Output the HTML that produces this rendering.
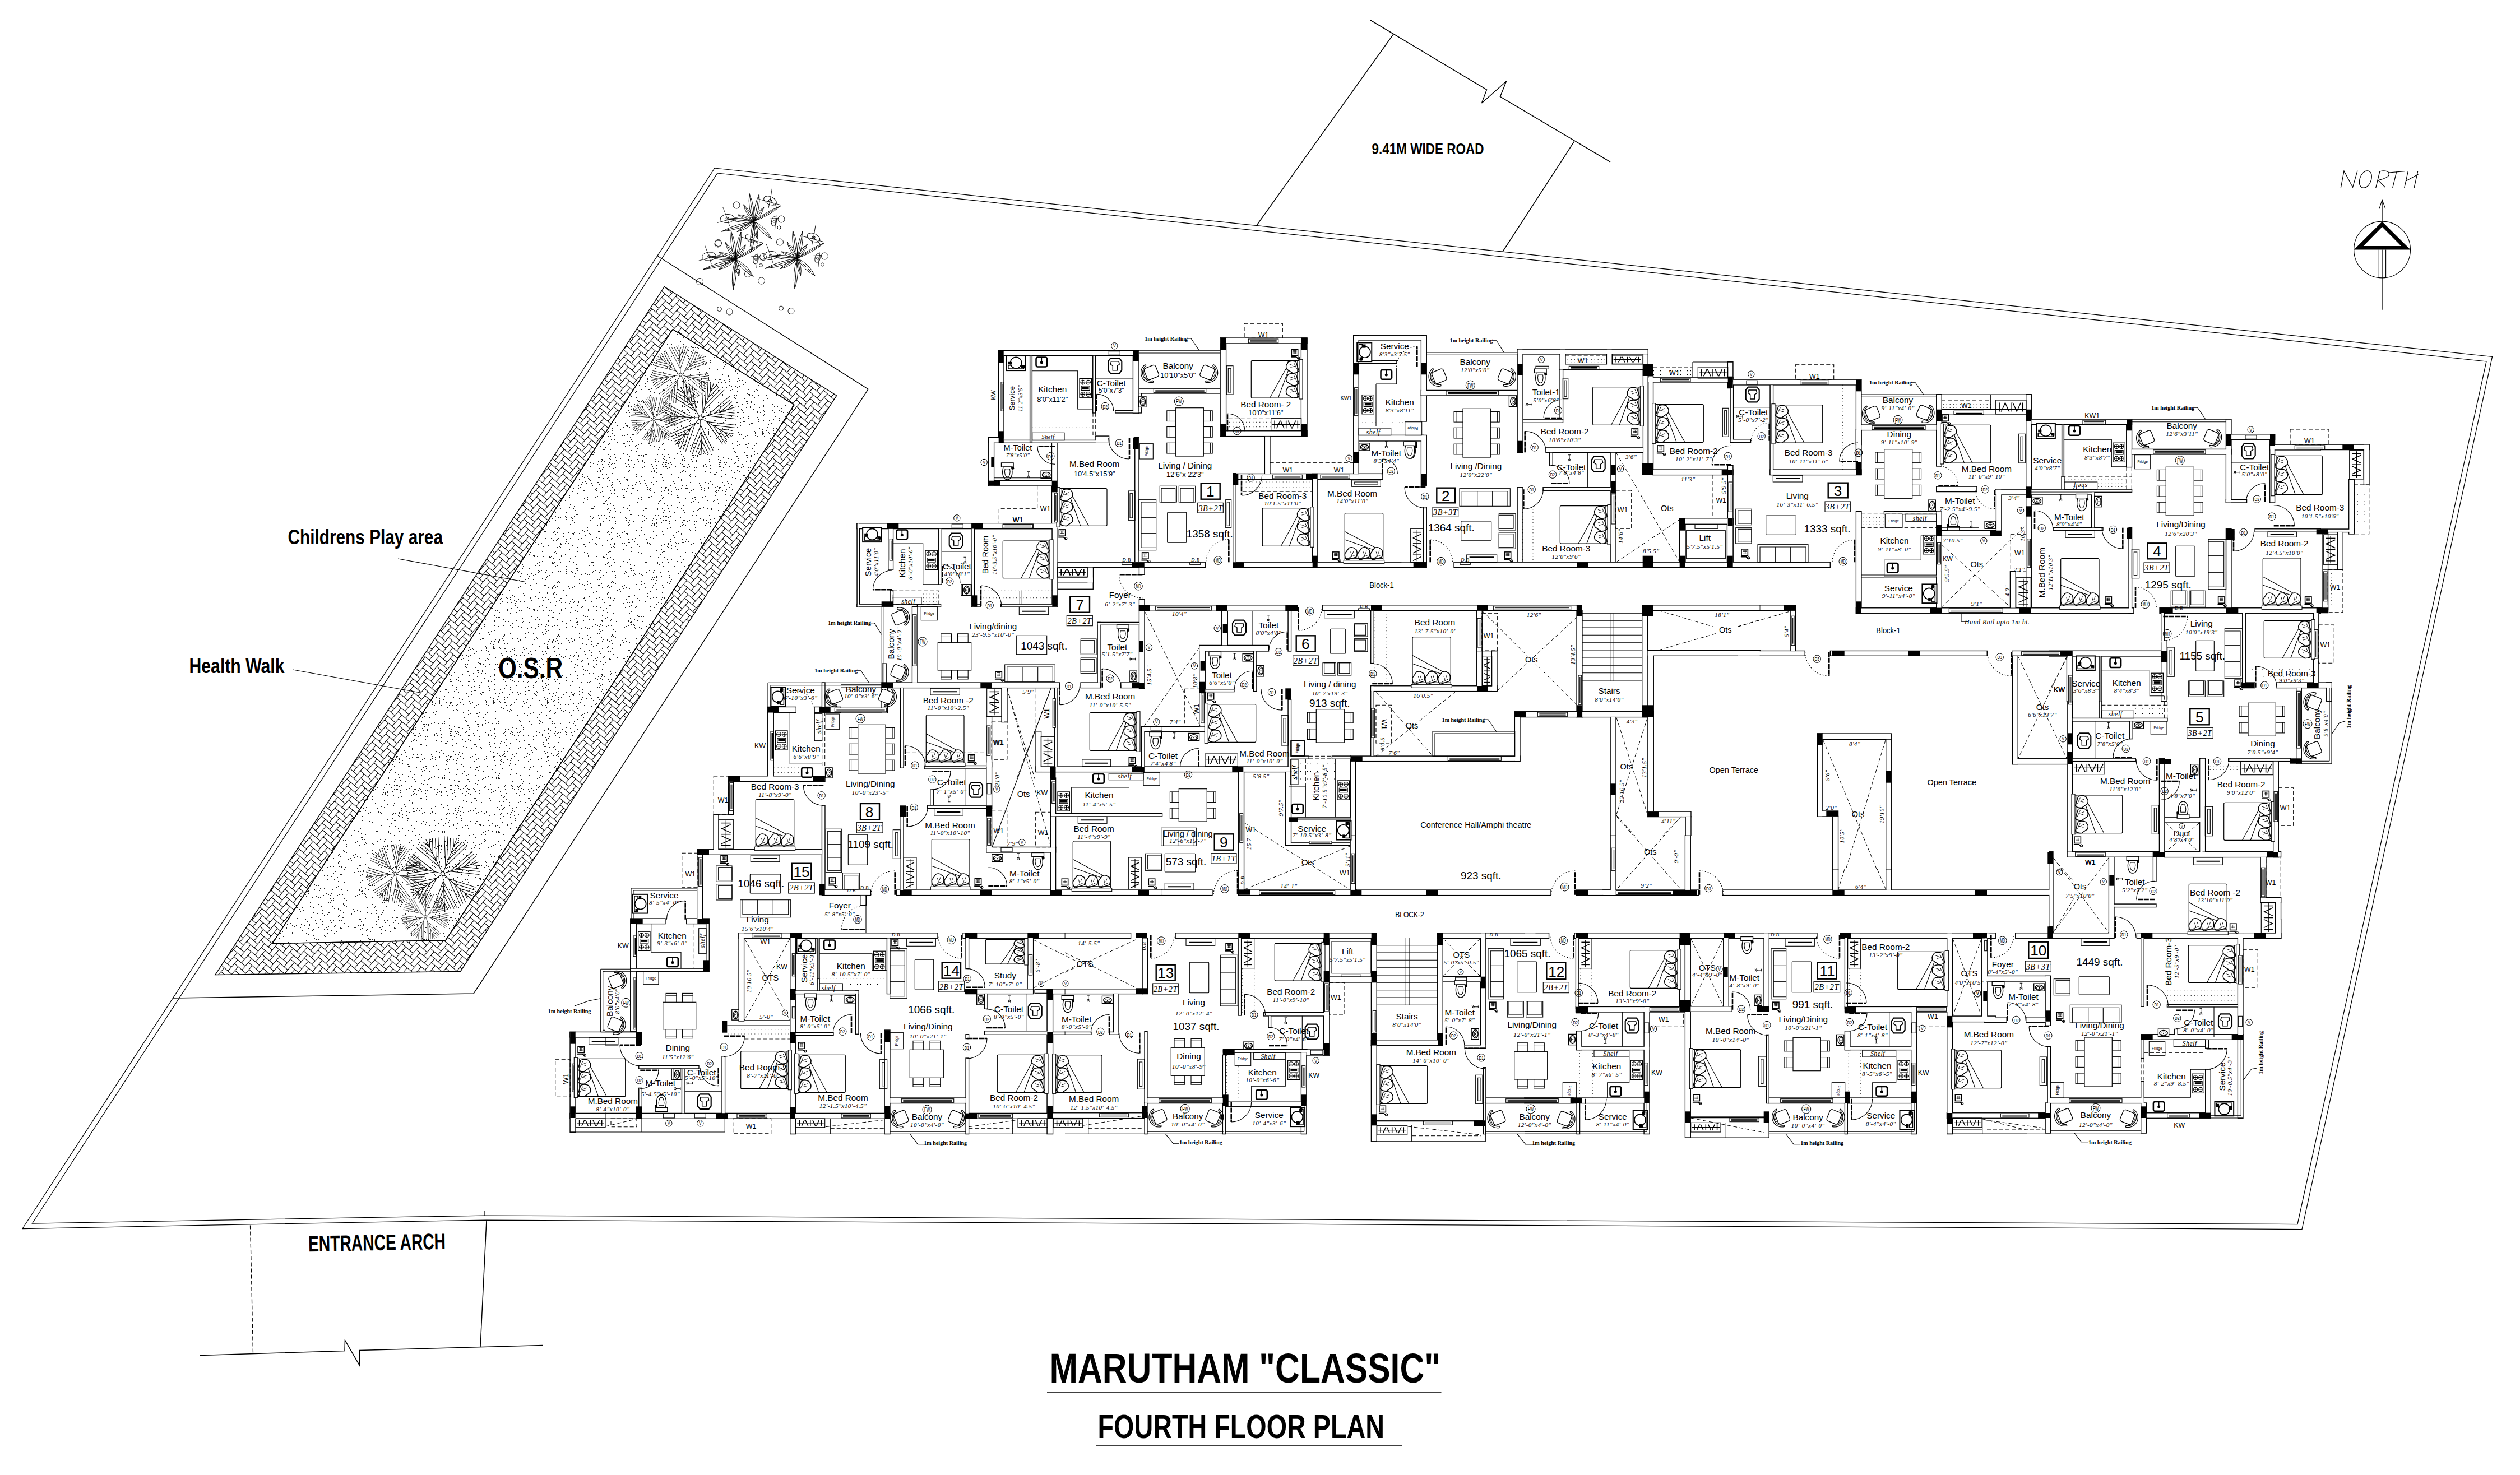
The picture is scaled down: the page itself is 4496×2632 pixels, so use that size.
<!DOCTYPE html><html><head><meta charset="utf-8"><title>Marutham Classic - Fourth Floor Plan</title><style>html,body{margin:0;padding:0;background:#fff}svg{display:block}text{font-family:"Liberation Sans",sans-serif;fill:#000}.i{font-family:"Liberation Serif",serif;font-style:italic}.b{font-weight:bold}.bi{font-family:"Liberation Serif",serif;font-weight:bold}</style></head><body>
<svg xmlns="http://www.w3.org/2000/svg" width="4496" height="2632" viewBox="0 0 4496 2632">
<defs>
<symbol id="bch" overflow="visible"><g transform="rotate(-22)"><rect x="-9" y="-10" width="20" height="20" rx="3.5" fill="#fff" stroke="#000" stroke-width="1.2"/></g><path d="M3.5,13.0 A13.5,13.5 0 0 1 -7.7,-11.1 M4.1,15.5 A16.0,16.0 0 0 1 -9.2,-13.1 M3.5,13.0L4.1,15.5 M-7.7,-11.1L-9.2,-13.1" fill="none" stroke="#000" stroke-width="1.1"/><path d="M0.0,11.5 A11.5,11.5 0 0 1 -8.8,-7.4" fill="none" stroke="#000" stroke-width="0.8"/></symbol>
<symbol id="wc" overflow="visible"><rect x="-9" y="-14" width="18" height="6" fill="#fff" stroke="#000" stroke-width="1.1"/><path d="M-6,-8 C-9,2 -6,11 0,11 C6,11 9,2 6,-8 Z" fill="#fff" stroke="#000" stroke-width="1.1"/><path d="M-3.5,-5 C-5,1 -3,7 0,7 C3,7 5,1 3.5,-5 Z" fill="none" stroke="#000" stroke-width="0.9"/><circle cx="8" cy="-6" r="2" fill="#000"/></symbol>
<symbol id="iwc" overflow="visible"><path d="M-6,-10 H6 L9,-6 V6 L6,10 H-6 L-9,6 V-6 Z" fill="#fff" stroke="#000" stroke-width="1.6"/><path d="M-5,-6 H5 L6,-2 L3,0 V6 H-3 V0 L-6,-2 Z" fill="none" stroke="#000" stroke-width="1.1"/></symbol>
<symbol id="sink" overflow="visible"><rect x="-7" y="-6" width="14" height="12" rx="2" fill="#fff" stroke="#000" stroke-width="1.8"/><circle cx="0" cy="0.5" r="1.8" fill="#000"/><path d="M0,-6 V0" stroke="#000" stroke-width="1.2"/></symbol>
<symbol id="basin" overflow="visible"><rect x="-5.5" y="-8" width="11" height="16" fill="#fff" stroke="#000" stroke-width="1.1"/><ellipse cx="0.5" cy="0" rx="4" ry="6" fill="#fff" stroke="#000" stroke-width="1.3"/><ellipse cx="1" cy="0" rx="2.2" ry="4" fill="none" stroke="#000" stroke-width="0.8"/><circle cx="1" cy="0" r="0.9" fill="#000"/></symbol>
<symbol id="stove" overflow="visible"><rect x="-10" y="-16" width="20" height="32" fill="#fff" stroke="#000" stroke-width="1.2"/><rect x="-7" y="-3.5" width="14" height="7" fill="#fff" stroke="#000" stroke-width="1"/><rect x="-5.5" y="-2" width="11" height="3.5" fill="#000"/><g fill="none" stroke="#000" stroke-width="1"><circle cx="-4.5" cy="-10" r="3.6"/><circle cx="4.5" cy="-10" r="3.6"/><circle cx="-4.5" cy="10" r="3.6"/><circle cx="4.5" cy="10" r="3.6"/><path d="M-8.5,-10 h8 M0.5,-10 h8 M-4.5,-14 v8 M4.5,-14 v8 M-8.5,10 h8 M0.5,10 h8 M-4.5,6 v8 M4.5,6 v8"/></g></symbol>
<symbol id="wm" overflow="visible"><rect x="-11" y="-8" width="22" height="17" fill="#fff" stroke="#000" stroke-width="1.3"/><rect x="-9" y="3" width="18" height="4" fill="#fff" stroke="#000" stroke-width="1"/><circle cx="0" cy="0" r="6.5" fill="#fff" stroke="#000" stroke-width="1.1"/><rect x="-9" y="-1" width="4" height="3" fill="#000"/><rect x="6" y="3" width="4" height="3" fill="#000"/></symbol>
<symbol id="tel" overflow="visible"><rect x="-5" y="-6" width="10" height="10" fill="#fff" stroke="#000" stroke-width="1.4"/><path d="M-3,-4 h6 M-3,-2 h6 M-3,0 h6 M-1,-4 v5 M1,-4 v5" stroke="#000" stroke-width="0.7"/><path d="M-6,6 h8 l4,3" fill="none" stroke="#000" stroke-width="1.6"/><circle cx="6" cy="8" r="1.8" fill="none" stroke="#000" stroke-width="1"/></symbol>
<symbol id="tap" overflow="visible"><path d="M0,-5 v7 M-2,-5 h4 M-2,3 l2,-2 l2,2 M-2,5 l2,-2 l2,2" fill="none" stroke="#000" stroke-width="0.9"/></symbol>
<symbol id="tv" overflow="visible"><rect x="-17" y="-3.5" width="34" height="7" fill="#fff" stroke="#000" stroke-width="1.1"/><path d="M-13,0 h26" stroke="#000" stroke-width="2"/></symbol>
<pattern id="hb" width="4" height="4" patternUnits="userSpaceOnUse" patternTransform="translate(1185 512) rotate(40) scale(7.4)"><g fill="#fff" stroke="#000" stroke-width="0.13"><rect x="-14" y="2" width="2" height="1"/><rect x="-14" y="3" width="1" height="2"/><rect x="-12" y="0" width="2" height="1"/><rect x="-12" y="1" width="1" height="2"/><rect x="-10" y="-2" width="2" height="1"/><rect x="-10" y="-1" width="1" height="2"/><rect x="-8" y="-4" width="2" height="1"/><rect x="-8" y="-3" width="1" height="2"/><rect x="-6" y="-6" width="2" height="1"/><rect x="-6" y="-5" width="1" height="2"/><rect x="-4" y="-8" width="2" height="1"/><rect x="-4" y="-7" width="1" height="2"/><rect x="-2" y="-10" width="2" height="1"/><rect x="-2" y="-9" width="1" height="2"/><rect x="0" y="-12" width="2" height="1"/><rect x="0" y="-11" width="1" height="2"/><rect x="2" y="-14" width="2" height="1"/><rect x="2" y="-13" width="1" height="2"/><rect x="-13" y="3" width="2" height="1"/><rect x="-13" y="4" width="1" height="2"/><rect x="-11" y="1" width="2" height="1"/><rect x="-11" y="2" width="1" height="2"/><rect x="-9" y="-1" width="2" height="1"/><rect x="-9" y="0" width="1" height="2"/><rect x="-7" y="-3" width="2" height="1"/><rect x="-7" y="-2" width="1" height="2"/><rect x="-5" y="-5" width="2" height="1"/><rect x="-5" y="-4" width="1" height="2"/><rect x="-3" y="-7" width="2" height="1"/><rect x="-3" y="-6" width="1" height="2"/><rect x="-1" y="-9" width="2" height="1"/><rect x="-1" y="-8" width="1" height="2"/><rect x="1" y="-11" width="2" height="1"/><rect x="1" y="-10" width="1" height="2"/><rect x="3" y="-13" width="2" height="1"/><rect x="3" y="-12" width="1" height="2"/><rect x="-12" y="4" width="2" height="1"/><rect x="-12" y="5" width="1" height="2"/><rect x="-10" y="2" width="2" height="1"/><rect x="-10" y="3" width="1" height="2"/><rect x="-8" y="0" width="2" height="1"/><rect x="-8" y="1" width="1" height="2"/><rect x="-6" y="-2" width="2" height="1"/><rect x="-6" y="-1" width="1" height="2"/><rect x="-4" y="-4" width="2" height="1"/><rect x="-4" y="-3" width="1" height="2"/><rect x="-2" y="-6" width="2" height="1"/><rect x="-2" y="-5" width="1" height="2"/><rect x="0" y="-8" width="2" height="1"/><rect x="0" y="-7" width="1" height="2"/><rect x="2" y="-10" width="2" height="1"/><rect x="2" y="-9" width="1" height="2"/><rect x="4" y="-12" width="2" height="1"/><rect x="4" y="-11" width="1" height="2"/><rect x="-11" y="5" width="2" height="1"/><rect x="-11" y="6" width="1" height="2"/><rect x="-9" y="3" width="2" height="1"/><rect x="-9" y="4" width="1" height="2"/><rect x="-7" y="1" width="2" height="1"/><rect x="-7" y="2" width="1" height="2"/><rect x="-5" y="-1" width="2" height="1"/><rect x="-5" y="0" width="1" height="2"/><rect x="-3" y="-3" width="2" height="1"/><rect x="-3" y="-2" width="1" height="2"/><rect x="-1" y="-5" width="2" height="1"/><rect x="-1" y="-4" width="1" height="2"/><rect x="1" y="-7" width="2" height="1"/><rect x="1" y="-6" width="1" height="2"/><rect x="3" y="-9" width="2" height="1"/><rect x="3" y="-8" width="1" height="2"/><rect x="5" y="-11" width="2" height="1"/><rect x="5" y="-10" width="1" height="2"/><rect x="-10" y="6" width="2" height="1"/><rect x="-10" y="7" width="1" height="2"/><rect x="-8" y="4" width="2" height="1"/><rect x="-8" y="5" width="1" height="2"/><rect x="-6" y="2" width="2" height="1"/><rect x="-6" y="3" width="1" height="2"/><rect x="-4" y="0" width="2" height="1"/><rect x="-4" y="1" width="1" height="2"/><rect x="-2" y="-2" width="2" height="1"/><rect x="-2" y="-1" width="1" height="2"/><rect x="0" y="-4" width="2" height="1"/><rect x="0" y="-3" width="1" height="2"/><rect x="2" y="-6" width="2" height="1"/><rect x="2" y="-5" width="1" height="2"/><rect x="4" y="-8" width="2" height="1"/><rect x="4" y="-7" width="1" height="2"/><rect x="6" y="-10" width="2" height="1"/><rect x="6" y="-9" width="1" height="2"/><rect x="-9" y="7" width="2" height="1"/><rect x="-9" y="8" width="1" height="2"/><rect x="-7" y="5" width="2" height="1"/><rect x="-7" y="6" width="1" height="2"/><rect x="-5" y="3" width="2" height="1"/><rect x="-5" y="4" width="1" height="2"/><rect x="-3" y="1" width="2" height="1"/><rect x="-3" y="2" width="1" height="2"/><rect x="-1" y="-1" width="2" height="1"/><rect x="-1" y="0" width="1" height="2"/><rect x="1" y="-3" width="2" height="1"/><rect x="1" y="-2" width="1" height="2"/><rect x="3" y="-5" width="2" height="1"/><rect x="3" y="-4" width="1" height="2"/><rect x="5" y="-7" width="2" height="1"/><rect x="5" y="-6" width="1" height="2"/><rect x="7" y="-9" width="2" height="1"/><rect x="7" y="-8" width="1" height="2"/><rect x="-8" y="8" width="2" height="1"/><rect x="-8" y="9" width="1" height="2"/><rect x="-6" y="6" width="2" height="1"/><rect x="-6" y="7" width="1" height="2"/><rect x="-4" y="4" width="2" height="1"/><rect x="-4" y="5" width="1" height="2"/><rect x="-2" y="2" width="2" height="1"/><rect x="-2" y="3" width="1" height="2"/><rect x="0" y="0" width="2" height="1"/><rect x="0" y="1" width="1" height="2"/><rect x="2" y="-2" width="2" height="1"/><rect x="2" y="-1" width="1" height="2"/><rect x="4" y="-4" width="2" height="1"/><rect x="4" y="-3" width="1" height="2"/><rect x="6" y="-6" width="2" height="1"/><rect x="6" y="-5" width="1" height="2"/><rect x="8" y="-8" width="2" height="1"/><rect x="8" y="-7" width="1" height="2"/><rect x="-7" y="9" width="2" height="1"/><rect x="-7" y="10" width="1" height="2"/><rect x="-5" y="7" width="2" height="1"/><rect x="-5" y="8" width="1" height="2"/><rect x="-3" y="5" width="2" height="1"/><rect x="-3" y="6" width="1" height="2"/><rect x="-1" y="3" width="2" height="1"/><rect x="-1" y="4" width="1" height="2"/><rect x="1" y="1" width="2" height="1"/><rect x="1" y="2" width="1" height="2"/><rect x="3" y="-1" width="2" height="1"/><rect x="3" y="0" width="1" height="2"/><rect x="5" y="-3" width="2" height="1"/><rect x="5" y="-2" width="1" height="2"/><rect x="7" y="-5" width="2" height="1"/><rect x="7" y="-4" width="1" height="2"/><rect x="9" y="-7" width="2" height="1"/><rect x="9" y="-6" width="1" height="2"/><rect x="-6" y="10" width="2" height="1"/><rect x="-6" y="11" width="1" height="2"/><rect x="-4" y="8" width="2" height="1"/><rect x="-4" y="9" width="1" height="2"/><rect x="-2" y="6" width="2" height="1"/><rect x="-2" y="7" width="1" height="2"/><rect x="0" y="4" width="2" height="1"/><rect x="0" y="5" width="1" height="2"/><rect x="2" y="2" width="2" height="1"/><rect x="2" y="3" width="1" height="2"/><rect x="4" y="0" width="2" height="1"/><rect x="4" y="1" width="1" height="2"/><rect x="6" y="-2" width="2" height="1"/><rect x="6" y="-1" width="1" height="2"/><rect x="8" y="-4" width="2" height="1"/><rect x="8" y="-3" width="1" height="2"/><rect x="10" y="-6" width="2" height="1"/><rect x="10" y="-5" width="1" height="2"/><rect x="-5" y="11" width="2" height="1"/><rect x="-5" y="12" width="1" height="2"/><rect x="-3" y="9" width="2" height="1"/><rect x="-3" y="10" width="1" height="2"/><rect x="-1" y="7" width="2" height="1"/><rect x="-1" y="8" width="1" height="2"/><rect x="1" y="5" width="2" height="1"/><rect x="1" y="6" width="1" height="2"/><rect x="3" y="3" width="2" height="1"/><rect x="3" y="4" width="1" height="2"/><rect x="5" y="1" width="2" height="1"/><rect x="5" y="2" width="1" height="2"/><rect x="7" y="-1" width="2" height="1"/><rect x="7" y="0" width="1" height="2"/><rect x="9" y="-3" width="2" height="1"/><rect x="9" y="-2" width="1" height="2"/><rect x="11" y="-5" width="2" height="1"/><rect x="11" y="-4" width="1" height="2"/><rect x="-4" y="12" width="2" height="1"/><rect x="-4" y="13" width="1" height="2"/><rect x="-2" y="10" width="2" height="1"/><rect x="-2" y="11" width="1" height="2"/><rect x="0" y="8" width="2" height="1"/><rect x="0" y="9" width="1" height="2"/><rect x="2" y="6" width="2" height="1"/><rect x="2" y="7" width="1" height="2"/><rect x="4" y="4" width="2" height="1"/><rect x="4" y="5" width="1" height="2"/><rect x="6" y="2" width="2" height="1"/><rect x="6" y="3" width="1" height="2"/><rect x="8" y="0" width="2" height="1"/><rect x="8" y="1" width="1" height="2"/><rect x="10" y="-2" width="2" height="1"/><rect x="10" y="-1" width="1" height="2"/><rect x="12" y="-4" width="2" height="1"/><rect x="12" y="-3" width="1" height="2"/><rect x="-3" y="13" width="2" height="1"/><rect x="-3" y="14" width="1" height="2"/><rect x="-1" y="11" width="2" height="1"/><rect x="-1" y="12" width="1" height="2"/><rect x="1" y="9" width="2" height="1"/><rect x="1" y="10" width="1" height="2"/><rect x="3" y="7" width="2" height="1"/><rect x="3" y="8" width="1" height="2"/><rect x="5" y="5" width="2" height="1"/><rect x="5" y="6" width="1" height="2"/><rect x="7" y="3" width="2" height="1"/><rect x="7" y="4" width="1" height="2"/><rect x="9" y="1" width="2" height="1"/><rect x="9" y="2" width="1" height="2"/><rect x="11" y="-1" width="2" height="1"/><rect x="11" y="0" width="1" height="2"/><rect x="13" y="-3" width="2" height="1"/><rect x="13" y="-2" width="1" height="2"/><rect x="-2" y="14" width="2" height="1"/><rect x="-2" y="15" width="1" height="2"/><rect x="0" y="12" width="2" height="1"/><rect x="0" y="13" width="1" height="2"/><rect x="2" y="10" width="2" height="1"/><rect x="2" y="11" width="1" height="2"/><rect x="4" y="8" width="2" height="1"/><rect x="4" y="9" width="1" height="2"/><rect x="6" y="6" width="2" height="1"/><rect x="6" y="7" width="1" height="2"/><rect x="8" y="4" width="2" height="1"/><rect x="8" y="5" width="1" height="2"/><rect x="10" y="2" width="2" height="1"/><rect x="10" y="3" width="1" height="2"/><rect x="12" y="0" width="2" height="1"/><rect x="12" y="1" width="1" height="2"/><rect x="14" y="-2" width="2" height="1"/><rect x="14" y="-1" width="1" height="2"/></g></pattern><pattern id="dots" width="96" height="96" patternUnits="userSpaceOnUse"><path d="M41,19.5h1M50,83.5h1M6,9.5h1M68,12.5h1M46,74.5h1M7,64.5h1M27,4.5h1M11,55.5h1M53,8.5h1M30,11.5h1M70,54.5h1M7,72.5h1M15,28.5h1M80,80.5h1M74,7.5h1M73,74.5h1M50,6.5h1M28,5.5h1M71,17.5h1M37,53.5h1M18,69.5h1M15,73.5h1M39,71.5h1M87,23.5h1M13,74.5h1M73,81.5h1M24,47.5h1M12,70.5h1M91,8.5h1M72,7.5h1M79,26.5h1M63,87.5h1M68,54.5h1M40,59.5h1M74,58.5h1M46,38.5h1M31,23.5h1M89,31.5h1M10,73.5h1M38,67.5h1M63,43.5h1M93,57.5h1M36,77.5h1M9,15.5h1M65,53.5h1M21,43.5h1M19,62.5h1M53,5.5h1M85,9.5h1M71,73.5h1M40,43.5h1M88,44.5h1M76,63.5h1M74,58.5h1M8,11.5h1M34,60.5h1M89,85.5h1M8,7.5h1M93,89.5h1M39,82.5h1M73,87.5h1M57,36.5h1M91,49.5h1M85,44.5h1M2,59.5h1M45,21.5h1M78,14.5h1M63,7.5h1M27,36.5h1M16,94.5h1M31,50.5h1M50,63.5h1M10,21.5h1M57,51.5h1M70,35.5h1M17,55.5h1M70,35.5h1M90,53.5h1M45,87.5h1M48,29.5h1M19,10.5h1M22,19.5h1M29,84.5h1M29,1.5h1M62,75.5h1M23,33.5h1M36,0.5h1M18,53.5h1M68,47.5h1M78,72.5h1M40,16.5h1M88,65.5h1M79,83.5h1M86,94.5h1M6,58.5h1M87,71.5h1M50,50.5h1M51,50.5h1M13,61.5h1M81,51.5h1M7,24.5h1M8,26.5h1M56,20.5h1M14,43.5h1M76,6.5h1M13,0.5h1M72,19.5h1M68,12.5h1M46,78.5h1M3,9.5h1M26,78.5h1M48,19.5h1M81,32.5h1M44,77.5h1M46,60.5h1M15,14.5h1M62,59.5h1M61,61.5h1M39,10.5h1M18,13.5h1M95,43.5h1M94,33.5h1M61,88.5h1M20,66.5h1M2,26.5h1M67,46.5h1M18,88.5h1M69,3.5h1M67,38.5h1M82,11.5h1M89,33.5h1M66,46.5h1M21,45.5h1M28,68.5h1M69,64.5h1M42,81.5h1M28,78.5h1M24,30.5h1M51,94.5h1M29,25.5h1M66,63.5h1M45,93.5h1M3,3.5h1M35,60.5h1M33,24.5h1M88,77.5h1M44,57.5h1M92,44.5h1M46,10.5h1M28,13.5h1M29,60.5h1M25,43.5h1M26,61.5h1M79,78.5h1M0,61.5h1M83,44.5h1M82,10.5h1M84,15.5h1M49,91.5h1M25,61.5h1M22,55.5h1M81,42.5h1M11,92.5h1M50,59.5h1M51,95.5h1M10,92.5h1M20,21.5h1M16,3.5h1M19,75.5h1M59,83.5h1M18,78.5h1M76,60.5h1M84,44.5h1M19,70.5h1M70,16.5h1M2,1.5h1M92,83.5h1M13,67.5h1M95,17.5h1M55,24.5h1M27,3.5h1M32,27.5h1M37,64.5h1M30,75.5h1M41,33.5h1M69,53.5h1M16,7.5h1M94,45.5h1M58,84.5h1M74,66.5h1M53,64.5h1M16,68.5h1M19,67.5h1M65,2.5h1M56,23.5h1M77,0.5h1M19,22.5h1M18,60.5h1M79,92.5h1M15,71.5h1M7,41.5h1M87,66.5h1M67,71.5h1M61,13.5h1M71,7.5h1M31,24.5h1M35,5.5h1M12,64.5h1M57,71.5h1M3,8.5h1M56,41.5h1M78,64.5h1M77,65.5h1M25,88.5h1M35,57.5h1M65,68.5h1M61,64.5h1M31,89.5h1M66,33.5h1M71,25.5h1M57,17.5h1M53,15.5h1M50,56.5h1M40,9.5h1M85,30.5h1M54,9.5h1M27,85.5h1M38,15.5h1M19,91.5h1M82,84.5h1M46,18.5h1M32,17.5h1M59,28.5h1M95,12.5h1M50,62.5h1M20,85.5h1M28,20.5h1M90,55.5h1M65,51.5h1M43,53.5h1M25,45.5h1M40,11.5h1M92,46.5h1M2,43.5h1M70,58.5h1M56,90.5h1M2,49.5h1M42,66.5h1M79,37.5h1M65,8.5h1M14,29.5h1M13,10.5h1M33,34.5h1M5,23.5h1M34,16.5h1M54,86.5h1M33,51.5h1M19,68.5h1M65,73.5h1M63,89.5h1M41,11.5h1M35,7.5h1M88,23.5h1M54,9.5h1M34,2.5h1M81,11.5h1M33,10.5h1M77,28.5h1M8,33.5h1M15,58.5h1M1,43.5h1M70,53.5h1M34,79.5h1M16,5.5h1M67,90.5h1M30,14.5h1M20,33.5h1M6,23.5h1M25,39.5h1M80,39.5h1M67,26.5h1M37,57.5h1M64,86.5h1M22,34.5h1M44,2.5h1M32,4.5h1M1,2.5h1M93,64.5h1M70,24.5h1M65,60.5h1M31,57.5h1M13,84.5h1M83,55.5h1M84,63.5h1M69,50.5h1M64,39.5h1M88,27.5h1M29,43.5h1M25,90.5h1M93,81.5h1M17,51.5h1M44,6.5h1M16,1.5h1M9,80.5h1M94,32.5h1M55,20.5h1M7,10.5h1M85,48.5h1M64,85.5h1M36,76.5h1M31,88.5h1M37,5.5h1M58,23.5h1M20,34.5h1M57,0.5h1M33,46.5h1M42,70.5h1M41,31.5h1M4,39.5h1M27,45.5h1M23,0.5h1M42,48.5h1M10,60.5h1M35,64.5h1M83,25.5h1M31,64.5h1M0,11.5h1M33,11.5h1M18,51.5h1M75,5.5h1M50,2.5h1M38,38.5h1M80,29.5h1M10,74.5h1M67,19.5h1M84,91.5h1M76,49.5h1M41,92.5h1M63,19.5h1M36,92.5h1M79,82.5h1M18,5.5h1M91,65.5h1M80,54.5h1M93,89.5h1M64,17.5h1M67,64.5h1M72,2.5h1M87,74.5h1M91,87.5h1M88,82.5h1M29,10.5h1M3,5.5h1M17,81.5h1M46,13.5h1M48,57.5h1M71,6.5h1M80,2.5h1M80,68.5h1M87,31.5h1M62,33.5h1M0,58.5h1M8,95.5h1M64,68.5h1M11,84.5h1M67,8.5h1M95,94.5h1M60,32.5h1M9,33.5h1M30,93.5h1M26,29.5h1M94,83.5h1M58,63.5h1M48,9.5h1M61,87.5h1M36,5.5h1M78,80.5h1M82,25.5h1M9,76.5h1M18,42.5h1M32,83.5h1M95,88.5h1M38,79.5h1M72,17.5h1M1,61.5h1M7,62.5h1M34,86.5h1M12,88.5h1M27,86.5h1M62,37.5h1M90,66.5h1M36,59.5h1M59,59.5h1M15,70.5h1M25,39.5h1M10,60.5h1M2,37.5h1M58,9.5h1M64,57.5h1M34,49.5h1" stroke="#222" stroke-width="1" fill="none" shape-rendering="crispEdges"/></pattern><symbol id="pine1" overflow="visible"><path d="M0,0L-5.8,-99.8M-1.2,-20.0L-38.1,-91.3M-2.3,-38.9L-30.5,-93.5M-3.4,-57.9L-21.2,-92.4M-4.5,-76.9L-14.1,-95.4M-1.2,-20.0L26.2,-92.5M-2.3,-38.9L19.1,-95.7M-3.4,-57.9L11.7,-97.8M-4.5,-76.9L1.8,-93.6M0,0L73.3,-68.1M14.7,-13.6L46.1,-87.4M28.6,-26.5L51.8,-80.9M42.5,-39.5L59.2,-78.5M56.4,-52.4L63.2,-68.3M14.7,-13.6L88.0,-38.7M28.6,-26.5L86.4,-46.3M42.5,-39.5L79.0,-52.0M56.4,-52.4L79.3,-60.3M0,0L95.9,28.5M19.2,5.7L93.1,-4.0M37.4,11.1L93.1,3.8M55.6,16.5L96.1,11.2M73.8,21.9L97.8,18.8M19.2,5.7L77.7,55.8M37.4,11.1L81.1,48.5M55.6,16.5L86.0,42.5M73.8,21.9L87.1,33.3M0,0L47.4,88.1M9.5,17.6L70.7,65.0M18.5,34.3L65.5,70.8M27.5,51.1L58.0,74.7M36.5,67.8L51.4,79.4M9.5,17.6L15.1,93.3M18.5,34.3L22.9,93.5M27.5,51.1L30.4,90.0M36.5,67.8L37.8,85.2M0,0L-48.2,87.6M-9.6,17.5L-16.2,95.5M-18.8,34.2L-23.9,94.5M-27.9,50.8L-31.2,89.0M-37.1,67.5L-39.2,92.0M-9.6,17.5L-73.7,66.1M-18.8,34.2L-64.1,68.5M-27.9,50.8L-59.3,74.6M-37.1,67.5L-55.1,81.1M0,0L-98.2,18.9M-19.6,3.8L-86.0,50.1M-38.3,7.4L-86.7,41.2M-56.9,11.0L-92.2,35.6M-75.6,14.6L-93.8,27.3M-19.6,3.8L-94.2,-13.5M-38.3,7.4L-96.9,-6.2M-56.9,11.0L-99.2,1.2M-75.6,14.6L-98.5,9.3M0,0L-78.1,-62.4M-15.6,-12.5L-91.6,-32.3M-30.5,-24.3L-84.9,-38.5M-45.3,-36.2L-82.8,-46.0M-60.2,-48.1L-82.5,-53.9M-15.6,-12.5L-51.2,-81.1M-30.5,-24.3L-56.8,-75.2M-45.3,-36.2L-64.1,-72.6M-60.2,-48.1L-70.5,-68.0" fill="none" stroke="#000" stroke-width="1.55"/><circle r="5" fill="#fff" stroke="#000" stroke-width="1.5"/></symbol><symbol id="pine2" overflow="visible"><path d="M0,0L2.0,-100.0M0.4,-20.0L-30.5,-93.3M0.8,-39.0L-23.2,-95.8M1.1,-58.0L-15.9,-98.3M1.5,-77.0L-7.3,-97.9M0.4,-20.0L34.7,-93.2M0.8,-39.0L24.6,-89.9M1.1,-58.0L18.3,-94.5M1.5,-77.0L11.8,-98.9M0,0L79.6,-60.5M15.9,-12.1L54.8,-82.8M31.1,-23.6L58.4,-73.4M46.2,-35.1L65.6,-70.4M61.3,-46.6L70.5,-63.3M15.9,-12.1L92.1,-30.0M31.1,-23.6L89.6,-37.3M46.2,-35.1L82.3,-43.5M61.3,-46.6L79.7,-50.9M0,0L98.2,18.8M19.6,3.8L98.3,-14.6M38.3,7.3L98.1,-6.7M57.0,10.9L94.1,2.2M75.6,14.5L98.1,9.2M19.6,3.8L81.5,46.8M38.3,7.3L87.9,41.8M57.0,10.9L88.1,32.5M75.6,14.5L89.8,24.3M0,0L38.0,92.5M7.6,18.5L62.4,70.9M14.8,36.1L56.4,75.8M22.0,53.7L53.9,84.1M29.2,71.2L46.4,87.6M7.6,18.5L5.3,94.9M14.8,36.1L13.0,98.9M22.0,53.7L20.8,94.5M29.2,71.2L28.6,93.5M0,0L-39.1,92.0M-7.8,18.4L-6.4,99.4M-15.2,35.9L-14.2,96.8M-22.7,53.4L-21.9,97.3M-30.1,70.9L-29.7,94.7M-7.8,18.4L-63.8,70.6M-15.2,35.9L-58.1,75.8M-22.7,53.4L-50.6,79.4M-30.1,70.9L-43.5,83.4M0,0L-95.7,29.0M-19.1,5.8L-77.0,55.8M-37.3,11.3L-82.9,50.7M-55.5,16.8L-83.5,41.0M-73.7,22.3L-90.5,36.9M-19.1,5.8L-95.3,-3.8M-37.3,11.3L-95.1,4.0M-55.5,16.8L-98.1,11.5M-73.7,22.3L-94.3,19.7M0,0L-80.0,-60.0M-16.0,-12.0L-91.8,-29.3M-31.2,-23.4L-90.7,-37.0M-46.4,-34.8L-82.8,-43.1M-61.6,-46.2L-85.4,-51.7M-16.0,-12.0L-52.3,-77.1M-31.2,-23.4L-61.0,-77.0M-46.4,-34.8L-67.4,-72.4M-61.6,-46.2L-70.0,-61.4" fill="none" stroke="#000" stroke-width="1.55"/><circle r="5" fill="#fff" stroke="#000" stroke-width="1.5"/></symbol><symbol id="palm" overflow="visible"><path d="M0,0Q4,-53 -16,-99Q-23,-46 0,0M0,0Q-9,-49 -16,-99M0,0Q24,-44 19,-97Q-3,-52 0,0M0,0Q11,-48 19,-97M0,0Q27,-17 36,-51Q9,-33 0,0M0,0Q18,-25 36,-51M0,0Q53,-19 97,-56Q45,-35 0,0M0,0Q49,-27 97,-56M0,0Q23,42 63,62Q41,18 0,0M0,0Q32,30 63,62M0,0Q-5,34 12,61Q18,27 0,0M0,0Q7,30 12,61M0,0Q-19,51 -9,109Q8,57 0,0M0,0Q-6,54 -9,109M0,0Q-37,10 -60,37Q-22,29 0,0M0,0Q-29,19 -60,37M0,0Q-62,8 -115,36Q-50,31 0,0M0,0Q-56,20 -115,36M0,0Q-47,-16 -92,-9Q-46,10 0,0M0,0Q-46,-3 -92,-9M0,0Q-22,-23 -58,-24Q-34,-2 0,0M0,0Q-28,-13 -58,-24M0,0Q-10,-37 -37,-60Q-28,-22 0,0M0,0Q-19,-30 -37,-60" fill="none" stroke="#000" stroke-width="1.9"/><circle cx="-62" cy="-58" r="12" fill="none" stroke="#000" stroke-width="1.8"/><circle cx="-128" cy="80" r="12" fill="none" stroke="#000" stroke-width="1.8"/><circle cx="-58" cy="178" r="8" fill="none" stroke="#000" stroke-width="1.8"/><circle cx="-22" cy="188" r="11" fill="none" stroke="#000" stroke-width="1.8"/><circle cx="98" cy="-8" r="12" fill="none" stroke="#000" stroke-width="1.8"/><circle cx="90" cy="22" r="6" fill="none" stroke="#000" stroke-width="1.8"/><g transform="translate(58 -74) rotate(25)"><ellipse rx="24" ry="14" fill="none" stroke="#000" stroke-width="1.8"/><circle r="5" fill="#fff" stroke="#000" stroke-width="1.8"/><path d="M-38,12L42,-2M-12,-42L0,0M0,0L6,28M0,0L30,10" stroke="#000" stroke-width="1.6" fill="none"/></g><g transform="translate(-95 -10) rotate(-5)"><ellipse rx="25" ry="15" fill="none" stroke="#000" stroke-width="1.8"/><circle r="5" fill="#fff" stroke="#000" stroke-width="1.8"/><path d="M-38,12L42,-2M-12,-42L0,0M0,0L6,28M0,0L30,10" stroke="#000" stroke-width="1.6" fill="none"/></g><g transform="translate(72 0) rotate(10)"><ellipse rx="9" ry="17" fill="none" stroke="#000" stroke-width="1.8"/><circle r="4" fill="none" stroke="#000" stroke-width="1.6"/><path d="M-18,-6L14,-14M4,-22L8,30" stroke="#000" stroke-width="1.5"/></g></symbol></defs>
<rect width="4496" height="2632" fill="#fff"/>
<g id="site"><polygon points="1275,300 4446.5,636.5 4107,2193.5 867.5,2177 40,2192.5" fill="none" stroke="#000" stroke-width="1.25"/><polygon points="1280,309 4436,645 4099,2184.5 864,2169 57.5,2183" fill="none" stroke="#000" stroke-width="1.25"/><polyline points="864,2161 864,2169" fill="none" stroke="#000" stroke-width="1.3"/><polyline points="1173.5,457 1549,694.5 845,1773 308.5,1781" fill="none" stroke="#000" stroke-width="1.4"/><clipPath id="hbc"><path clip-rule="evenodd" d="M1185.3,511.7L1492.6,706L821.5,1733.5L384,1739.5ZM1200.3,587.6L1417,722.4L795,1678L486,1683.5Z"/></clipPath><path clip-path="url(#hbc)" d="M1442.6,673.9l47.0,40.3M1389.8,640.3l94.1,80.6M1337.0,606.7l144.5,123.8M1284.2,573.1l191.5,164.1M1231.4,539.5l238.5,204.5M1178.6,505.9l285.6,244.8M1179.5,518.4l282.2,241.9M1153.6,507.9l218.4,187.2M1395.5,715.2l60.5,51.8M1154.6,520.3l168.0,144.0M1396.5,727.7l53.8,46.1M1155.5,532.8l117.6,100.8M1397.4,740.2l47.0,40.3M1156.5,545.3l67.2,57.6M1371.5,729.6l70.6,60.5M1130.6,534.7l67.2,57.6M1372.5,742.1l63.8,54.7M1131.5,547.2l63.8,54.7M1373.4,754.6l57.1,49.0M1132.5,559.7l57.1,49.0M1374.4,767.0l50.4,43.2M1133.5,572.2l50.4,43.2M1375.4,779.5l47.0,40.3M1134.4,584.7l43.7,37.4M1349.5,769.0l67.2,57.6M1108.5,574.1l67.2,57.6M1350.4,781.4l60.5,51.8M1109.5,586.6l60.5,51.8M1351.4,793.9l53.8,46.1M1110.4,599.1l53.8,46.1M1352.3,806.4l50.4,43.2M1111.4,611.5l47.0,40.3M1353.3,818.9l43.7,37.4M1085.5,601.0l70.6,60.5M1327.4,808.3l63.8,54.7M1086.4,613.5l63.8,54.7M1328.3,820.8l60.5,51.8M1087.4,625.9l57.1,49.0M1329.3,833.3l53.8,46.1M1088.4,638.4l53.8,46.1M1330.3,845.7l47.0,40.3M1089.3,650.9l47.0,40.3M1304.3,835.2l67.2,57.6M1063.4,640.3l67.2,57.6M1305.3,847.7l63.8,54.7M1064.4,652.8l60.5,51.8M1306.3,860.1l57.1,49.0M1065.3,665.3l57.1,49.0M1307.2,872.6l50.4,43.2M1066.3,677.8l50.4,43.2M1308.2,885.1l43.7,37.4M1067.2,690.2l43.7,37.4M1282.3,874.5l67.2,57.6M1041.3,679.7l63.8,54.7M1283.2,887.0l60.5,51.8M1042.3,692.2l60.5,51.8M1284.2,899.5l53.8,46.1M1043.2,704.6l53.8,46.1M1285.1,912.0l47.0,40.3M1044.2,717.1l47.0,40.3M1259.2,901.4l70.6,60.5M1018.3,706.6l67.2,57.6M1260.2,913.9l63.8,54.7M1019.2,719.0l63.8,54.7M1261.1,926.4l57.1,49.0M1020.2,731.5l57.1,49.0M1262.1,938.9l50.4,43.2M1021.2,744.0l50.4,43.2M1263.1,951.3l47.0,40.3M1022.1,756.5l47.0,40.3M1237.1,940.8l67.2,57.6M996.2,745.9l67.2,57.6M1238.1,953.3l60.5,51.8M997.2,758.4l60.5,51.8M1239.1,965.7l57.1,49.0M998.1,770.9l53.8,46.1M1240.0,978.2l50.4,43.2M999.1,783.4l50.4,43.2M1241.0,990.7l43.7,37.4M973.2,772.8l70.6,60.5M1215.1,980.1l63.8,54.7M974.1,785.3l63.8,54.7M1216.0,992.6l60.5,51.8M975.1,797.8l57.1,49.0M1217.0,1005.1l53.8,46.1M976.0,810.2l53.8,46.1M1217.9,1017.6l47.0,40.3M977.0,822.7l47.0,40.3M1192.0,1007.0l67.2,57.6M951.1,812.2l67.2,57.6M1193.0,1019.5l63.8,54.7M952.0,824.6l60.5,51.8M1194.0,1032.0l57.1,49.0M953.0,837.1l57.1,49.0M1194.9,1044.5l50.4,43.2M954.0,849.6l50.4,43.2M1195.9,1056.9l43.7,37.4M954.9,862.1l43.7,37.4M1170.0,1046.4l67.2,57.6M929.0,851.5l63.8,54.7M1170.9,1058.9l60.5,51.8M930.0,864.0l60.5,51.8M1171.9,1071.3l53.8,46.1M930.9,876.5l53.8,46.1M1172.8,1083.8l47.0,40.3M931.9,889.0l47.0,40.3M1146.9,1073.3l70.6,60.5M906.0,878.4l70.6,60.5M1147.9,1085.7l63.8,54.7M906.9,890.9l63.8,54.7M1148.8,1098.2l57.1,49.0M907.9,903.4l57.1,49.0M1149.8,1110.7l50.4,43.2M908.9,915.8l50.4,43.2M1150.8,1123.2l47.0,40.3M909.8,928.3l47.0,40.3M1124.8,1112.6l67.2,57.6M883.9,917.8l67.2,57.6M1125.8,1125.1l60.5,51.8M884.9,930.2l60.5,51.8M1126.8,1137.6l57.1,49.0M885.8,942.7l53.8,46.1M1127.7,1150.0l50.4,43.2M886.8,955.2l50.4,43.2M1128.7,1162.5l43.7,37.4M860.9,944.6l70.6,60.5M1102.8,1152.0l63.8,54.7M861.8,957.1l63.8,54.7M1103.7,1164.4l60.5,51.8M862.8,969.6l57.1,49.0M1104.7,1176.9l53.8,46.1M863.7,982.1l53.8,46.1M1105.6,1189.4l47.0,40.3M864.7,994.5l47.0,40.3M1079.7,1178.8l67.2,57.6M838.8,984.0l67.2,57.6M1080.7,1191.3l63.8,54.7M839.7,996.5l60.5,51.8M1081.6,1203.8l57.1,49.0M840.7,1008.9l57.1,49.0M1082.6,1216.3l50.4,43.2M841.7,1021.4l50.4,43.2M1083.6,1228.8l43.7,37.4M842.6,1033.9l43.7,37.4M1057.6,1218.2l67.2,57.6M816.7,1023.3l67.2,57.6M1058.6,1230.7l60.5,51.8M817.7,1035.8l60.5,51.8M1059.6,1243.2l53.8,46.1M818.6,1048.3l53.8,46.1M1060.5,1255.6l47.0,40.3M819.6,1060.8l47.0,40.3M1061.5,1268.1l43.7,37.4M793.7,1050.2l70.6,60.5M1035.6,1257.6l63.8,54.7M794.6,1062.7l63.8,54.7M1036.5,1270.0l57.1,49.0M795.6,1075.2l57.1,49.0M1037.5,1282.5l50.4,43.2M796.5,1087.7l50.4,43.2M1038.5,1295.0l47.0,40.3M797.5,1100.1l47.0,40.3M1012.5,1284.4l67.2,57.6M771.6,1089.6l67.2,57.6M1013.5,1296.9l60.5,51.8M772.5,1102.1l60.5,51.8M1014.5,1309.4l57.1,49.0M773.5,1114.5l53.8,46.1M1015.4,1321.9l50.4,43.2M774.5,1127.0l50.4,43.2M1016.4,1334.4l43.7,37.4M775.4,1139.5l43.7,37.4M990.5,1323.8l63.8,54.7M749.5,1128.9l63.8,54.7M991.4,1336.3l60.5,51.8M750.5,1141.4l57.1,49.0M992.4,1348.8l53.8,46.1M751.4,1153.9l53.8,46.1M993.3,1361.2l47.0,40.3M752.4,1166.4l47.0,40.3M967.4,1350.7l67.2,57.6M726.5,1155.8l67.2,57.6M968.4,1363.2l63.8,54.7M727.4,1168.3l63.8,54.7M969.3,1375.6l57.1,49.0M728.4,1180.8l57.1,49.0M970.3,1388.1l50.4,43.2M729.4,1193.3l50.4,43.2M971.3,1400.6l43.7,37.4M730.3,1205.7l43.7,37.4M945.3,1390.0l67.2,57.6M704.4,1195.2l67.2,57.6M946.3,1402.5l60.5,51.8M705.4,1207.7l60.5,51.8M947.3,1415.0l53.8,46.1M706.3,1220.1l53.8,46.1M948.2,1427.5l47.0,40.3M707.3,1232.6l47.0,40.3M949.2,1439.9l43.7,37.4M681.4,1222.1l70.6,60.5M923.3,1429.4l63.8,54.7M682.3,1234.5l63.8,54.7M924.2,1441.9l57.1,49.0M683.3,1247.0l57.1,49.0M925.2,1454.3l53.8,46.1M684.2,1259.5l50.4,43.2M926.1,1466.8l47.0,40.3M685.2,1272.0l47.0,40.3M900.2,1456.3l67.2,57.6M659.3,1261.4l67.2,57.6M901.2,1468.7l60.5,51.8M660.2,1273.9l60.5,51.8M902.1,1481.2l57.1,49.0M661.2,1286.4l53.8,46.1M903.1,1493.7l50.4,43.2M662.2,1298.8l50.4,43.2M904.1,1506.2l43.7,37.4M663.1,1311.3l43.7,37.4M878.1,1495.6l63.8,54.7M637.2,1300.8l63.8,54.7M879.1,1508.1l60.5,51.8M638.2,1313.2l60.5,51.8M880.1,1520.6l53.8,46.1M639.1,1325.7l53.8,46.1M881.0,1533.1l47.0,40.3M640.1,1338.2l47.0,40.3M855.1,1522.5l67.2,57.6M614.2,1327.6l67.2,57.6M856.1,1535.0l63.8,54.7M615.1,1340.1l63.8,54.7M857.0,1547.5l57.1,49.0M616.1,1352.6l57.1,49.0M858.0,1559.9l50.4,43.2M617.0,1365.1l50.4,43.2M859.0,1572.4l43.7,37.4M618.0,1377.6l43.7,37.4M833.0,1561.9l67.2,57.6M592.1,1367.0l67.2,57.6M834.0,1574.3l60.5,51.8M593.1,1379.5l60.5,51.8M835.0,1586.8l53.8,46.1M594.0,1392.0l53.8,46.1M835.9,1599.3l47.0,40.3M595.0,1404.4l47.0,40.3M836.9,1611.8l43.7,37.4M569.1,1393.9l70.6,60.5M811.0,1601.2l63.8,54.7M570.0,1406.4l63.8,54.7M811.9,1613.7l57.1,49.0M571.0,1418.8l57.1,49.0M812.9,1626.2l53.8,46.1M571.9,1431.3l50.4,43.2M813.8,1638.7l47.0,40.3M572.9,1443.8l47.0,40.3M787.9,1628.1l67.2,57.6M547.0,1433.2l67.2,57.6M788.9,1640.6l60.5,51.8M547.9,1445.7l60.5,51.8M789.8,1653.1l57.1,49.0M548.9,1458.2l57.1,49.0M790.8,1665.5l50.4,43.2M549.9,1470.7l50.4,43.2M791.8,1678.0l43.7,37.4M550.8,1483.2l43.7,37.4M765.8,1667.4l63.8,54.7M524.9,1472.6l63.8,54.7M739.9,1656.9l87.4,74.9M525.9,1485.1l60.5,51.8M740.9,1669.4l77.3,66.2M526.8,1497.5l53.8,46.1M715.0,1658.8l90.7,77.8M527.8,1510.0l47.0,40.3M715.9,1671.3l73.9,63.4M501.9,1499.5l67.2,57.6M690.0,1660.7l87.4,74.9M502.8,1511.9l63.8,54.7M691.0,1673.2l73.9,63.4M503.8,1524.4l57.1,49.0M665.1,1662.7l84.0,72.0M504.7,1536.9l50.4,43.2M666.0,1675.1l70.6,60.5M505.7,1549.4l43.7,37.4M640.1,1664.6l84.0,72.0M479.8,1538.8l67.2,57.6M641.1,1677.1l70.6,60.5M480.7,1551.3l60.5,51.8M615.1,1666.5l80.6,69.1M481.7,1563.8l53.8,46.1M616.1,1679.0l67.2,57.6M482.7,1576.3l47.0,40.3M590.2,1668.4l80.6,69.1M456.7,1565.7l70.6,60.5M591.1,1680.9l67.2,57.6M457.7,1578.2l63.8,54.7M565.2,1670.3l77.3,66.2M458.7,1590.7l57.1,49.0M539.3,1659.8l90.7,77.8M459.6,1603.1l53.8,46.1M540.3,1672.3l77.3,66.2M460.6,1615.6l47.0,40.3M514.3,1661.7l87.4,74.9M434.7,1605.1l67.2,57.6M515.3,1674.2l73.9,63.4M435.6,1617.5l60.5,51.8M489.4,1663.6l87.4,74.9M436.6,1630.0l57.1,49.0M490.3,1676.1l73.9,63.4M437.5,1642.5l110.9,95.0M438.5,1655.0l97.4,83.5M412.6,1644.4l110.9,95.0M413.6,1656.9l97.4,83.5M414.5,1669.4l80.6,69.1M415.5,1681.9l67.2,57.6M389.6,1671.3l80.6,69.1M390.5,1683.8l67.2,57.6M391.5,1696.3l50.4,43.2M392.4,1708.7l37.0,31.7M393.4,1721.2l23.5,20.2M367.5,1710.7l33.6,28.8M1209.3,497.3l-63.4,73.9M1210.3,509.8l-100.8,117.6M1211.2,522.3l-138.2,161.3M1235.2,507.9l-201.6,235.2M1236.2,520.3l-239.0,278.9M1237.1,532.8l-276.4,322.5M1261.1,518.4l-60.5,70.6M1215.1,572.2l-290.8,339.3M1262.1,530.9l-54.7,63.8M1169.9,638.4l-285.1,332.6M1263.1,543.4l-49.0,57.1M1124.8,704.6l-276.4,322.5M1264.0,555.9l-40.3,47.0M1102.8,744.0l-290.8,339.3M1288.0,541.5l-57.6,67.2M1057.6,810.2l-282.2,329.3M1289.0,553.9l-51.8,60.5M1012.5,876.5l-276.4,322.5M1289.9,566.4l-43.2,50.4M990.4,915.8l-290.8,339.3M1313.9,552.0l-60.5,70.6M945.3,982.1l-282.2,329.3M1314.9,564.5l-54.7,63.8M900.2,1048.3l-273.6,319.2M1315.9,577.0l-49.0,57.1M878.1,1087.7l-290.8,339.3M1316.8,589.5l-40.3,47.0M833.0,1153.9l-282.2,329.3M1340.8,575.1l-57.6,67.2M810.9,1193.2l-296.6,346.1M1341.8,587.5l-51.8,60.5M765.8,1259.5l-288.0,336.0M1342.7,600.0l-43.2,50.4M720.7,1325.7l-282.2,329.3M1366.7,585.6l-60.5,70.6M698.6,1365.1l-296.6,346.1M1367.7,598.1l-54.7,63.8M653.5,1431.3l-264.9,309.1M1368.6,610.6l-46.1,53.8M608.4,1497.5l-207.3,241.9M1369.6,623.0l-40.3,47.0M586.3,1536.9l-175.7,204.9M1393.6,608.6l-57.6,67.2M541.2,1603.1l-118.1,137.8M1394.6,621.1l-49.0,57.1M496.1,1669.4l-60.5,70.6M1395.5,633.6l-43.2,50.4M497.1,1681.9l-49.0,57.1M1419.5,619.2l-60.5,70.6M521.1,1667.5l-63.4,73.9M1420.5,631.7l-54.7,63.8M522.0,1679.9l-51.8,60.5M1421.4,644.2l-46.1,53.8M546.0,1665.5l-63.4,73.9M1422.4,656.6l-40.3,47.0M547.0,1678.0l-51.8,60.5M1446.4,642.2l-57.6,67.2M571.0,1663.6l-66.2,77.3M1447.4,654.7l-49.0,57.1M571.9,1676.1l-54.7,63.8M1448.3,667.2l-43.2,50.4M595.9,1661.7l-66.2,77.3M1472.3,652.8l-60.5,70.6M596.9,1674.2l-54.7,63.8M1473.3,665.3l-80.6,94.1M620.9,1659.8l-69.1,80.6M1474.2,677.8l-118.1,137.8M621.9,1672.3l-57.6,67.2M1475.2,690.2l-155.5,181.4M645.9,1657.9l-69.1,80.6M1499.2,675.8l-216.0,252.0M646.8,1670.3l-57.6,67.2M1500.2,688.3l-256.3,299.0M670.8,1655.9l-69.1,80.6M1501.1,700.8l-293.7,342.7M671.8,1668.4l-60.5,70.6M1456.0,767.0l-285.1,332.6M695.8,1654.0l-72.0,84.0M1410.9,833.3l-276.4,322.5M696.7,1666.5l-60.5,70.6M1388.8,872.6l-290.8,339.3M697.7,1679.0l-49.0,57.1M1343.7,938.9l-282.2,329.3M721.7,1664.6l-63.4,73.9M1298.6,1005.1l-273.6,319.2M722.6,1677.1l-51.8,60.5M1276.5,1044.5l-288.0,336.0M746.6,1662.7l-63.4,73.9M1231.4,1110.7l-279.3,325.9M747.6,1675.1l-51.8,60.5M1186.3,1176.9l-273.6,319.2M771.6,1660.7l-66.2,77.3M1164.2,1216.3l-288.0,336.0M772.6,1673.2l-54.7,63.8M1119.1,1282.5l-279.3,325.9M796.6,1658.8l-66.2,77.3M1074.0,1348.8l-270.7,315.8M797.5,1671.3l-54.7,63.8M1051.9,1388.1l-299.5,349.4M1006.8,1454.3l-241.9,282.2M961.7,1520.6l-184.3,215.0M939.6,1559.9l-149.7,174.7M894.5,1626.2l-95.0,110.9M849.4,1692.4l-37.4,43.7" fill="none" stroke="#000" stroke-width="1.05" stroke-dasharray="26.55 8.85"/><polygon points="1185.3,511.7 1492.6,706 821.5,1733.5 384,1739.5" fill="none" stroke="#000" stroke-width="1.4"/><polygon points="1200.3,587.6 1417,722.4 795,1678 486,1683.5" fill="#fff" stroke="#000" stroke-width="1.4"/><polygon points="1200.3,587.6 1417,722.4 795,1678 486,1683.5" fill="url(#dots)" stroke="#000" stroke-width="1.4"/><use href="#pine1" transform="translate(1214.3 668.6) rotate(0) scale(0.530)"/><use href="#pine2" transform="translate(1249.5 745.6) rotate(20) scale(0.660)"/><use href="#pine1" transform="translate(1166.7 748.8) rotate(40) scale(0.420)"/><use href="#pine2" transform="translate(705.5 1559) rotate(10) scale(0.530)"/><use href="#pine1" transform="translate(790 1559) rotate(25) scale(0.680)"/><use href="#pine2" transform="translate(759 1635.5) rotate(0) scale(0.430)"/><use href="#palm" transform="translate(1345 395) scale(0.5)"/><use href="#palm" transform="translate(1312.5 462.5) scale(0.5)"/><use href="#palm" transform="translate(1422.5 461) scale(0.5)"/><polyline points="2445,36 2652.5,160 2643.5,184 2687.5,145 2676.5,172.5 2873,289" fill="none" stroke="#000" stroke-width="1.5"/><polyline points="2486,61 2242.5,401.5" fill="none" stroke="#000" stroke-width="1.5"/><polyline points="2808.5,252.5 2681,449" fill="none" stroke="#000" stroke-width="1.5"/><polyline points="446.5,2186.5 448,2250 451.5,2415" fill="none" stroke="#000" stroke-width="1.3" stroke-dasharray="7 4"/><polyline points="868,2177.5 857,2403.5" fill="none" stroke="#000" stroke-width="1.5"/><polyline points="357,2418.5 615,2410.5 615.5,2391.5 641.5,2436.5 641.5,2409.5 969,2400.5" fill="none" stroke="#000" stroke-width="1.5"/><circle cx="4250.1" cy="445.5" r="50.4" fill="none" stroke="#000" stroke-width="1.1"/><path d="M4250.1,395.6 L4199.8,445.5 L4300.6,445.5 Z M4250.1,405 L4284,439 L4216.7,439 Z" fill="#000" fill-rule="evenodd" stroke="none"/><path d="M4250.1,356.5 V396 M4250.1,445.5 V552.8 M4244.9,372.4 L4250.1,356.5 L4255.8,372.4 M4244.3,445.5 V494.3 M4256.6,445.5 V494.3" fill="none" stroke="#000" stroke-width="1.1"/><path d="M4176.4,334.8 L4182,305.1 L4197.6,334.2 L4205.9,305.1 M4224,304.8 C4211,304 4203,333 4216,335 C4230,337 4238,306 4224,304.8 Z M4238.8,334.8 L4245.8,306 C4254,304 4262,305 4262,309.5 C4264.5,316 4252,319 4243.2,321.8 L4255.1,333.8 M4262,308 L4289.8,305.6 M4275.7,306.6 L4268.8,334.8 M4296.3,305.6 L4289.8,334.8 M4313.7,305.6 L4307.2,334.8 M4293.5,322.5 L4314.3,311" fill="none" stroke="#000" stroke-width="1.25" stroke-linecap="round"/><polyline points="710,997 937.5,1038.5" fill="none" stroke="#000" stroke-width="1.2"/><polyline points="522.5,1195 750,1236" fill="none" stroke="#000" stroke-width="1.2"/><text x="513.5" y="970.5" font-size="37.5" class="b" textLength="276.5" lengthAdjust="spacingAndGlyphs">Childrens Play area</text><text x="337.5" y="1201" font-size="36.5" class="b" textLength="170" lengthAdjust="spacingAndGlyphs">Health Walk</text><text x="889" y="1209.5" font-size="51" class="b" textLength="115" lengthAdjust="spacingAndGlyphs">O.S.R</text><text x="2447.5" y="275" font-size="28" class="b" textLength="200" lengthAdjust="spacingAndGlyphs">9.41M WIDE ROAD</text><text x="550" y="2231" font-size="40" class="b" textLength="245" lengthAdjust="spacingAndGlyphs" transform="rotate(-1 672 2216)">ENTRANCE ARCH</text><text x="1872.5" y="2466.5" font-size="74" class="b" textLength="697.5" lengthAdjust="spacingAndGlyphs">MARUTHAM  &quot;CLASSIC&quot;</text><text x="1958.5" y="2566" font-size="59" class="b" textLength="511.5" lengthAdjust="spacingAndGlyphs">FOURTH FLOOR PLAN</text><polyline points="1868,2485 2571.5,2485" fill="none" stroke="#000" stroke-width="1.6"/><polyline points="1956,2580 2501.5,2580" fill="none" stroke="#000" stroke-width="1.6"/></g>
<g id="w1" fill="none" stroke="#000" stroke-width="1.9">
<rect x="1781.7" y="625.7" width="250.0" height="8.6"/>
<rect x="1781.7" y="625.7" width="9.0" height="164.3"/>
<rect x="1950.0" y="634.3" width="4.3" height="102.4"/>
<rect x="1790.7" y="785.7" width="187.6" height="4.3"/>
<rect x="1954.3" y="778.3" width="24.0" height="11.7"/>
<rect x="2021.7" y="625.7" width="10.0" height="111.0"/>
<rect x="1990.0" y="732.7" width="41.7" height="4.0"/>
<rect x="2031.7" y="693.3" width="145.6" height="8.4"/>
<rect x="2031.7" y="701.7" width="4.3" height="35.0"/>
<rect x="2025.0" y="780.7" width="6.7" height="222.6"/>
<rect x="2020.0" y="1003.3" width="130.0" height="9.0"/>
<rect x="1876.7" y="790.0" width="10.0" height="144.0"/>
<rect x="1881.7" y="934.0" width="5.0" height="69.3"/>
<rect x="1886.7" y="1003.3" width="155.0" height="9.0"/>
<rect x="1940.0" y="1012.3" width="10.0" height="27.7"/>
<rect x="1886.7" y="1040.0" width="63.3" height="11.0"/>
<rect x="1764.0" y="780.7" width="9.3" height="86.0"/>
<rect x="1764.0" y="857.7" width="122.7" height="9.0"/>
<rect x="1764.0" y="780.7" width="26.7" height="9.3"/>
<rect x="2177.3" y="603.3" width="154.4" height="9.4"/>
<rect x="2177.3" y="603.3" width="10.0" height="175.0"/>
<rect x="2321.7" y="603.3" width="10.0" height="175.0"/>
<rect x="2177.3" y="769.0" width="154.4" height="9.3"/>
<rect x="2256.7" y="778.3" width="9.0" height="67.4"/>
<rect x="2200.0" y="845.7" width="266.7" height="9.3"/>
<rect x="2200.0" y="845.0" width="5.0" height="167.3"/>
<rect x="2341.7" y="845.7" width="9.0" height="166.6"/>
<rect x="2200.0" y="1003.3" width="340.0" height="9.0"/>
<rect x="2415.0" y="599.0" width="9.0" height="246.7"/>
<rect x="2415.0" y="599.0" width="125.0" height="7.7"/>
<rect x="2424.0" y="644.0" width="67.7" height="4.3"/>
<rect x="2424.0" y="776.7" width="116.0" height="10.0"/>
<rect x="2424.0" y="845.7" width="41.0" height="9.3"/>
<rect x="1733.3" y="934.0" width="153.4" height="9.3"/>
<rect x="1733.3" y="934.0" width="5.0" height="117.0"/>
<rect x="2535.7" y="599.0" width="9.3" height="106.7"/>
<rect x="2535.7" y="696.7" width="171.6" height="9.0"/>
<rect x="2707.3" y="623.3" width="9.4" height="184.0"/>
<rect x="2707.3" y="623.3" width="232.7" height="8.4"/>
<rect x="2783.3" y="623.3" width="9.4" height="35.7"/>
<rect x="2788.3" y="650.0" width="143.4" height="9.0"/>
<rect x="2866.7" y="623.3" width="9.3" height="35.7"/>
<rect x="2716.7" y="748.3" width="71.6" height="5.7"/>
<rect x="2783.3" y="659.0" width="5.0" height="89.3"/>
<rect x="2931.7" y="631.7" width="8.3" height="215.0"/>
<rect x="2941.0" y="671.0" width="8.3" height="175.7"/>
<rect x="2758.3" y="798.3" width="173.4" height="9.0"/>
<rect x="2765.0" y="807.3" width="5.0" height="23.4"/>
<rect x="2873.3" y="807.3" width="9.4" height="196.0"/>
<rect x="2753.3" y="870.0" width="121.7" height="5.0"/>
<rect x="2707.3" y="870.0" width="9.4" height="133.3"/>
<rect x="2594.3" y="1003.3" width="670.7" height="9.0"/>
<rect x="2500.0" y="1003.3" width="45.0" height="9.0"/>
<rect x="2540.0" y="905.0" width="5.0" height="98.3"/>
<rect x="2535.7" y="776.7" width="9.3" height="89.3"/>
<rect x="2535.7" y="705.7" width="9.3" height="46.0"/>
<rect x="2940.0" y="673.3" width="151.7" height="8.4"/>
<rect x="3082.7" y="646.0" width="9.0" height="46.3"/>
<rect x="3087.3" y="681.7" width="5.0" height="107.3"/>
<rect x="2949.3" y="838.3" width="142.4" height="9.0"/>
<rect x="3082.7" y="830.7" width="9.0" height="181.6"/>
<rect x="2996.7" y="925.0" width="95.0" height="10.0"/>
<rect x="2996.7" y="925.0" width="10.0" height="87.3"/>
<rect x="3081.7" y="925.0" width="10.0" height="87.3"/>
<rect x="3091.7" y="677.3" width="228.3" height="9.4"/>
<rect x="3158.3" y="686.7" width="5.0" height="160.0"/>
<rect x="3087.3" y="784.0" width="36.0" height="5.0"/>
<rect x="3311.7" y="677.3" width="9.0" height="116.0"/>
<rect x="3158.3" y="838.3" width="162.4" height="9.0"/>
<rect x="3311.7" y="766.7" width="9.0" height="80.0"/>
<rect x="3320.7" y="758.3" width="134.3" height="9.0"/>
<rect x="3455.0" y="704.0" width="9.0" height="127.7"/>
<rect x="3464.0" y="730.7" width="151.0" height="9.3"/>
<rect x="3615.0" y="704.0" width="9.0" height="381.0"/>
<rect x="3455.0" y="868.3" width="71.7" height="9.0"/>
<rect x="3560.0" y="873.3" width="55.0" height="9.4"/>
<rect x="3455.0" y="913.3" width="9.0" height="171.7"/>
<rect x="3464.0" y="946.7" width="106.7" height="9.3"/>
<rect x="3561.7" y="873.3" width="9.0" height="82.7"/>
<rect x="3586.7" y="1020.0" width="9.3" height="65.0"/>
<rect x="3311.7" y="1085.0" width="495.0" height="9.0"/>
<rect x="3311.7" y="912.7" width="9.0" height="181.3"/>
<rect x="3361.7" y="912.7" width="93.3" height="4.6"/>
<rect x="3624.0" y="748.3" width="179.3" height="9.0"/>
<rect x="3794.0" y="748.3" width="9.3" height="85.0"/>
<rect x="3678.3" y="850.0" width="4.4" height="23.3"/>
<rect x="3624.0" y="873.3" width="179.3" height="4.7"/>
<rect x="3803.3" y="801.7" width="177.4" height="9.0"/>
<rect x="3971.7" y="748.3" width="9.0" height="148.4"/>
<rect x="3798.3" y="941.7" width="5.0" height="152.3"/>
<rect x="3624.0" y="878.0" width="112.7" height="4.7"/>
<rect x="3731.7" y="878.0" width="5.0" height="63.7"/>
<rect x="3663.3" y="941.7" width="88.4" height="4.3"/>
<rect x="3980.7" y="775.0" width="77.6" height="9.0"/>
<rect x="3971.7" y="891.7" width="36.6" height="5.0"/>
<rect x="4050.0" y="775.0" width="8.3" height="121.7"/>
<rect x="4050.0" y="793.3" width="90.0" height="9.4"/>
<rect x="3971.7" y="944.0" width="9.0" height="141.0"/>
<rect x="4023.3" y="944.0" width="116.7" height="5.0"/>
<rect x="3853.3" y="1085.0" width="286.7" height="9.0"/>
<rect x="4140.0" y="793.3" width="86.7" height="9.0"/>
<rect x="4217.7" y="793.3" width="9.0" height="71.7"/>
<rect x="4191.0" y="855.7" width="9.0" height="97.0"/>
<rect x="4140.0" y="944.3" width="60.0" height="5.0"/>
<rect x="4144.3" y="949.3" width="9.0" height="139.0"/>
<rect x="4171.0" y="949.3" width="9.0" height="67.4"/>
<rect x="4140.0" y="1084.3" width="13.3" height="9.0"/>
<rect x="3856.0" y="1093.3" width="5.0" height="53.4"/>
<rect x="3856.0" y="1143.3" width="10.0" height="107.7"/>
<rect x="4001.0" y="1093.3" width="5.0" height="125.0"/>
<rect x="4127.7" y="1093.3" width="9.0" height="133.4"/>
<rect x="4061.0" y="1218.3" width="99.0" height="9.0"/>
<rect x="3999.3" y="1218.3" width="23.4" height="9.0"/>
<rect x="4151.0" y="1218.3" width="9.0" height="32.7"/>
<rect x="3656.0" y="1161.7" width="210.0" height="9.0"/>
<rect x="3687.7" y="1170.7" width="10.0" height="80.3"/>
<rect x="1529.3" y="934.0" width="357.4" height="9.3"/>
<rect x="1529.3" y="934.0" width="4.0" height="148.7"/>
<rect x="1529.3" y="1078.3" width="64.0" height="4.4"/>
<rect x="1585.0" y="943.3" width="8.3" height="73.4"/>
<rect x="1588.3" y="1053.3" width="5.0" height="25.0"/>
<rect x="1675.0" y="943.3" width="5.0" height="99.4"/>
<rect x="1733.3" y="943.3" width="5.0" height="139.4"/>
<rect x="1877.3" y="934.0" width="9.4" height="148.7"/>
<rect x="1786.0" y="1078.3" width="100.7" height="4.4"/>
<rect x="1733.3" y="1078.3" width="16.7" height="4.4"/>
<rect x="1940.0" y="1012.3" width="10.0" height="27.7"/>
<rect x="1886.7" y="1030.0" width="63.3" height="10.0"/>
<rect x="2032.7" y="1012.3" width="9.0" height="12.7"/>
<rect x="2032.7" y="1070.0" width="9.0" height="158.3"/>
<rect x="1627.7" y="1082.7" width="9.0" height="135.6"/>
<rect x="1573.3" y="1218.3" width="316.7" height="9.0"/>
<rect x="1636.7" y="1078.3" width="41.6" height="4.4"/>
<rect x="1958.3" y="1110.7" width="74.4" height="4.3"/>
<rect x="1958.3" y="1110.7" width="4.4" height="107.6"/>
<rect x="1928.3" y="1218.3" width="35.0" height="9.0"/>
<rect x="2000.0" y="1218.3" width="41.7" height="9.0"/>
<rect x="1881.7" y="1227.3" width="5.0" height="141.0"/>
<rect x="1848.3" y="1305.0" width="9.0" height="71.7"/>
<rect x="1848.3" y="1368.3" width="193.4" height="9.0"/>
<rect x="1606.7" y="1227.3" width="5.0" height="142.7"/>
<rect x="1787.3" y="1227.3" width="9.4" height="61.0"/>
<rect x="1760.0" y="1278.3" width="9.3" height="90.0"/>
<rect x="1649.3" y="1366.7" width="110.7" height="5.0"/>
<rect x="1500.0" y="1264.0" width="83.3" height="7.7"/>
<rect x="1573.3" y="1227.3" width="10.0" height="44.4"/>
<rect x="2032.7" y="1080.0" width="270.6" height="10.0"/>
<rect x="2180.0" y="1090.0" width="10.0" height="61.7"/>
<rect x="2140.0" y="1151.7" width="123.3" height="10.0"/>
<rect x="2298.3" y="1090.0" width="5.0" height="71.7"/>
<rect x="2140.0" y="1153.3" width="10.0" height="143.4"/>
<rect x="2236.7" y="1161.7" width="5.0" height="71.6"/>
<rect x="2150.0" y="1230.0" width="51.7" height="4.3"/>
<rect x="2298.3" y="1248.3" width="5.0" height="120.0"/>
<rect x="2041.7" y="1368.3" width="261.6" height="9.0"/>
<rect x="2036.7" y="1296.7" width="113.3" height="8.3"/>
<rect x="2036.7" y="1296.7" width="5.0" height="80.6"/>
<rect x="2360.0" y="1080.0" width="453.3" height="9.3"/>
<rect x="2300.0" y="1080.0" width="15.0" height="9.3"/>
<rect x="2446.0" y="1089.3" width="5.0" height="94.0"/>
<rect x="2446.0" y="1224.0" width="5.0" height="125.3"/>
<rect x="2635.0" y="1089.3" width="9.0" height="144.0"/>
<rect x="2661.7" y="1161.7" width="9.0" height="71.6"/>
<rect x="2446.0" y="1224.0" width="224.7" height="9.3"/>
<rect x="2813.3" y="1089.3" width="9.4" height="190.0"/>
<rect x="2702.7" y="1270.0" width="120.0" height="9.3"/>
<rect x="2702.7" y="1279.3" width="9.0" height="79.0"/>
<rect x="2410.0" y="1349.3" width="301.7" height="9.0"/>
<rect x="2930.0" y="1080.0" width="9.3" height="199.3"/>
<rect x="2939.3" y="1080.0" width="200.7" height="9.3"/>
<rect x="2939.3" y="1160.7" width="200.7" height="9.3"/>
<rect x="2939.3" y="1160.7" width="10.7" height="287.6"/>
<rect x="2873.3" y="1279.3" width="9.4" height="211.7"/>
<rect x="2939.3" y="1448.3" width="77.4" height="9.0"/>
<rect x="3007.3" y="1457.3" width="9.4" height="33.7"/>
<rect x="2822.7" y="1270.0" width="127.3" height="9.3"/>
<rect x="2410.0" y="1358.3" width="8.3" height="132.7"/>
<rect x="2300.0" y="1349.3" width="35.0" height="4.7"/>
<rect x="2376.7" y="1349.3" width="33.3" height="4.7"/>
<rect x="3140.0" y="1080.0" width="63.3" height="9.3"/>
<rect x="3194.3" y="1089.3" width="9.0" height="72.4"/>
<rect x="3100.0" y="1161.7" width="120.0" height="8.3"/>
<rect x="3265.7" y="1161.7" width="279.3" height="8.3"/>
<rect x="3590.0" y="1161.7" width="266.7" height="8.3"/>
<rect x="3242.7" y="1309.3" width="131.3" height="10.0"/>
<rect x="3242.7" y="1309.3" width="9.0" height="147.4"/>
<rect x="3365.0" y="1319.3" width="9.0" height="231.7"/>
<rect x="3242.7" y="1447.3" width="36.6" height="9.4"/>
<rect x="3270.0" y="1456.7" width="9.3" height="94.3"/>
<rect x="3590.7" y="1170.0" width="9.3" height="193.3"/>
<rect x="3590.7" y="1354.0" width="106.6" height="9.3"/>
<rect x="3688.3" y="1170.0" width="9.0" height="350.0"/>
<rect x="3697.3" y="1281.7" width="169.4" height="5.0"/>
<rect x="3800.0" y="1286.7" width="5.0" height="31.6"/>
<rect x="3697.3" y="1353.3" width="112.7" height="5.0"/>
<rect x="3852.7" y="1354.0" width="9.0" height="172.7"/>
<rect x="3688.3" y="1520.0" width="173.4" height="9.0"/>
<rect x="3925.0" y="1354.0" width="5.0" height="172.7"/>
<rect x="3861.7" y="1458.3" width="68.3" height="8.4"/>
<rect x="4097.0" y="1227.3" width="9.0" height="135.4"/>
<rect x="3976.0" y="1353.3" width="110.0" height="5.0"/>
<rect x="3925.3" y="1353.3" width="9.0" height="166.7"/>
<rect x="4056.0" y="1358.3" width="9.0" height="171.0"/>
<rect x="3861.7" y="1520.0" width="207.6" height="9.3"/>
<rect x="3656.0" y="1520.0" width="6.7" height="153.3"/>
<rect x="3762.7" y="1529.3" width="9.0" height="144.0"/>
<rect x="3656.0" y="1665.0" width="115.7" height="9.0"/>
<rect x="3841.7" y="1529.3" width="5.0" height="43.4"/>
<rect x="3771.7" y="1613.3" width="75.0" height="5.0"/>
<rect x="4033.3" y="1529.3" width="9.4" height="72.4"/>
<rect x="4060.0" y="1601.7" width="9.3" height="72.3"/>
<rect x="4033.3" y="1601.7" width="36.0" height="8.3"/>
<rect x="3812.7" y="1665.0" width="256.6" height="9.0"/>
<rect x="3596.0" y="1665.0" width="60.0" height="9.0"/>
<rect x="3520.0" y="1665.0" width="30.0" height="9.0"/>
<rect x="3540.7" y="1674.0" width="5.0" height="69.3"/>
<rect x="3540.7" y="1741.7" width="117.6" height="10.0"/>
<rect x="3649.3" y="1741.7" width="9.0" height="88.3"/>
<rect x="3540.7" y="1815.0" width="39.3" height="9.0"/>
<rect x="3615.0" y="1815.0" width="43.3" height="9.0"/>
<rect x="3535.7" y="1751.7" width="10.0" height="63.3"/>
<rect x="3653.3" y="1867.7" width="5.0" height="92.3"/>
<rect x="3653.3" y="1959.3" width="171.7" height="9.0"/>
<rect x="3649.3" y="1968.3" width="9.0" height="53.4"/>
<rect x="3820.0" y="1968.3" width="9.3" height="53.4"/>
<rect x="3636.7" y="1986.0" width="21.6" height="9.0"/>
<rect x="3820.0" y="1665.0" width="5.0" height="131.0"/>
<rect x="3992.7" y="1665.0" width="9.0" height="330.0"/>
<rect x="4060.0" y="1640.0" width="9.3" height="34.0"/>
<rect x="4001.7" y="1665.0" width="67.6" height="9.0"/>
<rect x="3866.7" y="1792.7" width="126.0" height="4.0"/>
<rect x="3880.0" y="1836.7" width="5.0" height="13.3"/>
<rect x="3820.0" y="1846.0" width="181.7" height="9.0"/>
<rect x="3820.0" y="1855.0" width="5.0" height="33.3"/>
<rect x="3820.0" y="1930.0" width="5.0" height="38.3"/>
<rect x="3935.0" y="1855.0" width="5.0" height="15.0"/>
<rect x="3935.0" y="1908.3" width="9.0" height="77.7"/>
<rect x="3829.3" y="1986.0" width="114.7" height="9.0"/>
<rect x="3473.7" y="1986.0" width="163.0" height="9.0"/>
<rect x="2720.0" y="1665.0" width="43.3" height="9.0"/>
<rect x="2811.7" y="1665.0" width="5.0" height="135.0"/>
<rect x="2809.3" y="1665.0" width="197.4" height="9.0"/>
<rect x="2996.7" y="1665.0" width="9.3" height="140.0"/>
<rect x="2811.7" y="1796.7" width="194.3" height="9.0"/>
<rect x="2812.7" y="1840.0" width="9.0" height="33.3"/>
<rect x="2812.7" y="1867.3" width="130.0" height="6.0"/>
<rect x="2933.3" y="1796.7" width="9.4" height="226.6"/>
<rect x="2720.0" y="1959.3" width="222.7" height="9.0"/>
<rect x="2813.3" y="1968.3" width="5.0" height="55.0"/>
<rect x="3006.7" y="1665.0" width="9.3" height="365.0"/>
<rect x="3006.7" y="1665.0" width="149.3" height="9.0"/>
<rect x="3075.0" y="1665.0" width="9.0" height="131.7"/>
<rect x="3147.3" y="1665.0" width="8.7" height="140.0"/>
<rect x="3016.0" y="1796.0" width="74.0" height="9.0"/>
<rect x="3151.7" y="1846.7" width="4.3" height="121.6"/>
<rect x="3016.0" y="1993.3" width="140.0" height="1.0"/>
<rect x="3156.0" y="1665.0" width="85.7" height="9.0"/>
<rect x="3156.0" y="1959.3" width="144.0" height="9.0"/>
<rect x="3291.7" y="1665.0" width="4.3" height="135.0"/>
<rect x="3284.0" y="1665.0" width="276.0" height="9.0"/>
<rect x="3474.0" y="1665.0" width="9.3" height="148.3"/>
<rect x="3291.7" y="1796.7" width="191.6" height="9.0"/>
<rect x="3291.7" y="1840.0" width="9.0" height="33.3"/>
<rect x="3291.7" y="1867.3" width="126.6" height="6.0"/>
<rect x="3410.0" y="1796.7" width="9.0" height="226.6"/>
<rect x="3291.7" y="1959.3" width="127.3" height="9.0"/>
<rect x="3291.7" y="1968.3" width="4.3" height="55.0"/>
<rect x="3536.0" y="1674.0" width="9.0" height="139.3"/>
<rect x="3474.0" y="1813.3" width="86.0" height="10.0"/>
<rect x="3474.0" y="1823.3" width="9.3" height="200.0"/>
<rect x="1900.0" y="1665.0" width="117.3" height="9.0"/>
<rect x="2038.3" y="1674.0" width="9.0" height="99.3"/>
<rect x="1900.0" y="1765.0" width="138.3" height="8.3"/>
<rect x="2097.3" y="1665.0" width="358.7" height="9.0"/>
<rect x="1986.7" y="1773.3" width="9.0" height="71.7"/>
<rect x="1900.0" y="1841.7" width="46.7" height="4.3"/>
<rect x="1980.0" y="1841.7" width="15.7" height="4.3"/>
<rect x="2042.3" y="1840.7" width="4.4" height="127.6"/>
<rect x="2042.3" y="1968.3" width="4.4" height="55.0"/>
<rect x="2046.7" y="1959.3" width="139.3" height="9.0"/>
<rect x="2209.3" y="1665.0" width="5.0" height="146.7"/>
<rect x="2361.7" y="1665.0" width="10.0" height="217.7"/>
<rect x="2255.0" y="1806.7" width="116.7" height="6.0"/>
<rect x="2263.3" y="1812.7" width="4.0" height="20.6"/>
<rect x="2182.7" y="1872.7" width="149.0" height="5.0"/>
<rect x="2330.0" y="1873.3" width="41.7" height="9.4"/>
<rect x="2321.7" y="1877.7" width="9.0" height="145.6"/>
<rect x="2181.7" y="1882.7" width="4.3" height="140.6"/>
<rect x="2186.0" y="1965.0" width="144.7" height="9.0"/>
<rect x="2371.7" y="1743.3" width="84.3" height="9.4"/>
<rect x="2446.7" y="1665.0" width="9.3" height="200.0"/>
<rect x="2565.0" y="1665.0" width="9.0" height="200.0"/>
<rect x="2446.7" y="1856.0" width="127.3" height="9.0"/>
<rect x="2565.0" y="1665.0" width="85.7" height="9.0"/>
<rect x="2641.7" y="1665.0" width="9.0" height="201.7"/>
<rect x="2574.0" y="1742.7" width="76.7" height="9.0"/>
<rect x="2613.3" y="1865.0" width="37.4" height="5.0"/>
<rect x="2446.7" y="1865.0" width="9.3" height="171.7"/>
<rect x="2646.7" y="1905.0" width="4.0" height="63.3"/>
<rect x="2456.0" y="1999.3" width="194.7" height="1.0"/>
<rect x="2650.7" y="1665.0" width="89.3" height="9.0"/>
<rect x="2650.7" y="1959.3" width="156.0" height="9.0"/>
<rect x="2646.7" y="1968.3" width="4.0" height="55.0"/>
<rect x="1878.3" y="1765.0" width="21.7" height="8.3"/>
<rect x="1878.3" y="1841.7" width="21.7" height="4.3"/>
<rect x="1878.3" y="1986.0" width="168.4" height="9.3"/>
<rect x="1125.0" y="1639.3" width="61.7" height="9.0"/>
<rect x="1225.0" y="1639.3" width="40.0" height="9.0"/>
<rect x="1125.0" y="1648.3" width="10.0" height="80.0"/>
<rect x="1260.0" y="1648.3" width="5.0" height="85.0"/>
<rect x="1125.0" y="1728.3" width="135.0" height="5.0"/>
<rect x="1125.0" y="1733.3" width="10.0" height="106.7"/>
<rect x="1140.0" y="1901.7" width="106.7" height="5.0"/>
<rect x="1140.0" y="1941.7" width="5.0" height="45.0"/>
<rect x="1216.7" y="1906.7" width="5.0" height="80.0"/>
<rect x="1288.3" y="1885.0" width="5.0" height="101.7"/>
<rect x="1080.0" y="1986.7" width="336.7" height="9.3"/>
<rect x="1536.7" y="1600.0" width="8.3" height="13.3"/>
<rect x="1318.3" y="1665.0" width="9.0" height="156.7"/>
<rect x="1318.3" y="1665.0" width="354.4" height="9.0"/>
<rect x="1718.3" y="1665.0" width="181.7" height="9.0"/>
<rect x="1410.0" y="1665.0" width="9.0" height="358.3"/>
<rect x="1582.7" y="1674.0" width="5.0" height="99.3"/>
<rect x="1419.0" y="1768.3" width="112.7" height="5.0"/>
<rect x="1526.7" y="1768.3" width="5.0" height="76.7"/>
<rect x="1419.0" y="1842.7" width="67.7" height="4.6"/>
<rect x="1578.3" y="1838.3" width="9.4" height="185.0"/>
<rect x="1410.0" y="1986.7" width="177.7" height="9.3"/>
<rect x="1587.7" y="1959.3" width="135.6" height="9.0"/>
<rect x="1723.3" y="1665.0" width="5.0" height="63.3"/>
<rect x="1833.3" y="1665.0" width="10.0" height="100.0"/>
<rect x="1723.3" y="1765.0" width="120.0" height="8.3"/>
<rect x="1756.7" y="1773.3" width="5.0" height="26.7"/>
<rect x="1756.7" y="1840.0" width="116.6" height="6.0"/>
<rect x="1723.3" y="1846.0" width="5.0" height="7.3"/>
<rect x="1723.3" y="1888.3" width="5.0" height="135.0"/>
<rect x="1868.3" y="1765.0" width="10.0" height="258.3"/>
<rect x="1723.3" y="1986.7" width="155.0" height="9.3"/>
<rect x="1370.0" y="1261.7" width="50.0" height="9.3"/>
<rect x="1453.3" y="1261.7" width="46.7" height="9.3"/>
<rect x="1466.7" y="1218.3" width="5.0" height="43.4"/>
<rect x="1370.0" y="1271.0" width="10.0" height="119.0"/>
<rect x="1300.0" y="1385.0" width="171.7" height="9.3"/>
<rect x="1466.7" y="1588.3" width="86.6" height="9.0"/>
<rect x="1660.0" y="1409.3" width="5.0" height="28.0"/>
<rect x="1655.0" y="1437.3" width="114.3" height="5.0"/>
<rect x="1760.0" y="1360.0" width="9.3" height="153.3"/>
<rect x="1606.0" y="1457.3" width="5.7" height="140.0"/>
<rect x="1600.0" y="1588.3" width="473.3" height="9.0"/>
<rect x="1760.0" y="1511.7" width="123.3" height="9.0"/>
<rect x="1875.0" y="1511.7" width="8.3" height="85.6"/>
<rect x="1875.0" y="1388.3" width="8.3" height="68.4"/>
<rect x="1875.0" y="1451.7" width="198.3" height="5.0"/>
<rect x="1875.0" y="1456.7" width="8.3" height="55.0"/>
<rect x="1300.0" y="1394.3" width="8.3" height="59.0"/>
<rect x="1273.3" y="1453.3" width="8.4" height="63.4"/>
<rect x="1466.7" y="1437.3" width="5.0" height="151.0"/>
<rect x="1244.0" y="1516.0" width="222.7" height="9.0"/>
<rect x="1244.0" y="1525.0" width="9.3" height="121.7"/>
<rect x="1535.0" y="1597.3" width="10.0" height="17.7"/>
<rect x="1244.0" y="1570.0" width="9.3" height="70.0"/>
<rect x="1017.3" y="1841.7" width="117.7" height="9.0"/>
<rect x="1017.3" y="1841.7" width="9.4" height="178.3"/>
<rect x="1017.3" y="1986.7" width="62.7" height="9.3"/>
<rect x="2210.0" y="1373.3" width="9.3" height="223.4"/>
<rect x="2073.3" y="1588.3" width="89.4" height="9.0"/>
<rect x="2294.0" y="1377.3" width="9.3" height="131.0"/>
<rect x="2210.0" y="1588.3" width="210.0" height="9.0"/>
<rect x="2409.3" y="1491.0" width="9.0" height="97.3"/>
<rect x="2294.0" y="1503.3" width="115.3" height="5.0"/>
<rect x="2418.3" y="1588.3" width="348.4" height="9.0"/>
<rect x="2812.7" y="1588.3" width="67.3" height="9.0"/>
<rect x="2873.3" y="1491.0" width="9.4" height="106.3"/>
<rect x="3006.7" y="1491.0" width="9.3" height="97.3"/>
<rect x="2860.0" y="1588.3" width="170.0" height="9.0"/>
<rect x="3073.3" y="1588.3" width="588.4" height="9.0"/>
<rect x="3365.0" y="1551.0" width="9.0" height="37.3"/>
<rect x="3270.0" y="1551.0" width="9.3" height="37.3"/>
</g><g id="w2" fill="#fff">
<rect x="1782.2" y="626.2" width="249.1" height="7.7"/>
<rect x="1782.2" y="626.2" width="8.1" height="163.4"/>
<rect x="1950.5" y="634.8" width="3.4" height="101.5"/>
<rect x="1791.2" y="786.2" width="186.7" height="3.4"/>
<rect x="1954.8" y="778.8" width="23.1" height="10.8"/>
<rect x="2022.2" y="626.2" width="9.1" height="110.1"/>
<rect x="1990.5" y="733.2" width="40.8" height="3.1"/>
<rect x="2032.2" y="693.8" width="144.7" height="7.5"/>
<rect x="2032.2" y="702.2" width="3.4" height="34.1"/>
<rect x="2025.5" y="781.2" width="5.8" height="221.7"/>
<rect x="2020.5" y="1003.8" width="129.1" height="8.1"/>
<rect x="1877.2" y="790.5" width="9.1" height="143.1"/>
<rect x="1882.2" y="934.5" width="4.1" height="68.4"/>
<rect x="1887.2" y="1003.8" width="154.1" height="8.1"/>
<rect x="1940.5" y="1012.8" width="9.1" height="26.8"/>
<rect x="1887.2" y="1040.5" width="62.4" height="10.1"/>
<rect x="1764.5" y="781.2" width="8.4" height="85.1"/>
<rect x="1764.5" y="858.2" width="121.8" height="8.1"/>
<rect x="1764.5" y="781.2" width="25.8" height="8.4"/>
<rect x="2177.8" y="603.8" width="153.5" height="8.5"/>
<rect x="2177.8" y="603.8" width="9.1" height="174.1"/>
<rect x="2322.1" y="603.8" width="9.1" height="174.1"/>
<rect x="2177.8" y="769.5" width="153.5" height="8.4"/>
<rect x="2257.1" y="778.8" width="8.1" height="66.5"/>
<rect x="2200.4" y="846.2" width="265.8" height="8.4"/>
<rect x="2200.4" y="845.5" width="4.1" height="166.4"/>
<rect x="2342.1" y="846.2" width="8.1" height="165.7"/>
<rect x="2200.4" y="1003.8" width="339.1" height="8.1"/>
<rect x="2415.4" y="599.5" width="8.1" height="245.8"/>
<rect x="2415.4" y="599.5" width="124.1" height="6.8"/>
<rect x="2424.4" y="644.5" width="66.8" height="3.4"/>
<rect x="2424.4" y="777.2" width="115.1" height="9.1"/>
<rect x="2424.4" y="846.2" width="40.1" height="8.4"/>
<rect x="1733.8" y="934.5" width="152.5" height="8.4"/>
<rect x="1733.8" y="934.5" width="4.1" height="116.1"/>
<rect x="2536.1" y="599.5" width="8.4" height="105.8"/>
<rect x="2536.1" y="697.2" width="170.7" height="8.1"/>
<rect x="2707.8" y="623.8" width="8.5" height="183.1"/>
<rect x="2707.8" y="623.8" width="231.8" height="7.5"/>
<rect x="2783.8" y="623.8" width="8.5" height="34.8"/>
<rect x="2788.8" y="650.5" width="142.5" height="8.1"/>
<rect x="2867.1" y="623.8" width="8.4" height="34.8"/>
<rect x="2717.1" y="748.8" width="70.7" height="4.8"/>
<rect x="2783.8" y="659.5" width="4.1" height="88.4"/>
<rect x="2932.1" y="632.2" width="7.4" height="214.1"/>
<rect x="2941.4" y="671.5" width="7.4" height="174.8"/>
<rect x="2758.8" y="798.8" width="172.5" height="8.1"/>
<rect x="2765.4" y="807.8" width="4.1" height="22.5"/>
<rect x="2873.8" y="807.8" width="8.5" height="195.1"/>
<rect x="2753.8" y="870.5" width="120.8" height="4.1"/>
<rect x="2707.8" y="870.5" width="8.5" height="132.4"/>
<rect x="2594.8" y="1003.8" width="669.8" height="8.1"/>
<rect x="2500.4" y="1003.8" width="44.1" height="8.1"/>
<rect x="2540.4" y="905.5" width="4.1" height="97.4"/>
<rect x="2536.1" y="777.2" width="8.4" height="88.4"/>
<rect x="2536.1" y="706.2" width="8.4" height="45.1"/>
<rect x="2940.4" y="673.8" width="150.8" height="7.5"/>
<rect x="3083.1" y="646.5" width="8.1" height="45.4"/>
<rect x="3087.8" y="682.2" width="4.1" height="106.4"/>
<rect x="2949.8" y="838.8" width="141.5" height="8.1"/>
<rect x="3083.1" y="831.2" width="8.1" height="180.7"/>
<rect x="2997.1" y="925.5" width="94.1" height="9.1"/>
<rect x="2997.1" y="925.5" width="9.1" height="86.4"/>
<rect x="3082.1" y="925.5" width="9.1" height="86.4"/>
<rect x="3092.1" y="677.8" width="227.4" height="8.5"/>
<rect x="3158.8" y="687.2" width="4.1" height="159.1"/>
<rect x="3087.8" y="784.5" width="35.1" height="4.1"/>
<rect x="3312.1" y="677.8" width="8.1" height="115.1"/>
<rect x="3158.8" y="838.8" width="161.5" height="8.1"/>
<rect x="3312.1" y="767.2" width="8.1" height="79.1"/>
<rect x="3321.1" y="758.8" width="133.4" height="8.1"/>
<rect x="3455.4" y="704.5" width="8.1" height="126.8"/>
<rect x="3464.4" y="731.2" width="150.1" height="8.4"/>
<rect x="3615.4" y="704.5" width="8.1" height="380.1"/>
<rect x="3455.4" y="868.8" width="70.8" height="8.1"/>
<rect x="3560.4" y="873.8" width="54.1" height="8.5"/>
<rect x="3455.4" y="913.8" width="8.1" height="170.8"/>
<rect x="3464.4" y="947.2" width="105.8" height="8.4"/>
<rect x="3562.1" y="873.8" width="8.1" height="81.8"/>
<rect x="3587.1" y="1020.5" width="8.4" height="64.1"/>
<rect x="3312.1" y="1085.5" width="494.1" height="8.1"/>
<rect x="3312.1" y="913.2" width="8.1" height="180.4"/>
<rect x="3362.1" y="913.2" width="92.4" height="3.7"/>
<rect x="3624.4" y="748.8" width="178.4" height="8.1"/>
<rect x="3794.4" y="748.8" width="8.4" height="84.1"/>
<rect x="3678.8" y="850.5" width="3.5" height="22.4"/>
<rect x="3624.4" y="873.8" width="178.4" height="3.8"/>
<rect x="3803.8" y="802.2" width="176.5" height="8.1"/>
<rect x="3972.1" y="748.8" width="8.1" height="147.5"/>
<rect x="3798.8" y="942.2" width="4.1" height="151.4"/>
<rect x="3624.4" y="878.5" width="111.8" height="3.8"/>
<rect x="3732.1" y="878.5" width="4.1" height="62.8"/>
<rect x="3663.8" y="942.2" width="87.5" height="3.4"/>
<rect x="3981.1" y="775.5" width="76.7" height="8.1"/>
<rect x="3972.1" y="892.2" width="35.7" height="4.1"/>
<rect x="4050.4" y="775.5" width="7.4" height="120.8"/>
<rect x="4050.4" y="793.8" width="89.1" height="8.5"/>
<rect x="3972.1" y="944.5" width="8.1" height="140.1"/>
<rect x="4023.8" y="944.5" width="115.8" height="4.1"/>
<rect x="3853.8" y="1085.5" width="285.8" height="8.1"/>
<rect x="4140.4" y="793.8" width="85.8" height="8.1"/>
<rect x="4218.1" y="793.8" width="8.1" height="70.8"/>
<rect x="4191.4" y="856.2" width="8.1" height="96.1"/>
<rect x="4140.4" y="944.8" width="59.1" height="4.1"/>
<rect x="4144.8" y="949.8" width="8.1" height="138.1"/>
<rect x="4171.4" y="949.8" width="8.1" height="66.5"/>
<rect x="4140.4" y="1084.8" width="12.4" height="8.1"/>
<rect x="3856.4" y="1093.8" width="4.1" height="52.5"/>
<rect x="3856.4" y="1143.8" width="9.1" height="106.8"/>
<rect x="4001.4" y="1093.8" width="4.1" height="124.1"/>
<rect x="4128.1" y="1093.8" width="8.1" height="132.5"/>
<rect x="4061.4" y="1218.8" width="98.1" height="8.1"/>
<rect x="3999.8" y="1218.8" width="22.5" height="8.1"/>
<rect x="4151.4" y="1218.8" width="8.1" height="31.8"/>
<rect x="3656.4" y="1162.2" width="209.1" height="8.1"/>
<rect x="3688.1" y="1171.2" width="9.1" height="79.4"/>
<rect x="1529.8" y="934.5" width="356.5" height="8.4"/>
<rect x="1529.8" y="934.5" width="3.1" height="147.8"/>
<rect x="1529.8" y="1078.8" width="63.1" height="3.5"/>
<rect x="1585.5" y="943.8" width="7.4" height="72.5"/>
<rect x="1588.8" y="1053.8" width="4.1" height="24.1"/>
<rect x="1675.5" y="943.8" width="4.1" height="98.5"/>
<rect x="1733.8" y="943.8" width="4.1" height="138.5"/>
<rect x="1877.8" y="934.5" width="8.5" height="147.8"/>
<rect x="1786.5" y="1078.8" width="99.8" height="3.5"/>
<rect x="1733.8" y="1078.8" width="15.8" height="3.5"/>
<rect x="1940.5" y="1012.8" width="9.1" height="26.8"/>
<rect x="1887.2" y="1030.5" width="62.4" height="9.1"/>
<rect x="2033.2" y="1012.8" width="8.1" height="11.8"/>
<rect x="2033.2" y="1070.5" width="8.1" height="157.4"/>
<rect x="1628.2" y="1083.2" width="8.1" height="134.7"/>
<rect x="1573.8" y="1218.8" width="315.8" height="8.1"/>
<rect x="1637.2" y="1078.8" width="40.7" height="3.5"/>
<rect x="1958.8" y="1111.2" width="73.5" height="3.4"/>
<rect x="1958.8" y="1111.2" width="3.5" height="106.7"/>
<rect x="1928.8" y="1218.8" width="34.1" height="8.1"/>
<rect x="2000.5" y="1218.8" width="40.8" height="8.1"/>
<rect x="1882.2" y="1227.8" width="4.1" height="140.1"/>
<rect x="1848.8" y="1305.5" width="8.1" height="70.8"/>
<rect x="1848.8" y="1368.8" width="192.5" height="8.1"/>
<rect x="1607.2" y="1227.8" width="4.1" height="141.8"/>
<rect x="1787.8" y="1227.8" width="8.5" height="60.1"/>
<rect x="1760.5" y="1278.8" width="8.4" height="89.1"/>
<rect x="1649.8" y="1367.2" width="109.8" height="4.1"/>
<rect x="1500.5" y="1264.5" width="82.4" height="6.8"/>
<rect x="1573.8" y="1227.8" width="9.1" height="43.5"/>
<rect x="2033.2" y="1080.5" width="269.7" height="9.1"/>
<rect x="2180.4" y="1090.5" width="9.1" height="60.8"/>
<rect x="2140.4" y="1152.2" width="122.4" height="9.1"/>
<rect x="2298.8" y="1090.5" width="4.1" height="70.8"/>
<rect x="2140.4" y="1153.8" width="9.1" height="142.5"/>
<rect x="2237.1" y="1162.2" width="4.1" height="70.7"/>
<rect x="2150.4" y="1230.5" width="50.8" height="3.4"/>
<rect x="2298.8" y="1248.8" width="4.1" height="119.1"/>
<rect x="2042.2" y="1368.8" width="260.7" height="8.1"/>
<rect x="2037.2" y="1297.2" width="112.4" height="7.4"/>
<rect x="2037.2" y="1297.2" width="4.1" height="79.7"/>
<rect x="2360.4" y="1080.5" width="452.4" height="8.4"/>
<rect x="2300.4" y="1080.5" width="14.1" height="8.4"/>
<rect x="2446.4" y="1089.8" width="4.1" height="93.1"/>
<rect x="2446.4" y="1224.5" width="4.1" height="124.4"/>
<rect x="2635.4" y="1089.8" width="8.1" height="143.1"/>
<rect x="2662.1" y="1162.2" width="8.1" height="70.7"/>
<rect x="2446.4" y="1224.5" width="223.8" height="8.4"/>
<rect x="2813.8" y="1089.8" width="8.5" height="189.1"/>
<rect x="2703.1" y="1270.5" width="119.1" height="8.4"/>
<rect x="2703.1" y="1279.8" width="8.1" height="78.1"/>
<rect x="2410.4" y="1349.8" width="300.8" height="8.1"/>
<rect x="2930.4" y="1080.5" width="8.4" height="198.4"/>
<rect x="2939.8" y="1080.5" width="199.8" height="8.4"/>
<rect x="2939.8" y="1161.2" width="199.8" height="8.4"/>
<rect x="2939.8" y="1161.2" width="9.8" height="286.7"/>
<rect x="2873.8" y="1279.8" width="8.5" height="210.8"/>
<rect x="2939.8" y="1448.8" width="76.5" height="8.1"/>
<rect x="3007.8" y="1457.8" width="8.5" height="32.8"/>
<rect x="2823.1" y="1270.5" width="126.4" height="8.4"/>
<rect x="2410.4" y="1358.8" width="7.4" height="131.8"/>
<rect x="2300.4" y="1349.8" width="34.1" height="3.8"/>
<rect x="2377.1" y="1349.8" width="32.4" height="3.8"/>
<rect x="3140.4" y="1080.5" width="62.4" height="8.4"/>
<rect x="3194.8" y="1089.8" width="8.1" height="71.5"/>
<rect x="3100.4" y="1162.2" width="119.1" height="7.4"/>
<rect x="3266.1" y="1162.2" width="278.4" height="7.4"/>
<rect x="3590.4" y="1162.2" width="265.8" height="7.4"/>
<rect x="3243.1" y="1309.8" width="130.4" height="9.1"/>
<rect x="3243.1" y="1309.8" width="8.1" height="146.5"/>
<rect x="3365.4" y="1319.8" width="8.1" height="230.8"/>
<rect x="3243.1" y="1447.8" width="35.7" height="8.5"/>
<rect x="3270.4" y="1457.2" width="8.4" height="93.4"/>
<rect x="3591.1" y="1170.5" width="8.4" height="192.4"/>
<rect x="3591.1" y="1354.5" width="105.7" height="8.4"/>
<rect x="3688.8" y="1170.5" width="8.1" height="349.1"/>
<rect x="3697.8" y="1282.2" width="168.5" height="4.1"/>
<rect x="3800.4" y="1287.2" width="4.1" height="30.7"/>
<rect x="3697.8" y="1353.8" width="111.8" height="4.1"/>
<rect x="3853.1" y="1354.5" width="8.1" height="171.8"/>
<rect x="3688.8" y="1520.5" width="172.5" height="8.1"/>
<rect x="3925.4" y="1354.5" width="4.1" height="171.8"/>
<rect x="3862.1" y="1458.8" width="67.4" height="7.5"/>
<rect x="4097.4" y="1227.8" width="8.1" height="134.5"/>
<rect x="3976.4" y="1353.8" width="109.1" height="4.1"/>
<rect x="3925.8" y="1353.8" width="8.1" height="165.8"/>
<rect x="4056.4" y="1358.8" width="8.1" height="170.1"/>
<rect x="3862.1" y="1520.5" width="206.7" height="8.4"/>
<rect x="3656.4" y="1520.5" width="5.8" height="152.4"/>
<rect x="3763.1" y="1529.8" width="8.1" height="143.1"/>
<rect x="3656.4" y="1665.5" width="114.8" height="8.1"/>
<rect x="3842.1" y="1529.8" width="4.1" height="42.5"/>
<rect x="3772.1" y="1613.8" width="74.1" height="4.1"/>
<rect x="4033.8" y="1529.8" width="8.5" height="71.5"/>
<rect x="4060.4" y="1602.2" width="8.4" height="71.4"/>
<rect x="4033.8" y="1602.2" width="35.1" height="7.4"/>
<rect x="3813.1" y="1665.5" width="255.7" height="8.1"/>
<rect x="3596.4" y="1665.5" width="59.1" height="8.1"/>
<rect x="3520.4" y="1665.5" width="29.1" height="8.1"/>
<rect x="3541.1" y="1674.5" width="4.1" height="68.4"/>
<rect x="3541.1" y="1742.2" width="116.7" height="9.1"/>
<rect x="3649.8" y="1742.2" width="8.1" height="87.4"/>
<rect x="3541.1" y="1815.5" width="38.4" height="8.1"/>
<rect x="3615.4" y="1815.5" width="42.4" height="8.1"/>
<rect x="3536.1" y="1752.2" width="9.1" height="62.4"/>
<rect x="3653.8" y="1868.2" width="4.1" height="91.4"/>
<rect x="3653.8" y="1959.8" width="170.8" height="8.1"/>
<rect x="3649.8" y="1968.8" width="8.1" height="52.5"/>
<rect x="3820.4" y="1968.8" width="8.4" height="52.5"/>
<rect x="3637.1" y="1986.5" width="20.7" height="8.1"/>
<rect x="3820.4" y="1665.5" width="4.1" height="130.1"/>
<rect x="3993.1" y="1665.5" width="8.1" height="329.1"/>
<rect x="4060.4" y="1640.5" width="8.4" height="33.1"/>
<rect x="4002.1" y="1665.5" width="66.7" height="8.1"/>
<rect x="3867.1" y="1793.2" width="125.1" height="3.1"/>
<rect x="3880.4" y="1837.2" width="4.1" height="12.4"/>
<rect x="3820.4" y="1846.5" width="180.8" height="8.1"/>
<rect x="3820.4" y="1855.5" width="4.1" height="32.4"/>
<rect x="3820.4" y="1930.5" width="4.1" height="37.4"/>
<rect x="3935.4" y="1855.5" width="4.1" height="14.1"/>
<rect x="3935.4" y="1908.8" width="8.1" height="76.8"/>
<rect x="3829.8" y="1986.5" width="113.8" height="8.1"/>
<rect x="3474.1" y="1986.5" width="162.1" height="8.1"/>
<rect x="2720.4" y="1665.5" width="42.4" height="8.1"/>
<rect x="2812.1" y="1665.5" width="4.1" height="134.1"/>
<rect x="2809.8" y="1665.5" width="196.5" height="8.1"/>
<rect x="2997.1" y="1665.5" width="8.4" height="139.1"/>
<rect x="2812.1" y="1797.2" width="193.4" height="8.1"/>
<rect x="2813.1" y="1840.5" width="8.1" height="32.4"/>
<rect x="2813.1" y="1867.8" width="129.1" height="5.1"/>
<rect x="2933.8" y="1797.2" width="8.5" height="225.7"/>
<rect x="2720.4" y="1959.8" width="221.8" height="8.1"/>
<rect x="2813.8" y="1968.8" width="4.1" height="54.1"/>
<rect x="3007.1" y="1665.5" width="8.4" height="364.1"/>
<rect x="3007.1" y="1665.5" width="148.4" height="8.1"/>
<rect x="3075.4" y="1665.5" width="8.1" height="130.8"/>
<rect x="3147.8" y="1665.5" width="7.8" height="139.1"/>
<rect x="3016.4" y="1796.5" width="73.1" height="8.1"/>
<rect x="3152.1" y="1847.2" width="3.4" height="120.7"/>
<rect x="3016.4" y="1993.8" width="139.1" height="0.1"/>
<rect x="3156.4" y="1665.5" width="84.8" height="8.1"/>
<rect x="3156.4" y="1959.8" width="143.1" height="8.1"/>
<rect x="3292.1" y="1665.5" width="3.4" height="134.1"/>
<rect x="3284.4" y="1665.5" width="275.1" height="8.1"/>
<rect x="3474.4" y="1665.5" width="8.4" height="147.4"/>
<rect x="3292.1" y="1797.2" width="190.7" height="8.1"/>
<rect x="3292.1" y="1840.5" width="8.1" height="32.4"/>
<rect x="3292.1" y="1867.8" width="125.7" height="5.1"/>
<rect x="3410.4" y="1797.2" width="8.1" height="225.7"/>
<rect x="3292.1" y="1959.8" width="126.4" height="8.1"/>
<rect x="3292.1" y="1968.8" width="3.4" height="54.1"/>
<rect x="3536.4" y="1674.5" width="8.1" height="138.4"/>
<rect x="3474.4" y="1813.8" width="85.1" height="9.1"/>
<rect x="3474.4" y="1823.8" width="8.4" height="199.1"/>
<rect x="1900.5" y="1665.5" width="116.4" height="8.1"/>
<rect x="2038.8" y="1674.5" width="8.1" height="98.4"/>
<rect x="1900.5" y="1765.5" width="137.4" height="7.4"/>
<rect x="2097.8" y="1665.5" width="357.8" height="8.1"/>
<rect x="1987.2" y="1773.8" width="8.1" height="70.8"/>
<rect x="1900.5" y="1842.2" width="45.8" height="3.4"/>
<rect x="1980.5" y="1842.2" width="14.8" height="3.4"/>
<rect x="2042.8" y="1841.2" width="3.5" height="126.7"/>
<rect x="2042.8" y="1968.8" width="3.5" height="54.1"/>
<rect x="2047.2" y="1959.8" width="138.4" height="8.1"/>
<rect x="2209.8" y="1665.5" width="4.1" height="145.8"/>
<rect x="2362.1" y="1665.5" width="9.1" height="216.8"/>
<rect x="2255.4" y="1807.2" width="115.8" height="5.1"/>
<rect x="2263.8" y="1813.2" width="3.1" height="19.7"/>
<rect x="2183.1" y="1873.2" width="148.1" height="4.1"/>
<rect x="2330.4" y="1873.8" width="40.8" height="8.5"/>
<rect x="2322.1" y="1878.2" width="8.1" height="144.7"/>
<rect x="2182.1" y="1883.2" width="3.4" height="139.7"/>
<rect x="2186.4" y="1965.5" width="143.8" height="8.1"/>
<rect x="2372.1" y="1743.8" width="83.4" height="8.5"/>
<rect x="2447.1" y="1665.5" width="8.4" height="199.1"/>
<rect x="2565.4" y="1665.5" width="8.1" height="199.1"/>
<rect x="2447.1" y="1856.5" width="126.4" height="8.1"/>
<rect x="2565.4" y="1665.5" width="84.8" height="8.1"/>
<rect x="2642.1" y="1665.5" width="8.1" height="200.8"/>
<rect x="2574.4" y="1743.2" width="75.8" height="8.1"/>
<rect x="2613.8" y="1865.5" width="36.5" height="4.1"/>
<rect x="2447.1" y="1865.5" width="8.4" height="170.8"/>
<rect x="2647.1" y="1905.5" width="3.1" height="62.4"/>
<rect x="2456.4" y="1999.8" width="193.8" height="0.1"/>
<rect x="2651.1" y="1665.5" width="88.4" height="8.1"/>
<rect x="2651.1" y="1959.8" width="155.1" height="8.1"/>
<rect x="2647.1" y="1968.8" width="3.1" height="54.1"/>
<rect x="1878.8" y="1765.5" width="20.8" height="7.4"/>
<rect x="1878.8" y="1842.2" width="20.8" height="3.4"/>
<rect x="1878.8" y="1986.5" width="167.5" height="8.4"/>
<rect x="1125.5" y="1639.8" width="60.8" height="8.1"/>
<rect x="1225.5" y="1639.8" width="39.1" height="8.1"/>
<rect x="1125.5" y="1648.8" width="9.1" height="79.1"/>
<rect x="1260.5" y="1648.8" width="4.1" height="84.1"/>
<rect x="1125.5" y="1728.8" width="134.1" height="4.1"/>
<rect x="1125.5" y="1733.8" width="9.1" height="105.8"/>
<rect x="1140.5" y="1902.2" width="105.8" height="4.1"/>
<rect x="1140.5" y="1942.2" width="4.1" height="44.1"/>
<rect x="1217.2" y="1907.2" width="4.1" height="79.1"/>
<rect x="1288.8" y="1885.5" width="4.1" height="100.8"/>
<rect x="1080.5" y="1987.2" width="335.8" height="8.4"/>
<rect x="1537.2" y="1600.5" width="7.4" height="12.4"/>
<rect x="1318.8" y="1665.5" width="8.1" height="155.8"/>
<rect x="1318.8" y="1665.5" width="353.5" height="8.1"/>
<rect x="1718.8" y="1665.5" width="180.8" height="8.1"/>
<rect x="1410.5" y="1665.5" width="8.1" height="357.4"/>
<rect x="1583.2" y="1674.5" width="4.1" height="98.4"/>
<rect x="1419.5" y="1768.8" width="111.8" height="4.1"/>
<rect x="1527.2" y="1768.8" width="4.1" height="75.8"/>
<rect x="1419.5" y="1843.2" width="66.8" height="3.7"/>
<rect x="1578.8" y="1838.8" width="8.5" height="184.1"/>
<rect x="1410.5" y="1987.2" width="176.8" height="8.4"/>
<rect x="1588.2" y="1959.8" width="134.7" height="8.1"/>
<rect x="1723.8" y="1665.5" width="4.1" height="62.4"/>
<rect x="1833.8" y="1665.5" width="9.1" height="99.1"/>
<rect x="1723.8" y="1765.5" width="119.1" height="7.4"/>
<rect x="1757.2" y="1773.8" width="4.1" height="25.8"/>
<rect x="1757.2" y="1840.5" width="115.7" height="5.1"/>
<rect x="1723.8" y="1846.5" width="4.1" height="6.4"/>
<rect x="1723.8" y="1888.8" width="4.1" height="134.1"/>
<rect x="1868.8" y="1765.5" width="9.1" height="257.4"/>
<rect x="1723.8" y="1987.2" width="154.1" height="8.4"/>
<rect x="1370.5" y="1262.2" width="49.1" height="8.4"/>
<rect x="1453.8" y="1262.2" width="45.8" height="8.4"/>
<rect x="1467.2" y="1218.8" width="4.1" height="42.5"/>
<rect x="1370.5" y="1271.5" width="9.1" height="118.1"/>
<rect x="1300.5" y="1385.5" width="170.8" height="8.4"/>
<rect x="1467.2" y="1588.8" width="85.7" height="8.1"/>
<rect x="1660.5" y="1409.8" width="4.1" height="27.1"/>
<rect x="1655.5" y="1437.8" width="113.4" height="4.1"/>
<rect x="1760.5" y="1360.5" width="8.4" height="152.4"/>
<rect x="1606.5" y="1457.8" width="4.8" height="139.1"/>
<rect x="1600.5" y="1588.8" width="472.4" height="8.1"/>
<rect x="1760.5" y="1512.2" width="122.4" height="8.1"/>
<rect x="1875.5" y="1512.2" width="7.4" height="84.7"/>
<rect x="1875.5" y="1388.8" width="7.4" height="67.5"/>
<rect x="1875.5" y="1452.2" width="197.4" height="4.1"/>
<rect x="1875.5" y="1457.2" width="7.4" height="54.1"/>
<rect x="1300.5" y="1394.8" width="7.4" height="58.1"/>
<rect x="1273.8" y="1453.8" width="7.5" height="62.5"/>
<rect x="1467.2" y="1437.8" width="4.1" height="150.1"/>
<rect x="1244.5" y="1516.5" width="221.8" height="8.1"/>
<rect x="1244.5" y="1525.5" width="8.4" height="120.8"/>
<rect x="1535.5" y="1597.8" width="9.1" height="16.8"/>
<rect x="1244.5" y="1570.5" width="8.4" height="69.1"/>
<rect x="1017.8" y="1842.2" width="116.8" height="8.1"/>
<rect x="1017.8" y="1842.2" width="8.5" height="177.4"/>
<rect x="1017.8" y="1987.2" width="61.8" height="8.4"/>
<rect x="2210.4" y="1373.8" width="8.4" height="222.5"/>
<rect x="2073.8" y="1588.8" width="88.5" height="8.1"/>
<rect x="2294.4" y="1377.8" width="8.4" height="130.1"/>
<rect x="2210.4" y="1588.8" width="209.1" height="8.1"/>
<rect x="2409.8" y="1491.5" width="8.1" height="96.4"/>
<rect x="2294.4" y="1503.8" width="114.4" height="4.1"/>
<rect x="2418.8" y="1588.8" width="347.5" height="8.1"/>
<rect x="2813.1" y="1588.8" width="66.4" height="8.1"/>
<rect x="2873.8" y="1491.5" width="8.5" height="105.4"/>
<rect x="3007.1" y="1491.5" width="8.4" height="96.4"/>
<rect x="2860.4" y="1588.8" width="169.1" height="8.1"/>
<rect x="3073.8" y="1588.8" width="587.5" height="8.1"/>
<rect x="3365.4" y="1551.5" width="8.1" height="36.4"/>
<rect x="3270.4" y="1551.5" width="8.4" height="36.4"/>
</g>
<g id="thin"><rect x="1837.3" y="634.3" width="4.4" height="155.7" rx="0" fill="#999" stroke="#000" stroke-width="0.8"/>
<polyline points="1950.0,736.7 1950.0,778.3" fill="none" stroke="#000" stroke-width="1.0" stroke-dasharray="7 4"/>
<polyline points="1954.3,736.7 1954.3,778.3" fill="none" stroke="#000" stroke-width="1.0" stroke-dasharray="7 4"/>
<rect x="1841.7" y="772.3" width="57.3" height="13.4" rx="0" fill="none" stroke="#000" stroke-width="1.1"/>
<polyline points="1841.7,763.3 1950.0,763.3" fill="none" stroke="#000" stroke-width="1.2" stroke-dasharray="1 5"/>
<polyline points="1954.3,676.0 2021.7,676.0" fill="none" stroke="#000" stroke-width="1.1"/>
<polyline points="1841.7,661.7 1922.7,661.7 1922.7,730.0 1950.0,730.0" fill="none" stroke="#000" stroke-width="1.1"/>
<use href="#stove" transform="translate(1936.7 692.7) rotate(0) scale(1.067 1.067)"/>
<use href="#sink" transform="translate(1858.3 646.0) rotate(0) scale(1.4 1.4)"/>
<use href="#wm" transform="translate(1812.7 647.3) rotate(0) scale(1.533 1.533)"/>
<use href="#iwc" transform="translate(1989.3 652.7) rotate(0) scale(1.333 1.333)"/>
<rect x="1786.0" y="681.7" width="4.7" height="51.6" fill="#fff" stroke="#000" stroke-width="1.1"/><path d="M1787.9,684.7 v45.6 M1789.3,684.7 v45.6" stroke="#000" stroke-width="1.0"/>
<circle cx="1988.3" cy="617.3" r="5.7" fill="none" stroke="#000" stroke-width="1.0"/>
<rect x="1978.3" y="626.7" width="20.0" height="6.6" rx="0" fill="none" stroke="#000" stroke-width="1.1"/>
<polyline points="2118.3,604.0 2125.0,604.0 2139.3,625.0" fill="none" stroke="#000" stroke-width="1.1"/>
<path d="M1956.7,703.3 A30.0,30.0 0 0 1 1986.7,733.3" fill="none" stroke="#000" stroke-width="1.1"/>
<path d="M1956.7,733.3 L1956.7,703.3" fill="none" stroke="#000" stroke-width="2.6" stroke-dasharray="9 1.5"/>
<circle cx="1971.7" cy="725.0" r="6.7" fill="none" stroke="#000" stroke-width="1.0"/>
<polyline points="2031.7,630.0 2177.3,630.0" fill="none" stroke="#000" stroke-width="1.1"/>
<rect x="2058.3" y="694.3" width="93.4" height="6.4" fill="#fff" stroke="#000" stroke-width="1.1"/><path d="M2061.3,696.9 h87.4 M2061.3,698.8 h87.4" stroke="#000" stroke-width="1.0"/>
<polyline points="2031.7,625.7 2177.3,625.7" fill="none" stroke="#000" stroke-width="1.1"/>
<use href="#bch" transform="translate(2053.3 665.0) rotate(0) scale(1.1 1.1)"/>
<use href="#bch" transform="translate(2155.0 665.0) rotate(0) scale(-1.1 1.1)"/>
<use href="#basin" transform="translate(2038.3 716.7) rotate(0) scale(1.2 1.2)"/>
<circle cx="2103.3" cy="716.0" r="8.0" fill="none" stroke="#000" stroke-width="1.0"/>
<rect x="2081.8" y="732.8" width="18.7" height="18.7" fill="#fff" stroke="#000" stroke-width="1.1"/><rect x="2144.5" y="732.8" width="18.7" height="18.7" fill="#fff" stroke="#000" stroke-width="1.1"/><path d="M2085.6,732.8 v18.7 M2159.4,732.8 v18.7" stroke="#000" stroke-width="1"/><rect x="2081.8" y="761.5" width="18.7" height="18.7" fill="#fff" stroke="#000" stroke-width="1.1"/><rect x="2144.5" y="761.5" width="18.7" height="18.7" fill="#fff" stroke="#000" stroke-width="1.1"/><path d="M2085.6,761.5 v18.7 M2159.4,761.5 v18.7" stroke="#000" stroke-width="1"/><rect x="2081.8" y="790.3" width="18.7" height="18.7" fill="#fff" stroke="#000" stroke-width="1.1"/><rect x="2144.5" y="790.3" width="18.7" height="18.7" fill="#fff" stroke="#000" stroke-width="1.1"/><path d="M2085.6,790.3 v18.7 M2159.4,790.3 v18.7" stroke="#000" stroke-width="1"/><rect x="2097.7" y="727.7" width="49.6" height="86.3" fill="#fff" stroke="#000" stroke-width="1.2"/>
<rect x="2033.3" y="791.7" width="24.0" height="27.3" rx="0" fill="none" stroke="#000" stroke-width="1.1"/>
<path d="M2015.0,819.0 A37.3,37.3 0 0 1 1977.7,781.7" fill="none" stroke="#000" stroke-width="1.1"/>
<path d="M2015.0,781.7 L2015.0,819.0" fill="none" stroke="#000" stroke-width="2.6" stroke-dasharray="9 1.5"/>
<circle cx="1996.7" cy="790.7" r="6.7" fill="none" stroke="#000" stroke-width="1.0"/>
<rect x="2069.3" y="867.3" width="30.0" height="28.7" rx="0" fill="none" stroke="#000" stroke-width="1.1"/>
<rect x="2072.0" y="871.3" width="24.7" height="24.7" rx="0" fill="none" stroke="#000" stroke-width="1.1"/>
<rect x="2103.3" y="867.3" width="29.4" height="28.7" rx="0" fill="none" stroke="#000" stroke-width="1.1"/>
<rect x="2106.0" y="871.3" width="24.0" height="24.7" rx="0" fill="none" stroke="#000" stroke-width="1.1"/>
<rect x="2031.7" y="891.7" width="31.0" height="90.0" rx="0" fill="none" stroke="#000" stroke-width="1.1"/>
<polyline points="2036.0,896.0 2062.7,896.0" fill="none" stroke="#000" stroke-width="1.1"/>
<polyline points="2036.0,923.3 2062.7,923.3" fill="none" stroke="#000" stroke-width="1.1"/>
<polyline points="2036.0,951.7 2062.7,951.7" fill="none" stroke="#000" stroke-width="1.1"/>
<polyline points="2036.0,977.3 2062.7,977.3" fill="none" stroke="#000" stroke-width="1.1"/>
<polyline points="2036.0,896.0 2036.0,977.3" fill="none" stroke="#000" stroke-width="1.1"/>
<rect x="2082.7" y="914.3" width="34.0" height="54.0" rx="1" fill="none" stroke="#000" stroke-width="1.1"/>
<rect x="2142.7" y="862.7" width="34.0" height="28.0" rx="0" fill="none" stroke="#000" stroke-width="2.4"/>
<rect x="2136.7" y="897.3" width="45.6" height="17.7" rx="0" fill="none" stroke="#000" stroke-width="1.1"/>
<rect x="2186.7" y="891.7" width="10.0" height="50.0" rx="0" fill="none" stroke="#000" stroke-width="1.1"/>
<rect x="2189.3" y="896.0" width="4.0" height="42.3" rx="0" fill="none" stroke="#000" stroke-width="1.1"/>
<use href="#tel" transform="translate(2043.3 992.7) rotate(0) scale(1.133 1.133)"/>
<use href="#tel" transform="translate(1895.0 951.7) rotate(0) scale(1.133 1.133)"/>
<rect x="2001.7" y="1004.0" width="18.3" height="3.3" rx="0" fill="none" stroke="#000" stroke-width="1.1"/>
<rect x="2122.7" y="1004.0" width="19.0" height="3.3" rx="0" fill="none" stroke="#000" stroke-width="1.1"/>
<circle cx="2173.3" cy="1000.0" r="7.3" fill="none" stroke="#000" stroke-width="1.0"/>
<path d="M2192.3,962.6 A40.7,40.7 0 0 0 2151.6,1003.3" fill="none" stroke="#000" stroke-width="1.1" stroke-dasharray="2 3"/>
<path d="M2192.3,1003.3 L2192.3,962.6" fill="none" stroke="#000" stroke-width="2.6" stroke-dasharray="9 1.5"/>
<rect x="1889.0" y="871.7" width="86.0" height="66.6" rx="2" fill="#fff" stroke="#000" stroke-width="1.2"/><g transform="translate(1975.0 871.7) scale(-1 1)"><rect x="84.0" y="-2.0" width="6.0" height="70.6" fill="#fff" stroke="#000" stroke-width="1.1"/><path d="M32.7,66.6 L68.8,0 M47.3,66.6 L71.4,0" fill="none" stroke="#000" stroke-width="1.1"/><path d="M64.5,2.7 q6.0,-3.3 13.8,-0.4 l5.2,16.0 q-2.6,4.4 -11.2,4.0 l-10.3,-7.1 q-2.6,-6.7 1.7,-10.2 Z" fill="#fff" stroke="#000" stroke-width="1.5"/><path d="M67.1,6.7 l6.0,2.2 M68.8,12.2 l7.7,-2.2 M74.8,4.4 l5.2,11.1" fill="none" stroke="#000" stroke-width="0.9"/><path d="M64.5,24.9 q6.0,-3.3 13.8,-0.4 l5.2,16.0 q-2.6,4.4 -11.2,4.0 l-10.3,-7.1 q-2.6,-6.7 1.7,-10.2 Z" fill="#fff" stroke="#000" stroke-width="1.5"/><path d="M67.1,28.9 l6.0,2.2 M68.8,34.4 l7.7,-2.2 M74.8,26.6 l5.2,11.1" fill="none" stroke="#000" stroke-width="0.9"/><path d="M64.5,47.1 q6.0,-3.3 13.8,-0.4 l5.2,16.0 q-2.6,4.4 -11.2,4.0 l-10.3,-7.1 q-2.6,-6.7 1.7,-10.2 Z" fill="#fff" stroke="#000" stroke-width="1.5"/><path d="M67.1,51.1 l6.0,2.2 M68.8,56.6 l7.7,-2.2 M74.8,48.8 l5.2,11.1" fill="none" stroke="#000" stroke-width="0.9"/><path d="M80.8,0 V66.6" stroke="#000" stroke-width="0.9"/></g>
<rect x="2013.3" y="876.0" width="11.7" height="52.3" rx="0" fill="none" stroke="#000" stroke-width="1.1"/>
<rect x="2016.0" y="880.7" width="4.7" height="43.3" rx="0" fill="none" stroke="#000" stroke-width="1.1"/>
<rect x="1886.7" y="1012.3" width="53.3" height="17.7" fill="none" stroke="#000" stroke-width="1.1"/><path d="M1888.7,1021.1 H1938.0" stroke="#000" stroke-width="1.2"/><path d="M1893.1,1015.5 L1893.1,1026.8" stroke="#000" stroke-width="1.5"/><path d="M1902.5,1015.5 L1897.2,1026.8" stroke="#000" stroke-width="1.5"/><path d="M1903.9,1015.5 L1909.2,1026.8" stroke="#000" stroke-width="1.5"/><path d="M1913.3,1015.5 L1913.3,1026.8" stroke="#000" stroke-width="1.5"/><path d="M1917.5,1015.5 L1922.8,1026.8" stroke="#000" stroke-width="1.5"/><path d="M1929.5,1015.5 L1924.2,1026.8" stroke="#000" stroke-width="1.5"/><path d="M1933.6,1015.5 L1933.6,1026.8" stroke="#000" stroke-width="1.5"/>
<use href="#wc" transform="translate(1797.3 842.7) rotate(0) scale(1.2 1.2)"/>
<use href="#tap" transform="translate(1835.0 847.3) rotate(0) scale(1.133 1.133)"/>
<use href="#basin" transform="translate(1866.7 846.7) rotate(90) scale(1.2 1.2)"/>
<polyline points="1773.3,852.7 1876.7,852.7" fill="none" stroke="#000" stroke-width="1.1"/>
<path d="M1851.0,796.7 A31.7,31.7 0 0 0 1882.7,828.4" fill="none" stroke="#000" stroke-width="1.1"/>
<path d="M1882.7,796.7 L1851.0,796.7" fill="none" stroke="#000" stroke-width="2.6" stroke-dasharray="9 1.5"/>
<circle cx="1874.3" cy="814.0" r="6.7" fill="none" stroke="#000" stroke-width="1.0"/>
<circle cx="1755.7" cy="825.0" r="5.7" fill="none" stroke="#000" stroke-width="1.0"/>
<polyline points="1850.7,866.7 1850.7,907.7 1782.3,907.7 1782.3,934.0" fill="none" stroke="#000" stroke-width="1.0" stroke-dasharray="7 4"/>
<rect x="1881.7" y="880.0" width="5.0" height="51.7" fill="#fff" stroke="#000" stroke-width="1.1"/><path d="M1883.7,883.0 v45.7 M1885.2,883.0 v45.7" stroke="#000" stroke-width="1.0"/>
<rect x="1789.3" y="935.0" width="54.0" height="7.3" fill="#fff" stroke="#000" stroke-width="1.1"/><path d="M1792.3,937.9 h48.0 M1792.3,940.1 h48.0" stroke="#000" stroke-width="1.0"/>
<rect x="2220.0" y="577.3" width="68.3" height="26.0" rx="0" fill="none" stroke="#000" stroke-width="1.1" stroke-dasharray="7 4"/>
<rect x="2227.3" y="605.0" width="53.4" height="7.0" fill="#fff" stroke="#000" stroke-width="1.1"/><path d="M2230.3,607.8 h47.4 M2230.3,609.9 h47.4" stroke="#000" stroke-width="1.0"/>
<rect x="2232.3" y="643.3" width="87.7" height="66.7" rx="2" fill="#fff" stroke="#000" stroke-width="1.2"/><g transform="translate(2232.3 643.3)"><rect x="85.7" y="-2.0" width="6.0" height="70.7" fill="#fff" stroke="#000" stroke-width="1.1"/><path d="M33.3,66.7 L70.2,0 M48.2,66.7 L72.8,0" fill="none" stroke="#000" stroke-width="1.1"/><path d="M65.8,2.7 q6.1,-3.3 14.0,-0.4 l5.3,16.0 q-2.6,4.4 -11.4,4.0 l-10.5,-7.1 q-2.6,-6.7 1.8,-10.2 Z" fill="#fff" stroke="#000" stroke-width="1.5"/><path d="M68.4,6.7 l6.1,2.2 M70.2,12.2 l7.9,-2.2 M76.3,4.4 l5.3,11.1" fill="none" stroke="#000" stroke-width="0.9"/><path d="M65.8,24.9 q6.1,-3.3 14.0,-0.4 l5.3,16.0 q-2.6,4.4 -11.4,4.0 l-10.5,-7.1 q-2.6,-6.7 1.8,-10.2 Z" fill="#fff" stroke="#000" stroke-width="1.5"/><path d="M68.4,28.9 l6.1,2.2 M70.2,34.5 l7.9,-2.2 M76.3,26.7 l5.3,11.1" fill="none" stroke="#000" stroke-width="0.9"/><path d="M65.8,47.1 q6.1,-3.3 14.0,-0.4 l5.3,16.0 q-2.6,4.4 -11.4,4.0 l-10.5,-7.1 q-2.6,-6.7 1.8,-10.2 Z" fill="#fff" stroke="#000" stroke-width="1.5"/><path d="M68.4,51.1 l6.1,2.2 M70.2,56.7 l7.9,-2.2 M76.3,48.9 l5.3,11.1" fill="none" stroke="#000" stroke-width="0.9"/><path d="M82.4,0 V66.7" stroke="#000" stroke-width="0.9"/></g>
<use href="#tel" transform="translate(2310.0 630.0) rotate(0) scale(1.133 1.133)"/>
<rect x="2188.3" y="652.7" width="11.7" height="51.3" rx="0" fill="none" stroke="#000" stroke-width="1.1"/>
<rect x="2191.3" y="657.3" width="4.7" height="42.7" rx="0" fill="none" stroke="#000" stroke-width="1.1"/>
<polyline points="2191.7,745.7 2321.7,745.7" fill="none" stroke="#000" stroke-width="1.0" stroke-dasharray="7 4"/>
<polyline points="2193.3,753.3 2266.7,753.3" fill="none" stroke="#000" stroke-width="1.2" stroke-dasharray="1 5"/>
<polyline points="2193.3,761.7 2266.7,761.7" fill="none" stroke="#000" stroke-width="1.2" stroke-dasharray="1 5"/>
<rect x="2267.7" y="746.7" width="54.0" height="21.6" fill="none" stroke="#000" stroke-width="1.1"/><path d="M2269.7,757.5 H2319.7" stroke="#000" stroke-width="1.2"/><path d="M2274.1,750.6 L2274.1,764.4" stroke="#000" stroke-width="1.5"/><path d="M2284.2,750.6 L2277.7,764.4" stroke="#000" stroke-width="1.5"/><path d="M2284.6,750.6 L2291.1,764.4" stroke="#000" stroke-width="1.5"/><path d="M2294.7,750.6 L2294.7,764.4" stroke="#000" stroke-width="1.5"/><path d="M2298.3,750.6 L2304.8,764.4" stroke="#000" stroke-width="1.5"/><path d="M2311.7,750.6 L2305.2,764.4" stroke="#000" stroke-width="1.5"/><path d="M2315.3,750.6 L2315.3,764.4" stroke="#000" stroke-width="1.5"/>
<path d="M2190.0,738.3 A31.0,31.0 0 0 1 2221.0,769.3" fill="none" stroke="#000" stroke-width="1.1"/>
<path d="M2190.0,769.3 L2190.0,738.3" fill="none" stroke="#000" stroke-width="2.6" stroke-dasharray="9 1.5"/>
<circle cx="2207.3" cy="769.0" r="6.7" fill="none" stroke="#000" stroke-width="1.0"/>
<polyline points="2265.7,825.7 2415.0,825.7" fill="none" stroke="#000" stroke-width="1.0" stroke-dasharray="7 4"/>
<rect x="2270.7" y="847.3" width="52.6" height="6.7" fill="#fff" stroke="#000" stroke-width="1.1"/><path d="M2273.7,850.0 h46.6 M2273.7,852.0 h46.6" stroke="#000" stroke-width="1.0"/>
<rect x="2356.0" y="847.3" width="52.3" height="6.7" fill="#fff" stroke="#000" stroke-width="1.1"/><path d="M2359.0,850.0 h46.3 M2359.0,852.0 h46.3" stroke="#000" stroke-width="1.0"/>
<path d="M2215.0,884.0 A36.7,36.7 0 0 0 2251.7,847.3" fill="none" stroke="#000" stroke-width="1.1"/>
<path d="M2215.0,847.3 L2215.0,884.0" fill="none" stroke="#000" stroke-width="2.6" stroke-dasharray="9 1.5"/>
<circle cx="2231.7" cy="852.3" r="6.7" fill="none" stroke="#000" stroke-width="1.0"/>
<polyline points="2216.7,860.0 2341.7,860.0" fill="none" stroke="#000" stroke-width="1.2" stroke-dasharray="1 5"/>
<polyline points="2216.7,870.0 2341.7,870.0" fill="none" stroke="#000" stroke-width="1.2" stroke-dasharray="1 5"/>
<polyline points="2216.7,877.3 2341.7,877.3" fill="none" stroke="#000" stroke-width="0.8" stroke-dasharray="7 4"/>
<rect x="2252.3" y="906.7" width="87.7" height="67.6" rx="2" fill="#fff" stroke="#000" stroke-width="1.2"/><g transform="translate(2252.3 906.7)"><rect x="85.7" y="-2.0" width="6.0" height="71.6" fill="#fff" stroke="#000" stroke-width="1.1"/><path d="M33.3,67.6 L70.2,0 M48.2,67.6 L72.8,0" fill="none" stroke="#000" stroke-width="1.1"/><path d="M65.8,2.7 q6.1,-3.4 14.0,-0.5 l5.3,16.2 q-2.6,4.5 -11.4,4.1 l-10.5,-7.2 q-2.6,-6.8 1.8,-10.4 Z" fill="#fff" stroke="#000" stroke-width="1.5"/><path d="M68.4,6.8 l6.1,2.3 M70.2,12.4 l7.9,-2.3 M76.3,4.5 l5.3,11.3" fill="none" stroke="#000" stroke-width="0.9"/><path d="M65.8,25.2 q6.1,-3.4 14.0,-0.5 l5.3,16.2 q-2.6,4.5 -11.4,4.1 l-10.5,-7.2 q-2.6,-6.8 1.8,-10.4 Z" fill="#fff" stroke="#000" stroke-width="1.5"/><path d="M68.4,29.3 l6.1,2.3 M70.2,34.9 l7.9,-2.3 M76.3,27.0 l5.3,11.3" fill="none" stroke="#000" stroke-width="0.9"/><path d="M65.8,47.8 q6.1,-3.4 14.0,-0.5 l5.3,16.2 q-2.6,4.5 -11.4,4.1 l-10.5,-7.2 q-2.6,-6.8 1.8,-10.4 Z" fill="#fff" stroke="#000" stroke-width="1.5"/><path d="M68.4,51.8 l6.1,2.3 M70.2,57.5 l7.9,-2.3 M76.3,49.6 l5.3,11.3" fill="none" stroke="#000" stroke-width="0.9"/><path d="M82.4,0 V67.6" stroke="#000" stroke-width="0.9"/></g>
<use href="#wm" transform="translate(2435.0 628.3) rotate(90) scale(1.533 1.533)"/>
<use href="#sink" transform="translate(2473.3 668.3) rotate(0) scale(1.4 1.4)"/>
<polyline points="2455.0,685.0 2491.7,685.0 2491.7,656.7" fill="none" stroke="#000" stroke-width="1.1"/>
<polyline points="2455.0,685.0 2455.0,760.0" fill="none" stroke="#000" stroke-width="1.1"/>
<use href="#stove" transform="translate(2440.7 721.7) rotate(0) scale(1.067 1.067)"/>
<rect x="2416.7" y="691.7" width="6.0" height="50.0" fill="#fff" stroke="#000" stroke-width="1.1"/><path d="M2419.1,694.7 v44.0 M2420.9,694.7 v44.0" stroke="#000" stroke-width="1.0"/>
<rect x="2424.0" y="764.0" width="57.7" height="12.7" rx="0" fill="none" stroke="#000" stroke-width="1.1"/>
<polyline points="2424.0,754.3 2506.7,754.3" fill="none" stroke="#000" stroke-width="1.2" stroke-dasharray="1 5"/>
<rect x="2506.7" y="752.7" width="30.0" height="24.0" rx="0" fill="none" stroke="#000" stroke-width="1.1"/>
<use href="#basin" transform="translate(2434.3 797.3) rotate(90) scale(1.2 1.2)"/>
<use href="#tap" transform="translate(2473.3 793.3) rotate(0) scale(1.133 1.133)"/>
<use href="#wc" transform="translate(2516.7 805.0) rotate(0) scale(1.2 1.2)"/>
<circle cx="2406.7" cy="817.7" r="5.7" fill="none" stroke="#000" stroke-width="1.0"/>
<path d="M2466.7,819.0 A26.7,26.7 0 0 1 2493.4,845.7" fill="none" stroke="#000" stroke-width="1.1"/>
<path d="M2466.7,845.7 L2466.7,819.0" fill="none" stroke="#000" stroke-width="2.6" stroke-dasharray="9 1.5"/>
<circle cx="2481.7" cy="840.7" r="6.7" fill="none" stroke="#000" stroke-width="1.0"/>
<rect x="2399.3" y="915.7" width="68.4" height="86.0" rx="2" fill="#fff" stroke="#000" stroke-width="1.2"/><g transform="translate(2467.7 915.7) rotate(90)"><rect x="84.0" y="-2.0" width="6.0" height="72.4" fill="#fff" stroke="#000" stroke-width="1.1"/><path d="M32.7,68.4 L68.8,0 M47.3,68.4 L71.4,0" fill="none" stroke="#000" stroke-width="1.1"/><path d="M64.5,2.7 q6.0,-3.4 13.8,-0.5 l5.2,16.4 q-2.6,4.6 -11.2,4.1 l-10.3,-7.3 q-2.6,-6.8 1.7,-10.5 Z" fill="#fff" stroke="#000" stroke-width="1.5"/><path d="M67.1,6.8 l6.0,2.3 M68.8,12.5 l7.7,-2.3 M74.8,4.6 l5.2,11.4" fill="none" stroke="#000" stroke-width="0.9"/><path d="M64.5,25.5 q6.0,-3.4 13.8,-0.5 l5.2,16.4 q-2.6,4.6 -11.2,4.1 l-10.3,-7.3 q-2.6,-6.8 1.7,-10.5 Z" fill="#fff" stroke="#000" stroke-width="1.5"/><path d="M67.1,29.6 l6.0,2.3 M68.8,35.3 l7.7,-2.3 M74.8,27.4 l5.2,11.4" fill="none" stroke="#000" stroke-width="0.9"/><path d="M64.5,48.3 q6.0,-3.4 13.8,-0.5 l5.2,16.4 q-2.6,4.6 -11.2,4.1 l-10.3,-7.3 q-2.6,-6.8 1.7,-10.5 Z" fill="#fff" stroke="#000" stroke-width="1.5"/><path d="M67.1,52.4 l6.0,2.3 M68.8,58.1 l7.7,-2.3 M74.8,50.2 l5.2,11.4" fill="none" stroke="#000" stroke-width="0.9"/><path d="M80.8,0 V68.4" stroke="#000" stroke-width="0.9"/></g>
<rect x="2411.7" y="856.7" width="51.6" height="11.6" rx="0" fill="none" stroke="#000" stroke-width="1.1"/>
<rect x="2416.7" y="860.0" width="41.6" height="4.0" rx="0" fill="none" stroke="#000" stroke-width="1.1"/>
<use href="#tel" transform="translate(2383.3 991.7) rotate(0) scale(1.133 1.133)"/>
<rect x="2516.7" y="943.3" width="23.3" height="60.0" fill="none" stroke="#000" stroke-width="1.1"/><path d="M2528.3,945.3 V1001.3" stroke="#000" stroke-width="1.2"/><path d="M2520.9,949.7 L2535.8,949.7" stroke="#000" stroke-width="1.5"/><path d="M2520.9,959.9 L2535.8,952.9" stroke="#000" stroke-width="1.5"/><path d="M2520.9,959.7 L2535.8,966.7" stroke="#000" stroke-width="1.5"/><path d="M2520.9,969.9 L2535.8,969.9" stroke="#000" stroke-width="1.5"/><path d="M2520.9,973.2 L2535.8,980.2" stroke="#000" stroke-width="1.5"/><path d="M2520.9,986.9 L2535.8,979.9" stroke="#000" stroke-width="1.5"/><path d="M2520.9,990.2 L2535.8,990.2" stroke="#000" stroke-width="1.5"/><path d="M2520.9,1000.4 L2535.8,993.4" stroke="#000" stroke-width="1.5"/>
<rect x="1789.3" y="965.0" width="85.7" height="66.7" rx="2" fill="#fff" stroke="#000" stroke-width="1.2"/><g transform="translate(1789.3 965.0)"><rect x="83.7" y="-2.0" width="6.0" height="70.7" fill="#fff" stroke="#000" stroke-width="1.1"/><path d="M32.6,66.7 L68.6,0 M47.1,66.7 L71.1,0" fill="none" stroke="#000" stroke-width="1.1"/><path d="M64.3,2.7 q6.0,-3.3 13.7,-0.4 l5.1,16.0 q-2.6,4.4 -11.1,4.0 l-10.3,-7.1 q-2.6,-6.7 1.7,-10.2 Z" fill="#fff" stroke="#000" stroke-width="1.5"/><path d="M66.8,6.7 l6.0,2.2 M68.6,12.2 l7.7,-2.2 M74.6,4.4 l5.1,11.1" fill="none" stroke="#000" stroke-width="0.9"/><path d="M64.3,24.9 q6.0,-3.3 13.7,-0.4 l5.1,16.0 q-2.6,4.4 -11.1,4.0 l-10.3,-7.1 q-2.6,-6.7 1.7,-10.2 Z" fill="#fff" stroke="#000" stroke-width="1.5"/><path d="M66.8,28.9 l6.0,2.2 M68.6,34.5 l7.7,-2.2 M74.6,26.7 l5.1,11.1" fill="none" stroke="#000" stroke-width="0.9"/><path d="M64.3,47.1 q6.0,-3.3 13.7,-0.4 l5.1,16.0 q-2.6,4.4 -11.1,4.0 l-10.3,-7.1 q-2.6,-6.7 1.7,-10.2 Z" fill="#fff" stroke="#000" stroke-width="1.5"/><path d="M66.8,51.1 l6.0,2.2 M68.6,56.7 l7.7,-2.2 M74.6,48.9 l5.1,11.1" fill="none" stroke="#000" stroke-width="0.9"/><path d="M80.6,0 V66.7" stroke="#000" stroke-width="0.9"/></g>
<path d="M2528.3,618.3 A36.7,36.7 0 0 0 2491.6,655.0" fill="none" stroke="#000" stroke-width="1.1" stroke-dasharray="2 3"/>
<path d="M2528.3,655.0 L2528.3,618.3" fill="none" stroke="#000" stroke-width="2.6" stroke-dasharray="9 1.5"/>
<polyline points="2545.0,629.0 2707.3,629.0" fill="none" stroke="#000" stroke-width="1.1"/>
<polyline points="2545.0,633.3 2707.3,633.3" fill="none" stroke="#000" stroke-width="1.1"/>
<rect x="2580.0" y="697.7" width="93.3" height="7.0" fill="#fff" stroke="#000" stroke-width="1.1"/><path d="M2583.0,700.5 h87.3 M2583.0,702.6 h87.3" stroke="#000" stroke-width="1.0"/>
<polyline points="2662.7,607.7 2670.0,607.7 2683.3,629.0" fill="none" stroke="#000" stroke-width="1.1"/>
<circle cx="2623.3" cy="687.3" r="8.0" fill="none" stroke="#000" stroke-width="1.0"/>
<use href="#bch" transform="translate(2566.7 671.7) rotate(0) scale(1.1 1.1)"/>
<use href="#bch" transform="translate(2686.7 671.7) rotate(0) scale(-1.1 1.1)"/>
<rect x="2799.3" y="653.3" width="53.4" height="5.4" fill="#fff" stroke="#000" stroke-width="1.1"/><path d="M2802.3,655.5 h47.4 M2802.3,657.1 h47.4" stroke="#000" stroke-width="1.0"/>
<polyline points="2792.7,635.0 2866.7,635.0" fill="none" stroke="#000" stroke-width="1.0" stroke-dasharray="7 4"/>
<polyline points="2796.7,641.7 2866.7,641.7" fill="none" stroke="#000" stroke-width="1.2" stroke-dasharray="1 5"/>
<polyline points="2796.7,647.3 2866.7,647.3" fill="none" stroke="#000" stroke-width="1.2" stroke-dasharray="1 5"/>
<rect x="2876.7" y="634.0" width="53.3" height="15.3" fill="none" stroke="#000" stroke-width="1.1"/><path d="M2878.7,641.6 H2928.0" stroke="#000" stroke-width="1.2"/><path d="M2883.1,636.8 L2883.1,646.5" stroke="#000" stroke-width="1.5"/><path d="M2892.1,636.8 L2887.5,646.5" stroke="#000" stroke-width="1.5"/><path d="M2894.3,636.8 L2898.9,646.5" stroke="#000" stroke-width="1.5"/><path d="M2903.3,636.8 L2903.3,646.5" stroke="#000" stroke-width="1.5"/><path d="M2907.8,636.8 L2912.4,646.5" stroke="#000" stroke-width="1.5"/><path d="M2919.2,636.8 L2914.6,646.5" stroke="#000" stroke-width="1.5"/><path d="M2923.6,636.8 L2923.6,646.5" stroke="#000" stroke-width="1.5"/>
<rect x="2740.0" y="653.3" width="23.3" height="5.0" rx="0" fill="none" stroke="#000" stroke-width="1.1"/>
<use href="#wc" transform="translate(2748.3 675.0) rotate(0) scale(1.2 1.2)"/>
<circle cx="2750.0" cy="641.7" r="5.7" fill="none" stroke="#000" stroke-width="1.0"/>
<use href="#tap" transform="translate(2727.7 721.7) rotate(90) scale(1.133 1.133)"/>
<use href="#basin" transform="translate(2699.0 716.0) rotate(0) scale(1.2 1.2)"/>
<path d="M2754.0,746.0 A32.7,32.7 0 0 1 2786.7,713.3" fill="none" stroke="#000" stroke-width="1.1"/>
<path d="M2786.7,746.0 L2754.0,746.0" fill="none" stroke="#000" stroke-width="2.6" stroke-dasharray="9 1.5"/>
<circle cx="2780.0" cy="732.3" r="6.7" fill="none" stroke="#000" stroke-width="1.0"/>
<rect x="2841.7" y="690.7" width="86.6" height="67.6" rx="2" fill="#fff" stroke="#000" stroke-width="1.2"/><g transform="translate(2841.7 690.7)"><rect x="84.6" y="-2.0" width="6.0" height="71.6" fill="#fff" stroke="#000" stroke-width="1.1"/><path d="M32.9,67.6 L69.3,0 M47.6,67.6 L71.9,0" fill="none" stroke="#000" stroke-width="1.1"/><path d="M65.0,2.7 q6.1,-3.4 13.9,-0.5 l5.2,16.2 q-2.6,4.5 -11.3,4.1 l-10.4,-7.2 q-2.6,-6.8 1.7,-10.4 Z" fill="#fff" stroke="#000" stroke-width="1.5"/><path d="M67.5,6.8 l6.1,2.3 M69.3,12.4 l7.8,-2.3 M75.3,4.5 l5.2,11.3" fill="none" stroke="#000" stroke-width="0.9"/><path d="M65.0,25.2 q6.1,-3.4 13.9,-0.5 l5.2,16.2 q-2.6,4.5 -11.3,4.1 l-10.4,-7.2 q-2.6,-6.8 1.7,-10.4 Z" fill="#fff" stroke="#000" stroke-width="1.5"/><path d="M67.5,29.3 l6.1,2.3 M69.3,34.9 l7.8,-2.3 M75.3,27.0 l5.2,11.3" fill="none" stroke="#000" stroke-width="0.9"/><path d="M65.0,47.8 q6.1,-3.4 13.9,-0.5 l5.2,16.2 q-2.6,4.5 -11.3,4.1 l-10.4,-7.2 q-2.6,-6.8 1.7,-10.4 Z" fill="#fff" stroke="#000" stroke-width="1.5"/><path d="M67.5,51.8 l6.1,2.3 M69.3,57.5 l7.8,-2.3 M75.3,49.6 l5.2,11.3" fill="none" stroke="#000" stroke-width="0.9"/><path d="M81.4,0 V67.6" stroke="#000" stroke-width="0.9"/></g>
<rect x="2788.3" y="675.0" width="9.4" height="36.7" rx="0" fill="none" stroke="#000" stroke-width="1.1"/>
<rect x="2791.0" y="679.3" width="4.0" height="28.0" rx="0" fill="none" stroke="#000" stroke-width="1.1"/>
<use href="#tel" transform="translate(2916.7 771.7) rotate(0) scale(1.133 1.133)"/>
<path d="M2720.7,769.6 A37.7,37.7 0 0 1 2758.4,807.3" fill="none" stroke="#000" stroke-width="1.1"/>
<path d="M2720.7,807.3 L2720.7,769.6" fill="none" stroke="#000" stroke-width="2.6" stroke-dasharray="9 1.5"/>
<circle cx="2737.7" cy="798.3" r="6.7" fill="none" stroke="#000" stroke-width="1.0"/>
<use href="#tap" transform="translate(2800.0 817.3) rotate(0) scale(1.133 1.133)"/>
<use href="#iwc" transform="translate(2851.7 828.3) rotate(0) scale(1.333 1.333)"/>
<polyline points="2832.7,807.3 2832.7,870.0" fill="none" stroke="#000" stroke-width="1.1"/>
<path d="M2800.0,862.7 A32.3,32.3 0 0 0 2767.7,830.4" fill="none" stroke="#000" stroke-width="1.1"/>
<path d="M2767.7,862.7 L2800.0,862.7" fill="none" stroke="#000" stroke-width="2.6" stroke-dasharray="9 1.5"/>
<circle cx="2770.0" cy="846.7" r="6.7" fill="none" stroke="#000" stroke-width="1.0"/>
<circle cx="2891.0" cy="836.7" r="5.7" fill="none" stroke="#000" stroke-width="1.0"/>
<path d="M2718.3,908.3 A35.0,35.0 0 0 0 2753.3,873.3" fill="none" stroke="#000" stroke-width="1.1"/>
<path d="M2718.3,873.3 L2718.3,908.3" fill="none" stroke="#000" stroke-width="2.6" stroke-dasharray="9 1.5"/>
<circle cx="2732.7" cy="873.3" r="6.7" fill="none" stroke="#000" stroke-width="1.0"/>
<polyline points="2716.7,908.3 2716.7,1003.3" fill="none" stroke="#000" stroke-width="1.2" stroke-dasharray="1 5"/>
<polyline points="2735.0,908.3 2735.0,1003.3" fill="none" stroke="#000" stroke-width="1.2" stroke-dasharray="1 5"/>
<rect x="2783.3" y="902.7" width="86.7" height="67.3" rx="2" fill="#fff" stroke="#000" stroke-width="1.2"/><g transform="translate(2783.3 902.7)"><rect x="84.7" y="-2.0" width="6.0" height="71.3" fill="#fff" stroke="#000" stroke-width="1.1"/><path d="M32.9,67.3 L69.4,0 M47.7,67.3 L72.0,0" fill="none" stroke="#000" stroke-width="1.1"/><path d="M65.0,2.7 q6.1,-3.4 13.9,-0.4 l5.2,16.2 q-2.6,4.5 -11.3,4.0 l-10.4,-7.2 q-2.6,-6.7 1.7,-10.3 Z" fill="#fff" stroke="#000" stroke-width="1.5"/><path d="M67.6,6.7 l6.1,2.2 M69.4,12.3 l7.8,-2.2 M75.4,4.5 l5.2,11.2" fill="none" stroke="#000" stroke-width="0.9"/><path d="M65.0,25.1 q6.1,-3.4 13.9,-0.4 l5.2,16.2 q-2.6,4.5 -11.3,4.0 l-10.4,-7.2 q-2.6,-6.7 1.7,-10.3 Z" fill="#fff" stroke="#000" stroke-width="1.5"/><path d="M67.6,29.2 l6.1,2.2 M69.4,34.8 l7.8,-2.2 M75.4,26.9 l5.2,11.2" fill="none" stroke="#000" stroke-width="0.9"/><path d="M65.0,47.6 q6.1,-3.4 13.9,-0.4 l5.2,16.2 q-2.6,4.5 -11.3,4.0 l-10.4,-7.2 q-2.6,-6.7 1.7,-10.3 Z" fill="#fff" stroke="#000" stroke-width="1.5"/><path d="M67.6,51.6 l6.1,2.2 M69.4,57.2 l7.8,-2.2 M75.4,49.4 l5.2,11.2" fill="none" stroke="#000" stroke-width="0.9"/><path d="M81.5,0 V67.3" stroke="#000" stroke-width="0.9"/></g>
<rect x="2875.0" y="881.7" width="6.7" height="53.3" fill="#fff" stroke="#000" stroke-width="1.1"/><path d="M2877.7,884.7 v47.3 M2879.7,884.7 v47.3" stroke="#000" stroke-width="1.0"/>
<rect x="2882.7" y="875.0" width="28.0" height="68.3" rx="0" fill="none" stroke="#000" stroke-width="1.1" stroke-dasharray="7 4"/>
<rect x="2594.1" y="734.4" width="18.7" height="18.7" fill="#fff" stroke="#000" stroke-width="1.1"/><rect x="2656.5" y="734.4" width="18.7" height="18.7" fill="#fff" stroke="#000" stroke-width="1.1"/><path d="M2597.9,734.4 v18.7 M2671.4,734.4 v18.7" stroke="#000" stroke-width="1"/><rect x="2594.1" y="763.3" width="18.7" height="18.7" fill="#fff" stroke="#000" stroke-width="1.1"/><rect x="2656.5" y="763.3" width="18.7" height="18.7" fill="#fff" stroke="#000" stroke-width="1.1"/><path d="M2597.9,763.3 v18.7 M2671.4,763.3 v18.7" stroke="#000" stroke-width="1"/><rect x="2594.1" y="792.2" width="18.7" height="18.7" fill="#fff" stroke="#000" stroke-width="1.1"/><rect x="2656.5" y="792.2" width="18.7" height="18.7" fill="#fff" stroke="#000" stroke-width="1.1"/><path d="M2597.9,792.2 v18.7 M2671.4,792.2 v18.7" stroke="#000" stroke-width="1"/><rect x="2610.0" y="729.3" width="49.3" height="86.7" fill="#fff" stroke="#000" stroke-width="1.2"/>
<rect x="2563.3" y="870.7" width="32.7" height="26.6" rx="0" fill="none" stroke="#000" stroke-width="2.4"/>
<rect x="2556.0" y="905.0" width="45.7" height="17.3" rx="0" fill="none" stroke="#000" stroke-width="1.1"/>
<rect x="2604.0" y="871.7" width="90.3" height="31.6" rx="0" fill="none" stroke="#000" stroke-width="1.1"/>
<polyline points="2608.3,903.3 2608.3,876.7 2690.0,876.7 2690.0,903.3" fill="none" stroke="#000" stroke-width="1.1"/>
<polyline points="2635.7,876.7 2635.7,903.3" fill="none" stroke="#000" stroke-width="1.1"/>
<polyline points="2662.7,876.7 2662.7,903.3" fill="none" stroke="#000" stroke-width="1.1"/>
<rect x="2674.3" y="916.7" width="29.7" height="29.3" rx="0" fill="none" stroke="#000" stroke-width="1.1"/>
<rect x="2674.3" y="919.3" width="25.7" height="24.0" rx="0" fill="none" stroke="#000" stroke-width="1.1"/>
<rect x="2674.3" y="950.0" width="29.7" height="29.3" rx="0" fill="none" stroke="#000" stroke-width="1.1"/>
<rect x="2674.3" y="952.7" width="25.7" height="24.0" rx="0" fill="none" stroke="#000" stroke-width="1.1"/>
<rect x="2606.7" y="930.0" width="54.0" height="34.3" rx="1" fill="none" stroke="#000" stroke-width="1.1"/>
<rect x="2616.7" y="990.0" width="54.0" height="13.3" rx="0" fill="none" stroke="#000" stroke-width="1.1"/>
<polyline points="2621.7,994.3 2665.7,994.3" fill="none" stroke="#000" stroke-width="2"/>
<use href="#tel" transform="translate(2690.0 991.7) rotate(0) scale(1.133 1.133)"/>
<rect x="2605.0" y="1004.0" width="18.3" height="3.3" rx="0" fill="none" stroke="#000" stroke-width="1.1"/>
<circle cx="2571.0" cy="1001.7" r="7.3" fill="none" stroke="#000" stroke-width="1.0"/>
<path d="M2551.7,963.3 A40.0,40.0 0 0 1 2591.7,1003.3" fill="none" stroke="#000" stroke-width="1.1" stroke-dasharray="2 3"/>
<path d="M2551.7,1003.3 L2551.7,963.3" fill="none" stroke="#000" stroke-width="2.6" stroke-dasharray="9 1.5"/>
<path d="M2506.0,869.3 A37.3,37.3 0 0 0 2543.3,906.6" fill="none" stroke="#000" stroke-width="1.1"/>
<path d="M2543.3,869.3 L2506.0,869.3" fill="none" stroke="#000" stroke-width="2.6" stroke-dasharray="9 1.5"/>
<circle cx="2542.3" cy="886.0" r="6.7" fill="none" stroke="#000" stroke-width="1.0"/>
<use href="#wc" transform="translate(2515.0 805.0) rotate(0) scale(1.2 1.2)"/>
<polyline points="3020.0,646.0 3091.7,646.0" fill="none" stroke="#000" stroke-width="1.1"/>
<polyline points="3020.0,646.0 3020.0,673.3" fill="none" stroke="#000" stroke-width="1.1"/>
<polyline points="2950.0,655.0 3019.3,655.0" fill="none" stroke="#000" stroke-width="1.0" stroke-dasharray="7 4"/>
<polyline points="2950.0,661.7 3019.3,661.7" fill="none" stroke="#000" stroke-width="1.2" stroke-dasharray="1 5"/>
<polyline points="2950.0,668.3 3019.3,668.3" fill="none" stroke="#000" stroke-width="1.2" stroke-dasharray="1 5"/>
<rect x="3029.3" y="655.0" width="53.4" height="20.0" fill="none" stroke="#000" stroke-width="1.1"/><path d="M3031.3,665.0 H3080.7" stroke="#000" stroke-width="1.2"/><path d="M3035.7,658.6 L3035.7,671.4" stroke="#000" stroke-width="1.5"/><path d="M3045.5,658.6 L3039.5,671.4" stroke="#000" stroke-width="1.5"/><path d="M3046.2,658.6 L3052.2,671.4" stroke="#000" stroke-width="1.5"/><path d="M3056.0,658.6 L3056.0,671.4" stroke="#000" stroke-width="1.5"/><path d="M3059.8,658.6 L3065.8,671.4" stroke="#000" stroke-width="1.5"/><path d="M3072.5,658.6 L3066.5,671.4" stroke="#000" stroke-width="1.5"/><path d="M3076.3,658.6 L3076.3,671.4" stroke="#000" stroke-width="1.5"/>
<rect x="2962.7" y="675.0" width="53.3" height="6.0" fill="#fff" stroke="#000" stroke-width="1.1"/><path d="M2965.7,677.4 h47.3 M2965.7,679.2 h47.3" stroke="#000" stroke-width="1.0"/>
<rect x="2951.7" y="721.7" width="87.6" height="67.6" rx="2" fill="#fff" stroke="#000" stroke-width="1.2"/><g transform="translate(3039.3 721.7) scale(-1 1)"><rect x="85.6" y="-2.0" width="6.0" height="71.6" fill="#fff" stroke="#000" stroke-width="1.1"/><path d="M33.3,67.6 L70.1,0 M48.2,67.6 L72.7,0" fill="none" stroke="#000" stroke-width="1.1"/><path d="M65.7,2.7 q6.1,-3.4 14.0,-0.5 l5.3,16.2 q-2.6,4.5 -11.4,4.1 l-10.5,-7.2 q-2.6,-6.8 1.8,-10.4 Z" fill="#fff" stroke="#000" stroke-width="1.5"/><path d="M68.3,6.8 l6.1,2.3 M70.1,12.4 l7.9,-2.3 M76.2,4.5 l5.3,11.3" fill="none" stroke="#000" stroke-width="0.9"/><path d="M65.7,25.2 q6.1,-3.4 14.0,-0.5 l5.3,16.2 q-2.6,4.5 -11.4,4.1 l-10.5,-7.2 q-2.6,-6.8 1.8,-10.4 Z" fill="#fff" stroke="#000" stroke-width="1.5"/><path d="M68.3,29.3 l6.1,2.3 M70.1,34.9 l7.9,-2.3 M76.2,27.0 l5.3,11.3" fill="none" stroke="#000" stroke-width="0.9"/><path d="M65.7,47.8 q6.1,-3.4 14.0,-0.5 l5.3,16.2 q-2.6,4.5 -11.4,4.1 l-10.5,-7.2 q-2.6,-6.8 1.8,-10.4 Z" fill="#fff" stroke="#000" stroke-width="1.5"/><path d="M68.3,51.8 l6.1,2.3 M70.1,57.5 l7.9,-2.3 M76.2,49.6 l5.3,11.3" fill="none" stroke="#000" stroke-width="0.9"/><path d="M82.3,0 V67.6" stroke="#000" stroke-width="0.9"/></g>
<rect x="3073.3" y="728.3" width="10.7" height="51.0" rx="0" fill="none" stroke="#000" stroke-width="1.1"/>
<rect x="3076.7" y="732.7" width="4.0" height="42.3" rx="0" fill="none" stroke="#000" stroke-width="1.1"/>
<use href="#tel" transform="translate(2962.7 801.7) rotate(0) scale(1.133 1.133)"/>
<path d="M3054.3,829.3 A34.0,34.0 0 0 1 3088.3,795.3" fill="none" stroke="#000" stroke-width="1.1"/>
<path d="M3088.3,829.3 L3054.3,829.3" fill="none" stroke="#000" stroke-width="2.6" stroke-dasharray="9 1.5"/>
<circle cx="3082.7" cy="814.0" r="6.7" fill="none" stroke="#000" stroke-width="1.0"/>
<rect x="3084.0" y="860.0" width="6.7" height="53.3" fill="#fff" stroke="#000" stroke-width="1.1"/><path d="M3086.7,863.0 v47.3 M3088.7,863.0 v47.3" stroke="#000" stroke-width="1.0"/>
<polyline points="2883.3,807.3 2996.7,1003.3" fill="none" stroke="#000" stroke-width="1.0" stroke-dasharray="7 4"/>
<polyline points="2883.3,1003.3 2998.3,926.0" fill="none" stroke="#000" stroke-width="1.0" stroke-dasharray="7 4"/>
<polyline points="3055.0,847.3 3055.0,925.0" fill="none" stroke="#000" stroke-width="1.0" stroke-dasharray="7 4"/>
<rect x="3008.3" y="946.7" width="70.0" height="50.0" rx="0" fill="none" stroke="#000" stroke-width="1.1"/>
<rect x="3024.0" y="936.0" width="41.0" height="7.3" rx="0" fill="none" stroke="#000" stroke-width="1.1"/>
<rect x="3116.0" y="679.3" width="20.0" height="6.7" rx="0" fill="none" stroke="#000" stroke-width="1.1"/>
<circle cx="3124.3" cy="667.7" r="5.7" fill="none" stroke="#000" stroke-width="1.0"/>
<rect x="3211.7" y="679.3" width="51.6" height="6.7" fill="#fff" stroke="#000" stroke-width="1.1"/><path d="M3214.7,682.0 h45.6 M3214.7,684.0 h45.6" stroke="#000" stroke-width="1.0"/>
<rect x="3203.3" y="650.7" width="68.4" height="26.6" rx="0" fill="none" stroke="#000" stroke-width="1.1" stroke-dasharray="7 4"/>
<use href="#iwc" transform="translate(3126.7 704.0) rotate(0) scale(1.333 1.333)"/>
<polyline points="3092.3,726.7 3158.3,726.7" fill="none" stroke="#000" stroke-width="1.1"/>
<use href="#tap" transform="translate(3103.3 742.7) rotate(90) scale(1.133 1.133)"/>
<path d="M3156.7,754.4 A32.3,32.3 0 0 0 3124.4,786.7" fill="none" stroke="#000" stroke-width="1.1" stroke-dasharray="2 3"/>
<path d="M3156.7,786.7 L3156.7,754.4" fill="none" stroke="#000" stroke-width="2.6" stroke-dasharray="9 1.5"/>
<circle cx="3142.7" cy="778.3" r="6.7" fill="none" stroke="#000" stroke-width="1.0"/>
<rect x="3165.0" y="722.7" width="86.7" height="67.3" rx="2" fill="#fff" stroke="#000" stroke-width="1.2"/><g transform="translate(3251.7 722.7) scale(-1 1)"><rect x="84.7" y="-2.0" width="6.0" height="71.3" fill="#fff" stroke="#000" stroke-width="1.1"/><path d="M32.9,67.3 L69.4,0 M47.7,67.3 L72.0,0" fill="none" stroke="#000" stroke-width="1.1"/><path d="M65.0,2.7 q6.1,-3.4 13.9,-0.4 l5.2,16.2 q-2.6,4.5 -11.3,4.0 l-10.4,-7.2 q-2.6,-6.7 1.7,-10.3 Z" fill="#fff" stroke="#000" stroke-width="1.5"/><path d="M67.6,6.7 l6.1,2.2 M69.4,12.3 l7.8,-2.2 M75.4,4.5 l5.2,11.2" fill="none" stroke="#000" stroke-width="0.9"/><path d="M65.0,25.1 q6.1,-3.4 13.9,-0.4 l5.2,16.2 q-2.6,4.5 -11.3,4.0 l-10.4,-7.2 q-2.6,-6.7 1.7,-10.3 Z" fill="#fff" stroke="#000" stroke-width="1.5"/><path d="M67.6,29.2 l6.1,2.2 M69.4,34.8 l7.8,-2.2 M75.4,26.9 l5.2,11.2" fill="none" stroke="#000" stroke-width="0.9"/><path d="M65.0,47.6 q6.1,-3.4 13.9,-0.4 l5.2,16.2 q-2.6,4.5 -11.3,4.0 l-10.4,-7.2 q-2.6,-6.7 1.7,-10.3 Z" fill="#fff" stroke="#000" stroke-width="1.5"/><path d="M67.6,51.6 l6.1,2.2 M69.4,57.2 l7.8,-2.2 M75.4,49.4 l5.2,11.2" fill="none" stroke="#000" stroke-width="0.9"/><path d="M81.5,0 V67.3" stroke="#000" stroke-width="0.9"/></g>
<polyline points="3287.3,686.7 3287.3,838.3" fill="none" stroke="#000" stroke-width="1.2" stroke-dasharray="1 5"/>
<path d="M3281.7,823.3 A33.3,33.3 0 0 1 3315.0,790.0" fill="none" stroke="#000" stroke-width="1.1"/>
<path d="M3315.0,823.3 L3281.7,823.3" fill="none" stroke="#000" stroke-width="2.6" stroke-dasharray="9 1.5"/>
<circle cx="3315.7" cy="808.3" r="6.7" fill="none" stroke="#000" stroke-width="1.0"/>
<rect x="3163.3" y="848.3" width="52.7" height="11.7" rx="0" fill="none" stroke="#000" stroke-width="1.1"/>
<polyline points="3168.3,854.0 3211.0,854.0" fill="none" stroke="#000" stroke-width="2"/>
<rect x="3261.7" y="861.7" width="35.0" height="26.6" rx="0" fill="none" stroke="#000" stroke-width="2.4"/>
<rect x="3256.0" y="895.0" width="45.7" height="18.3" rx="0" fill="none" stroke="#000" stroke-width="1.1"/>
<rect x="3096.7" y="908.3" width="28.3" height="28.4" rx="0" fill="none" stroke="#000" stroke-width="1.1"/>
<rect x="3100.7" y="911.0" width="24.3" height="23.0" rx="0" fill="none" stroke="#000" stroke-width="1.1"/>
<rect x="3096.7" y="941.7" width="28.3" height="28.3" rx="0" fill="none" stroke="#000" stroke-width="1.1"/>
<rect x="3100.7" y="944.3" width="24.3" height="23.0" rx="0" fill="none" stroke="#000" stroke-width="1.1"/>
<rect x="3150.7" y="920.0" width="53.6" height="34.3" rx="1" fill="none" stroke="#000" stroke-width="1.1"/>
<rect x="3136.0" y="971.7" width="90.0" height="31.6" rx="0" fill="none" stroke="#000" stroke-width="1.1"/>
<polyline points="3140.0,1003.3 3140.0,976.0 3222.0,976.0 3222.0,1003.3" fill="none" stroke="#000" stroke-width="1.1"/>
<polyline points="3167.7,976.0 3167.7,1003.3" fill="none" stroke="#000" stroke-width="1.1"/>
<polyline points="3194.3,976.0 3194.3,1003.3" fill="none" stroke="#000" stroke-width="1.1"/>
<use href="#tel" transform="translate(3112.7 986.7) rotate(0) scale(1.133 1.133)"/>
<circle cx="3288.3" cy="1001.7" r="7.3" fill="none" stroke="#000" stroke-width="1.0"/>
<path d="M3309.0,963.3 A40.0,40.0 0 0 0 3269.0,1003.3" fill="none" stroke="#000" stroke-width="1.1" stroke-dasharray="2 3"/>
<path d="M3309.0,1003.3 L3309.0,963.3" fill="none" stroke="#000" stroke-width="2.6" stroke-dasharray="9 1.5"/>
<polyline points="3411.0,682.7 3417.3,682.7 3431.7,704.0" fill="none" stroke="#000" stroke-width="1.1"/>
<polyline points="3320.7,704.0 3455.0,704.0" fill="none" stroke="#000" stroke-width="1.1"/>
<polyline points="3320.7,708.3 3455.0,708.3" fill="none" stroke="#000" stroke-width="1.1"/>
<use href="#bch" transform="translate(3340.0 738.3) rotate(0) scale(1.1 1.1)"/>
<use href="#bch" transform="translate(3433.3 736.7) rotate(0) scale(-1.1 1.1)"/>
<circle cx="3386.0" cy="749.3" r="8.0" fill="none" stroke="#000" stroke-width="1.0"/>
<rect x="3340.0" y="759.3" width="95.0" height="7.4" fill="#fff" stroke="#000" stroke-width="1.1"/><path d="M3343.0,762.3 h89.0 M3343.0,764.5 h89.0" stroke="#000" stroke-width="1.0"/>
<rect x="3345.8" y="807.0" width="18.7" height="18.7" fill="#fff" stroke="#000" stroke-width="1.1"/><rect x="3408.9" y="807.0" width="18.7" height="18.7" fill="#fff" stroke="#000" stroke-width="1.1"/><path d="M3349.6,807.0 v18.7 M3423.8,807.0 v18.7" stroke="#000" stroke-width="1"/><rect x="3345.8" y="836.2" width="18.7" height="18.7" fill="#fff" stroke="#000" stroke-width="1.1"/><rect x="3408.9" y="836.2" width="18.7" height="18.7" fill="#fff" stroke="#000" stroke-width="1.1"/><path d="M3349.6,836.2 v18.7 M3423.8,836.2 v18.7" stroke="#000" stroke-width="1"/><rect x="3345.8" y="865.4" width="18.7" height="18.7" fill="#fff" stroke="#000" stroke-width="1.1"/><rect x="3408.9" y="865.4" width="18.7" height="18.7" fill="#fff" stroke="#000" stroke-width="1.1"/><path d="M3349.6,865.4 v18.7 M3423.8,865.4 v18.7" stroke="#000" stroke-width="1"/><rect x="3361.7" y="801.7" width="50.0" height="87.6" fill="#fff" stroke="#000" stroke-width="1.2"/>
<circle cx="3316.0" cy="807.7" r="6.7" fill="none" stroke="#000" stroke-width="1.0"/>
<use href="#basin" transform="translate(3446.7 901.7) rotate(0) scale(1.2 1.2)"/>
<polyline points="3455.0,704.0 3624.0,704.0" fill="none" stroke="#000" stroke-width="1.1"/>
<polyline points="3464.0,714.0 3551.7,714.0" fill="none" stroke="#000" stroke-width="1.0" stroke-dasharray="7 4"/>
<polyline points="3466.7,721.7 3551.7,721.7" fill="none" stroke="#000" stroke-width="1.2" stroke-dasharray="1 5"/>
<polyline points="3466.7,727.3 3551.7,727.3" fill="none" stroke="#000" stroke-width="1.2" stroke-dasharray="1 5"/>
<polyline points="3551.7,704.0 3551.7,730.7" fill="none" stroke="#000" stroke-width="1.1"/>
<rect x="3560.7" y="714.0" width="54.3" height="25.0" fill="none" stroke="#000" stroke-width="1.1"/><path d="M3562.7,726.5 H3613.0" stroke="#000" stroke-width="1.2"/><path d="M3567.1,718.5 L3567.1,734.5" stroke="#000" stroke-width="1.5"/><path d="M3577.8,718.5 L3570.3,734.5" stroke="#000" stroke-width="1.5"/><path d="M3577.2,718.5 L3584.7,734.5" stroke="#000" stroke-width="1.5"/><path d="M3587.8,718.5 L3587.8,734.5" stroke="#000" stroke-width="1.5"/><path d="M3591.0,718.5 L3598.5,734.5" stroke="#000" stroke-width="1.5"/><path d="M3605.4,718.5 L3597.9,734.5" stroke="#000" stroke-width="1.5"/><path d="M3608.6,718.5 L3608.6,734.5" stroke="#000" stroke-width="1.5"/>
<rect x="3486.0" y="733.3" width="53.3" height="6.0" fill="#fff" stroke="#000" stroke-width="1.1"/><path d="M3489.0,735.7 h47.3 M3489.0,737.5 h47.3" stroke="#000" stroke-width="1.0"/>
<rect x="3465.7" y="758.3" width="86.0" height="67.7" rx="2" fill="#fff" stroke="#000" stroke-width="1.2"/><g transform="translate(3551.7 758.3) scale(-1 1)"><rect x="84.0" y="-2.0" width="6.0" height="71.7" fill="#fff" stroke="#000" stroke-width="1.1"/><path d="M32.7,67.7 L68.8,0 M47.3,67.7 L71.4,0" fill="none" stroke="#000" stroke-width="1.1"/><path d="M64.5,2.7 q6.0,-3.4 13.8,-0.5 l5.2,16.2 q-2.6,4.5 -11.2,4.1 l-10.3,-7.2 q-2.6,-6.8 1.7,-10.4 Z" fill="#fff" stroke="#000" stroke-width="1.5"/><path d="M67.1,6.8 l6.0,2.3 M68.8,12.4 l7.7,-2.3 M74.8,4.5 l5.2,11.3" fill="none" stroke="#000" stroke-width="0.9"/><path d="M64.5,25.3 q6.0,-3.4 13.8,-0.5 l5.2,16.2 q-2.6,4.5 -11.2,4.1 l-10.3,-7.2 q-2.6,-6.8 1.7,-10.4 Z" fill="#fff" stroke="#000" stroke-width="1.5"/><path d="M67.1,29.3 l6.0,2.3 M68.8,35.0 l7.7,-2.3 M74.8,27.1 l5.2,11.3" fill="none" stroke="#000" stroke-width="0.9"/><path d="M64.5,47.8 q6.0,-3.4 13.8,-0.5 l5.2,16.2 q-2.6,4.5 -11.2,4.1 l-10.3,-7.2 q-2.6,-6.8 1.7,-10.4 Z" fill="#fff" stroke="#000" stroke-width="1.5"/><path d="M67.1,51.9 l6.0,2.3 M68.8,57.5 l7.7,-2.3 M74.8,49.6 l5.2,11.3" fill="none" stroke="#000" stroke-width="0.9"/><path d="M80.8,0 V67.7" stroke="#000" stroke-width="0.9"/></g>
<use href="#tel" transform="translate(3470.7 746.7) rotate(0) scale(1.133 1.133)"/>
<rect x="3601.7" y="774.3" width="11.6" height="51.7" rx="0" fill="none" stroke="#000" stroke-width="1.1"/>
<rect x="3605.0" y="779.3" width="4.3" height="42.4" rx="0" fill="none" stroke="#000" stroke-width="1.1"/>
<circle cx="3457.3" cy="848.3" r="6.7" fill="none" stroke="#000" stroke-width="1.0"/>
<path d="M3493.3,866.7 A35.0,35.0 0 0 0 3458.3,831.7" fill="none" stroke="#000" stroke-width="1.1" stroke-dasharray="2 3"/>
<path d="M3458.3,866.7 L3493.3,866.7" fill="none" stroke="#000" stroke-width="2.6" stroke-dasharray="9 1.5"/>
<use href="#wc" transform="translate(3485.0 930.0) rotate(180) scale(1.2 1.2)"/>
<use href="#tap" transform="translate(3516.7 936.7) rotate(0) scale(1.133 1.133)"/>
<use href="#basin" transform="translate(3550.7 936.7) rotate(90) scale(1.2 1.2)"/>
<circle cx="3541.7" cy="873.3" r="6.7" fill="none" stroke="#000" stroke-width="1.0"/>
<path d="M3558.3,908.3 A33.3,33.3 0 0 1 3525.0,875.0" fill="none" stroke="#000" stroke-width="1.1" stroke-dasharray="2 3"/>
<path d="M3558.3,875.0 L3558.3,908.3" fill="none" stroke="#000" stroke-width="2.6" stroke-dasharray="9 1.5"/>
<polyline points="3464.0,941.7 3530.0,941.7" fill="none" stroke="#000" stroke-width="1.1"/>
<polyline points="3464.0,971.7 3586.7,1083.3" fill="none" stroke="#000" stroke-width="1.0" stroke-dasharray="7 4"/>
<polyline points="3464.0,1083.3 3615.0,936.7" fill="none" stroke="#000" stroke-width="1.0" stroke-dasharray="7 4"/>
<polyline points="3587.3,953.3 3615.0,953.3" fill="none" stroke="#000" stroke-width="1.0" stroke-dasharray="7 4"/>
<polyline points="3587.3,953.3 3587.3,1020.0" fill="none" stroke="#000" stroke-width="1.0" stroke-dasharray="7 4"/>
<polyline points="3587.3,1020.0 3615.0,1020.0" fill="none" stroke="#000" stroke-width="1.0" stroke-dasharray="7 4"/>
<circle cx="3605.0" cy="910.7" r="5.7" fill="none" stroke="#000" stroke-width="1.0"/>
<circle cx="3539.3" cy="965.0" r="5.7" fill="none" stroke="#000" stroke-width="1.0"/>
<rect x="3596.7" y="1030.7" width="26.6" height="53.6" fill="none" stroke="#000" stroke-width="1.1"/><path d="M3610.0,1032.7 V1082.3" stroke="#000" stroke-width="1.2"/><path d="M3601.5,1037.1 L3618.5,1037.1" stroke="#000" stroke-width="1.5"/><path d="M3601.5,1047.9 L3618.5,1039.9" stroke="#000" stroke-width="1.5"/><path d="M3601.5,1046.7 L3618.5,1054.7" stroke="#000" stroke-width="1.5"/><path d="M3601.5,1057.5 L3618.5,1057.5" stroke="#000" stroke-width="1.5"/><path d="M3601.5,1060.3 L3618.5,1068.3" stroke="#000" stroke-width="1.5"/><path d="M3601.5,1075.1 L3618.5,1067.1" stroke="#000" stroke-width="1.5"/><path d="M3601.5,1077.9 L3618.5,1077.9" stroke="#000" stroke-width="1.5"/>
<rect x="3616.7" y="961.7" width="6.0" height="51.0" fill="#fff" stroke="#000" stroke-width="1.1"/><path d="M3619.1,964.7 v45.0 M3620.9,964.7 v45.0" stroke="#000" stroke-width="1.0"/>
<rect x="3477.3" y="1086.0" width="96.0" height="6.7" fill="#fff" stroke="#000" stroke-width="1.1"/><path d="M3480.3,1088.7 h90.0 M3480.3,1090.7 h90.0" stroke="#000" stroke-width="1.0"/>
<polyline points="3499.0,1094.0 3499.0,1109.3 3511.7,1109.3" fill="none" stroke="#000" stroke-width="1.1"/>
<polyline points="3320.7,917.3 3455.0,917.3" fill="none" stroke="#000" stroke-width="1.0" stroke-dasharray="7 4"/>
<polyline points="3320.7,941.7 3455.0,941.7" fill="none" stroke="#000" stroke-width="1.0" stroke-dasharray="7 4"/>
<polyline points="3323.3,923.3 3361.7,923.3" fill="none" stroke="#000" stroke-width="1.2" stroke-dasharray="1 5"/>
<polyline points="3323.3,930.0 3361.7,930.0" fill="none" stroke="#000" stroke-width="1.2" stroke-dasharray="1 5"/>
<polyline points="3323.3,936.0 3361.7,936.0" fill="none" stroke="#000" stroke-width="1.2" stroke-dasharray="1 5"/>
<rect x="3363.3" y="917.3" width="30.7" height="24.4" rx="0" fill="#fff" stroke="#000" stroke-width="1.1"/>
<rect x="3400.0" y="917.3" width="55.0" height="13.4" rx="0" fill="none" stroke="#000" stroke-width="1.1"/>
<use href="#stove" transform="translate(3441.7 971.7) rotate(0) scale(1.067 1.067)"/>
<polyline points="3361.7,999.3 3427.3,999.3 3427.3,956.0 3455.0,956.0" fill="none" stroke="#000" stroke-width="1.1"/>
<polyline points="3361.7,999.3 3361.7,1026.0" fill="none" stroke="#000" stroke-width="1.1"/>
<use href="#sink" transform="translate(3376.7 1013.3) rotate(0) scale(1.4 1.4)"/>
<rect x="3361.7" y="1026.0" width="93.3" height="4.0" rx="0" fill="#999" stroke="#000" stroke-width="0.8"/>
<polyline points="3320.7,1026.0 3361.7,1026.0" fill="none" stroke="#000" stroke-width="1.1"/>
<polyline points="3320.7,1030.0 3361.7,1030.0" fill="none" stroke="#000" stroke-width="1.1"/>
<rect x="3456.7" y="968.3" width="6.0" height="38.4" fill="#fff" stroke="#000" stroke-width="1.1"/><path d="M3459.1,971.3 v32.4 M3460.9,971.3 v32.4" stroke="#000" stroke-width="1.0"/>
<use href="#wm" transform="translate(3441.7 1059.3) rotate(-90) scale(1.533 1.533)"/>
<rect x="3716.0" y="750.0" width="40.7" height="6.7" fill="#fff" stroke="#000" stroke-width="1.1"/><path d="M3719.0,752.7 h34.7 M3719.0,754.7 h34.7" stroke="#000" stroke-width="1.0"/>
<use href="#wm" transform="translate(3650.0 768.3) rotate(0) scale(1.533 1.533)"/>
<rect x="3678.3" y="757.3" width="4.4" height="92.7" rx="0" fill="#999" stroke="#000" stroke-width="0.8"/>
<use href="#sink" transform="translate(3701.0 768.3) rotate(0) scale(1.4 1.4)"/>
<polyline points="3682.7,784.3 3767.3,784.3 3767.3,832.7 3794.0,832.7" fill="none" stroke="#000" stroke-width="1.1"/>
<use href="#stove" transform="translate(3780.7 807.3) rotate(0) scale(1.067 1.067)"/>
<polyline points="3678.3,850.0 3803.3,850.0" fill="none" stroke="#000" stroke-width="1.0" stroke-dasharray="7 4"/>
<polyline points="3794.0,833.3 3794.0,873.3" fill="none" stroke="#000" stroke-width="1.0" stroke-dasharray="7 4"/>
<polyline points="3803.3,833.3 3803.3,873.3" fill="none" stroke="#000" stroke-width="1.0" stroke-dasharray="7 4"/>
<polyline points="3683.3,855.0 3793.3,855.0" fill="none" stroke="#000" stroke-width="1.2" stroke-dasharray="1 5"/>
<polyline points="3743.3,861.7 3793.3,861.7" fill="none" stroke="#000" stroke-width="1.2" stroke-dasharray="1 5"/>
<polyline points="3743.3,868.3 3793.3,868.3" fill="none" stroke="#000" stroke-width="1.2" stroke-dasharray="1 5"/>
<rect x="3682.7" y="860.0" width="59.0" height="13.3" rx="0" fill="none" stroke="#000" stroke-width="1.1"/>
<polyline points="3803.3,748.3 3971.7,748.3" fill="none" stroke="#000" stroke-width="1.1"/>
<polyline points="3803.3,752.7 3971.7,752.7" fill="none" stroke="#000" stroke-width="1.1"/>
<polyline points="3914.3,727.3 3920.7,727.3 3935.0,748.3" fill="none" stroke="#000" stroke-width="1.1"/>
<use href="#bch" transform="translate(3829.3 781.7) rotate(0) scale(1.1 1.1)"/>
<use href="#bch" transform="translate(3946.0 780.0) rotate(0) scale(-1.1 1.1)"/>
<rect x="3841.7" y="802.7" width="93.3" height="7.3" fill="#fff" stroke="#000" stroke-width="1.1"/><path d="M3844.7,805.6 h87.3 M3844.7,807.8 h87.3" stroke="#000" stroke-width="1.0"/>
<rect x="3808.3" y="811.7" width="28.4" height="25.0" rx="0" fill="none" stroke="#000" stroke-width="1.1"/>
<circle cx="3889.3" cy="821.7" r="8.0" fill="none" stroke="#000" stroke-width="1.0"/>
<rect x="3848.4" y="838.4" width="18.7" height="18.7" fill="#fff" stroke="#000" stroke-width="1.1"/><rect x="3911.5" y="838.4" width="18.7" height="18.7" fill="#fff" stroke="#000" stroke-width="1.1"/><path d="M3852.2,838.4 v18.7 M3926.4,838.4 v18.7" stroke="#000" stroke-width="1"/><rect x="3848.4" y="867.3" width="18.7" height="18.7" fill="#fff" stroke="#000" stroke-width="1.1"/><rect x="3911.5" y="867.3" width="18.7" height="18.7" fill="#fff" stroke="#000" stroke-width="1.1"/><path d="M3852.2,867.3 v18.7 M3926.4,867.3 v18.7" stroke="#000" stroke-width="1"/><rect x="3848.4" y="896.2" width="18.7" height="18.7" fill="#fff" stroke="#000" stroke-width="1.1"/><rect x="3911.5" y="896.2" width="18.7" height="18.7" fill="#fff" stroke="#000" stroke-width="1.1"/><path d="M3852.2,896.2 v18.7 M3926.4,896.2 v18.7" stroke="#000" stroke-width="1"/><rect x="3864.3" y="833.3" width="50.0" height="86.7" fill="#fff" stroke="#000" stroke-width="1.2"/>
<rect x="3831.7" y="969.3" width="34.0" height="28.0" rx="0" fill="none" stroke="#000" stroke-width="2.4"/>
<rect x="3825.0" y="1004.0" width="46.0" height="17.7" rx="0" fill="none" stroke="#000" stroke-width="1.1"/>
<rect x="3881.7" y="974.3" width="34.3" height="54.0" rx="1" fill="none" stroke="#000" stroke-width="1.1"/>
<rect x="3940.0" y="962.3" width="31.7" height="89.4" rx="0" fill="none" stroke="#000" stroke-width="1.1"/>
<polyline points="3940.0,966.7 3967.7,966.7 3967.7,1047.3 3940.0,1047.3" fill="none" stroke="#000" stroke-width="1.1"/>
<polyline points="3940.0,991.7 3967.7,991.7" fill="none" stroke="#000" stroke-width="1.1"/>
<polyline points="3940.0,1021.7 3967.7,1021.7" fill="none" stroke="#000" stroke-width="1.1"/>
<rect x="3873.3" y="1054.3" width="28.4" height="29.0" rx="0" fill="none" stroke="#000" stroke-width="1.1"/>
<rect x="3876.0" y="1054.3" width="23.0" height="25.0" rx="0" fill="none" stroke="#000" stroke-width="1.1"/>
<rect x="3906.0" y="1054.3" width="29.0" height="29.0" rx="0" fill="none" stroke="#000" stroke-width="1.1"/>
<rect x="3908.7" y="1054.3" width="23.6" height="25.0" rx="0" fill="none" stroke="#000" stroke-width="1.1"/>
<use href="#tel" transform="translate(3963.3 1071.7) rotate(0) scale(1.133 1.133)"/>
<rect x="3803.3" y="980.0" width="13.4" height="51.7" rx="0" fill="none" stroke="#000" stroke-width="1.1"/>
<rect x="3807.3" y="985.0" width="5.4" height="41.7" rx="0" fill="none" stroke="#000" stroke-width="1.1"/>
<circle cx="3827.3" cy="1078.3" r="7.3" fill="none" stroke="#000" stroke-width="1.0"/>
<path d="M3810.0,1047.7 A37.3,37.3 0 0 1 3847.3,1085.0" fill="none" stroke="#000" stroke-width="1.1" stroke-dasharray="2 3"/>
<path d="M3810.0,1085.0 L3810.0,1047.7" fill="none" stroke="#000" stroke-width="2.6" stroke-dasharray="9 1.5"/>
<use href="#basin" transform="translate(3634.3 893.3) rotate(90) scale(1.2 1.2)"/>
<use href="#tap" transform="translate(3676.7 888.3) rotate(0) scale(1.133 1.133)"/>
<use href="#wc" transform="translate(3714.3 898.3) rotate(0) scale(1.2 1.2)"/>
<circle cx="3642.7" cy="942.3" r="6.7" fill="none" stroke="#000" stroke-width="1.0"/>
<path d="M3630.0,911.3 A32.7,32.7 0 0 1 3662.7,944.0" fill="none" stroke="#000" stroke-width="1.1"/>
<path d="M3630.0,944.0 L3630.0,911.3" fill="none" stroke="#000" stroke-width="2.6" stroke-dasharray="9 1.5"/>
<use href="#basin" transform="translate(3743.3 895.0) rotate(0) scale(1.2 1.2)"/>
<rect x="3676.7" y="996.7" width="68.3" height="86.6" rx="2" fill="#fff" stroke="#000" stroke-width="1.2"/><g transform="translate(3745.0 996.7) rotate(90)"><rect x="84.6" y="-2.0" width="6.0" height="72.3" fill="#fff" stroke="#000" stroke-width="1.1"/><path d="M32.9,68.3 L69.3,0 M47.6,68.3 L71.9,0" fill="none" stroke="#000" stroke-width="1.1"/><path d="M64.9,2.7 q6.1,-3.4 13.9,-0.5 l5.2,16.4 q-2.6,4.6 -11.3,4.1 l-10.4,-7.3 q-2.6,-6.8 1.7,-10.5 Z" fill="#fff" stroke="#000" stroke-width="1.5"/><path d="M67.5,6.8 l6.1,2.3 M69.3,12.5 l7.8,-2.3 M75.3,4.6 l5.2,11.4" fill="none" stroke="#000" stroke-width="0.9"/><path d="M64.9,25.5 q6.1,-3.4 13.9,-0.5 l5.2,16.4 q-2.6,4.6 -11.3,4.1 l-10.4,-7.3 q-2.6,-6.8 1.7,-10.5 Z" fill="#fff" stroke="#000" stroke-width="1.5"/><path d="M67.5,29.6 l6.1,2.3 M69.3,35.3 l7.8,-2.3 M75.3,27.3 l5.2,11.4" fill="none" stroke="#000" stroke-width="0.9"/><path d="M64.9,48.3 q6.1,-3.4 13.9,-0.5 l5.2,16.4 q-2.6,4.6 -11.3,4.1 l-10.4,-7.3 q-2.6,-6.8 1.7,-10.5 Z" fill="#fff" stroke="#000" stroke-width="1.5"/><path d="M67.5,52.4 l6.1,2.3 M69.3,58.1 l7.8,-2.3 M75.3,50.1 l5.2,11.4" fill="none" stroke="#000" stroke-width="0.9"/><path d="M81.4,0 V68.3" stroke="#000" stroke-width="0.9"/></g>
<rect x="3685.0" y="946.7" width="52.3" height="12.6" rx="0" fill="none" stroke="#000" stroke-width="1.1"/>
<polyline points="3690.0,953.3 3732.3,953.3" fill="none" stroke="#000" stroke-width="2"/>
<use href="#tel" transform="translate(3761.7 1071.7) rotate(0) scale(1.133 1.133)"/>
<circle cx="3770.0" cy="945.0" r="6.7" fill="none" stroke="#000" stroke-width="1.0"/>
<path d="M3787.3,979.0 A37.3,37.3 0 0 1 3750.0,941.7" fill="none" stroke="#000" stroke-width="1.1"/>
<path d="M3787.3,941.7 L3787.3,979.0" fill="none" stroke="#000" stroke-width="2.6" stroke-dasharray="9 1.5"/>
<circle cx="4015.7" cy="766.7" r="5.7" fill="none" stroke="#000" stroke-width="1.0"/>
<rect x="4006.0" y="776.7" width="20.0" height="6.6" rx="0" fill="none" stroke="#000" stroke-width="1.1"/>
<use href="#iwc" transform="translate(4011.7 805.0) rotate(0) scale(1.333 1.333)"/>
<polyline points="3980.7,825.0 4050.0,825.0" fill="none" stroke="#000" stroke-width="1.1"/>
<use href="#tap" transform="translate(3990.7 842.7) rotate(90) scale(1.133 1.133)"/>
<circle cx="4026.7" cy="890.7" r="6.7" fill="none" stroke="#000" stroke-width="1.0"/>
<path d="M4040.7,862.7 A33.3,33.3 0 0 0 4007.4,896.0" fill="none" stroke="#000" stroke-width="1.1"/>
<path d="M4040.7,896.0 L4040.7,862.7" fill="none" stroke="#000" stroke-width="2.6" stroke-dasharray="9 1.5"/>
<circle cx="4053.3" cy="921.7" r="6.7" fill="none" stroke="#000" stroke-width="1.0"/>
<path d="M4093.4,938.3 A36.7,36.7 0 0 0 4056.7,901.6" fill="none" stroke="#000" stroke-width="1.1"/>
<path d="M4056.7,938.3 L4093.4,938.3" fill="none" stroke="#000" stroke-width="2.6" stroke-dasharray="9 1.5"/>
<rect x="4046.0" y="949.0" width="51.3" height="9.3" rx="0" fill="none" stroke="#000" stroke-width="1.1"/>
<polyline points="4050.7,954.0 4092.7,954.0" fill="none" stroke="#000" stroke-width="2"/>
<circle cx="4002.7" cy="950.0" r="6.7" fill="none" stroke="#000" stroke-width="1.0"/>
<path d="M3985.0,983.4 A36.7,36.7 0 0 0 4021.7,946.7" fill="none" stroke="#000" stroke-width="1.1"/>
<path d="M3985.0,946.7 L3985.0,983.4" fill="none" stroke="#000" stroke-width="2.6" stroke-dasharray="9 1.5"/>
<rect x="4037.3" y="996.0" width="67.7" height="87.3" rx="2" fill="#fff" stroke="#000" stroke-width="1.2"/><g transform="translate(4105.0 996.0) rotate(90)"><rect x="85.3" y="-2.0" width="6.0" height="71.7" fill="#fff" stroke="#000" stroke-width="1.1"/><path d="M33.2,67.7 L69.8,0 M48.0,67.7 L72.5,0" fill="none" stroke="#000" stroke-width="1.1"/><path d="M65.5,2.7 q6.1,-3.4 14.0,-0.5 l5.2,16.2 q-2.6,4.5 -11.3,4.1 l-10.5,-7.2 q-2.6,-6.8 1.7,-10.4 Z" fill="#fff" stroke="#000" stroke-width="1.5"/><path d="M68.1,6.8 l6.1,2.3 M69.8,12.4 l7.9,-2.3 M76.0,4.5 l5.2,11.3" fill="none" stroke="#000" stroke-width="0.9"/><path d="M65.5,25.3 q6.1,-3.4 14.0,-0.5 l5.2,16.2 q-2.6,4.5 -11.3,4.1 l-10.5,-7.2 q-2.6,-6.8 1.7,-10.4 Z" fill="#fff" stroke="#000" stroke-width="1.5"/><path d="M68.1,29.3 l6.1,2.3 M69.8,35.0 l7.9,-2.3 M76.0,27.1 l5.2,11.3" fill="none" stroke="#000" stroke-width="0.9"/><path d="M65.5,47.8 q6.1,-3.4 14.0,-0.5 l5.2,16.2 q-2.6,4.5 -11.3,4.1 l-10.5,-7.2 q-2.6,-6.8 1.7,-10.4 Z" fill="#fff" stroke="#000" stroke-width="1.5"/><path d="M68.1,51.9 l6.1,2.3 M69.8,57.5 l7.9,-2.3 M76.0,49.6 l5.2,11.3" fill="none" stroke="#000" stroke-width="0.9"/><path d="M82.1,0 V67.7" stroke="#000" stroke-width="0.9"/></g>
<use href="#tel" transform="translate(4118.3 1071.7) rotate(0) scale(1.133 1.133)"/>
<rect x="4094.3" y="795.0" width="53.4" height="6.7" fill="#fff" stroke="#000" stroke-width="1.1"/><path d="M4097.3,797.7 h47.4 M4097.3,799.7 h47.4" stroke="#000" stroke-width="1.0"/>
<rect x="4086.0" y="766.0" width="69.0" height="27.3" rx="0" fill="none" stroke="#000" stroke-width="1.1" stroke-dasharray="7 4"/>
<rect x="4056.0" y="813.3" width="87.3" height="69.4" rx="2" fill="#fff" stroke="#000" stroke-width="1.2"/><g transform="translate(4143.3 813.3) scale(-1 1)"><rect x="85.3" y="-2.0" width="6.0" height="73.4" fill="#fff" stroke="#000" stroke-width="1.1"/><path d="M33.2,69.4 L69.8,0 M48.0,69.4 L72.5,0" fill="none" stroke="#000" stroke-width="1.1"/><path d="M65.5,2.8 q6.1,-3.5 14.0,-0.5 l5.2,16.7 q-2.6,4.6 -11.3,4.2 l-10.5,-7.4 q-2.6,-6.9 1.7,-10.6 Z" fill="#fff" stroke="#000" stroke-width="1.5"/><path d="M68.1,6.9 l6.1,2.3 M69.8,12.7 l7.9,-2.3 M76.0,4.6 l5.2,11.6" fill="none" stroke="#000" stroke-width="0.9"/><path d="M65.5,25.9 q6.1,-3.5 14.0,-0.5 l5.2,16.7 q-2.6,4.6 -11.3,4.2 l-10.5,-7.4 q-2.6,-6.9 1.7,-10.6 Z" fill="#fff" stroke="#000" stroke-width="1.5"/><path d="M68.1,30.1 l6.1,2.3 M69.8,35.9 l7.9,-2.3 M76.0,27.8 l5.2,11.6" fill="none" stroke="#000" stroke-width="0.9"/><path d="M65.5,49.0 q6.1,-3.5 14.0,-0.5 l5.2,16.7 q-2.6,4.6 -11.3,4.2 l-10.5,-7.4 q-2.6,-6.9 1.7,-10.6 Z" fill="#fff" stroke="#000" stroke-width="1.5"/><path d="M68.1,53.2 l6.1,2.3 M69.8,59.0 l7.9,-2.3 M76.0,50.9 l5.2,11.6" fill="none" stroke="#000" stroke-width="0.9"/><path d="M82.1,0 V69.4" stroke="#000" stroke-width="0.9"/></g>
<rect x="4191.7" y="803.3" width="25.3" height="51.7" fill="none" stroke="#000" stroke-width="1.1"/><path d="M4204.4,805.3 V853.0" stroke="#000" stroke-width="1.2"/><path d="M4196.3,809.6 L4212.4,809.6" stroke="#000" stroke-width="1.5"/><path d="M4196.3,819.9 L4212.4,812.3" stroke="#000" stroke-width="1.5"/><path d="M4196.3,818.8 L4212.4,826.4" stroke="#000" stroke-width="1.5"/><path d="M4196.3,829.1 L4212.4,829.1" stroke="#000" stroke-width="1.5"/><path d="M4196.3,831.9 L4212.4,839.5" stroke="#000" stroke-width="1.5"/><path d="M4196.3,846.0 L4212.4,838.4" stroke="#000" stroke-width="1.5"/><path d="M4196.3,848.7 L4212.4,848.7" stroke="#000" stroke-width="1.5"/>
<rect x="4200.0" y="865.0" width="26.7" height="87.7" rx="0" fill="none" stroke="#000" stroke-width="1.1" stroke-dasharray="7 4"/>
<polyline points="4206.0,870.0 4206.0,946.7" fill="none" stroke="#000" stroke-width="1.2" stroke-dasharray="1 5"/>
<polyline points="4217.7,870.0 4217.7,946.7" fill="none" stroke="#000" stroke-width="1.2" stroke-dasharray="1 5"/>
<rect x="4145.3" y="954.0" width="25.7" height="53.3" fill="none" stroke="#000" stroke-width="1.1"/><path d="M4158.1,956.0 V1005.3" stroke="#000" stroke-width="1.2"/><path d="M4149.9,960.4 L4166.4,960.4" stroke="#000" stroke-width="1.5"/><path d="M4149.9,971.0 L4166.4,963.3" stroke="#000" stroke-width="1.5"/><path d="M4149.9,970.0 L4166.4,977.7" stroke="#000" stroke-width="1.5"/><path d="M4149.9,980.6 L4166.4,980.6" stroke="#000" stroke-width="1.5"/><path d="M4149.9,983.6 L4166.4,991.3" stroke="#000" stroke-width="1.5"/><path d="M4149.9,998.0 L4166.4,990.3" stroke="#000" stroke-width="1.5"/><path d="M4149.9,1000.9 L4166.4,1000.9" stroke="#000" stroke-width="1.5"/>
<polyline points="4144.3,1016.7 4180.0,1016.7" fill="none" stroke="#000" stroke-width="1.1"/>
<rect x="4145.3" y="1020.0" width="6.7" height="52.7" fill="#fff" stroke="#000" stroke-width="1.1"/><path d="M4148.0,1023.0 v46.7 M4150.0,1023.0 v46.7" stroke="#000" stroke-width="1.0"/>
<rect x="4153.3" y="1016.7" width="26.7" height="76.0" rx="0" fill="none" stroke="#000" stroke-width="1.1" stroke-dasharray="7 4"/>
<polyline points="4159.3,1023.3 4159.3,1080.0" fill="none" stroke="#000" stroke-width="1.2" stroke-dasharray="1 5"/>
<path d="M3902.6,1100.0 A43.3,43.3 0 0 1 3859.3,1143.3" fill="none" stroke="#000" stroke-width="1.1" stroke-dasharray="2 3"/>
<path d="M3859.3,1100.0 L3902.6,1100.0" fill="none" stroke="#000" stroke-width="2.6" stroke-dasharray="9 1.5"/>
<circle cx="3866.7" cy="1130.7" r="7.3" fill="none" stroke="#000" stroke-width="1.0"/>
<rect x="3969.3" y="1121.7" width="31.7" height="89.0" rx="0" fill="none" stroke="#000" stroke-width="1.1"/>
<polyline points="3969.3,1126.0 3997.0,1126.0 3997.0,1206.7 3969.3,1206.7" fill="none" stroke="#000" stroke-width="1.1"/>
<polyline points="3969.3,1151.7 3997.0,1151.7" fill="none" stroke="#000" stroke-width="1.1"/>
<polyline points="3969.3,1180.7 3997.0,1180.7" fill="none" stroke="#000" stroke-width="1.1"/>
<rect x="3917.7" y="1143.3" width="32.6" height="54.0" rx="1" fill="none" stroke="#000" stroke-width="1.1"/>
<rect x="3866.7" y="1155.0" width="12.6" height="52.3" rx="0" fill="none" stroke="#000" stroke-width="1.1"/>
<rect x="3871.0" y="1160.0" width="4.3" height="42.7" rx="0" fill="none" stroke="#000" stroke-width="1.1"/>
<rect x="3904.3" y="1215.0" width="30.0" height="28.3" rx="0" fill="none" stroke="#000" stroke-width="1.1"/>
<rect x="3907.0" y="1215.0" width="24.7" height="24.3" rx="0" fill="none" stroke="#000" stroke-width="1.1"/>
<rect x="3937.7" y="1215.0" width="30.0" height="28.3" rx="0" fill="none" stroke="#000" stroke-width="1.1"/>
<rect x="3940.3" y="1215.0" width="24.7" height="24.3" rx="0" fill="none" stroke="#000" stroke-width="1.1"/>
<use href="#tel" transform="translate(3992.7 1220.0) rotate(0) scale(1.133 1.133)"/>
<rect x="4039.3" y="1107.7" width="86.7" height="66.6" rx="2" fill="#fff" stroke="#000" stroke-width="1.2"/><g transform="translate(4039.3 1107.7)"><rect x="84.7" y="-2.0" width="6.0" height="70.6" fill="#fff" stroke="#000" stroke-width="1.1"/><path d="M32.9,66.6 L69.4,0 M47.7,66.6 L72.0,0" fill="none" stroke="#000" stroke-width="1.1"/><path d="M65.0,2.7 q6.1,-3.3 13.9,-0.4 l5.2,16.0 q-2.6,4.4 -11.3,4.0 l-10.4,-7.1 q-2.6,-6.7 1.7,-10.2 Z" fill="#fff" stroke="#000" stroke-width="1.5"/><path d="M67.6,6.7 l6.1,2.2 M69.4,12.2 l7.8,-2.2 M75.4,4.4 l5.2,11.1" fill="none" stroke="#000" stroke-width="0.9"/><path d="M65.0,24.9 q6.1,-3.3 13.9,-0.4 l5.2,16.0 q-2.6,4.4 -11.3,4.0 l-10.4,-7.1 q-2.6,-6.7 1.7,-10.2 Z" fill="#fff" stroke="#000" stroke-width="1.5"/><path d="M67.6,28.9 l6.1,2.2 M69.4,34.4 l7.8,-2.2 M75.4,26.6 l5.2,11.1" fill="none" stroke="#000" stroke-width="0.9"/><path d="M65.0,47.1 q6.1,-3.3 13.9,-0.4 l5.2,16.0 q-2.6,4.4 -11.3,4.0 l-10.4,-7.1 q-2.6,-6.7 1.7,-10.2 Z" fill="#fff" stroke="#000" stroke-width="1.5"/><path d="M67.6,51.1 l6.1,2.2 M69.4,56.6 l7.8,-2.2 M75.4,48.8 l5.2,11.1" fill="none" stroke="#000" stroke-width="0.9"/><path d="M81.5,0 V66.6" stroke="#000" stroke-width="0.9"/></g>
<rect x="4128.7" y="1123.3" width="6.6" height="51.7" fill="#fff" stroke="#000" stroke-width="1.1"/><path d="M4131.3,1126.3 v45.7 M4133.3,1126.3 v45.7" stroke="#000" stroke-width="1.0"/>
<rect x="4136.7" y="1115.0" width="27.6" height="68.3" rx="0" fill="none" stroke="#000" stroke-width="1.1" stroke-dasharray="7 4"/>
<polyline points="4006.0,1195.0 4127.7,1195.0" fill="none" stroke="#000" stroke-width="1.2" stroke-dasharray="1 5"/>
<polyline points="4026.0,1206.7 4127.7,1206.7" fill="none" stroke="#000" stroke-width="1.2" stroke-dasharray="1 5"/>
<circle cx="4040.3" cy="1222.7" r="6.7" fill="none" stroke="#000" stroke-width="1.0"/>
<path d="M4024.3,1189.0 A37.7,37.7 0 0 1 4062.0,1226.7" fill="none" stroke="#000" stroke-width="1.1"/>
<path d="M4024.3,1226.7 L4024.3,1189.0" fill="none" stroke="#000" stroke-width="2.6" stroke-dasharray="9 1.5"/>
<use href="#wm" transform="translate(3721.0 1182.7) rotate(0) scale(1.533 1.533)"/>
<rect x="3745.3" y="1170.7" width="4.0" height="80.3" rx="0" fill="#999" stroke="#000" stroke-width="0.8"/>
<use href="#sink" transform="translate(3774.3 1182.7) rotate(0) scale(1.4 1.4)"/>
<polyline points="3749.3,1197.3 3835.3,1197.3 3835.3,1241.7 3861.0,1241.7" fill="none" stroke="#000" stroke-width="1.1"/>
<use href="#stove" transform="translate(3848.7 1218.3) rotate(0) scale(1.067 1.067)"/>
<polyline points="3689.3,1170.7 3656.0,1233.3" fill="none" stroke="#000" stroke-width="1.0" stroke-dasharray="7 4"/>
<use href="#wm" transform="translate(1556.0 953.3) rotate(0) scale(1.533 1.533)"/>
<rect x="1587.3" y="961.7" width="5.4" height="38.3" fill="#fff" stroke="#000" stroke-width="1.1"/><path d="M1589.5,964.7 v32.3 M1591.1,964.7 v32.3" stroke="#000" stroke-width="1.0"/>
<path d="M1557.4,1052.3 A34.3,34.3 0 0 1 1591.7,1018.0" fill="none" stroke="#000" stroke-width="1.1"/>
<path d="M1591.7,1052.3 L1557.4,1052.3" fill="none" stroke="#000" stroke-width="2.6" stroke-dasharray="9 1.5"/>
<use href="#sink" transform="translate(1609.3 954.0) rotate(0) scale(1.4 1.4)"/>
<polyline points="1593.3,970.0 1646.7,970.0 1646.7,1042.7 1675.0,1042.7" fill="none" stroke="#000" stroke-width="1.1"/>
<use href="#stove" transform="translate(1661.7 999.3) rotate(0) scale(1.067 1.067)"/>
<rect x="1593.3" y="1054.3" width="81.7" height="24.0" rx="0" fill="none" stroke="#000" stroke-width="1.1" stroke-dasharray="7 4"/>
<rect x="1593.3" y="1065.7" width="50.7" height="12.6" rx="0" fill="none" stroke="#000" stroke-width="1.1"/>
<polyline points="1646.7,1060.0 1673.3,1060.0" fill="none" stroke="#000" stroke-width="1.2" stroke-dasharray="1 5"/>
<polyline points="1646.7,1066.7 1673.3,1066.7" fill="none" stroke="#000" stroke-width="1.2" stroke-dasharray="1 5"/>
<polyline points="1646.7,1073.3 1673.3,1073.3" fill="none" stroke="#000" stroke-width="1.2" stroke-dasharray="1 5"/>
<rect x="1698.3" y="935.0" width="20.0" height="7.3" rx="0" fill="none" stroke="#000" stroke-width="1.1"/>
<circle cx="1707.3" cy="924.3" r="5.7" fill="none" stroke="#000" stroke-width="1.0"/>
<use href="#iwc" transform="translate(1705.7 965.0) rotate(0) scale(1.333 1.333)"/>
<polyline points="1680.0,984.0 1733.3,984.0" fill="none" stroke="#000" stroke-width="1.1"/>
<use href="#tap" transform="translate(1721.7 1000.0) rotate(0) scale(1.133 1.133)"/>
<circle cx="1694.3" cy="1037.7" r="6.7" fill="none" stroke="#000" stroke-width="1.0"/>
<path d="M1681.3,1008.3 A31.7,31.7 0 0 1 1713.0,1040.0" fill="none" stroke="#000" stroke-width="1.1"/>
<path d="M1681.3,1040.0 L1681.3,1008.3" fill="none" stroke="#000" stroke-width="2.6" stroke-dasharray="9 1.5"/>
<rect x="1715.0" y="1042.7" width="18.3" height="20.0" rx="0" fill="none" stroke="#000" stroke-width="1.1"/>
<use href="#basin" transform="translate(1724.0 1052.7) rotate(0) scale(1.2 1.2)"/>
<rect x="1789.3" y="935.7" width="53.4" height="6.6" fill="#fff" stroke="#000" stroke-width="1.1"/><path d="M1792.3,938.3 h47.4 M1792.3,940.3 h47.4" stroke="#000" stroke-width="1.0"/>
<circle cx="1765.7" cy="1080.0" r="6.7" fill="none" stroke="#000" stroke-width="1.0"/>
<path d="M1750.0,1045.0 A36.7,36.7 0 0 1 1786.7,1081.7" fill="none" stroke="#000" stroke-width="1.1"/>
<path d="M1750.0,1081.7 L1750.0,1045.0" fill="none" stroke="#000" stroke-width="2.6" stroke-dasharray="9 1.5"/>
<polyline points="1738.3,1054.3 1877.3,1054.3" fill="none" stroke="#000" stroke-width="1.2" stroke-dasharray="1 5"/>
<polyline points="1753.3,1066.7 1877.3,1066.7" fill="none" stroke="#000" stroke-width="1.2" stroke-dasharray="1 5"/>
<polyline points="1819.3,1054.3 1819.3,1078.3" fill="none" stroke="#000" stroke-width="1.1"/>
<polyline points="1823.3,1054.3 1823.3,1078.3" fill="none" stroke="#000" stroke-width="1.1"/>
<rect x="1818.3" y="1083.3" width="52.4" height="13.4" rx="0" fill="none" stroke="#000" stroke-width="1.1"/>
<polyline points="1823.3,1090.7 1865.7,1090.7" fill="none" stroke="#000" stroke-width="2"/>
<rect x="1887.3" y="1012.3" width="52.7" height="17.0" fill="none" stroke="#000" stroke-width="1.1"/><path d="M1889.3,1020.8 H1938.0" stroke="#000" stroke-width="1.2"/><path d="M1893.6,1015.4 L1893.6,1026.2" stroke="#000" stroke-width="1.5"/><path d="M1902.9,1015.4 L1897.8,1026.2" stroke="#000" stroke-width="1.5"/><path d="M1904.4,1015.4 L1909.5,1026.2" stroke="#000" stroke-width="1.5"/><path d="M1913.7,1015.4 L1913.7,1026.2" stroke="#000" stroke-width="1.5"/><path d="M1917.8,1015.4 L1922.9,1026.2" stroke="#000" stroke-width="1.5"/><path d="M1929.5,1015.4 L1924.4,1026.2" stroke="#000" stroke-width="1.5"/><path d="M1933.7,1015.4 L1933.7,1026.2" stroke="#000" stroke-width="1.5"/>
<circle cx="2031.0" cy="1045.7" r="7.3" fill="none" stroke="#000" stroke-width="1.0"/>
<path d="M1996.6,1025.3 A41.7,41.7 0 0 0 2038.3,1067.0" fill="none" stroke="#000" stroke-width="1.1" stroke-dasharray="2 3"/>
<path d="M2038.3,1025.3 L1996.6,1025.3" fill="none" stroke="#000" stroke-width="2.6" stroke-dasharray="9 1.5"/>
<rect x="1909.3" y="1064.3" width="34.7" height="28.4" rx="0" fill="none" stroke="#000" stroke-width="2.4"/>
<rect x="1903.3" y="1098.3" width="46.0" height="18.4" rx="0" fill="none" stroke="#000" stroke-width="1.1"/>
<rect x="1813.3" y="1134.3" width="54.4" height="33.4" rx="0" fill="none" stroke="#000" stroke-width="1.1"/>
<rect x="1643.3" y="1082.7" width="29.0" height="24.0" rx="0" fill="none" stroke="#000" stroke-width="1.1"/>
<circle cx="1646.0" cy="1145.0" r="8.0" fill="none" stroke="#000" stroke-width="1.0"/>
<rect x="1678.8" y="1130.8" width="18.7" height="18.7" fill="#fff" stroke="#000" stroke-width="1.1"/><rect x="1678.8" y="1193.2" width="18.7" height="18.7" fill="#fff" stroke="#000" stroke-width="1.1"/><path d="M1678.8,1134.6 h18.7 M1678.8,1208.1 h18.7" stroke="#000" stroke-width="1"/><rect x="1708.5" y="1130.8" width="18.7" height="18.7" fill="#fff" stroke="#000" stroke-width="1.1"/><rect x="1708.5" y="1193.2" width="18.7" height="18.7" fill="#fff" stroke="#000" stroke-width="1.1"/><path d="M1708.5,1134.6 h18.7 M1708.5,1208.1 h18.7" stroke="#000" stroke-width="1"/><rect x="1673.3" y="1146.7" width="59.4" height="49.3" fill="#fff" stroke="#000" stroke-width="1.2"/>
<rect x="1792.7" y="1186.0" width="89.6" height="30.7" rx="0" fill="none" stroke="#000" stroke-width="1.1"/>
<polyline points="1796.7,1216.7 1796.7,1190.0 1878.3,1190.0 1878.3,1216.7" fill="none" stroke="#000" stroke-width="1.1"/>
<polyline points="1824.0,1190.0 1824.0,1216.7" fill="none" stroke="#000" stroke-width="1.1"/>
<polyline points="1851.7,1190.0 1851.7,1216.7" fill="none" stroke="#000" stroke-width="1.1"/>
<use href="#tel" transform="translate(1781.7 1205.0) rotate(0) scale(1.133 1.133)"/>
<rect x="1928.3" y="1140.0" width="27.7" height="28.3" rx="0" fill="none" stroke="#000" stroke-width="1.1"/>
<rect x="1928.3" y="1142.7" width="24.4" height="23.0" rx="0" fill="none" stroke="#000" stroke-width="1.1"/>
<rect x="1928.3" y="1174.0" width="27.7" height="27.7" rx="0" fill="none" stroke="#000" stroke-width="1.1"/>
<rect x="1928.3" y="1176.7" width="24.4" height="22.3" rx="0" fill="none" stroke="#000" stroke-width="1.1"/>
<rect x="1628.3" y="1096.7" width="6.7" height="91.6" fill="#fff" stroke="#000" stroke-width="1.1"/><path d="M1631.0,1099.7 v85.6 M1633.0,1099.7 v85.6" stroke="#000" stroke-width="1.0"/>
<polyline points="1573.3,1082.7 1573.3,1218.3" fill="none" stroke="#000" stroke-width="1.1"/>
<polyline points="1577.3,1082.7 1577.3,1218.3" fill="none" stroke="#000" stroke-width="1.1"/>
<use href="#bch" transform="translate(1605.0 1101.7) rotate(180) scale(1.1 1.1)"/>
<use href="#bch" transform="translate(1603.3 1199.3) rotate(0) scale(-1.1 1.1)"/>
<rect x="1574.0" y="1184.0" width="7.7" height="34.3" rx="0" fill="none" stroke="#000" stroke-width="1.1"/>
<polyline points="1553.3,1111.7 1560.0,1111.7 1572.7,1132.3" fill="none" stroke="#000" stroke-width="1.1"/>
<polyline points="1529.3,1196.7 1536.0,1196.7 1550.0,1217.7" fill="none" stroke="#000" stroke-width="1.1"/>
<use href="#wc" transform="translate(2003.3 1131.7) rotate(0) scale(1.2 1.2)"/>
<use href="#tap" transform="translate(2020.0 1176.0) rotate(90) scale(1.133 1.133)"/>
<use href="#basin" transform="translate(2021.7 1206.7) rotate(0) scale(1.2 1.2)"/>
<circle cx="1980.7" cy="1210.7" r="6.7" fill="none" stroke="#000" stroke-width="1.0"/>
<path d="M1966.7,1193.4 A33.3,33.3 0 0 1 2000.0,1226.7" fill="none" stroke="#000" stroke-width="1.1"/>
<path d="M1966.7,1226.7 L1966.7,1193.4" fill="none" stroke="#000" stroke-width="2.6" stroke-dasharray="9 1.5"/>
<circle cx="2050.0" cy="1155.0" r="5.7" fill="none" stroke="#000" stroke-width="1.0"/>
<rect x="1944.3" y="1271.7" width="85.7" height="67.6" rx="2" fill="#fff" stroke="#000" stroke-width="1.2"/><g transform="translate(1944.3 1271.7)"><rect x="83.7" y="-2.0" width="6.0" height="71.6" fill="#fff" stroke="#000" stroke-width="1.1"/><path d="M32.6,67.6 L68.6,0 M47.1,67.6 L71.1,0" fill="none" stroke="#000" stroke-width="1.1"/><path d="M64.3,2.7 q6.0,-3.4 13.7,-0.5 l5.1,16.2 q-2.6,4.5 -11.1,4.1 l-10.3,-7.2 q-2.6,-6.8 1.7,-10.4 Z" fill="#fff" stroke="#000" stroke-width="1.5"/><path d="M66.8,6.8 l6.0,2.3 M68.6,12.4 l7.7,-2.3 M74.6,4.5 l5.1,11.3" fill="none" stroke="#000" stroke-width="0.9"/><path d="M64.3,25.2 q6.0,-3.4 13.7,-0.5 l5.1,16.2 q-2.6,4.5 -11.1,4.1 l-10.3,-7.2 q-2.6,-6.8 1.7,-10.4 Z" fill="#fff" stroke="#000" stroke-width="1.5"/><path d="M66.8,29.3 l6.0,2.3 M68.6,34.9 l7.7,-2.3 M74.6,27.0 l5.1,11.3" fill="none" stroke="#000" stroke-width="0.9"/><path d="M64.3,47.8 q6.0,-3.4 13.7,-0.5 l5.1,16.2 q-2.6,4.5 -11.1,4.1 l-10.3,-7.2 q-2.6,-6.8 1.7,-10.4 Z" fill="#fff" stroke="#000" stroke-width="1.5"/><path d="M66.8,51.8 l6.0,2.3 M68.6,57.5 l7.7,-2.3 M74.6,49.6 l5.1,11.3" fill="none" stroke="#000" stroke-width="0.9"/><path d="M80.6,0 V67.6" stroke="#000" stroke-width="0.9"/></g>
<rect x="1930.7" y="1355.0" width="51.0" height="12.7" rx="0" fill="none" stroke="#000" stroke-width="1.1"/>
<polyline points="1935.7,1361.7 1976.7,1361.7" fill="none" stroke="#000" stroke-width="2"/>
<use href="#tel" transform="translate(2020.0 1358.3) rotate(0) scale(1.133 1.133)"/>
<circle cx="1907.3" cy="1224.0" r="6.7" fill="none" stroke="#000" stroke-width="1.0"/>
<path d="M1890.7,1257.7 A36.0,36.0 0 0 0 1926.7,1221.7" fill="none" stroke="#000" stroke-width="1.1"/>
<path d="M1890.7,1221.7 L1890.7,1257.7" fill="none" stroke="#000" stroke-width="2.6" stroke-dasharray="9 1.5"/>
<rect x="1878.3" y="1246.7" width="5.0" height="51.6" fill="#fff" stroke="#000" stroke-width="1.1"/><path d="M1880.3,1249.7 v45.6 M1881.8,1249.7 v45.6" stroke="#000" stroke-width="1.0"/>
<rect x="1857.3" y="1314.3" width="24.4" height="54.0" fill="none" stroke="#000" stroke-width="1.1"/><path d="M1869.5,1316.3 V1366.3" stroke="#000" stroke-width="1.2"/><path d="M1861.7,1320.7 L1877.3,1320.7" stroke="#000" stroke-width="1.5"/><path d="M1861.7,1331.2 L1877.3,1323.9" stroke="#000" stroke-width="1.5"/><path d="M1861.7,1330.8 L1877.3,1338.1" stroke="#000" stroke-width="1.5"/><path d="M1861.7,1341.3 L1877.3,1341.3" stroke="#000" stroke-width="1.5"/><path d="M1861.7,1344.5 L1877.3,1351.8" stroke="#000" stroke-width="1.5"/><path d="M1861.7,1358.7 L1877.3,1351.4" stroke="#000" stroke-width="1.5"/><path d="M1861.7,1361.9 L1877.3,1361.9" stroke="#000" stroke-width="1.5"/>
<polyline points="1796.7,1228.3 1846.7,1391.0" fill="none" stroke="#000" stroke-width="1.0" stroke-dasharray="7 4"/>
<polyline points="1875.0,1228.3 1813.3,1391.0" fill="none" stroke="#000" stroke-width="1.0" stroke-dasharray="7 4"/>
<polyline points="1846.7,1228.3 1846.7,1305.0" fill="none" stroke="#000" stroke-width="1.0" stroke-dasharray="7 4"/>
<rect x="1660.0" y="1228.3" width="52.3" height="11.7" rx="0" fill="none" stroke="#000" stroke-width="1.1"/>
<polyline points="1665.0,1234.3 1707.3,1234.3" fill="none" stroke="#000" stroke-width="2"/>
<rect x="1652.3" y="1276.0" width="67.7" height="87.3" rx="2" fill="#fff" stroke="#000" stroke-width="1.2"/><g transform="translate(1720.0 1276.0) rotate(90)"><rect x="85.3" y="-2.0" width="6.0" height="71.7" fill="#fff" stroke="#000" stroke-width="1.1"/><path d="M33.2,67.7 L69.8,0 M48.0,67.7 L72.5,0" fill="none" stroke="#000" stroke-width="1.1"/><path d="M65.5,2.7 q6.1,-3.4 14.0,-0.5 l5.2,16.2 q-2.6,4.5 -11.3,4.1 l-10.5,-7.2 q-2.6,-6.8 1.7,-10.4 Z" fill="#fff" stroke="#000" stroke-width="1.5"/><path d="M68.1,6.8 l6.1,2.3 M69.8,12.4 l7.9,-2.3 M76.0,4.5 l5.2,11.3" fill="none" stroke="#000" stroke-width="0.9"/><path d="M65.5,25.3 q6.1,-3.4 14.0,-0.5 l5.2,16.2 q-2.6,4.5 -11.3,4.1 l-10.5,-7.2 q-2.6,-6.8 1.7,-10.4 Z" fill="#fff" stroke="#000" stroke-width="1.5"/><path d="M68.1,29.3 l6.1,2.3 M69.8,35.0 l7.9,-2.3 M76.0,27.1 l5.2,11.3" fill="none" stroke="#000" stroke-width="0.9"/><path d="M65.5,47.8 q6.1,-3.4 14.0,-0.5 l5.2,16.2 q-2.6,4.5 -11.3,4.1 l-10.5,-7.2 q-2.6,-6.8 1.7,-10.4 Z" fill="#fff" stroke="#000" stroke-width="1.5"/><path d="M68.1,51.9 l6.1,2.3 M69.8,57.5 l7.9,-2.3 M76.0,49.6 l5.2,11.3" fill="none" stroke="#000" stroke-width="0.9"/><path d="M82.1,0 V67.7" stroke="#000" stroke-width="0.9"/></g>
<use href="#tel" transform="translate(1733.3 1353.3) rotate(0) scale(1.133 1.133)"/>
<rect x="1760.7" y="1228.3" width="26.6" height="50.0" fill="none" stroke="#000" stroke-width="1.1"/><path d="M1774.0,1230.3 V1276.3" stroke="#000" stroke-width="1.2"/><path d="M1765.5,1234.4 L1782.5,1234.4" stroke="#000" stroke-width="1.5"/><path d="M1765.5,1244.7 L1782.5,1236.7" stroke="#000" stroke-width="1.5"/><path d="M1765.5,1243.0 L1782.5,1251.0" stroke="#000" stroke-width="1.5"/><path d="M1765.5,1253.3 L1782.5,1253.3" stroke="#000" stroke-width="1.5"/><path d="M1765.5,1255.6 L1782.5,1263.6" stroke="#000" stroke-width="1.5"/><path d="M1765.5,1269.9 L1782.5,1261.9" stroke="#000" stroke-width="1.5"/><path d="M1765.5,1272.2 L1782.5,1272.2" stroke="#000" stroke-width="1.5"/>
<rect x="1760.7" y="1295.0" width="6.0" height="53.3" fill="#fff" stroke="#000" stroke-width="1.1"/><path d="M1763.1,1298.0 v47.3 M1764.9,1298.0 v47.3" stroke="#000" stroke-width="1.0"/>
<rect x="1769.3" y="1288.3" width="27.4" height="66.7" rx="0" fill="none" stroke="#000" stroke-width="1.1" stroke-dasharray="7 4"/>
<circle cx="1632.3" cy="1365.7" r="6.7" fill="none" stroke="#000" stroke-width="1.0"/>
<path d="M1615.0,1330.7 A36.0,36.0 0 0 1 1651.0,1366.7" fill="none" stroke="#000" stroke-width="1.1"/>
<path d="M1615.0,1366.7 L1615.0,1330.7" fill="none" stroke="#000" stroke-width="2.6" stroke-dasharray="9 1.5"/>
<polyline points="1616.7,1341.7 1760.0,1341.7" fill="none" stroke="#000" stroke-width="0.8" stroke-dasharray="7 4"/>
<use href="#bch" transform="translate(1581.7 1243.3) rotate(0) scale(-1.1 1.1)"/>
<polyline points="1500.0,1221.7 1573.3,1221.7" fill="none" stroke="#000" stroke-width="1.1"/>
<polyline points="1500.0,1226.0 1573.3,1226.0" fill="none" stroke="#000" stroke-width="1.1"/>
<circle cx="1535.0" cy="1282.3" r="8.0" fill="none" stroke="#000" stroke-width="1.0"/>
<rect x="1514.8" y="1298.4" width="18.7" height="18.7" fill="#fff" stroke="#000" stroke-width="1.1"/><rect x="1577.2" y="1298.4" width="18.7" height="18.7" fill="#fff" stroke="#000" stroke-width="1.1"/><path d="M1518.6,1298.4 v18.7 M1592.1,1298.4 v18.7" stroke="#000" stroke-width="1"/><rect x="1514.8" y="1327.3" width="18.7" height="18.7" fill="#fff" stroke="#000" stroke-width="1.1"/><rect x="1577.2" y="1327.3" width="18.7" height="18.7" fill="#fff" stroke="#000" stroke-width="1.1"/><path d="M1518.6,1327.3 v18.7 M1592.1,1327.3 v18.7" stroke="#000" stroke-width="1"/><rect x="1514.8" y="1356.2" width="18.7" height="18.7" fill="#fff" stroke="#000" stroke-width="1.1"/><rect x="1577.2" y="1356.2" width="18.7" height="18.7" fill="#fff" stroke="#000" stroke-width="1.1"/><path d="M1518.6,1356.2 v18.7 M1592.1,1356.2 v18.7" stroke="#000" stroke-width="1"/><rect x="1530.7" y="1293.3" width="49.3" height="86.7" fill="#fff" stroke="#000" stroke-width="1.2"/>
<rect x="2061.7" y="1081.7" width="100.0" height="7.3" fill="#fff" stroke="#000" stroke-width="1.1"/><path d="M2064.7,1084.6 h94.0 M2064.7,1086.8 h94.0" stroke="#000" stroke-width="1.0"/>
<polyline points="2042.7,1091.7 2141.7,1296.7" fill="none" stroke="#000" stroke-width="1.0" stroke-dasharray="7 4"/>
<polyline points="2040.7,1296.7 2140.0,1155.0" fill="none" stroke="#000" stroke-width="1.0" stroke-dasharray="7 4"/>
<circle cx="2171.7" cy="1121.0" r="5.7" fill="none" stroke="#000" stroke-width="1.0"/>
<circle cx="2131.0" cy="1188.3" r="5.7" fill="none" stroke="#000" stroke-width="1.0"/>
<circle cx="2063.3" cy="1288.3" r="5.7" fill="none" stroke="#000" stroke-width="1.0"/>
<polyline points="2113.3,1229.3 2141.7,1229.3" fill="none" stroke="#000" stroke-width="1.0" stroke-dasharray="7 4"/>
<polyline points="2113.3,1229.3 2113.3,1296.7" fill="none" stroke="#000" stroke-width="1.0" stroke-dasharray="7 4"/>
<use href="#iwc" transform="translate(2211.0 1120.0) rotate(0) scale(1.333 1.333)"/>
<polyline points="2235.0,1090.0 2235.0,1151.7" fill="none" stroke="#000" stroke-width="1.1"/>
<use href="#tap" transform="translate(2262.7 1103.3) rotate(0) scale(1.133 1.133)"/>
<circle cx="2281.0" cy="1163.3" r="6.7" fill="none" stroke="#000" stroke-width="1.0"/>
<path d="M2296.7,1127.3 A32.7,32.7 0 0 0 2264.0,1160.0" fill="none" stroke="#000" stroke-width="1.1"/>
<path d="M2296.7,1160.0 L2296.7,1127.3" fill="none" stroke="#000" stroke-width="2.6" stroke-dasharray="9 1.5"/>
<use href="#wc" transform="translate(2167.7 1180.0) rotate(0) scale(1.2 1.2)"/>
<use href="#tap" transform="translate(2202.7 1171.7) rotate(0) scale(1.133 1.133)"/>
<use href="#basin" transform="translate(2226.7 1173.3) rotate(90) scale(1.2 1.2)"/>
<circle cx="2220.0" cy="1221.7" r="6.7" fill="none" stroke="#000" stroke-width="1.0"/>
<path d="M2235.0,1197.3 A32.7,32.7 0 0 0 2202.3,1230.0" fill="none" stroke="#000" stroke-width="1.1"/>
<path d="M2235.0,1230.0 L2235.0,1197.3" fill="none" stroke="#000" stroke-width="2.6" stroke-dasharray="9 1.5"/>
<use href="#basin" transform="translate(2248.3 1197.3) rotate(0) scale(1.2 1.2)"/>
<use href="#tel" transform="translate(2160.0 1243.3) rotate(0) scale(1.133 1.133)"/>
<rect x="2153.3" y="1256.7" width="87.4" height="67.6" rx="2" fill="#fff" stroke="#000" stroke-width="1.2"/><g transform="translate(2240.7 1256.7) scale(-1 1)"><rect x="85.4" y="-2.0" width="6.0" height="71.6" fill="#fff" stroke="#000" stroke-width="1.1"/><path d="M33.2,67.6 L69.9,0 M48.1,67.6 L72.5,0" fill="none" stroke="#000" stroke-width="1.1"/><path d="M65.5,2.7 q6.1,-3.4 14.0,-0.5 l5.2,16.2 q-2.6,4.5 -11.4,4.1 l-10.5,-7.2 q-2.6,-6.8 1.7,-10.4 Z" fill="#fff" stroke="#000" stroke-width="1.5"/><path d="M68.2,6.8 l6.1,2.3 M69.9,12.4 l7.9,-2.3 M76.0,4.5 l5.2,11.3" fill="none" stroke="#000" stroke-width="0.9"/><path d="M65.5,25.2 q6.1,-3.4 14.0,-0.5 l5.2,16.2 q-2.6,4.5 -11.4,4.1 l-10.5,-7.2 q-2.6,-6.8 1.7,-10.4 Z" fill="#fff" stroke="#000" stroke-width="1.5"/><path d="M68.2,29.3 l6.1,2.3 M69.9,34.9 l7.9,-2.3 M76.0,27.0 l5.2,11.3" fill="none" stroke="#000" stroke-width="0.9"/><path d="M65.5,47.8 q6.1,-3.4 14.0,-0.5 l5.2,16.2 q-2.6,4.5 -11.4,4.1 l-10.5,-7.2 q-2.6,-6.8 1.7,-10.4 Z" fill="#fff" stroke="#000" stroke-width="1.5"/><path d="M68.2,51.8 l6.1,2.3 M69.9,57.5 l7.9,-2.3 M76.0,49.6 l5.2,11.3" fill="none" stroke="#000" stroke-width="0.9"/><path d="M82.2,0 V67.6" stroke="#000" stroke-width="0.9"/></g>
<rect x="2150.0" y="1345.0" width="58.3" height="22.7" fill="none" stroke="#000" stroke-width="1.1"/><path d="M2152.0,1356.3 H2206.3" stroke="#000" stroke-width="1.2"/><path d="M2156.3,1349.1 L2156.3,1363.6" stroke="#000" stroke-width="1.5"/><path d="M2166.2,1349.1 L2159.4,1363.6" stroke="#000" stroke-width="1.5"/><path d="M2165.9,1349.1 L2172.7,1363.6" stroke="#000" stroke-width="1.5"/><path d="M2175.9,1349.1 L2175.9,1363.6" stroke="#000" stroke-width="1.5"/><path d="M2179.0,1349.1 L2185.8,1363.6" stroke="#000" stroke-width="1.5"/><path d="M2192.4,1349.1 L2185.6,1363.6" stroke="#000" stroke-width="1.5"/><path d="M2195.5,1349.1 L2195.5,1363.6" stroke="#000" stroke-width="1.5"/><path d="M2205.4,1349.1 L2198.6,1363.6" stroke="#000" stroke-width="1.5"/>
<rect x="2286.0" y="1276.7" width="12.3" height="53.3" rx="0" fill="none" stroke="#000" stroke-width="1.1"/>
<rect x="2290.0" y="1281.7" width="4.3" height="43.3" rx="0" fill="none" stroke="#000" stroke-width="1.1"/>
<circle cx="2269.0" cy="1235.0" r="6.7" fill="none" stroke="#000" stroke-width="1.0"/>
<path d="M2287.3,1267.3 A37.3,37.3 0 0 1 2250.0,1230.0" fill="none" stroke="#000" stroke-width="1.1"/>
<path d="M2287.3,1230.0 L2287.3,1267.3" fill="none" stroke="#000" stroke-width="2.6" stroke-dasharray="9 1.5"/>
<rect x="2304.0" y="1321.7" width="23.3" height="26.6" rx="0" fill="none" stroke="#000" stroke-width="1.1"/>
<rect x="2142.7" y="1236.7" width="5.6" height="53.3" fill="#fff" stroke="#000" stroke-width="1.1"/><path d="M2144.9,1239.7 v47.3 M2146.6,1239.7 v47.3" stroke="#000" stroke-width="1.0"/>
<use href="#wc" transform="translate(2061.7 1323.3) rotate(0) scale(1.2 1.2)"/>
<use href="#tap" transform="translate(2095.0 1313.3) rotate(0) scale(1.133 1.133)"/>
<use href="#basin" transform="translate(2130.0 1315.0) rotate(90) scale(1.2 1.2)"/>
<circle cx="2120.0" cy="1382.3" r="6.7" fill="none" stroke="#000" stroke-width="1.0"/>
<path d="M2138.3,1335.6 A32.7,32.7 0 0 0 2105.6,1368.3" fill="none" stroke="#000" stroke-width="1.1"/>
<path d="M2138.3,1368.3 L2138.3,1335.6" fill="none" stroke="#000" stroke-width="2.6" stroke-dasharray="9 1.5"/>
<rect x="2053.3" y="1297.3" width="20.0" height="6.7" rx="0" fill="none" stroke="#000" stroke-width="1.1"/>
<circle cx="2336.7" cy="1090.7" r="7.3" fill="none" stroke="#000" stroke-width="1.0"/>
<path d="M2316.7,1125.0 A41.7,41.7 0 0 0 2358.4,1083.3" fill="none" stroke="#000" stroke-width="1.1" stroke-dasharray="2 3"/>
<path d="M2316.7,1083.3 L2316.7,1125.0" fill="none" stroke="#000" stroke-width="2.6" stroke-dasharray="9 1.5"/>
<rect x="2362.7" y="1089.3" width="54.0" height="13.4" rx="0" fill="none" stroke="#000" stroke-width="1.1"/>
<polyline points="2367.7,1096.7 2411.7,1096.7" fill="none" stroke="#000" stroke-width="2"/>
<rect x="2423.3" y="1086.0" width="20.0" height="4.0" rx="0" fill="none" stroke="#000" stroke-width="1.1"/>
<rect x="2373.3" y="1122.3" width="27.4" height="43.7" rx="1" fill="none" stroke="#000" stroke-width="1.1"/>
<rect x="2416.7" y="1112.7" width="23.3" height="23.3" rx="0" fill="none" stroke="#000" stroke-width="1.1"/>
<rect x="2416.7" y="1115.3" width="20.0" height="18.0" rx="0" fill="none" stroke="#000" stroke-width="1.1"/>
<rect x="2416.7" y="1139.3" width="23.3" height="23.4" rx="0" fill="none" stroke="#000" stroke-width="1.1"/>
<rect x="2416.7" y="1142.0" width="20.0" height="18.0" rx="0" fill="none" stroke="#000" stroke-width="1.1"/>
<rect x="2360.0" y="1182.7" width="23.3" height="22.3" rx="0" fill="none" stroke="#000" stroke-width="1.1"/>
<rect x="2362.7" y="1182.7" width="18.0" height="19.0" rx="0" fill="none" stroke="#000" stroke-width="1.1"/>
<rect x="2386.7" y="1182.7" width="24.0" height="22.3" rx="0" fill="none" stroke="#000" stroke-width="1.1"/>
<rect x="2389.3" y="1182.7" width="18.7" height="19.0" rx="0" fill="none" stroke="#000" stroke-width="1.1"/>
<rect x="2312.7" y="1134.3" width="34.0" height="28.4" rx="0" fill="none" stroke="#000" stroke-width="2.4"/>
<rect x="2306.7" y="1170.0" width="45.6" height="17.3" rx="0" fill="none" stroke="#000" stroke-width="1.1"/>
<rect x="2332.4" y="1271.2" width="18.7" height="18.7" fill="#fff" stroke="#000" stroke-width="1.1"/><rect x="2395.5" y="1271.2" width="18.7" height="18.7" fill="#fff" stroke="#000" stroke-width="1.1"/><path d="M2336.2,1271.2 v18.7 M2410.4,1271.2 v18.7" stroke="#000" stroke-width="1"/><rect x="2332.4" y="1300.8" width="18.7" height="18.7" fill="#fff" stroke="#000" stroke-width="1.1"/><rect x="2395.5" y="1300.8" width="18.7" height="18.7" fill="#fff" stroke="#000" stroke-width="1.1"/><path d="M2336.2,1300.8 v18.7 M2410.4,1300.8 v18.7" stroke="#000" stroke-width="1"/><rect x="2348.3" y="1265.7" width="50.0" height="59.3" fill="#fff" stroke="#000" stroke-width="1.2"/>
<rect x="2302.7" y="1321.7" width="24.6" height="27.6" rx="0" fill="none" stroke="#000" stroke-width="1.1"/>
<circle cx="2449.3" cy="1202.3" r="6.7" fill="none" stroke="#000" stroke-width="1.0"/>
<path d="M2484.3,1220.0 A36.0,36.0 0 0 0 2448.3,1184.0" fill="none" stroke="#000" stroke-width="1.1"/>
<path d="M2448.3,1220.0 L2484.3,1220.0" fill="none" stroke="#000" stroke-width="2.6" stroke-dasharray="9 1.5"/>
<polyline points="2451.7,1089.3 2451.7,1218.3" fill="none" stroke="#000" stroke-width="1.2" stroke-dasharray="1 5"/>
<polyline points="2474.0,1089.3 2474.0,1218.3" fill="none" stroke="#000" stroke-width="1.2" stroke-dasharray="1 5"/>
<rect x="2446.7" y="1264.0" width="6.0" height="52.0" fill="#fff" stroke="#000" stroke-width="1.1"/><path d="M2449.1,1267.0 v46.0 M2450.9,1267.0 v46.0" stroke="#000" stroke-width="1.0"/>
<rect x="2520.0" y="1136.7" width="68.3" height="86.6" rx="2" fill="#fff" stroke="#000" stroke-width="1.2"/><g transform="translate(2588.3 1136.7) rotate(90)"><rect x="84.6" y="-2.0" width="6.0" height="72.3" fill="#fff" stroke="#000" stroke-width="1.1"/><path d="M32.9,68.3 L69.3,0 M47.6,68.3 L71.9,0" fill="none" stroke="#000" stroke-width="1.1"/><path d="M64.9,2.7 q6.1,-3.4 13.9,-0.5 l5.2,16.4 q-2.6,4.6 -11.3,4.1 l-10.4,-7.3 q-2.6,-6.8 1.7,-10.5 Z" fill="#fff" stroke="#000" stroke-width="1.5"/><path d="M67.5,6.8 l6.1,2.3 M69.3,12.5 l7.8,-2.3 M75.3,4.6 l5.2,11.4" fill="none" stroke="#000" stroke-width="0.9"/><path d="M64.9,25.5 q6.1,-3.4 13.9,-0.5 l5.2,16.4 q-2.6,4.6 -11.3,4.1 l-10.4,-7.3 q-2.6,-6.8 1.7,-10.5 Z" fill="#fff" stroke="#000" stroke-width="1.5"/><path d="M67.5,29.6 l6.1,2.3 M69.3,35.3 l7.8,-2.3 M75.3,27.3 l5.2,11.4" fill="none" stroke="#000" stroke-width="0.9"/><path d="M64.9,48.3 q6.1,-3.4 13.9,-0.5 l5.2,16.4 q-2.6,4.6 -11.3,4.1 l-10.4,-7.3 q-2.6,-6.8 1.7,-10.5 Z" fill="#fff" stroke="#000" stroke-width="1.5"/><path d="M67.5,52.4 l6.1,2.3 M69.3,58.1 l7.8,-2.3 M75.3,50.1 l5.2,11.4" fill="none" stroke="#000" stroke-width="0.9"/><path d="M81.4,0 V68.3" stroke="#000" stroke-width="0.9"/></g>
<rect x="2636.0" y="1103.3" width="6.7" height="51.7" fill="#fff" stroke="#000" stroke-width="1.1"/><path d="M2638.7,1106.3 v45.7 M2640.7,1106.3 v45.7" stroke="#000" stroke-width="1.0"/>
<rect x="2644.0" y="1094.3" width="27.7" height="66.7" rx="0" fill="none" stroke="#000" stroke-width="1.1" stroke-dasharray="7 4"/>
<rect x="2644.7" y="1170.7" width="17.0" height="53.3" fill="none" stroke="#000" stroke-width="1.1"/><path d="M2653.2,1172.7 V1222.0" stroke="#000" stroke-width="1.2"/><path d="M2647.8,1177.1 L2658.6,1177.1" stroke="#000" stroke-width="1.5"/><path d="M2647.8,1186.4 L2658.6,1181.3" stroke="#000" stroke-width="1.5"/><path d="M2647.8,1188.0 L2658.6,1193.1" stroke="#000" stroke-width="1.5"/><path d="M2647.8,1197.3 L2658.6,1197.3" stroke="#000" stroke-width="1.5"/><path d="M2647.8,1201.6 L2658.6,1206.7" stroke="#000" stroke-width="1.5"/><path d="M2647.8,1213.4 L2658.6,1208.3" stroke="#000" stroke-width="1.5"/><path d="M2647.8,1217.6 L2658.6,1217.6" stroke="#000" stroke-width="1.5"/>
<polyline points="2635.0,1161.7 2670.7,1161.7" fill="none" stroke="#000" stroke-width="1.1"/>
<polyline points="2645.0,1090.7 2812.7,1257.3" fill="none" stroke="#000" stroke-width="1.0" stroke-dasharray="7 4"/>
<polyline points="2812.7,1101.7 2670.7,1233.3" fill="none" stroke="#000" stroke-width="1.0" stroke-dasharray="7 4"/>
<rect x="2816.0" y="1205.0" width="5.7" height="52.3" fill="#fff" stroke="#000" stroke-width="1.1"/><path d="M2818.3,1208.0 v46.3 M2820.0,1208.0 v46.3" stroke="#000" stroke-width="1.0"/>
<rect x="2743.3" y="1271.0" width="53.4" height="7.3" fill="#fff" stroke="#000" stroke-width="1.1"/><path d="M2746.3,1273.9 h47.4 M2746.3,1276.1 h47.4" stroke="#000" stroke-width="1.0"/>
<polyline points="2455.0,1234.3 2556.7,1349.3" fill="none" stroke="#000" stroke-width="1.0" stroke-dasharray="7 4"/>
<polyline points="2455.0,1349.3 2596.7,1234.3" fill="none" stroke="#000" stroke-width="1.0" stroke-dasharray="7 4"/>
<rect x="2455.0" y="1258.3" width="27.7" height="67.7" rx="0" fill="none" stroke="#000" stroke-width="1.1" stroke-dasharray="7 4"/>
<rect x="2556.0" y="1305.0" width="146.7" height="44.3" rx="0" fill="none" stroke="#000" stroke-width="1.1"/>
<polyline points="2702.7,1309.0 2560.0,1309.0 2560.0,1349.3" fill="none" stroke="#000" stroke-width="1.1"/>
<polyline points="2648.3,1284.0 2655.0,1284.0 2670.0,1305.7" fill="none" stroke="#000" stroke-width="1.1"/>
<rect x="2583.3" y="1350.3" width="95.0" height="7.0" fill="#fff" stroke="#000" stroke-width="1.1"/><path d="M2586.3,1353.1 h89.0 M2586.3,1355.2 h89.0" stroke="#000" stroke-width="1.0"/>
<polyline points="2822.7,1094.3 2930.0,1094.3" fill="none" stroke="#000" stroke-width="1.1"/>
<polyline points="2822.7,1107.3 2930.0,1107.3" fill="none" stroke="#000" stroke-width="1.1"/>
<polyline points="2822.7,1120.0 2930.0,1120.0" fill="none" stroke="#000" stroke-width="1.1"/>
<polyline points="2822.7,1133.3 2930.0,1133.3" fill="none" stroke="#000" stroke-width="1.1"/>
<polyline points="2822.7,1146.7 2930.0,1146.7" fill="none" stroke="#000" stroke-width="1.1"/>
<polyline points="2822.7,1160.0 2930.0,1160.0" fill="none" stroke="#000" stroke-width="1.1"/>
<polyline points="2822.7,1174.0 2930.0,1174.0" fill="none" stroke="#000" stroke-width="1.1"/>
<polyline points="2822.7,1187.3 2930.0,1187.3" fill="none" stroke="#000" stroke-width="1.1"/>
<polyline points="2822.7,1200.7 2930.0,1200.7" fill="none" stroke="#000" stroke-width="1.1"/>
<polyline points="2822.7,1215.0 2930.0,1215.0" fill="none" stroke="#000" stroke-width="1.1"/>
<polyline points="2872.7,1094.3 2872.7,1215.0" fill="none" stroke="#000" stroke-width="1.1"/>
<polyline points="2879.3,1094.3 2879.3,1215.0" fill="none" stroke="#000" stroke-width="1.1"/>
<polyline points="2959.3,1089.3 3056.7,1118.3" fill="none" stroke="#000" stroke-width="1.0" stroke-dasharray="7 4"/>
<polyline points="3100.0,1118.3 3140.0,1106.0" fill="none" stroke="#000" stroke-width="1.0" stroke-dasharray="7 4"/>
<polyline points="2959.3,1160.0 3063.3,1130.0" fill="none" stroke="#000" stroke-width="1.0" stroke-dasharray="7 4"/>
<polyline points="2884.0,1280.7 2939.3,1453.3" fill="none" stroke="#000" stroke-width="1.0" stroke-dasharray="7 4"/>
<polyline points="2939.3,1280.7 2884.0,1453.3" fill="none" stroke="#000" stroke-width="1.0" stroke-dasharray="7 4"/>
<polyline points="2884.0,1455.0 2916.7,1491.0" fill="none" stroke="#000" stroke-width="1.0" stroke-dasharray="7 4"/>
<polyline points="2998.3,1459.3 2966.7,1491.0" fill="none" stroke="#000" stroke-width="1.0" stroke-dasharray="7 4"/>
<rect x="2302.7" y="1355.0" width="13.3" height="45.0" rx="0" fill="none" stroke="#000" stroke-width="1.1"/>
<use href="#stove" transform="translate(2396.7 1410.0) rotate(0) scale(1.067 1.067)"/>
<use href="#sink" transform="translate(2315.0 1443.3) rotate(0) scale(1.4 1.4)"/>
<polyline points="2300.0,1404.0 2329.3,1404.0 2329.3,1458.3" fill="none" stroke="#000" stroke-width="1.1"/>
<polyline points="2382.7,1354.0 2382.7,1458.3" fill="none" stroke="#000" stroke-width="1.1"/>
<polyline points="2329.3,1354.0 2329.3,1404.0" fill="none" stroke="#000" stroke-width="1.0" stroke-dasharray="7 4"/>
<polyline points="2335.0,1349.3 2376.7,1349.3" fill="none" stroke="#000" stroke-width="1.0" stroke-dasharray="7 4"/>
<polyline points="2335.0,1354.0 2376.7,1354.0" fill="none" stroke="#000" stroke-width="1.0" stroke-dasharray="7 4"/>
<polyline points="2320.0,1363.3 2381.7,1363.3" fill="none" stroke="#000" stroke-width="1.2" stroke-dasharray="1 5"/>
<polyline points="2320.0,1376.7 2381.7,1376.7" fill="none" stroke="#000" stroke-width="1.2" stroke-dasharray="1 5"/>
<polyline points="2320.0,1390.0 2381.7,1390.0" fill="none" stroke="#000" stroke-width="1.2" stroke-dasharray="1 5"/>
<rect x="2315.0" y="1458.3" width="95.0" height="5.0" rx="0" fill="#999" stroke="#000" stroke-width="0.8"/>
<use href="#wm" transform="translate(2396.7 1481.7) rotate(-90) scale(1.533 1.533)"/>
<rect x="2664.3" y="1081.7" width="138.4" height="6.6" fill="#fff" stroke="#000" stroke-width="1.1"/><path d="M2667.3,1084.3 h132.4 M2667.3,1086.3 h132.4" stroke="#000" stroke-width="1.0"/>
<rect x="3196.0" y="1099.3" width="6.0" height="52.4" fill="#fff" stroke="#000" stroke-width="1.1"/><path d="M3198.4,1102.3 v46.4 M3200.2,1102.3 v46.4" stroke="#000" stroke-width="1.0"/>
<polyline points="3100.0,1118.3 3194.3,1090.7" fill="none" stroke="#000" stroke-width="1.0" stroke-dasharray="7 4"/>
<circle cx="3241.7" cy="1175.7" r="6.7" fill="none" stroke="#000" stroke-width="1.0"/>
<path d="M3263.3,1206.0 A42.7,42.7 0 0 1 3220.6,1163.3" fill="none" stroke="#000" stroke-width="1.1" stroke-dasharray="2 3"/>
<path d="M3263.3,1163.3 L3263.3,1206.0" fill="none" stroke="#000" stroke-width="2.6" stroke-dasharray="9 1.5"/>
<circle cx="3567.7" cy="1172.7" r="6.7" fill="none" stroke="#000" stroke-width="1.0"/>
<path d="M3588.3,1206.0 A42.7,42.7 0 0 1 3545.6,1163.3" fill="none" stroke="#000" stroke-width="1.1" stroke-dasharray="2 3"/>
<path d="M3588.3,1163.3 L3588.3,1206.0" fill="none" stroke="#000" stroke-width="2.6" stroke-dasharray="9 1.5"/>
<rect x="3606.7" y="1162.7" width="70.0" height="6.6" fill="#fff" stroke="#000" stroke-width="1.1"/><path d="M3609.7,1165.3 h64.0 M3609.7,1167.3 h64.0" stroke="#000" stroke-width="1.0"/>
<polyline points="3252.7,1320.7 3348.3,1551.0" fill="none" stroke="#000" stroke-width="1.0" stroke-dasharray="7 4"/>
<polyline points="3364.0,1320.7 3293.3,1551.0" fill="none" stroke="#000" stroke-width="1.0" stroke-dasharray="7 4"/>
<polyline points="3600.7,1171.7 3687.3,1353.3" fill="none" stroke="#000" stroke-width="1.0" stroke-dasharray="7 4"/>
<polyline points="3687.3,1171.7 3600.7,1353.3" fill="none" stroke="#000" stroke-width="1.0" stroke-dasharray="7 4"/>
<circle cx="3680.7" cy="1318.3" r="5.7" fill="none" stroke="#000" stroke-width="1.0"/>
<rect x="3690.7" y="1205.0" width="6.0" height="51.7" fill="#fff" stroke="#000" stroke-width="1.1"/><path d="M3693.1,1208.0 v45.7 M3694.9,1208.0 v45.7" stroke="#000" stroke-width="1.0"/>
<polyline points="3745.3,1251.0 3745.3,1281.7" fill="none" stroke="#000" stroke-width="1.1"/>
<polyline points="3749.3,1251.0 3749.3,1281.7" fill="none" stroke="#000" stroke-width="1.1"/>
<polyline points="3749.3,1258.3 3866.7,1258.3" fill="none" stroke="#000" stroke-width="1.0" stroke-dasharray="7 4"/>
<rect x="3749.3" y="1268.3" width="58.0" height="13.4" rx="0" fill="none" stroke="#000" stroke-width="1.1"/>
<polyline points="3810.0,1265.0 3863.3,1265.0" fill="none" stroke="#000" stroke-width="1.2" stroke-dasharray="1 5"/>
<polyline points="3810.0,1273.3 3863.3,1273.3" fill="none" stroke="#000" stroke-width="1.2" stroke-dasharray="1 5"/>
<polyline points="3861.7,1241.7 3861.7,1281.7" fill="none" stroke="#000" stroke-width="1.0" stroke-dasharray="7 4"/>
<polyline points="3866.7,1241.7 3866.7,1281.7" fill="none" stroke="#000" stroke-width="1.0" stroke-dasharray="7 4"/>
<use href="#iwc" transform="translate(3718.3 1321.7) rotate(0) scale(1.333 1.333)"/>
<polyline points="3739.3,1286.7 3739.3,1353.3" fill="none" stroke="#000" stroke-width="1.1"/>
<use href="#tap" transform="translate(3761.7 1295.0) rotate(0) scale(1.133 1.133)"/>
<circle cx="3792.7" cy="1336.0" r="6.7" fill="none" stroke="#000" stroke-width="1.0"/>
<path d="M3770.0,1351.7 A33.3,33.3 0 0 1 3803.3,1318.4" fill="none" stroke="#000" stroke-width="1.1"/>
<path d="M3803.3,1351.7 L3770.0,1351.7" fill="none" stroke="#000" stroke-width="2.6" stroke-dasharray="9 1.5"/>
<use href="#basin" transform="translate(3815.0 1293.3) rotate(90) scale(1.2 1.2)"/>
<rect x="3837.3" y="1286.7" width="28.7" height="23.3" rx="0" fill="none" stroke="#000" stroke-width="1.1"/>
<rect x="3698.0" y="1359.0" width="57.0" height="22.7" fill="none" stroke="#000" stroke-width="1.1"/><path d="M3700.0,1370.3 H3753.0" stroke="#000" stroke-width="1.2"/><path d="M3704.2,1363.1 L3704.2,1377.6" stroke="#000" stroke-width="1.5"/><path d="M3714.0,1363.1 L3707.2,1377.6" stroke="#000" stroke-width="1.5"/><path d="M3713.5,1363.1 L3720.3,1377.6" stroke="#000" stroke-width="1.5"/><path d="M3723.3,1363.1 L3723.3,1377.6" stroke="#000" stroke-width="1.5"/><path d="M3726.3,1363.1 L3733.1,1377.6" stroke="#000" stroke-width="1.5"/><path d="M3739.5,1363.1 L3732.7,1377.6" stroke="#000" stroke-width="1.5"/><path d="M3742.4,1363.1 L3742.4,1377.6" stroke="#000" stroke-width="1.5"/><path d="M3752.2,1363.1 L3745.4,1377.6" stroke="#000" stroke-width="1.5"/>
<rect x="3700.0" y="1419.0" width="86.7" height="67.7" rx="2" fill="#fff" stroke="#000" stroke-width="1.2"/><g transform="translate(3786.7 1419.0) scale(-1 1)"><rect x="84.7" y="-2.0" width="6.0" height="71.7" fill="#fff" stroke="#000" stroke-width="1.1"/><path d="M32.9,67.7 L69.4,0 M47.7,67.7 L72.0,0" fill="none" stroke="#000" stroke-width="1.1"/><path d="M65.0,2.7 q6.1,-3.4 13.9,-0.5 l5.2,16.2 q-2.6,4.5 -11.3,4.1 l-10.4,-7.2 q-2.6,-6.8 1.7,-10.4 Z" fill="#fff" stroke="#000" stroke-width="1.5"/><path d="M67.6,6.8 l6.1,2.3 M69.4,12.4 l7.8,-2.3 M75.4,4.5 l5.2,11.3" fill="none" stroke="#000" stroke-width="0.9"/><path d="M65.0,25.3 q6.1,-3.4 13.9,-0.5 l5.2,16.2 q-2.6,4.5 -11.3,4.1 l-10.4,-7.2 q-2.6,-6.8 1.7,-10.4 Z" fill="#fff" stroke="#000" stroke-width="1.5"/><path d="M67.6,29.3 l6.1,2.3 M69.4,35.0 l7.8,-2.3 M75.4,27.1 l5.2,11.3" fill="none" stroke="#000" stroke-width="0.9"/><path d="M65.0,47.8 q6.1,-3.4 13.9,-0.5 l5.2,16.2 q-2.6,4.5 -11.3,4.1 l-10.4,-7.2 q-2.6,-6.8 1.7,-10.4 Z" fill="#fff" stroke="#000" stroke-width="1.5"/><path d="M67.6,51.9 l6.1,2.3 M69.4,57.5 l7.8,-2.3 M75.4,49.6 l5.2,11.3" fill="none" stroke="#000" stroke-width="0.9"/><path d="M81.5,0 V67.7" stroke="#000" stroke-width="0.9"/></g>
<use href="#tel" transform="translate(3706.7 1500.0) rotate(0) scale(1.133 1.133)"/>
<rect x="3839.3" y="1436.7" width="12.4" height="51.6" rx="0" fill="none" stroke="#000" stroke-width="1.1"/>
<rect x="3843.3" y="1441.7" width="4.4" height="41.6" rx="0" fill="none" stroke="#000" stroke-width="1.1"/>
<circle cx="3830.0" cy="1358.3" r="6.7" fill="none" stroke="#000" stroke-width="1.0"/>
<path d="M3848.3,1392.3 A37.3,37.3 0 0 1 3811.0,1355.0" fill="none" stroke="#000" stroke-width="1.1"/>
<path d="M3848.3,1355.0 L3848.3,1392.3" fill="none" stroke="#000" stroke-width="2.6" stroke-dasharray="9 1.5"/>
<rect x="3704.0" y="1521.7" width="52.0" height="6.6" fill="#fff" stroke="#000" stroke-width="1.1"/><path d="M3707.0,1524.3 h46.0 M3707.0,1526.3 h46.0" stroke="#000" stroke-width="1.0"/>
<use href="#basin" transform="translate(3915.0 1373.3) rotate(0) scale(1.2 1.2)"/>
<circle cx="3861.7" cy="1411.7" r="6.7" fill="none" stroke="#000" stroke-width="1.0"/>
<path d="M3888.3,1394.0 A33.3,33.3 0 0 1 3855.0,1427.3" fill="none" stroke="#000" stroke-width="1.1"/>
<path d="M3855.0,1394.0 L3888.3,1394.0" fill="none" stroke="#000" stroke-width="2.6" stroke-dasharray="9 1.5"/>
<use href="#wc" transform="translate(3895.0 1443.3) rotate(180) scale(1.2 1.2)"/>
<use href="#tap" transform="translate(3913.3 1410.0) rotate(90) scale(1.133 1.133)"/>
<polyline points="3863.3,1468.3 3924.0,1520.7" fill="none" stroke="#000" stroke-width="1.0" stroke-dasharray="7 4"/>
<polyline points="3924.0,1468.3 3863.3,1520.7" fill="none" stroke="#000" stroke-width="1.0" stroke-dasharray="7 4"/>
<circle cx="3892.7" cy="1474.3" r="5.0" fill="none" stroke="#000" stroke-width="1.0"/>
<rect x="3907.3" y="1265.0" width="34.4" height="28.3" rx="0" fill="none" stroke="#000" stroke-width="2.4"/>
<rect x="3901.7" y="1298.3" width="46.6" height="19.4" rx="0" fill="none" stroke="#000" stroke-width="1.1"/>
<rect x="3995.1" y="1259.7" width="18.7" height="18.7" fill="#fff" stroke="#000" stroke-width="1.1"/><rect x="4057.5" y="1259.7" width="18.7" height="18.7" fill="#fff" stroke="#000" stroke-width="1.1"/><path d="M3998.9,1259.7 v18.7 M4072.4,1259.7 v18.7" stroke="#000" stroke-width="1"/><rect x="3995.1" y="1289.2" width="18.7" height="18.7" fill="#fff" stroke="#000" stroke-width="1.1"/><rect x="4057.5" y="1289.2" width="18.7" height="18.7" fill="#fff" stroke="#000" stroke-width="1.1"/><path d="M3998.9,1289.2 v18.7 M4072.4,1289.2 v18.7" stroke="#000" stroke-width="1"/><rect x="4011.0" y="1254.3" width="49.3" height="59.0" fill="#fff" stroke="#000" stroke-width="1.2"/>
<rect x="4097.7" y="1233.3" width="6.6" height="101.7" fill="#fff" stroke="#000" stroke-width="1.1"/><path d="M4100.3,1236.3 v95.7 M4102.3,1236.3 v95.7" stroke="#000" stroke-width="1.0"/>
<polyline points="4156.0,1227.3 4156.0,1358.3" fill="none" stroke="#000" stroke-width="1.1"/>
<polyline points="4160.0,1227.3 4160.0,1362.7" fill="none" stroke="#000" stroke-width="1.1"/>
<polyline points="4106.0,1358.3 4156.0,1358.3" fill="none" stroke="#000" stroke-width="1.1"/>
<polyline points="4106.0,1362.7 4160.0,1362.7" fill="none" stroke="#000" stroke-width="1.1"/>
<circle cx="4117.0" cy="1291.7" r="8.0" fill="none" stroke="#000" stroke-width="1.0"/>
<use href="#bch" transform="translate(4127.7 1253.3) rotate(0) scale(1.1 -1.1)"/>
<use href="#bch" transform="translate(4127.7 1336.7) rotate(0) scale(1.1 1.1)"/>
<polyline points="4184.3,1286.7 4173.7,1290.0 4160.0,1310.0" fill="none" stroke="#000" stroke-width="1.1"/>
<circle cx="3956.0" cy="1358.3" r="6.7" fill="none" stroke="#000" stroke-width="1.0"/>
<path d="M3940.3,1391.7 A36.7,36.7 0 0 0 3977.0,1355.0" fill="none" stroke="#000" stroke-width="1.1"/>
<path d="M3940.3,1355.0 L3940.3,1391.7" fill="none" stroke="#000" stroke-width="2.6" stroke-dasharray="9 1.5"/>
<rect x="3997.7" y="1359.3" width="57.6" height="23.4" fill="none" stroke="#000" stroke-width="1.1"/><path d="M3999.7,1371.0 H4053.3" stroke="#000" stroke-width="1.2"/><path d="M4003.9,1363.5 L4003.9,1378.5" stroke="#000" stroke-width="1.5"/><path d="M4013.9,1363.5 L4006.9,1378.5" stroke="#000" stroke-width="1.5"/><path d="M4013.3,1363.5 L4020.3,1378.5" stroke="#000" stroke-width="1.5"/><path d="M4023.3,1363.5 L4023.3,1378.5" stroke="#000" stroke-width="1.5"/><path d="M4026.2,1363.5 L4033.2,1378.5" stroke="#000" stroke-width="1.5"/><path d="M4039.7,1363.5 L4032.7,1378.5" stroke="#000" stroke-width="1.5"/><path d="M4042.6,1363.5 L4042.6,1378.5" stroke="#000" stroke-width="1.5"/><path d="M4052.6,1363.5 L4045.6,1378.5" stroke="#000" stroke-width="1.5"/>
<polyline points="3942.7,1366.7 3997.7,1366.7" fill="none" stroke="#000" stroke-width="1.2" stroke-dasharray="1 5"/>
<polyline points="3942.7,1373.3 3997.7,1373.3" fill="none" stroke="#000" stroke-width="1.2" stroke-dasharray="1 5"/>
<use href="#tel" transform="translate(4042.7 1418.3) rotate(0) scale(1.133 1.133)"/>
<rect x="3967.7" y="1432.3" width="86.6" height="67.0" rx="2" fill="#fff" stroke="#000" stroke-width="1.2"/><g transform="translate(3967.7 1432.3)"><rect x="84.6" y="-2.0" width="6.0" height="71.0" fill="#fff" stroke="#000" stroke-width="1.1"/><path d="M32.9,67.0 L69.3,0 M47.6,67.0 L71.9,0" fill="none" stroke="#000" stroke-width="1.1"/><path d="M65.0,2.7 q6.1,-3.3 13.9,-0.4 l5.2,16.1 q-2.6,4.5 -11.3,4.0 l-10.4,-7.1 q-2.6,-6.7 1.7,-10.3 Z" fill="#fff" stroke="#000" stroke-width="1.5"/><path d="M67.5,6.7 l6.1,2.2 M69.3,12.3 l7.8,-2.2 M75.3,4.5 l5.2,11.2" fill="none" stroke="#000" stroke-width="0.9"/><path d="M65.0,25.0 q6.1,-3.3 13.9,-0.4 l5.2,16.1 q-2.6,4.5 -11.3,4.0 l-10.4,-7.1 q-2.6,-6.7 1.7,-10.3 Z" fill="#fff" stroke="#000" stroke-width="1.5"/><path d="M67.5,29.0 l6.1,2.2 M69.3,34.6 l7.8,-2.2 M75.3,26.8 l5.2,11.2" fill="none" stroke="#000" stroke-width="0.9"/><path d="M65.0,47.3 q6.1,-3.3 13.9,-0.4 l5.2,16.1 q-2.6,4.5 -11.3,4.0 l-10.4,-7.1 q-2.6,-6.7 1.7,-10.3 Z" fill="#fff" stroke="#000" stroke-width="1.5"/><path d="M67.5,51.4 l6.1,2.2 M69.3,56.9 l7.8,-2.2 M75.3,49.1 l5.2,11.2" fill="none" stroke="#000" stroke-width="0.9"/><path d="M81.4,0 V67.0" stroke="#000" stroke-width="0.9"/></g>
<rect x="3934.3" y="1439.3" width="13.4" height="52.4" rx="0" fill="none" stroke="#000" stroke-width="1.1"/>
<rect x="3938.7" y="1444.0" width="4.6" height="43.3" rx="0" fill="none" stroke="#000" stroke-width="1.1"/>
<rect x="4057.0" y="1412.7" width="6.7" height="53.3" fill="#fff" stroke="#000" stroke-width="1.1"/><path d="M4059.7,1415.7 v47.3 M4061.7,1415.7 v47.3" stroke="#000" stroke-width="1.0"/>
<rect x="4065.0" y="1405.7" width="26.7" height="67.6" rx="0" fill="none" stroke="#000" stroke-width="1.1" stroke-dasharray="7 4"/>
<polyline points="3663.3,1530.7 3762.0,1664.0" fill="none" stroke="#000" stroke-width="1.0" stroke-dasharray="7 4"/>
<polyline points="3762.0,1530.7 3663.3,1664.0" fill="none" stroke="#000" stroke-width="1.0" stroke-dasharray="7 4"/>
<circle cx="3674.3" cy="1556.0" r="5.7" fill="none" stroke="#000" stroke-width="1.0"/>
<circle cx="3752.7" cy="1573.3" r="5.7" fill="none" stroke="#000" stroke-width="1.0"/>
<rect x="3702.7" y="1521.0" width="53.3" height="7.3" fill="#fff" stroke="#000" stroke-width="1.1"/><path d="M3705.7,1523.9 h47.3 M3705.7,1526.1 h47.3" stroke="#000" stroke-width="1.0"/>
<rect x="3712.7" y="1675.0" width="51.6" height="11.7" rx="0" fill="none" stroke="#000" stroke-width="1.1"/>
<polyline points="3717.7,1680.7 3759.3,1680.7" fill="none" stroke="#000" stroke-width="2"/>
<use href="#wc" transform="translate(3805.0 1545.0) rotate(0) scale(1.2 1.2)"/>
<use href="#tap" transform="translate(3781.0 1568.3) rotate(90) scale(1.133 1.133)"/>
<circle cx="3841.7" cy="1590.0" r="6.7" fill="none" stroke="#000" stroke-width="1.0"/>
<path d="M3811.6,1605.0 A32.7,32.7 0 0 1 3844.3,1572.3" fill="none" stroke="#000" stroke-width="1.1"/>
<path d="M3844.3,1605.0 L3811.6,1605.0" fill="none" stroke="#000" stroke-width="2.6" stroke-dasharray="9 1.5"/>
<rect x="3913.7" y="1530.0" width="51.6" height="13.3" rx="0" fill="none" stroke="#000" stroke-width="1.1"/>
<polyline points="3918.7,1536.7 3960.3,1536.7" fill="none" stroke="#000" stroke-width="2"/>
<rect x="3905.3" y="1577.3" width="68.0" height="86.7" rx="2" fill="#fff" stroke="#000" stroke-width="1.2"/><g transform="translate(3973.3 1577.3) rotate(90)"><rect x="84.7" y="-2.0" width="6.0" height="72.0" fill="#fff" stroke="#000" stroke-width="1.1"/><path d="M32.9,68.0 L69.4,0 M47.7,68.0 L72.0,0" fill="none" stroke="#000" stroke-width="1.1"/><path d="M65.0,2.7 q6.1,-3.4 13.9,-0.5 l5.2,16.3 q-2.6,4.5 -11.3,4.1 l-10.4,-7.3 q-2.6,-6.8 1.7,-10.4 Z" fill="#fff" stroke="#000" stroke-width="1.5"/><path d="M67.6,6.8 l6.1,2.3 M69.4,12.5 l7.8,-2.3 M75.4,4.5 l5.2,11.3" fill="none" stroke="#000" stroke-width="0.9"/><path d="M65.0,25.4 q6.1,-3.4 13.9,-0.5 l5.2,16.3 q-2.6,4.5 -11.3,4.1 l-10.4,-7.3 q-2.6,-6.8 1.7,-10.4 Z" fill="#fff" stroke="#000" stroke-width="1.5"/><path d="M67.6,29.5 l6.1,2.3 M69.4,35.1 l7.8,-2.3 M75.4,27.2 l5.2,11.3" fill="none" stroke="#000" stroke-width="0.9"/><path d="M65.0,48.1 q6.1,-3.4 13.9,-0.5 l5.2,16.3 q-2.6,4.5 -11.3,4.1 l-10.4,-7.3 q-2.6,-6.8 1.7,-10.4 Z" fill="#fff" stroke="#000" stroke-width="1.5"/><path d="M67.6,52.1 l6.1,2.3 M69.4,57.8 l7.8,-2.3 M75.4,49.9 l5.2,11.3" fill="none" stroke="#000" stroke-width="0.9"/><path d="M81.5,0 V68.0" stroke="#000" stroke-width="0.9"/></g>
<use href="#tel" transform="translate(3984.3 1655.0) rotate(0) scale(1.133 1.133)"/>
<circle cx="3789.3" cy="1667.7" r="6.7" fill="none" stroke="#000" stroke-width="1.0"/>
<path d="M3773.7,1636.0 A37.3,37.3 0 0 1 3811.0,1673.3" fill="none" stroke="#000" stroke-width="1.1"/>
<path d="M3773.7,1673.3 L3773.7,1636.0" fill="none" stroke="#000" stroke-width="2.6" stroke-dasharray="9 1.5"/>
<rect x="4034.3" y="1548.3" width="6.7" height="51.7" fill="#fff" stroke="#000" stroke-width="1.1"/><path d="M4037.0,1551.3 v45.7 M4039.0,1551.3 v45.7" stroke="#000" stroke-width="1.0"/>
<rect x="4042.7" y="1529.3" width="26.6" height="72.4" rx="0" fill="none" stroke="#000" stroke-width="1.1" stroke-dasharray="7 4"/>
<rect x="4034.3" y="1610.0" width="25.7" height="55.0" fill="none" stroke="#000" stroke-width="1.1"/><path d="M4047.2,1612.0 V1663.0" stroke="#000" stroke-width="1.2"/><path d="M4038.9,1616.5 L4055.4,1616.5" stroke="#000" stroke-width="1.5"/><path d="M4038.9,1627.4 L4055.4,1619.6" stroke="#000" stroke-width="1.5"/><path d="M4038.9,1626.6 L4055.4,1634.4" stroke="#000" stroke-width="1.5"/><path d="M4038.9,1637.5 L4055.4,1637.5" stroke="#000" stroke-width="1.5"/><path d="M4038.9,1640.6 L4055.4,1648.4" stroke="#000" stroke-width="1.5"/><path d="M4038.9,1655.4 L4055.4,1647.6" stroke="#000" stroke-width="1.5"/><path d="M4038.9,1658.5 L4055.4,1658.5" stroke="#000" stroke-width="1.5"/>
<circle cx="3572.7" cy="1678.3" r="7.3" fill="none" stroke="#000" stroke-width="1.0"/>
<path d="M3552.3,1709.0 A40.7,40.7 0 0 0 3593.0,1668.3" fill="none" stroke="#000" stroke-width="1.1" stroke-dasharray="2 3"/>
<path d="M3552.3,1668.3 L3552.3,1709.0" fill="none" stroke="#000" stroke-width="2.6" stroke-dasharray="9 1.5"/>
<rect x="3540.7" y="1678.3" width="4.3" height="18.4" rx="0" fill="none" stroke="#000" stroke-width="1.1"/>
<rect x="3619.3" y="1680.7" width="34.7" height="29.3" rx="0" fill="none" stroke="#000" stroke-width="2.4"/>
<rect x="3613.3" y="1715.0" width="46.0" height="19.0" rx="0" fill="none" stroke="#000" stroke-width="1.1"/>
<rect x="3712.7" y="1674.0" width="51.6" height="13.3" rx="0" fill="none" stroke="#000" stroke-width="1.1"/>
<polyline points="3717.7,1680.7 3759.3,1680.7" fill="none" stroke="#000" stroke-width="2"/>
<use href="#wc" transform="translate(3565.0 1768.3) rotate(0) scale(1.2 1.2)"/>
<use href="#tap" transform="translate(3606.0 1760.0) rotate(0) scale(1.133 1.133)"/>
<use href="#basin" transform="translate(3638.3 1761.7) rotate(90) scale(1.2 1.2)"/>
<circle cx="3597.3" cy="1820.0" r="6.7" fill="none" stroke="#000" stroke-width="1.0"/>
<path d="M3581.7,1789.0 A32.7,32.7 0 0 1 3614.4,1821.7" fill="none" stroke="#000" stroke-width="1.1"/>
<path d="M3581.7,1821.7 L3581.7,1789.0" fill="none" stroke="#000" stroke-width="2.6" stroke-dasharray="9 1.5"/>
<circle cx="3528.3" cy="1773.3" r="5.7" fill="none" stroke="#000" stroke-width="1.0"/>
<circle cx="3654.3" cy="1847.7" r="6.7" fill="none" stroke="#000" stroke-width="1.0"/>
<path d="M3620.0,1831.7 A36.0,36.0 0 0 0 3656.0,1867.7" fill="none" stroke="#000" stroke-width="1.1"/>
<path d="M3656.0,1831.7 L3620.0,1831.7" fill="none" stroke="#000" stroke-width="2.6" stroke-dasharray="9 1.5"/>
<rect x="3639.3" y="1886.0" width="12.4" height="50.7" rx="0" fill="none" stroke="#000" stroke-width="1.1"/>
<rect x="3643.3" y="1890.7" width="4.4" height="41.3" rx="0" fill="none" stroke="#000" stroke-width="1.1"/>
<rect x="3658.3" y="1931.7" width="24.0" height="27.6" rx="0" fill="none" stroke="#000" stroke-width="1.1"/>
<rect x="3664.3" y="1746.7" width="29.0" height="29.0" rx="0" fill="none" stroke="#000" stroke-width="1.1"/>
<rect x="3668.3" y="1749.3" width="25.0" height="23.7" rx="0" fill="none" stroke="#000" stroke-width="1.1"/>
<rect x="3709.3" y="1742.7" width="54.0" height="32.3" rx="1" fill="none" stroke="#000" stroke-width="1.1"/>
<rect x="3693.3" y="1793.3" width="91.7" height="31.7" rx="0" fill="none" stroke="#000" stroke-width="1.1"/>
<polyline points="3697.7,1825.0 3697.7,1798.3 3780.7,1798.3 3780.7,1825.0" fill="none" stroke="#000" stroke-width="1.1"/>
<polyline points="3725.7,1798.3 3725.7,1825.0" fill="none" stroke="#000" stroke-width="1.1"/>
<polyline points="3752.3,1798.3 3752.3,1825.0" fill="none" stroke="#000" stroke-width="1.1"/>
<use href="#tel" transform="translate(3675.0 1813.3) rotate(0) scale(1.133 1.133)"/>
<rect x="3703.1" y="1856.3" width="18.7" height="18.7" fill="#fff" stroke="#000" stroke-width="1.1"/><rect x="3765.5" y="1856.3" width="18.7" height="18.7" fill="#fff" stroke="#000" stroke-width="1.1"/><path d="M3706.9,1856.3 v18.7 M3780.4,1856.3 v18.7" stroke="#000" stroke-width="1"/><rect x="3703.1" y="1885.7" width="18.7" height="18.7" fill="#fff" stroke="#000" stroke-width="1.1"/><rect x="3765.5" y="1885.7" width="18.7" height="18.7" fill="#fff" stroke="#000" stroke-width="1.1"/><path d="M3706.9,1885.7 v18.7 M3780.4,1885.7 v18.7" stroke="#000" stroke-width="1"/><rect x="3703.1" y="1915.0" width="18.7" height="18.7" fill="#fff" stroke="#000" stroke-width="1.1"/><rect x="3765.5" y="1915.0" width="18.7" height="18.7" fill="#fff" stroke="#000" stroke-width="1.1"/><path d="M3706.9,1915.0 v18.7 M3780.4,1915.0 v18.7" stroke="#000" stroke-width="1"/><rect x="3719.0" y="1851.0" width="49.3" height="88.0" fill="#fff" stroke="#000" stroke-width="1.2"/>
<rect x="3691.7" y="1960.7" width="94.3" height="6.6" fill="#fff" stroke="#000" stroke-width="1.1"/><path d="M3694.7,1963.3 h88.3 M3694.7,1965.3 h88.3" stroke="#000" stroke-width="1.0"/>
<polyline points="3658.3,2017.7 3820.0,2017.7" fill="none" stroke="#000" stroke-width="1.1"/>
<polyline points="3649.3,2021.7 3829.3,2021.7" fill="none" stroke="#000" stroke-width="1.1"/>
<circle cx="3739.0" cy="1977.3" r="8.0" fill="none" stroke="#000" stroke-width="1.0"/>
<use href="#bch" transform="translate(3683.3 1991.7) rotate(0) scale(1.1 1.1)"/>
<use href="#bch" transform="translate(3796.7 1994.0) rotate(0) scale(-1.1 1.1)"/>
<polyline points="3701.0,2021.7 3713.3,2037.7 3725.0,2037.7" fill="none" stroke="#000" stroke-width="1.1"/>
<rect x="3569.3" y="1987.3" width="50.7" height="6.7" fill="#fff" stroke="#000" stroke-width="1.1"/><path d="M3572.3,1990.0 h44.7 M3572.3,1992.0 h44.7" stroke="#000" stroke-width="1.0"/>
<rect x="3904.3" y="1686.7" width="87.4" height="66.6" rx="2" fill="#fff" stroke="#000" stroke-width="1.2"/><g transform="translate(3904.3 1686.7)"><rect x="85.4" y="-2.0" width="6.0" height="70.6" fill="#fff" stroke="#000" stroke-width="1.1"/><path d="M33.2,66.6 L69.9,0 M48.1,66.6 L72.5,0" fill="none" stroke="#000" stroke-width="1.1"/><path d="M65.5,2.7 q6.1,-3.3 14.0,-0.4 l5.2,16.0 q-2.6,4.4 -11.4,4.0 l-10.5,-7.1 q-2.6,-6.7 1.7,-10.2 Z" fill="#fff" stroke="#000" stroke-width="1.5"/><path d="M68.2,6.7 l6.1,2.2 M69.9,12.2 l7.9,-2.2 M76.0,4.4 l5.2,11.1" fill="none" stroke="#000" stroke-width="0.9"/><path d="M65.5,24.9 q6.1,-3.3 14.0,-0.4 l5.2,16.0 q-2.6,4.4 -11.4,4.0 l-10.5,-7.1 q-2.6,-6.7 1.7,-10.2 Z" fill="#fff" stroke="#000" stroke-width="1.5"/><path d="M68.2,28.9 l6.1,2.2 M69.9,34.4 l7.9,-2.2 M76.0,26.6 l5.2,11.1" fill="none" stroke="#000" stroke-width="0.9"/><path d="M65.5,47.1 q6.1,-3.3 14.0,-0.4 l5.2,16.0 q-2.6,4.4 -11.4,4.0 l-10.5,-7.1 q-2.6,-6.7 1.7,-10.2 Z" fill="#fff" stroke="#000" stroke-width="1.5"/><path d="M68.2,51.1 l6.1,2.2 M69.9,56.6 l7.9,-2.2 M76.0,48.8 l5.2,11.1" fill="none" stroke="#000" stroke-width="0.9"/><path d="M82.2,0 V66.6" stroke="#000" stroke-width="0.9"/></g>
<rect x="3993.7" y="1705.0" width="6.6" height="51.0" fill="#fff" stroke="#000" stroke-width="1.1"/><path d="M3996.3,1708.0 v45.0 M3998.3,1708.0 v45.0" stroke="#000" stroke-width="1.0"/>
<rect x="4001.7" y="1694.3" width="26.6" height="68.0" rx="0" fill="none" stroke="#000" stroke-width="1.1" stroke-dasharray="7 4"/>
<polyline points="3866.7,1768.3 3992.7,1768.3" fill="none" stroke="#000" stroke-width="1.2" stroke-dasharray="1 5"/>
<polyline points="3866.7,1776.7 3992.7,1776.7" fill="none" stroke="#000" stroke-width="1.2" stroke-dasharray="1 5"/>
<polyline points="3866.7,1785.0 3992.7,1785.0" fill="none" stroke="#000" stroke-width="1.2" stroke-dasharray="1 5"/>
<circle cx="3847.7" cy="1792.7" r="6.7" fill="none" stroke="#000" stroke-width="1.0"/>
<path d="M3831.0,1757.7 A37.3,37.3 0 0 1 3868.3,1795.0" fill="none" stroke="#000" stroke-width="1.1"/>
<path d="M3831.0,1795.0 L3831.0,1757.7" fill="none" stroke="#000" stroke-width="2.6" stroke-dasharray="9 1.5"/>
<circle cx="3884.3" cy="1816.7" r="6.7" fill="none" stroke="#000" stroke-width="1.0"/>
<path d="M3915.4,1802.7 A32.7,32.7 0 0 1 3882.7,1835.4" fill="none" stroke="#000" stroke-width="1.1"/>
<path d="M3882.7,1802.7 L3915.4,1802.7" fill="none" stroke="#000" stroke-width="2.6" stroke-dasharray="9 1.5"/>
<use href="#tap" transform="translate(3926.7 1805.0) rotate(0) scale(1.133 1.133)"/>
<use href="#iwc" transform="translate(3970.0 1822.7) rotate(0) scale(1.333 1.333)"/>
<polyline points="3950.0,1796.7 3950.0,1850.0" fill="none" stroke="#000" stroke-width="1.1"/>
<rect x="3993.3" y="1813.3" width="7.4" height="18.4" rx="0" fill="none" stroke="#000" stroke-width="1.1"/>
<circle cx="4012.7" cy="1824.3" r="5.7" fill="none" stroke="#000" stroke-width="1.0"/>
<use href="#basin" transform="translate(3860.0 1842.7) rotate(90) scale(1.2 1.2)"/>
<rect x="3834.3" y="1858.3" width="28.4" height="25.0" rx="0" fill="none" stroke="#000" stroke-width="1.1"/>
<rect x="3878.3" y="1855.0" width="56.7" height="12.7" rx="0" fill="none" stroke="#000" stroke-width="1.1"/>
<polyline points="3825.0,1878.3 3935.0,1878.3" fill="none" stroke="#000" stroke-width="1.0" stroke-dasharray="7 4"/>
<use href="#stove" transform="translate(3921.7 1933.3) rotate(0) scale(1.067 1.067)"/>
<polyline points="3825.0,1958.3 3908.3,1958.3 3908.3,1908.3 3935.0,1908.3" fill="none" stroke="#000" stroke-width="1.1"/>
<use href="#sink" transform="translate(3851.7 1974.3) rotate(0) scale(1.4 1.4)"/>
<polyline points="3820.0,1888.3 3820.0,1930.0" fill="none" stroke="#000" stroke-width="1.0" stroke-dasharray="7 4"/>
<polyline points="3825.0,1888.3 3825.0,1930.0" fill="none" stroke="#000" stroke-width="1.0" stroke-dasharray="7 4"/>
<path d="M3973.4,1871.3 A36.7,36.7 0 0 1 3936.7,1908.0" fill="none" stroke="#000" stroke-width="1.1"/>
<path d="M3936.7,1871.3 L3973.4,1871.3" fill="none" stroke="#000" stroke-width="2.6" stroke-dasharray="9 1.5"/>
<rect x="3866.7" y="1987.3" width="40.0" height="6.7" fill="#fff" stroke="#000" stroke-width="1.1"/><path d="M3869.7,1990.0 h34.0 M3869.7,1992.0 h34.0" stroke="#000" stroke-width="1.0"/>
<use href="#wm" transform="translate(3968.3 1979.0) rotate(180) scale(1.533 1.533)"/>
<polyline points="3998.3,1855.0 3998.3,1990.7" fill="none" stroke="#000" stroke-width="1.1"/>
<polyline points="3944.0,1990.7 3998.3,1990.7" fill="none" stroke="#000" stroke-width="1.1"/>
<polyline points="3944.0,1995.0 4001.7,1995.0" fill="none" stroke="#000" stroke-width="1.1"/>
<polyline points="4026.7,1906.0 4016.7,1907.7 4002.3,1927.3" fill="none" stroke="#000" stroke-width="1.1"/>
<polyline points="3473.7,2021.7 3649.3,2021.7" fill="none" stroke="#000" stroke-width="1.1"/>
<polyline points="3545.0,2016.0 3648.3,2016.0" fill="none" stroke="#000" stroke-width="1.0" stroke-dasharray="7 4"/>
<polyline points="3540.0,1998.3 3648.3,2013.3" fill="none" stroke="#000" stroke-width="1.0" stroke-dasharray="7 4"/>
<circle cx="2789.3" cy="1678.3" r="7.3" fill="none" stroke="#000" stroke-width="1.0"/>
<path d="M2807.3,1710.0 A41.7,41.7 0 0 1 2765.6,1668.3" fill="none" stroke="#000" stroke-width="1.1" stroke-dasharray="2 3"/>
<path d="M2807.3,1668.3 L2807.3,1710.0" fill="none" stroke="#000" stroke-width="2.6" stroke-dasharray="9 1.5"/>
<rect x="2759.3" y="1717.7" width="34.0" height="29.6" rx="0" fill="none" stroke="#000" stroke-width="2.4"/>
<rect x="2753.3" y="1752.7" width="46.0" height="19.0" rx="0" fill="none" stroke="#000" stroke-width="1.1"/>
<rect x="2722.7" y="1786.7" width="30.0" height="28.3" rx="0" fill="none" stroke="#000" stroke-width="1.1"/>
<rect x="2725.3" y="1786.7" width="24.7" height="24.3" rx="0" fill="none" stroke="#000" stroke-width="1.1"/>
<rect x="2817.3" y="1675.0" width="22.7" height="52.7" fill="none" stroke="#000" stroke-width="1.1"/><path d="M2828.7,1677.0 V1725.7" stroke="#000" stroke-width="1.2"/><path d="M2821.4,1681.3 L2835.9,1681.3" stroke="#000" stroke-width="1.5"/><path d="M2821.4,1691.4 L2835.9,1684.6" stroke="#000" stroke-width="1.5"/><path d="M2821.4,1691.3 L2835.9,1698.1" stroke="#000" stroke-width="1.5"/><path d="M2821.4,1701.3 L2835.9,1701.3" stroke="#000" stroke-width="1.5"/><path d="M2821.4,1704.6 L2835.9,1711.4" stroke="#000" stroke-width="1.5"/><path d="M2821.4,1718.1 L2835.9,1711.3" stroke="#000" stroke-width="1.5"/><path d="M2821.4,1721.4 L2835.9,1721.4" stroke="#000" stroke-width="1.5"/>
<polyline points="2820.0,1728.3 2820.0,1788.3" fill="none" stroke="#000" stroke-width="1.2" stroke-dasharray="1 5"/>
<polyline points="2840.0,1728.3 2840.0,1788.3" fill="none" stroke="#000" stroke-width="1.2" stroke-dasharray="1 5"/>
<circle cx="2816.7" cy="1771.7" r="6.7" fill="none" stroke="#000" stroke-width="1.0"/>
<path d="M2851.0,1790.0 A36.0,36.0 0 0 0 2815.0,1754.0" fill="none" stroke="#000" stroke-width="1.1"/>
<path d="M2815.0,1790.0 L2851.0,1790.0" fill="none" stroke="#000" stroke-width="2.6" stroke-dasharray="9 1.5"/>
<rect x="2908.3" y="1695.7" width="86.7" height="67.6" rx="2" fill="#fff" stroke="#000" stroke-width="1.2"/><g transform="translate(2908.3 1695.7)"><rect x="84.7" y="-2.0" width="6.0" height="71.6" fill="#fff" stroke="#000" stroke-width="1.1"/><path d="M32.9,67.6 L69.4,0 M47.7,67.6 L72.0,0" fill="none" stroke="#000" stroke-width="1.1"/><path d="M65.0,2.7 q6.1,-3.4 13.9,-0.5 l5.2,16.2 q-2.6,4.5 -11.3,4.1 l-10.4,-7.2 q-2.6,-6.8 1.7,-10.4 Z" fill="#fff" stroke="#000" stroke-width="1.5"/><path d="M67.6,6.8 l6.1,2.3 M69.4,12.4 l7.8,-2.3 M75.4,4.5 l5.2,11.3" fill="none" stroke="#000" stroke-width="0.9"/><path d="M65.0,25.2 q6.1,-3.4 13.9,-0.5 l5.2,16.2 q-2.6,4.5 -11.3,4.1 l-10.4,-7.2 q-2.6,-6.8 1.7,-10.4 Z" fill="#fff" stroke="#000" stroke-width="1.5"/><path d="M67.6,29.3 l6.1,2.3 M69.4,34.9 l7.8,-2.3 M75.4,27.0 l5.2,11.3" fill="none" stroke="#000" stroke-width="0.9"/><path d="M65.0,47.8 q6.1,-3.4 13.9,-0.5 l5.2,16.2 q-2.6,4.5 -11.3,4.1 l-10.4,-7.2 q-2.6,-6.8 1.7,-10.4 Z" fill="#fff" stroke="#000" stroke-width="1.5"/><path d="M67.6,51.8 l6.1,2.3 M69.4,57.5 l7.8,-2.3 M75.4,49.6 l5.2,11.3" fill="none" stroke="#000" stroke-width="0.9"/><path d="M81.5,0 V67.6" stroke="#000" stroke-width="0.9"/></g>
<rect x="2943.3" y="1797.7" width="52.7" height="6.6" fill="#fff" stroke="#000" stroke-width="1.1"/><path d="M2946.3,1800.3 h46.7 M2946.3,1802.3 h46.7" stroke="#000" stroke-width="1.0"/>
<circle cx="2810.7" cy="1824.0" r="6.7" fill="none" stroke="#000" stroke-width="1.0"/>
<path d="M2851.7,1808.0 A31.7,31.7 0 0 1 2820.0,1839.7" fill="none" stroke="#000" stroke-width="1.1"/>
<path d="M2820.0,1808.0 L2851.7,1808.0" fill="none" stroke="#000" stroke-width="2.6" stroke-dasharray="9 1.5"/>
<use href="#iwc" transform="translate(2911.7 1830.0) rotate(0) scale(1.333 1.333)"/>
<polyline points="2894.3,1805.7 2894.3,1867.3" fill="none" stroke="#000" stroke-width="1.1"/>
<use href="#tap" transform="translate(2864.0 1856.7) rotate(180) scale(1.133 1.133)"/>
<use href="#basin" transform="translate(2805.0 1855.0) rotate(0) scale(1.2 1.2)"/>
<rect x="2934.0" y="1825.0" width="8.0" height="18.3" rx="0" fill="none" stroke="#000" stroke-width="1.1"/>
<circle cx="2950.0" cy="1836.0" r="5.7" fill="none" stroke="#000" stroke-width="1.0"/>
<polyline points="2942.7,1832.3 3003.3,1832.3 3003.3,1805.7" fill="none" stroke="#000" stroke-width="1.0" stroke-dasharray="7 4"/>
<rect x="2844.0" y="1874.0" width="62.7" height="12.0" rx="0" fill="none" stroke="#000" stroke-width="1.1"/>
<polyline points="2818.3,1873.3 2818.3,1959.3" fill="none" stroke="#000" stroke-width="1.2" stroke-dasharray="1 5"/>
<polyline points="2841.7,1873.3 2841.7,1959.3" fill="none" stroke="#000" stroke-width="1.2" stroke-dasharray="1 5"/>
<use href="#stove" transform="translate(2920.0 1909.3) rotate(0) scale(1.067 1.067)"/>
<polyline points="2906.7,1886.0 2906.7,1931.7 2867.7,1931.7 2867.7,1959.3" fill="none" stroke="#000" stroke-width="1.1"/>
<use href="#sink" transform="translate(2882.3 1947.3) rotate(0) scale(1.4 1.4)"/>
<rect x="2934.0" y="1896.7" width="6.0" height="40.0" fill="#fff" stroke="#000" stroke-width="1.1"/><path d="M2936.4,1899.7 v34.0 M2938.2,1899.7 v34.0" stroke="#000" stroke-width="1.0"/>
<rect x="2788.3" y="1931.7" width="24.4" height="27.6" rx="0" fill="none" stroke="#000" stroke-width="1.1"/>
<rect x="2720.0" y="1960.7" width="60.0" height="6.6" fill="#fff" stroke="#000" stroke-width="1.1"/><path d="M2723.0,1963.3 h54.0 M2723.0,1965.3 h54.0" stroke="#000" stroke-width="1.0"/>
<path d="M2828.7,1998.0 A37.3,37.3 0 0 0 2866.0,1960.7" fill="none" stroke="#000" stroke-width="1.1"/>
<path d="M2828.7,1960.7 L2828.7,1998.0" fill="none" stroke="#000" stroke-width="2.6" stroke-dasharray="9 1.5"/>
<use href="#wm" transform="translate(2926.0 1998.3) rotate(-90) scale(1.533 1.533)"/>
<polyline points="2938.3,1968.3 2938.3,2019.3" fill="none" stroke="#000" stroke-width="1.1"/>
<polyline points="2720.0,2019.3 2938.3,2019.3" fill="none" stroke="#000" stroke-width="1.1"/>
<polyline points="2720.0,2023.3 2942.7,2023.3" fill="none" stroke="#000" stroke-width="1.1"/>
<circle cx="2731.0" cy="1979.0" r="8.0" fill="none" stroke="#000" stroke-width="1.0"/>
<use href="#bch" transform="translate(2792.3 1996.7) rotate(0) scale(-1.1 1.1)"/>
<polyline points="2720.0,2041.7 2733.3,2041.7" fill="none" stroke="#000" stroke-width="1.1"/>
<polyline points="3016.7,1675.0 3074.3,1795.0" fill="none" stroke="#000" stroke-width="1.0" stroke-dasharray="7 4"/>
<polyline points="3074.3,1675.0 3016.7,1795.0" fill="none" stroke="#000" stroke-width="1.0" stroke-dasharray="7 4"/>
<circle cx="3067.7" cy="1729.3" r="5.7" fill="none" stroke="#000" stroke-width="1.0"/>
<use href="#wc" transform="translate(3116.7 1688.3) rotate(0) scale(1.2 1.2)"/>
<use href="#tap" transform="translate(3136.7 1731.0) rotate(90) scale(1.133 1.133)"/>
<use href="#basin" transform="translate(3136.7 1785.0) rotate(0) scale(1.2 1.2)"/>
<circle cx="3106.7" cy="1800.7" r="6.7" fill="none" stroke="#000" stroke-width="1.0"/>
<path d="M3091.0,1770.0 A31.7,31.7 0 0 1 3122.7,1801.7" fill="none" stroke="#000" stroke-width="1.1"/>
<path d="M3091.0,1801.7 L3091.0,1770.0" fill="none" stroke="#000" stroke-width="2.6" stroke-dasharray="9 1.5"/>
<rect x="3018.3" y="1872.7" width="87.4" height="68.0" rx="2" fill="#fff" stroke="#000" stroke-width="1.2"/><g transform="translate(3105.7 1872.7) scale(-1 1)"><rect x="85.4" y="-2.0" width="6.0" height="72.0" fill="#fff" stroke="#000" stroke-width="1.1"/><path d="M33.2,68.0 L69.9,0 M48.1,68.0 L72.5,0" fill="none" stroke="#000" stroke-width="1.1"/><path d="M65.5,2.7 q6.1,-3.4 14.0,-0.5 l5.2,16.3 q-2.6,4.5 -11.4,4.1 l-10.5,-7.3 q-2.6,-6.8 1.7,-10.4 Z" fill="#fff" stroke="#000" stroke-width="1.5"/><path d="M68.2,6.8 l6.1,2.3 M69.9,12.5 l7.9,-2.3 M76.0,4.5 l5.2,11.3" fill="none" stroke="#000" stroke-width="0.9"/><path d="M65.5,25.4 q6.1,-3.4 14.0,-0.5 l5.2,16.3 q-2.6,4.5 -11.4,4.1 l-10.5,-7.3 q-2.6,-6.8 1.7,-10.4 Z" fill="#fff" stroke="#000" stroke-width="1.5"/><path d="M68.2,29.5 l6.1,2.3 M69.9,35.1 l7.9,-2.3 M76.0,27.2 l5.2,11.3" fill="none" stroke="#000" stroke-width="0.9"/><path d="M65.5,48.1 q6.1,-3.4 14.0,-0.5 l5.2,16.3 q-2.6,4.5 -11.4,4.1 l-10.5,-7.3 q-2.6,-6.8 1.7,-10.4 Z" fill="#fff" stroke="#000" stroke-width="1.5"/><path d="M68.2,52.1 l6.1,2.3 M69.9,57.8 l7.9,-2.3 M76.0,49.9 l5.2,11.3" fill="none" stroke="#000" stroke-width="0.9"/><path d="M82.2,0 V68.0" stroke="#000" stroke-width="0.9"/></g>
<rect x="3137.3" y="1885.0" width="13.4" height="53.3" rx="0" fill="none" stroke="#000" stroke-width="1.1"/>
<rect x="3141.7" y="1890.0" width="4.3" height="43.3" rx="0" fill="none" stroke="#000" stroke-width="1.1"/>
<use href="#tel" transform="translate(3026.7 1960.0) rotate(0) scale(1.133 1.133)"/>
<circle cx="3152.3" cy="1829.0" r="6.7" fill="none" stroke="#000" stroke-width="1.0"/>
<path d="M3117.6,1810.7 A36.7,36.7 0 0 0 3154.3,1847.4" fill="none" stroke="#000" stroke-width="1.1"/>
<path d="M3154.3,1810.7 L3117.6,1810.7" fill="none" stroke="#000" stroke-width="2.6" stroke-dasharray="9 1.5"/>
<rect x="3016.7" y="2003.3" width="53.3" height="16.7" fill="none" stroke="#000" stroke-width="1.1"/><path d="M3018.7,2011.7 H3068.0" stroke="#000" stroke-width="1.2"/><path d="M3023.1,2006.3 L3023.1,2017.0" stroke="#000" stroke-width="1.5"/><path d="M3032.3,2006.3 L3027.3,2017.0" stroke="#000" stroke-width="1.5"/><path d="M3034.1,2006.3 L3039.1,2017.0" stroke="#000" stroke-width="1.5"/><path d="M3043.3,2006.3 L3043.3,2017.0" stroke="#000" stroke-width="1.5"/><path d="M3047.6,2006.3 L3052.6,2017.0" stroke="#000" stroke-width="1.5"/><path d="M3059.4,2006.3 L3054.4,2017.0" stroke="#000" stroke-width="1.5"/><path d="M3063.6,2006.3 L3063.6,2017.0" stroke="#000" stroke-width="1.5"/>
<polyline points="3006.7,2030.0 3156.0,2030.0" fill="none" stroke="#000" stroke-width="1.1"/>
<polyline points="3156.0,1994.3 3156.0,2030.0" fill="none" stroke="#000" stroke-width="1.1"/>
<polyline points="3016.7,1995.0 3146.7,2020.7" fill="none" stroke="#000" stroke-width="1.0" stroke-dasharray="7 4"/>
<rect x="3086.0" y="1995.0" width="52.3" height="6.7" fill="#fff" stroke="#000" stroke-width="1.1"/><path d="M3089.0,1997.7 h46.3 M3089.0,1999.7 h46.3" stroke="#000" stroke-width="1.0"/>
<polyline points="3079.3,2003.3 3079.3,2030.0" fill="none" stroke="#000" stroke-width="1.1"/>
<rect x="3185.0" y="1675.0" width="52.3" height="13.3" rx="0" fill="none" stroke="#000" stroke-width="1.1"/>
<polyline points="3190.0,1681.7 3232.3,1681.7" fill="none" stroke="#000" stroke-width="2"/>
<circle cx="3261.0" cy="1676.0" r="7.3" fill="none" stroke="#000" stroke-width="1.0"/>
<path d="M3282.0,1710.0 A41.7,41.7 0 0 1 3240.3,1668.3" fill="none" stroke="#000" stroke-width="1.1" stroke-dasharray="2 3"/>
<path d="M3282.0,1668.3 L3282.0,1710.0" fill="none" stroke="#000" stroke-width="2.6" stroke-dasharray="9 1.5"/>
<rect x="3160.0" y="1692.7" width="26.7" height="90.0" rx="0" fill="none" stroke="#000" stroke-width="1.1"/>
<polyline points="3186.7,1696.7 3164.3,1696.7 3164.3,1778.7 3186.7,1778.7" fill="none" stroke="#000" stroke-width="1.1"/>
<polyline points="3164.3,1723.3 3186.7,1723.3" fill="none" stroke="#000" stroke-width="1.1"/>
<polyline points="3164.3,1751.7 3186.7,1751.7" fill="none" stroke="#000" stroke-width="1.1"/>
<rect x="3197.3" y="1716.0" width="34.4" height="54.7" rx="1" fill="none" stroke="#000" stroke-width="1.1"/>
<rect x="3242.7" y="1717.7" width="34.0" height="29.0" rx="0" fill="none" stroke="#000" stroke-width="2.4"/>
<rect x="3236.0" y="1751.7" width="46.7" height="19.0" rx="0" fill="none" stroke="#000" stroke-width="1.1"/>
<use href="#tel" transform="translate(3168.3 1795.0) rotate(0) scale(1.133 1.133)"/>
<rect x="3183.1" y="1857.1" width="18.7" height="18.7" fill="#fff" stroke="#000" stroke-width="1.1"/><rect x="3245.5" y="1857.1" width="18.7" height="18.7" fill="#fff" stroke="#000" stroke-width="1.1"/><path d="M3186.9,1857.1 v18.7 M3260.4,1857.1 v18.7" stroke="#000" stroke-width="1"/><rect x="3183.1" y="1886.6" width="18.7" height="18.7" fill="#fff" stroke="#000" stroke-width="1.1"/><rect x="3245.5" y="1886.6" width="18.7" height="18.7" fill="#fff" stroke="#000" stroke-width="1.1"/><path d="M3186.9,1886.6 v18.7 M3260.4,1886.6 v18.7" stroke="#000" stroke-width="1"/><rect x="3199.0" y="1851.7" width="49.3" height="59.0" fill="#fff" stroke="#000" stroke-width="1.2"/>
<rect x="3268.3" y="1931.7" width="23.4" height="27.6" rx="0" fill="none" stroke="#000" stroke-width="1.1"/>
<rect x="3176.7" y="1960.7" width="93.3" height="6.6" fill="#fff" stroke="#000" stroke-width="1.1"/><path d="M3179.7,1963.3 h87.3 M3179.7,1965.3 h87.3" stroke="#000" stroke-width="1.0"/>
<circle cx="3222.7" cy="1979.0" r="8.0" fill="none" stroke="#000" stroke-width="1.0"/>
<use href="#bch" transform="translate(3179.3 1993.3) rotate(0) scale(1.1 1.1)"/>
<use href="#bch" transform="translate(3273.3 1993.3) rotate(0) scale(-1.1 1.1)"/>
<polyline points="3156.0,2019.3 3296.0,2019.3" fill="none" stroke="#000" stroke-width="1.1"/>
<polyline points="3156.0,2023.3 3296.0,2023.3" fill="none" stroke="#000" stroke-width="1.1"/>
<polyline points="3186.0,2023.3 3200.0,2041.7 3211.7,2041.7" fill="none" stroke="#000" stroke-width="1.1"/>
<rect x="3296.7" y="1675.0" width="22.6" height="52.7" fill="none" stroke="#000" stroke-width="1.1"/><path d="M3308.0,1677.0 V1725.7" stroke="#000" stroke-width="1.2"/><path d="M3300.8,1681.3 L3315.2,1681.3" stroke="#000" stroke-width="1.5"/><path d="M3300.8,1691.4 L3315.2,1684.6" stroke="#000" stroke-width="1.5"/><path d="M3300.8,1691.3 L3315.2,1698.1" stroke="#000" stroke-width="1.5"/><path d="M3300.8,1701.3 L3315.2,1701.3" stroke="#000" stroke-width="1.5"/><path d="M3300.8,1704.6 L3315.2,1711.4" stroke="#000" stroke-width="1.5"/><path d="M3300.8,1718.1 L3315.2,1711.3" stroke="#000" stroke-width="1.5"/><path d="M3300.8,1721.4 L3315.2,1721.4" stroke="#000" stroke-width="1.5"/>
<polyline points="3300.0,1728.3 3300.0,1788.3" fill="none" stroke="#000" stroke-width="1.2" stroke-dasharray="1 5"/>
<polyline points="3319.3,1728.3 3319.3,1788.3" fill="none" stroke="#000" stroke-width="1.2" stroke-dasharray="1 5"/>
<rect x="3385.7" y="1698.3" width="86.6" height="67.4" rx="2" fill="#fff" stroke="#000" stroke-width="1.2"/><g transform="translate(3385.7 1698.3)"><rect x="84.6" y="-2.0" width="6.0" height="71.4" fill="#fff" stroke="#000" stroke-width="1.1"/><path d="M32.9,67.4 L69.3,0 M47.6,67.4 L71.9,0" fill="none" stroke="#000" stroke-width="1.1"/><path d="M65.0,2.7 q6.1,-3.4 13.9,-0.4 l5.2,16.2 q-2.6,4.5 -11.3,4.0 l-10.4,-7.2 q-2.6,-6.7 1.7,-10.3 Z" fill="#fff" stroke="#000" stroke-width="1.5"/><path d="M67.5,6.7 l6.1,2.2 M69.3,12.4 l7.8,-2.2 M75.3,4.5 l5.2,11.2" fill="none" stroke="#000" stroke-width="0.9"/><path d="M65.0,25.2 q6.1,-3.4 13.9,-0.4 l5.2,16.2 q-2.6,4.5 -11.3,4.0 l-10.4,-7.2 q-2.6,-6.7 1.7,-10.3 Z" fill="#fff" stroke="#000" stroke-width="1.5"/><path d="M67.5,29.2 l6.1,2.2 M69.3,34.8 l7.8,-2.2 M75.3,27.0 l5.2,11.2" fill="none" stroke="#000" stroke-width="0.9"/><path d="M65.0,47.6 q6.1,-3.4 13.9,-0.4 l5.2,16.2 q-2.6,4.5 -11.3,4.0 l-10.4,-7.2 q-2.6,-6.7 1.7,-10.3 Z" fill="#fff" stroke="#000" stroke-width="1.5"/><path d="M67.5,51.7 l6.1,2.2 M69.3,57.3 l7.8,-2.2 M75.3,49.4 l5.2,11.2" fill="none" stroke="#000" stroke-width="0.9"/><path d="M81.4,0 V67.4" stroke="#000" stroke-width="0.9"/></g>
<circle cx="3297.7" cy="1771.7" r="6.7" fill="none" stroke="#000" stroke-width="1.0"/>
<path d="M3330.0,1790.0 A36.0,36.0 0 0 0 3294.0,1754.0" fill="none" stroke="#000" stroke-width="1.1"/>
<path d="M3294.0,1790.0 L3330.0,1790.0" fill="none" stroke="#000" stroke-width="2.6" stroke-dasharray="9 1.5"/>
<rect x="3419.3" y="1797.7" width="53.4" height="6.6" fill="#fff" stroke="#000" stroke-width="1.1"/><path d="M3422.3,1800.3 h47.4 M3422.3,1802.3 h47.4" stroke="#000" stroke-width="1.0"/>
<circle cx="3300.0" cy="1824.0" r="6.7" fill="none" stroke="#000" stroke-width="1.0"/>
<path d="M3331.0,1808.0 A31.7,31.7 0 0 1 3299.3,1839.7" fill="none" stroke="#000" stroke-width="1.1"/>
<path d="M3299.3,1808.0 L3331.0,1808.0" fill="none" stroke="#000" stroke-width="2.6" stroke-dasharray="9 1.5"/>
<use href="#iwc" transform="translate(3386.7 1830.0) rotate(0) scale(1.333 1.333)"/>
<polyline points="3370.7,1805.7 3370.7,1867.3" fill="none" stroke="#000" stroke-width="1.1"/>
<use href="#tap" transform="translate(3347.3 1856.0) rotate(180) scale(1.133 1.133)"/>
<use href="#basin" transform="translate(3283.3 1856.0) rotate(0) scale(1.2 1.2)"/>
<rect x="3410.7" y="1825.0" width="7.6" height="18.3" rx="0" fill="none" stroke="#000" stroke-width="1.1"/>
<circle cx="3429.3" cy="1835.0" r="5.7" fill="none" stroke="#000" stroke-width="1.0"/>
<polyline points="3419.0,1832.3 3474.0,1832.3" fill="none" stroke="#000" stroke-width="1.0" stroke-dasharray="7 4"/>
<rect x="3322.7" y="1874.0" width="60.0" height="12.0" rx="0" fill="none" stroke="#000" stroke-width="1.1"/>
<polyline points="3298.3,1873.3 3298.3,1959.3" fill="none" stroke="#000" stroke-width="1.2" stroke-dasharray="1 5"/>
<polyline points="3319.3,1873.3 3319.3,1959.3" fill="none" stroke="#000" stroke-width="1.2" stroke-dasharray="1 5"/>
<use href="#stove" transform="translate(3396.7 1909.3) rotate(0) scale(1.067 1.067)"/>
<polyline points="3382.7,1886.0 3382.7,1931.7 3340.7,1931.7 3340.7,1959.3" fill="none" stroke="#000" stroke-width="1.1"/>
<use href="#sink" transform="translate(3357.3 1947.3) rotate(0) scale(1.4 1.4)"/>
<rect x="3410.7" y="1896.7" width="6.0" height="40.0" fill="#fff" stroke="#000" stroke-width="1.1"/><path d="M3413.1,1899.7 v34.0 M3414.9,1899.7 v34.0" stroke="#000" stroke-width="1.0"/>
<path d="M3303.3,1998.0 A37.3,37.3 0 0 0 3340.6,1960.7" fill="none" stroke="#000" stroke-width="1.1"/>
<path d="M3303.3,1960.7 L3303.3,1998.0" fill="none" stroke="#000" stroke-width="2.6" stroke-dasharray="9 1.5"/>
<use href="#wm" transform="translate(3401.7 1998.3) rotate(-90) scale(1.533 1.533)"/>
<polyline points="3415.0,1968.3 3415.0,2019.3" fill="none" stroke="#000" stroke-width="1.1"/>
<polyline points="3296.0,2019.3 3415.0,2019.3" fill="none" stroke="#000" stroke-width="1.1"/>
<polyline points="3296.0,2023.3 3419.0,2023.3" fill="none" stroke="#000" stroke-width="1.1"/>
<polyline points="3484.0,1675.0 3535.3,1812.7" fill="none" stroke="#000" stroke-width="1.0" stroke-dasharray="7 4"/>
<polyline points="3535.3,1675.0 3484.0,1812.7" fill="none" stroke="#000" stroke-width="1.0" stroke-dasharray="7 4"/>
<circle cx="3528.3" cy="1772.3" r="5.7" fill="none" stroke="#000" stroke-width="1.0"/>
<rect x="3485.7" y="1874.0" width="85.0" height="67.7" rx="2" fill="#fff" stroke="#000" stroke-width="1.2"/><g transform="translate(3570.7 1874.0) scale(-1 1)"><rect x="83.0" y="-2.0" width="6.0" height="71.7" fill="#fff" stroke="#000" stroke-width="1.1"/><path d="M32.3,67.7 L68.0,0 M46.8,67.7 L70.5,0" fill="none" stroke="#000" stroke-width="1.1"/><path d="M63.8,2.7 q6.0,-3.4 13.6,-0.5 l5.1,16.2 q-2.5,4.5 -11.1,4.1 l-10.2,-7.2 q-2.5,-6.8 1.7,-10.4 Z" fill="#fff" stroke="#000" stroke-width="1.5"/><path d="M66.3,6.8 l6.0,2.3 M68.0,12.4 l7.6,-2.3 M74.0,4.5 l5.1,11.3" fill="none" stroke="#000" stroke-width="0.9"/><path d="M63.8,25.3 q6.0,-3.4 13.6,-0.5 l5.1,16.2 q-2.5,4.5 -11.1,4.1 l-10.2,-7.2 q-2.5,-6.8 1.7,-10.4 Z" fill="#fff" stroke="#000" stroke-width="1.5"/><path d="M66.3,29.3 l6.0,2.3 M68.0,35.0 l7.6,-2.3 M74.0,27.1 l5.1,11.3" fill="none" stroke="#000" stroke-width="0.9"/><path d="M63.8,47.8 q6.0,-3.4 13.6,-0.5 l5.1,16.2 q-2.5,4.5 -11.1,4.1 l-10.2,-7.2 q-2.5,-6.8 1.7,-10.4 Z" fill="#fff" stroke="#000" stroke-width="1.5"/><path d="M66.3,51.9 l6.0,2.3 M68.0,57.5 l7.6,-2.3 M74.0,49.6 l5.1,11.3" fill="none" stroke="#000" stroke-width="0.9"/><path d="M79.9,0 V67.7" stroke="#000" stroke-width="0.9"/></g>
<use href="#tel" transform="translate(3494.0 1960.0) rotate(0) scale(1.133 1.133)"/>
<rect x="3484.0" y="1995.0" width="52.0" height="16.7" fill="none" stroke="#000" stroke-width="1.1"/><path d="M3486.0,2003.3 H3534.0" stroke="#000" stroke-width="1.2"/><path d="M3490.3,1998.0 L3490.3,2008.7" stroke="#000" stroke-width="1.5"/><path d="M3499.4,1998.0 L3494.4,2008.7" stroke="#000" stroke-width="1.5"/><path d="M3500.9,1998.0 L3505.9,2008.7" stroke="#000" stroke-width="1.5"/><path d="M3510.0,1998.0 L3510.0,2008.7" stroke="#000" stroke-width="1.5"/><path d="M3514.1,1998.0 L3519.1,2008.7" stroke="#000" stroke-width="1.5"/><path d="M3525.6,1998.0 L3520.6,2008.7" stroke="#000" stroke-width="1.5"/><path d="M3529.7,1998.0 L3529.7,2008.7" stroke="#000" stroke-width="1.5"/>
<polyline points="3474.0,2023.3 3616.7,2023.3" fill="none" stroke="#000" stroke-width="1.1"/>
<polyline points="3483.3,2015.0 3536.7,2015.0" fill="none" stroke="#000" stroke-width="1.1"/>
<polyline points="3536.7,1995.0 3536.7,2023.3" fill="none" stroke="#000" stroke-width="1.1"/>
<polyline points="3536.7,1996.7 3616.7,2016.7" fill="none" stroke="#000" stroke-width="1.0" stroke-dasharray="7 4"/>
<polyline points="1900.0,1735.0 2028.3,1676.0" fill="none" stroke="#000" stroke-width="1.0" stroke-dasharray="7 4"/>
<polyline points="1900.0,1700.0 2028.3,1763.3" fill="none" stroke="#000" stroke-width="1.0" stroke-dasharray="7 4"/>
<circle cx="2071.7" cy="1679.0" r="7.3" fill="none" stroke="#000" stroke-width="1.0"/>
<path d="M2053.3,1710.0 A41.7,41.7 0 0 0 2095.0,1668.3" fill="none" stroke="#000" stroke-width="1.1" stroke-dasharray="2 3"/>
<path d="M2053.3,1668.3 L2053.3,1710.0" fill="none" stroke="#000" stroke-width="2.6" stroke-dasharray="9 1.5"/>
<rect x="2116.0" y="1675.0" width="51.7" height="12.3" rx="0" fill="none" stroke="#000" stroke-width="1.1"/>
<polyline points="2121.0,1681.7 2162.7,1681.7" fill="none" stroke="#000" stroke-width="2"/>
<use href="#tel" transform="translate(2192.7 1690.0) rotate(0) scale(1.133 1.133)"/>
<rect x="2062.7" y="1721.7" width="34.0" height="27.6" rx="0" fill="none" stroke="#000" stroke-width="2.4"/>
<rect x="2056.7" y="1755.0" width="45.6" height="19.0" rx="0" fill="none" stroke="#000" stroke-width="1.1"/>
<rect x="2122.3" y="1717.3" width="34.4" height="54.4" rx="1" fill="none" stroke="#000" stroke-width="1.1"/>
<rect x="2177.3" y="1704.3" width="31.0" height="90.7" rx="0" fill="none" stroke="#000" stroke-width="1.1"/>
<polyline points="2177.3,1708.3 2204.3,1708.3 2204.3,1791.0 2177.3,1791.0" fill="none" stroke="#000" stroke-width="1.1"/>
<polyline points="2177.3,1735.0 2204.3,1735.0" fill="none" stroke="#000" stroke-width="1.1"/>
<polyline points="2177.3,1765.0 2204.3,1765.0" fill="none" stroke="#000" stroke-width="1.1"/>
<rect x="2095.0" y="1853.4" width="18.7" height="18.7" fill="#fff" stroke="#000" stroke-width="1.1"/><rect x="2095.0" y="1916.5" width="18.7" height="18.7" fill="#fff" stroke="#000" stroke-width="1.1"/><path d="M2095.0,1857.2 h18.7 M2095.0,1931.4 h18.7" stroke="#000" stroke-width="1"/><rect x="2125.0" y="1853.4" width="18.7" height="18.7" fill="#fff" stroke="#000" stroke-width="1.1"/><rect x="2125.0" y="1916.5" width="18.7" height="18.7" fill="#fff" stroke="#000" stroke-width="1.1"/><path d="M2125.0,1857.2 h18.7 M2125.0,1931.4 h18.7" stroke="#000" stroke-width="1"/><rect x="2089.3" y="1869.3" width="60.0" height="50.0" fill="#fff" stroke="#000" stroke-width="1.2"/>
<use href="#tap" transform="translate(1941.7 1781.7) rotate(0) scale(1.133 1.133)"/>
<use href="#basin" transform="translate(1976.0 1784.0) rotate(90) scale(1.2 1.2)"/>
<circle cx="1963.3" cy="1841.0" r="6.7" fill="none" stroke="#000" stroke-width="1.0"/>
<path d="M1979.0,1810.6 A32.7,32.7 0 0 0 1946.3,1843.3" fill="none" stroke="#000" stroke-width="1.1"/>
<path d="M1979.0,1843.3 L1979.0,1810.6" fill="none" stroke="#000" stroke-width="2.6" stroke-dasharray="9 1.5"/>
<circle cx="2015.0" cy="1846.0" r="6.7" fill="none" stroke="#000" stroke-width="1.0"/>
<path d="M2033.3,1879.4 A36.7,36.7 0 0 1 1996.6,1842.7" fill="none" stroke="#000" stroke-width="1.1"/>
<path d="M2033.3,1842.7 L2033.3,1879.4" fill="none" stroke="#000" stroke-width="2.6" stroke-dasharray="9 1.5"/>
<rect x="2029.3" y="1890.0" width="12.4" height="53.3" rx="0" fill="none" stroke="#000" stroke-width="1.1"/>
<rect x="2033.3" y="1895.0" width="4.4" height="43.3" rx="0" fill="none" stroke="#000" stroke-width="1.1"/>
<rect x="1961.7" y="1986.7" width="51.6" height="6.6" fill="#fff" stroke="#000" stroke-width="1.1"/><path d="M1964.7,1989.3 h45.6 M1964.7,1991.3 h45.6" stroke="#000" stroke-width="1.0"/>
<polyline points="1900.0,2023.3 2046.7,2023.3" fill="none" stroke="#000" stroke-width="1.1"/>
<polyline points="1941.7,1995.0 1941.7,2023.3" fill="none" stroke="#000" stroke-width="1.1"/>
<polyline points="1941.7,2013.3 2038.3,2013.3" fill="none" stroke="#000" stroke-width="1.0" stroke-dasharray="7 4"/>
<polyline points="1931.7,2008.3 2036.7,1991.7" fill="none" stroke="#000" stroke-width="1.0" stroke-dasharray="7 4"/>
<rect x="2067.7" y="1960.7" width="94.0" height="6.6" fill="#fff" stroke="#000" stroke-width="1.1"/><path d="M2070.7,1963.3 h88.0 M2070.7,1965.3 h88.0" stroke="#000" stroke-width="1.0"/>
<circle cx="2114.3" cy="1978.3" r="8.0" fill="none" stroke="#000" stroke-width="1.0"/>
<use href="#bch" transform="translate(2067.7 1993.3) rotate(0) scale(1.1 1.1)"/>
<use href="#bch" transform="translate(2165.0 1993.3) rotate(0) scale(-1.1 1.1)"/>
<polyline points="2046.7,2019.3 2182.7,2019.3" fill="none" stroke="#000" stroke-width="1.1"/>
<polyline points="2046.7,2023.3 2186.0,2023.3" fill="none" stroke="#000" stroke-width="1.1"/>
<polyline points="2079.3,2023.3 2093.3,2040.7 2104.0,2040.7" fill="none" stroke="#000" stroke-width="1.1"/>
<rect x="2215.0" y="1675.0" width="22.7" height="52.7" fill="none" stroke="#000" stroke-width="1.1"/><path d="M2226.3,1677.0 V1725.7" stroke="#000" stroke-width="1.2"/><path d="M2219.1,1681.3 L2233.6,1681.3" stroke="#000" stroke-width="1.5"/><path d="M2219.1,1691.4 L2233.6,1684.6" stroke="#000" stroke-width="1.5"/><path d="M2219.1,1691.3 L2233.6,1698.1" stroke="#000" stroke-width="1.5"/><path d="M2219.1,1701.3 L2233.6,1701.3" stroke="#000" stroke-width="1.5"/><path d="M2219.1,1704.6 L2233.6,1711.4" stroke="#000" stroke-width="1.5"/><path d="M2219.1,1718.1 L2233.6,1711.3" stroke="#000" stroke-width="1.5"/><path d="M2219.1,1721.4 L2233.6,1721.4" stroke="#000" stroke-width="1.5"/>
<polyline points="2216.7,1728.3 2216.7,1806.7" fill="none" stroke="#000" stroke-width="1.2" stroke-dasharray="1 5"/>
<polyline points="2237.7,1728.3 2237.7,1806.7" fill="none" stroke="#000" stroke-width="1.2" stroke-dasharray="1 5"/>
<rect x="2274.3" y="1683.3" width="85.7" height="66.7" rx="2" fill="#fff" stroke="#000" stroke-width="1.2"/><g transform="translate(2274.3 1683.3)"><rect x="83.7" y="-2.0" width="6.0" height="70.7" fill="#fff" stroke="#000" stroke-width="1.1"/><path d="M32.6,66.7 L68.6,0 M47.1,66.7 L71.1,0" fill="none" stroke="#000" stroke-width="1.1"/><path d="M64.3,2.7 q6.0,-3.3 13.7,-0.4 l5.1,16.0 q-2.6,4.4 -11.1,4.0 l-10.3,-7.1 q-2.6,-6.7 1.7,-10.2 Z" fill="#fff" stroke="#000" stroke-width="1.5"/><path d="M66.8,6.7 l6.0,2.2 M68.6,12.2 l7.7,-2.2 M74.6,4.4 l5.1,11.1" fill="none" stroke="#000" stroke-width="0.9"/><path d="M64.3,24.9 q6.0,-3.3 13.7,-0.4 l5.1,16.0 q-2.6,4.4 -11.1,4.0 l-10.3,-7.1 q-2.6,-6.7 1.7,-10.2 Z" fill="#fff" stroke="#000" stroke-width="1.5"/><path d="M66.8,28.9 l6.0,2.2 M68.6,34.5 l7.7,-2.2 M74.6,26.7 l5.1,11.1" fill="none" stroke="#000" stroke-width="0.9"/><path d="M64.3,47.1 q6.0,-3.3 13.7,-0.4 l5.1,16.0 q-2.6,4.4 -11.1,4.0 l-10.3,-7.1 q-2.6,-6.7 1.7,-10.2 Z" fill="#fff" stroke="#000" stroke-width="1.5"/><path d="M66.8,51.1 l6.0,2.2 M68.6,56.7 l7.7,-2.2 M74.6,48.9 l5.1,11.1" fill="none" stroke="#000" stroke-width="0.9"/><path d="M80.6,0 V66.7" stroke="#000" stroke-width="0.9"/></g>
<circle cx="2237.3" cy="1810.7" r="6.7" fill="none" stroke="#000" stroke-width="1.0"/>
<path d="M2220.3,1774.4 A37.3,37.3 0 0 1 2257.6,1811.7" fill="none" stroke="#000" stroke-width="1.1"/>
<path d="M2220.3,1811.7 L2220.3,1774.4" fill="none" stroke="#000" stroke-width="2.6" stroke-dasharray="9 1.5"/>
<rect x="2363.3" y="1755.0" width="6.7" height="50.0" fill="#fff" stroke="#000" stroke-width="1.1"/><path d="M2366.0,1758.0 v44.0 M2368.0,1758.0 v44.0" stroke="#000" stroke-width="1.0"/>
<rect x="2371.7" y="1753.3" width="27.3" height="57.7" rx="0" fill="none" stroke="#000" stroke-width="1.1" stroke-dasharray="7 4"/>
<use href="#tap" transform="translate(2294.0 1821.7) rotate(0) scale(1.133 1.133)"/>
<use href="#iwc" transform="translate(2340.7 1841.0) rotate(0) scale(1.333 1.333)"/>
<polyline points="2323.3,1812.7 2323.3,1873.3" fill="none" stroke="#000" stroke-width="1.1"/>
<circle cx="2267.3" cy="1849.0" r="6.7" fill="none" stroke="#000" stroke-width="1.0"/>
<path d="M2296.7,1866.0 A32.7,32.7 0 0 0 2264.0,1833.3" fill="none" stroke="#000" stroke-width="1.1"/>
<path d="M2264.0,1866.0 L2296.7,1866.0" fill="none" stroke="#000" stroke-width="2.6" stroke-dasharray="9 1.5"/>
<use href="#basin" transform="translate(2227.7 1865.7) rotate(90) scale(1.2 1.2)"/>
<rect x="2338.3" y="1874.0" width="21.7" height="7.7" rx="0" fill="none" stroke="#000" stroke-width="1.1"/>
<circle cx="2347.7" cy="1892.7" r="5.7" fill="none" stroke="#000" stroke-width="1.0"/>
<rect x="2203.3" y="1878.3" width="28.4" height="23.4" rx="0" fill="#fff" stroke="#000" stroke-width="1.1"/>
<rect x="2236.7" y="1878.3" width="56.6" height="12.4" rx="0" fill="none" stroke="#000" stroke-width="1.1"/>
<polyline points="2188.3,1883.3 2188.3,1963.3" fill="none" stroke="#000" stroke-width="1.2" stroke-dasharray="1 5"/>
<polyline points="2210.0,1903.3 2210.0,1963.3" fill="none" stroke="#000" stroke-width="1.2" stroke-dasharray="1 5"/>
<use href="#stove" transform="translate(2308.3 1909.3) rotate(0) scale(1.067 1.067)"/>
<polyline points="2293.3,1890.7 2293.3,1938.3 2232.7,1938.3 2232.7,1965.0" fill="none" stroke="#000" stroke-width="1.1"/>
<use href="#sink" transform="translate(2251.0 1953.3) rotate(0) scale(1.4 1.4)"/>
<rect x="2322.7" y="1901.7" width="6.0" height="38.3" fill="#fff" stroke="#000" stroke-width="1.1"/><path d="M2325.1,1904.7 v32.3 M2326.9,1904.7 v32.3" stroke="#000" stroke-width="1.0"/>
<path d="M2196.7,2002.0 A36.0,36.0 0 0 0 2232.7,1966.0" fill="none" stroke="#000" stroke-width="1.1"/>
<path d="M2196.7,1966.0 L2196.7,2002.0" fill="none" stroke="#000" stroke-width="2.6" stroke-dasharray="9 1.5"/>
<use href="#wm" transform="translate(2314.3 1993.3) rotate(-90) scale(1.533 1.533)"/>
<polyline points="2186.0,2019.3 2326.7,2019.3" fill="none" stroke="#000" stroke-width="1.1"/>
<polyline points="2186.0,2023.3 2330.7,2023.3" fill="none" stroke="#000" stroke-width="1.1"/>
<polyline points="2326.7,1974.0 2326.7,2019.3" fill="none" stroke="#000" stroke-width="1.1"/>
<rect x="2376.0" y="1680.0" width="69.0" height="56.7" rx="0" fill="none" stroke="#000" stroke-width="1.1"/>
<rect x="2392.7" y="1739.3" width="35.6" height="4.0" rx="0" fill="none" stroke="#000" stroke-width="1.1"/>
<polyline points="2456.0,1686.7 2565.0,1686.7" fill="none" stroke="#000" stroke-width="1.1"/>
<polyline points="2456.0,1700.0 2565.0,1700.0" fill="none" stroke="#000" stroke-width="1.1"/>
<polyline points="2456.0,1713.3 2565.0,1713.3" fill="none" stroke="#000" stroke-width="1.1"/>
<polyline points="2456.0,1726.7 2565.0,1726.7" fill="none" stroke="#000" stroke-width="1.1"/>
<polyline points="2456.0,1740.0 2565.0,1740.0" fill="none" stroke="#000" stroke-width="1.1"/>
<polyline points="2456.0,1753.3 2565.0,1753.3" fill="none" stroke="#000" stroke-width="1.1"/>
<polyline points="2456.0,1766.7 2565.0,1766.7" fill="none" stroke="#000" stroke-width="1.1"/>
<polyline points="2456.0,1780.0 2565.0,1780.0" fill="none" stroke="#000" stroke-width="1.1"/>
<polyline points="2456.0,1793.3 2565.0,1793.3" fill="none" stroke="#000" stroke-width="1.1"/>
<polyline points="2508.3,1674.0 2508.3,1793.3" fill="none" stroke="#000" stroke-width="1.1"/>
<polyline points="2515.0,1674.0 2515.0,1793.3" fill="none" stroke="#000" stroke-width="1.1"/>
<rect x="2449.3" y="1803.3" width="5.7" height="38.4" fill="#fff" stroke="#000" stroke-width="1.1"/><path d="M2451.6,1806.3 v32.4 M2453.3,1806.3 v32.4" stroke="#000" stroke-width="1.0"/>
<polyline points="2575.0,1675.0 2640.7,1741.7" fill="none" stroke="#000" stroke-width="1.0" stroke-dasharray="7 4"/>
<polyline points="2640.7,1675.0 2575.0,1741.7" fill="none" stroke="#000" stroke-width="1.0" stroke-dasharray="7 4"/>
<circle cx="2606.0" cy="1734.3" r="5.0" fill="none" stroke="#000" stroke-width="1.0"/>
<rect x="2596.7" y="1744.0" width="20.0" height="6.7" rx="0" fill="none" stroke="#000" stroke-width="1.1"/>
<use href="#wc" transform="translate(2606.0 1766.7) rotate(0) scale(1.2 1.2)"/>
<use href="#tap" transform="translate(2631.7 1796.7) rotate(90) scale(1.133 1.133)"/>
<use href="#basin" transform="translate(2631.7 1845.0) rotate(0) scale(1.2 1.2)"/>
<circle cx="2593.3" cy="1847.7" r="6.7" fill="none" stroke="#000" stroke-width="1.0"/>
<path d="M2580.0,1832.3 A32.7,32.7 0 0 1 2612.7,1865.0" fill="none" stroke="#000" stroke-width="1.1"/>
<path d="M2580.0,1865.0 L2580.0,1832.3" fill="none" stroke="#000" stroke-width="2.6" stroke-dasharray="9 1.5"/>
<rect x="2460.0" y="1901.7" width="86.7" height="67.6" rx="2" fill="#fff" stroke="#000" stroke-width="1.2"/><g transform="translate(2546.7 1901.7) scale(-1 1)"><rect x="84.7" y="-2.0" width="6.0" height="71.6" fill="#fff" stroke="#000" stroke-width="1.1"/><path d="M32.9,67.6 L69.4,0 M47.7,67.6 L72.0,0" fill="none" stroke="#000" stroke-width="1.1"/><path d="M65.0,2.7 q6.1,-3.4 13.9,-0.5 l5.2,16.2 q-2.6,4.5 -11.3,4.1 l-10.4,-7.2 q-2.6,-6.8 1.7,-10.4 Z" fill="#fff" stroke="#000" stroke-width="1.5"/><path d="M67.6,6.8 l6.1,2.3 M69.4,12.4 l7.8,-2.3 M75.4,4.5 l5.2,11.3" fill="none" stroke="#000" stroke-width="0.9"/><path d="M65.0,25.2 q6.1,-3.4 13.9,-0.5 l5.2,16.2 q-2.6,4.5 -11.3,4.1 l-10.4,-7.2 q-2.6,-6.8 1.7,-10.4 Z" fill="#fff" stroke="#000" stroke-width="1.5"/><path d="M67.6,29.3 l6.1,2.3 M69.4,34.9 l7.8,-2.3 M75.4,27.0 l5.2,11.3" fill="none" stroke="#000" stroke-width="0.9"/><path d="M65.0,47.8 q6.1,-3.4 13.9,-0.5 l5.2,16.2 q-2.6,4.5 -11.3,4.1 l-10.4,-7.2 q-2.6,-6.8 1.7,-10.4 Z" fill="#fff" stroke="#000" stroke-width="1.5"/><path d="M67.6,51.8 l6.1,2.3 M69.4,57.5 l7.8,-2.3 M75.4,49.6 l5.2,11.3" fill="none" stroke="#000" stroke-width="0.9"/><path d="M81.5,0 V67.6" stroke="#000" stroke-width="0.9"/></g>
<use href="#tel" transform="translate(2466.7 1980.0) rotate(0) scale(1.133 1.133)"/>
<rect x="2632.3" y="1918.3" width="12.7" height="51.0" rx="0" fill="none" stroke="#000" stroke-width="1.1"/>
<rect x="2636.7" y="1923.3" width="4.3" height="41.0" rx="0" fill="none" stroke="#000" stroke-width="1.1"/>
<circle cx="2642.7" cy="1887.3" r="6.7" fill="none" stroke="#000" stroke-width="1.0"/>
<path d="M2613.3,1870.7 A36.0,36.0 0 0 0 2649.3,1906.7" fill="none" stroke="#000" stroke-width="1.1"/>
<path d="M2649.3,1870.7 L2613.3,1870.7" fill="none" stroke="#000" stroke-width="2.6" stroke-dasharray="9 1.5"/>
<rect x="2539.3" y="2000.7" width="52.4" height="6.6" fill="#fff" stroke="#000" stroke-width="1.1"/><path d="M2542.3,2003.3 h46.4 M2542.3,2005.3 h46.4" stroke="#000" stroke-width="1.0"/>
<rect x="2456.7" y="2008.3" width="54.0" height="16.7" fill="none" stroke="#000" stroke-width="1.1"/><path d="M2458.7,2016.7 H2508.7" stroke="#000" stroke-width="1.2"/><path d="M2463.1,2011.3 L2463.1,2022.0" stroke="#000" stroke-width="1.5"/><path d="M2472.5,2011.3 L2467.5,2022.0" stroke="#000" stroke-width="1.5"/><path d="M2474.3,2011.3 L2479.3,2022.0" stroke="#000" stroke-width="1.5"/><path d="M2483.7,2011.3 L2483.7,2022.0" stroke="#000" stroke-width="1.5"/><path d="M2488.1,2011.3 L2493.1,2022.0" stroke="#000" stroke-width="1.5"/><path d="M2499.9,2011.3 L2494.9,2022.0" stroke="#000" stroke-width="1.5"/><path d="M2504.3,2011.3 L2504.3,2022.0" stroke="#000" stroke-width="1.5"/>
<polyline points="2446.7,2036.7 2650.7,2036.7" fill="none" stroke="#000" stroke-width="1.1"/>
<polyline points="2650.7,2009.3 2650.7,2036.7" fill="none" stroke="#000" stroke-width="1.1"/>
<polyline points="2518.3,2007.3 2518.3,2036.7" fill="none" stroke="#000" stroke-width="1.1"/>
<polyline points="2520.0,2026.7 2641.7,2026.7" fill="none" stroke="#000" stroke-width="1.0" stroke-dasharray="7 4"/>
<polyline points="2511.7,2010.0 2641.7,2025.0" fill="none" stroke="#000" stroke-width="1.0" stroke-dasharray="7 4"/>
<rect x="2695.0" y="1675.0" width="53.3" height="12.3" rx="0" fill="none" stroke="#000" stroke-width="1.1"/>
<polyline points="2700.0,1681.7 2743.3,1681.7" fill="none" stroke="#000" stroke-width="2"/>
<rect x="2655.0" y="1692.7" width="27.7" height="90.0" rx="0" fill="none" stroke="#000" stroke-width="1.1"/>
<polyline points="2682.7,1696.7 2659.3,1696.7 2659.3,1778.7 2682.7,1778.7" fill="none" stroke="#000" stroke-width="1.1"/>
<polyline points="2659.3,1723.3 2682.7,1723.3" fill="none" stroke="#000" stroke-width="1.1"/>
<polyline points="2659.3,1751.7 2682.7,1751.7" fill="none" stroke="#000" stroke-width="1.1"/>
<rect x="2706.7" y="1716.0" width="35.0" height="54.7" rx="1" fill="none" stroke="#000" stroke-width="1.1"/>
<use href="#tel" transform="translate(2663.3 1795.0) rotate(0) scale(1.133 1.133)"/>
<rect x="2689.3" y="1786.7" width="29.0" height="28.3" rx="0" fill="none" stroke="#000" stroke-width="1.1"/>
<rect x="2692.0" y="1786.7" width="23.7" height="24.3" rx="0" fill="none" stroke="#000" stroke-width="1.1"/>
<rect x="2707.1" y="1860.8" width="18.7" height="18.7" fill="#fff" stroke="#000" stroke-width="1.1"/><rect x="2707.1" y="1923.2" width="18.7" height="18.7" fill="#fff" stroke="#000" stroke-width="1.1"/><path d="M2707.1,1864.6 h18.7 M2707.1,1938.1 h18.7" stroke="#000" stroke-width="1"/><rect x="2736.6" y="1860.8" width="18.7" height="18.7" fill="#fff" stroke="#000" stroke-width="1.1"/><rect x="2736.6" y="1923.2" width="18.7" height="18.7" fill="#fff" stroke="#000" stroke-width="1.1"/><path d="M2736.6,1864.6 h18.7 M2736.6,1938.1 h18.7" stroke="#000" stroke-width="1"/><rect x="2701.7" y="1876.7" width="59.0" height="49.3" fill="#fff" stroke="#000" stroke-width="1.2"/>
<rect x="2686.7" y="1960.7" width="93.3" height="6.6" fill="#fff" stroke="#000" stroke-width="1.1"/><path d="M2689.7,1963.3 h87.3 M2689.7,1965.3 h87.3" stroke="#000" stroke-width="1.0"/>
<use href="#bch" transform="translate(2671.7 1995.0) rotate(0) scale(1.1 1.1)"/>
<polyline points="2650.7,2019.3 2813.3,2019.3" fill="none" stroke="#000" stroke-width="1.1"/>
<polyline points="2650.7,2023.3 2813.3,2023.3" fill="none" stroke="#000" stroke-width="1.1"/>
<polyline points="2706.7,2023.3 2721.7,2041.7 2740.0,2041.7" fill="none" stroke="#000" stroke-width="1.1"/>
<rect x="1881.7" y="1882.7" width="84.3" height="66.6" rx="2" fill="#fff" stroke="#000" stroke-width="1.2"/><g transform="translate(1966.0 1882.7) scale(-1 1)"><rect x="82.3" y="-2.0" width="6.0" height="70.6" fill="#fff" stroke="#000" stroke-width="1.1"/><path d="M32.0,66.6 L67.4,0 M46.4,66.6 L70.0,0" fill="none" stroke="#000" stroke-width="1.1"/><path d="M63.2,2.7 q5.9,-3.3 13.5,-0.4 l5.1,16.0 q-2.5,4.4 -11.0,4.0 l-10.1,-7.1 q-2.5,-6.7 1.7,-10.2 Z" fill="#fff" stroke="#000" stroke-width="1.5"/><path d="M65.8,6.7 l5.9,2.2 M67.4,12.2 l7.6,-2.2 M73.3,4.4 l5.1,11.1" fill="none" stroke="#000" stroke-width="0.9"/><path d="M63.2,24.9 q5.9,-3.3 13.5,-0.4 l5.1,16.0 q-2.5,4.4 -11.0,4.0 l-10.1,-7.1 q-2.5,-6.7 1.7,-10.2 Z" fill="#fff" stroke="#000" stroke-width="1.5"/><path d="M65.8,28.9 l5.9,2.2 M67.4,34.4 l7.6,-2.2 M73.3,26.6 l5.1,11.1" fill="none" stroke="#000" stroke-width="0.9"/><path d="M63.2,47.1 q5.9,-3.3 13.5,-0.4 l5.1,16.0 q-2.5,4.4 -11.0,4.0 l-10.1,-7.1 q-2.5,-6.7 1.7,-10.2 Z" fill="#fff" stroke="#000" stroke-width="1.5"/><path d="M65.8,51.1 l5.9,2.2 M67.4,56.6 l7.6,-2.2 M73.3,48.8 l5.1,11.1" fill="none" stroke="#000" stroke-width="0.9"/><path d="M79.2,0 V66.6" stroke="#000" stroke-width="0.9"/></g>
<rect x="1879.3" y="1996.7" width="52.4" height="15.0" fill="none" stroke="#000" stroke-width="1.1"/><path d="M1881.3,2004.2 H1929.7" stroke="#000" stroke-width="1.2"/><path d="M1885.6,1999.4 L1885.6,2009.0" stroke="#000" stroke-width="1.5"/><path d="M1894.5,1999.4 L1890.0,2009.0" stroke="#000" stroke-width="1.5"/><path d="M1896.6,1999.4 L1901.1,2009.0" stroke="#000" stroke-width="1.5"/><path d="M1905.5,1999.4 L1905.5,2009.0" stroke="#000" stroke-width="1.5"/><path d="M1909.9,1999.4 L1914.4,2009.0" stroke="#000" stroke-width="1.5"/><path d="M1921.0,1999.4 L1916.5,2009.0" stroke="#000" stroke-width="1.5"/><path d="M1925.4,1999.4 L1925.4,2009.0" stroke="#000" stroke-width="1.5"/>
<use href="#wc" transform="translate(1905.0 1793.3) rotate(0) scale(1.2 1.2)"/>
<rect x="1130.0" y="1670.0" width="5.0" height="36.7" fill="#fff" stroke="#000" stroke-width="1.1"/><path d="M1132.0,1673.0 v30.7 M1133.5,1673.0 v30.7" stroke="#000" stroke-width="1.0"/>
<use href="#stove" transform="translate(1149.3 1679.3) rotate(0) scale(1.067 1.067)"/>
<polyline points="1161.7,1648.3 1161.7,1699.3 1215.0,1699.3 1215.0,1728.3" fill="none" stroke="#000" stroke-width="1.1"/>
<use href="#sink" transform="translate(1200.0 1716.7) rotate(0) scale(1.4 1.4)"/>
<polyline points="1236.7,1648.3 1236.7,1728.3" fill="none" stroke="#000" stroke-width="1.0" stroke-dasharray="7 4"/>
<rect x="1246.7" y="1656.7" width="13.3" height="45.0" rx="0" fill="none" stroke="#000" stroke-width="1.1"/>
<use href="#bch" transform="translate(1100.0 1750.0) rotate(180) scale(1.1 1.1)"/>
<use href="#bch" transform="translate(1098.3 1828.3) rotate(0) scale(-1.1 1.1)"/>
<circle cx="1116.7" cy="1789.3" r="8.0" fill="none" stroke="#000" stroke-width="1.0"/>
<rect x="1130.0" y="1745.0" width="4.3" height="91.7" fill="#fff" stroke="#000" stroke-width="1.1"/><path d="M1131.7,1748.0 v85.7 M1133.0,1748.0 v85.7" stroke="#000" stroke-width="1.0"/>
<polyline points="1080.0,1733.3 1125.0,1733.3" fill="none" stroke="#000" stroke-width="1.1"/>
<polyline points="1080.0,1840.0 1125.0,1840.0" fill="none" stroke="#000" stroke-width="1.1"/>
<rect x="1147.7" y="1734.0" width="27.3" height="22.7" rx="0" fill="none" stroke="#000" stroke-width="1.1"/>
<rect x="1188.1" y="1772.4" width="18.7" height="18.7" fill="#fff" stroke="#000" stroke-width="1.1"/><rect x="1188.1" y="1833.9" width="18.7" height="18.7" fill="#fff" stroke="#000" stroke-width="1.1"/><path d="M1188.1,1776.2 h18.7 M1188.1,1848.8 h18.7" stroke="#000" stroke-width="1"/><rect x="1217.6" y="1772.4" width="18.7" height="18.7" fill="#fff" stroke="#000" stroke-width="1.1"/><rect x="1217.6" y="1833.9" width="18.7" height="18.7" fill="#fff" stroke="#000" stroke-width="1.1"/><path d="M1217.6,1776.2 h18.7 M1217.6,1848.8 h18.7" stroke="#000" stroke-width="1"/><rect x="1182.7" y="1788.3" width="59.0" height="48.4" fill="#fff" stroke="#000" stroke-width="1.2"/>
<rect x="1080.0" y="1850.7" width="22.7" height="14.3" rx="0" fill="none" stroke="#000" stroke-width="1.1"/>
<circle cx="1140.7" cy="1884.3" r="6.7" fill="none" stroke="#000" stroke-width="1.0"/>
<path d="M1106.0,1864.7 A37.3,37.3 0 0 0 1143.3,1902.0" fill="none" stroke="#000" stroke-width="1.1"/>
<path d="M1143.3,1864.7 L1106.0,1864.7" fill="none" stroke="#000" stroke-width="2.6" stroke-dasharray="9 1.5"/>
<circle cx="1140.7" cy="1927.3" r="6.7" fill="none" stroke="#000" stroke-width="1.0"/>
<path d="M1175.0,1909.7 A32.7,32.7 0 0 1 1142.3,1942.4" fill="none" stroke="#000" stroke-width="1.1"/>
<path d="M1142.3,1909.7 L1175.0,1909.7" fill="none" stroke="#000" stroke-width="2.6" stroke-dasharray="9 1.5"/>
<rect x="1198.3" y="1907.3" width="18.4" height="19.4" rx="0" fill="none" stroke="#000" stroke-width="1.1"/>
<use href="#basin" transform="translate(1207.3 1917.0) rotate(0) scale(1.2 1.2)"/>
<use href="#tap" transform="translate(1208.3 1942.7) rotate(90) scale(1.133 1.133)"/>
<use href="#wc" transform="translate(1180.0 1966.7) rotate(180) scale(1.2 1.2)"/>
<circle cx="1265.7" cy="1897.7" r="6.7" fill="none" stroke="#000" stroke-width="1.0"/>
<path d="M1281.7,1937.7 A32.7,32.7 0 0 1 1249.0,1905.0" fill="none" stroke="#000" stroke-width="1.1"/>
<path d="M1281.7,1905.0 L1281.7,1937.7" fill="none" stroke="#000" stroke-width="2.6" stroke-dasharray="9 1.5"/>
<use href="#tap" transform="translate(1230.0 1932.7) rotate(90) scale(1.133 1.133)"/>
<polyline points="1221.7,1947.3 1288.3,1947.3" fill="none" stroke="#000" stroke-width="1.1"/>
<use href="#iwc" transform="translate(1256.7 1965.7) rotate(0) scale(1.333 1.333)"/>
<rect x="1183.3" y="1987.3" width="20.0" height="7.7" rx="0" fill="none" stroke="#000" stroke-width="1.1"/>
<rect x="1239.3" y="1987.3" width="20.0" height="7.7" rx="0" fill="none" stroke="#000" stroke-width="1.1"/>
<circle cx="1193.3" cy="2004.3" r="5.7" fill="none" stroke="#000" stroke-width="1.0"/>
<circle cx="1249.3" cy="2004.3" r="5.7" fill="none" stroke="#000" stroke-width="1.0"/>
<polyline points="1080.0,2020.0 1293.3,2020.0" fill="none" stroke="#000" stroke-width="1.1"/>
<polyline points="1293.3,1996.0 1293.3,2020.0" fill="none" stroke="#000" stroke-width="1.1"/>
<polyline points="1145.0,1996.0 1145.0,2020.0" fill="none" stroke="#000" stroke-width="1.1"/>
<rect x="1090.0" y="1996.0" width="46.0" height="14.7" rx="0" fill="none" stroke="#000" stroke-width="1.1" stroke-dasharray="7 4"/>
<circle cx="1291.7" cy="1868.3" r="6.7" fill="none" stroke="#000" stroke-width="1.0"/>
<path d="M1328.4,1848.7 A36.7,36.7 0 0 1 1291.7,1885.4" fill="none" stroke="#000" stroke-width="1.1"/>
<path d="M1291.7,1848.7 L1328.4,1848.7" fill="none" stroke="#000" stroke-width="2.6" stroke-dasharray="9 1.5"/>
<polyline points="1298.3,1836.7 1410.0,1836.7" fill="none" stroke="#000" stroke-width="1.2" stroke-dasharray="1 5"/>
<polyline points="1298.3,1845.0 1410.0,1845.0" fill="none" stroke="#000" stroke-width="1.2" stroke-dasharray="1 5"/>
<polyline points="1297.3,1830.0 1410.0,1830.0" fill="none" stroke="#000" stroke-width="1.1"/>
<polyline points="1328.3,1854.0 1410.0,1854.0" fill="none" stroke="#000" stroke-width="0.8" stroke-dasharray="7 4"/>
<rect x="1321.7" y="1875.7" width="86.6" height="67.0" rx="2" fill="#fff" stroke="#000" stroke-width="1.2"/><g transform="translate(1321.7 1875.7)"><rect x="84.6" y="-2.0" width="6.0" height="71.0" fill="#fff" stroke="#000" stroke-width="1.1"/><path d="M32.9,67.0 L69.3,0 M47.6,67.0 L71.9,0" fill="none" stroke="#000" stroke-width="1.1"/><path d="M64.9,2.7 q6.1,-3.3 13.9,-0.4 l5.2,16.1 q-2.6,4.5 -11.3,4.0 l-10.4,-7.1 q-2.6,-6.7 1.7,-10.3 Z" fill="#fff" stroke="#000" stroke-width="1.5"/><path d="M67.5,6.7 l6.1,2.2 M69.3,12.3 l7.8,-2.2 M75.3,4.5 l5.2,11.2" fill="none" stroke="#000" stroke-width="0.9"/><path d="M64.9,25.0 q6.1,-3.3 13.9,-0.4 l5.2,16.1 q-2.6,4.5 -11.3,4.0 l-10.4,-7.1 q-2.6,-6.7 1.7,-10.3 Z" fill="#fff" stroke="#000" stroke-width="1.5"/><path d="M67.5,29.0 l6.1,2.2 M69.3,34.6 l7.8,-2.2 M75.3,26.8 l5.2,11.2" fill="none" stroke="#000" stroke-width="0.9"/><path d="M64.9,47.3 q6.1,-3.3 13.9,-0.4 l5.2,16.1 q-2.6,4.5 -11.3,4.0 l-10.4,-7.1 q-2.6,-6.7 1.7,-10.3 Z" fill="#fff" stroke="#000" stroke-width="1.5"/><path d="M67.5,51.4 l6.1,2.2 M69.3,56.9 l7.8,-2.2 M75.3,49.1 l5.2,11.2" fill="none" stroke="#000" stroke-width="0.9"/><path d="M81.4,0 V67.0" stroke="#000" stroke-width="0.9"/></g>
<rect x="1315.0" y="1987.7" width="53.3" height="7.3" fill="#fff" stroke="#000" stroke-width="1.1"/><path d="M1318.0,1990.6 h47.3 M1318.0,1992.8 h47.3" stroke="#000" stroke-width="1.0"/>
<rect x="1307.7" y="1996.0" width="68.0" height="26.7" rx="0" fill="none" stroke="#000" stroke-width="1.1" stroke-dasharray="7 4"/>
<rect x="1320.7" y="1605.7" width="90.0" height="31.0" rx="0" fill="none" stroke="#000" stroke-width="1.1"/>
<polyline points="1325.0,1605.7 1325.0,1631.7 1406.7,1631.7 1406.7,1605.7" fill="none" stroke="#000" stroke-width="1.1"/>
<polyline points="1351.7,1605.7 1351.7,1631.7" fill="none" stroke="#000" stroke-width="1.1"/>
<polyline points="1379.3,1605.7 1379.3,1631.7" fill="none" stroke="#000" stroke-width="1.1"/>
<circle cx="1530.0" cy="1640.7" r="7.3" fill="none" stroke="#000" stroke-width="1.0"/>
<path d="M1501.3,1658.3 A42.7,42.7 0 0 1 1544.0,1615.6" fill="none" stroke="#000" stroke-width="1.1" stroke-dasharray="2 3"/>
<path d="M1544.0,1658.3 L1501.3,1658.3" fill="none" stroke="#000" stroke-width="2.6" stroke-dasharray="9 1.5"/>
<rect x="1341.7" y="1666.0" width="53.3" height="7.3" fill="#fff" stroke="#000" stroke-width="1.1"/><path d="M1344.7,1668.9 h47.3 M1344.7,1671.1 h47.3" stroke="#000" stroke-width="1.0"/>
<polyline points="1328.3,1675.0 1409.3,1820.0" fill="none" stroke="#000" stroke-width="1.0" stroke-dasharray="7 4"/>
<polyline points="1409.3,1675.0 1328.3,1820.0" fill="none" stroke="#000" stroke-width="1.0" stroke-dasharray="7 4"/>
<circle cx="1400.7" cy="1807.3" r="5.0" fill="none" stroke="#000" stroke-width="1.0"/>
<polyline points="1327.3,1820.7 1410.0,1820.7" fill="none" stroke="#000" stroke-width="1.1"/>
<rect x="1306.0" y="1801.0" width="12.3" height="19.0" rx="0" fill="none" stroke="#000" stroke-width="1.1"/>
<use href="#basin" transform="translate(1312.0 1811.0) rotate(0) scale(1.133 1.133)"/>
<rect x="1413.3" y="1701.7" width="5.0" height="40.0" fill="#fff" stroke="#000" stroke-width="1.1"/><path d="M1415.3,1704.7 v34.0 M1416.8,1704.7 v34.0" stroke="#000" stroke-width="1.0"/>
<rect x="1413.3" y="1796.7" width="5.0" height="20.0" rx="0" fill="none" stroke="#000" stroke-width="1.1"/>
<use href="#wm" transform="translate(1438.3 1687.3) rotate(0) scale(1.533 1.533)"/>
<rect x="1458.3" y="1674.0" width="4.0" height="72.7" rx="0" fill="#999" stroke="#000" stroke-width="0.8"/>
<polyline points="1458.3,1746.7 1458.3,1768.3" fill="none" stroke="#000" stroke-width="1.1"/>
<polyline points="1462.3,1746.7 1462.3,1755.0" fill="none" stroke="#000" stroke-width="1.1"/>
<use href="#sink" transform="translate(1480.0 1686.0) rotate(0) scale(1.4 1.4)"/>
<polyline points="1462.3,1701.7 1556.0,1701.7 1556.0,1731.7 1582.7,1731.7" fill="none" stroke="#000" stroke-width="1.1"/>
<use href="#stove" transform="translate(1569.3 1714.3) rotate(0) scale(1.067 1.067)"/>
<polyline points="1462.3,1745.7 1582.7,1745.7" fill="none" stroke="#000" stroke-width="1.2" stroke-dasharray="1 5"/>
<polyline points="1505.0,1756.7 1582.7,1756.7" fill="none" stroke="#000" stroke-width="1.2" stroke-dasharray="1 5"/>
<rect x="1462.3" y="1755.0" width="41.0" height="13.3" rx="0" fill="none" stroke="#000" stroke-width="1.1"/>
<use href="#wc" transform="translate(1446.0 1790.0) rotate(0) scale(1.2 1.2)"/>
<use href="#tap" transform="translate(1483.3 1781.7) rotate(0) scale(1.133 1.133)"/>
<use href="#basin" transform="translate(1516.7 1783.3) rotate(90) scale(1.2 1.2)"/>
<circle cx="1503.3" cy="1840.7" r="6.7" fill="none" stroke="#000" stroke-width="1.0"/>
<path d="M1519.0,1810.6 A32.7,32.7 0 0 0 1486.3,1843.3" fill="none" stroke="#000" stroke-width="1.1"/>
<path d="M1519.0,1843.3 L1519.0,1810.6" fill="none" stroke="#000" stroke-width="2.6" stroke-dasharray="9 1.5"/>
<circle cx="1553.3" cy="1849.3" r="6.7" fill="none" stroke="#000" stroke-width="1.0"/>
<path d="M1572.0,1880.0 A36.7,36.7 0 0 1 1535.3,1843.3" fill="none" stroke="#000" stroke-width="1.1"/>
<path d="M1572.0,1843.3 L1572.0,1880.0" fill="none" stroke="#000" stroke-width="2.6" stroke-dasharray="9 1.5"/>
<use href="#tel" transform="translate(1430.0 1866.7) rotate(0) scale(1.133 1.133)"/>
<rect x="1421.7" y="1882.3" width="86.6" height="67.0" rx="2" fill="#fff" stroke="#000" stroke-width="1.2"/><g transform="translate(1508.3 1882.3) scale(-1 1)"><rect x="84.6" y="-2.0" width="6.0" height="71.0" fill="#fff" stroke="#000" stroke-width="1.1"/><path d="M32.9,67.0 L69.3,0 M47.6,67.0 L71.9,0" fill="none" stroke="#000" stroke-width="1.1"/><path d="M64.9,2.7 q6.1,-3.3 13.9,-0.4 l5.2,16.1 q-2.6,4.5 -11.3,4.0 l-10.4,-7.1 q-2.6,-6.7 1.7,-10.3 Z" fill="#fff" stroke="#000" stroke-width="1.5"/><path d="M67.5,6.7 l6.1,2.2 M69.3,12.3 l7.8,-2.2 M75.3,4.5 l5.2,11.2" fill="none" stroke="#000" stroke-width="0.9"/><path d="M64.9,25.0 q6.1,-3.3 13.9,-0.4 l5.2,16.1 q-2.6,4.5 -11.3,4.0 l-10.4,-7.1 q-2.6,-6.7 1.7,-10.3 Z" fill="#fff" stroke="#000" stroke-width="1.5"/><path d="M67.5,29.0 l6.1,2.2 M69.3,34.6 l7.8,-2.2 M75.3,26.8 l5.2,11.2" fill="none" stroke="#000" stroke-width="0.9"/><path d="M64.9,47.3 q6.1,-3.3 13.9,-0.4 l5.2,16.1 q-2.6,4.5 -11.3,4.0 l-10.4,-7.1 q-2.6,-6.7 1.7,-10.3 Z" fill="#fff" stroke="#000" stroke-width="1.5"/><path d="M67.5,51.4 l6.1,2.2 M69.3,56.9 l7.8,-2.2 M75.3,49.1 l5.2,11.2" fill="none" stroke="#000" stroke-width="0.9"/><path d="M81.4,0 V67.0" stroke="#000" stroke-width="0.9"/></g>
<rect x="1569.3" y="1890.7" width="13.4" height="52.0" rx="0" fill="none" stroke="#000" stroke-width="1.1"/>
<rect x="1573.7" y="1895.7" width="4.6" height="42.0" rx="0" fill="none" stroke="#000" stroke-width="1.1"/>
<rect x="1501.0" y="1987.7" width="52.3" height="7.3" fill="#fff" stroke="#000" stroke-width="1.1"/><path d="M1504.0,1990.6 h46.3 M1504.0,1992.8 h46.3" stroke="#000" stroke-width="1.0"/>
<rect x="1420.0" y="1996.0" width="51.7" height="15.7" fill="none" stroke="#000" stroke-width="1.1"/><path d="M1422.0,2003.8 H1469.7" stroke="#000" stroke-width="1.2"/><path d="M1426.3,1998.8 L1426.3,2008.9" stroke="#000" stroke-width="1.5"/><path d="M1435.1,1998.8 L1430.4,2008.9" stroke="#000" stroke-width="1.5"/><path d="M1437.0,1998.8 L1441.7,2008.9" stroke="#000" stroke-width="1.5"/><path d="M1445.8,1998.8 L1445.8,2008.9" stroke="#000" stroke-width="1.5"/><path d="M1450.0,1998.8 L1454.7,2008.9" stroke="#000" stroke-width="1.5"/><path d="M1461.3,1998.8 L1456.6,2008.9" stroke="#000" stroke-width="1.5"/><path d="M1465.4,1998.8 L1465.4,2008.9" stroke="#000" stroke-width="1.5"/>
<polyline points="1410.0,2023.3 1587.7,2023.3" fill="none" stroke="#000" stroke-width="1.1"/>
<polyline points="1481.7,1996.0 1481.7,2023.3" fill="none" stroke="#000" stroke-width="1.1"/>
<polyline points="1481.7,2013.3 1578.3,2013.3" fill="none" stroke="#000" stroke-width="1.0" stroke-dasharray="7 4"/>
<polyline points="1472.7,2010.7 1578.3,1998.3" fill="none" stroke="#000" stroke-width="1.0" stroke-dasharray="7 4"/>
<use href="#tel" transform="translate(1596.7 1682.7) rotate(0) scale(1.133 1.133)"/>
<rect x="1617.3" y="1675.0" width="52.0" height="13.3" rx="0" fill="none" stroke="#000" stroke-width="1.1"/>
<polyline points="1622.3,1681.7 1664.3,1681.7" fill="none" stroke="#000" stroke-width="2"/>
<circle cx="1697.3" cy="1677.3" r="7.3" fill="none" stroke="#000" stroke-width="1.0"/>
<path d="M1715.3,1710.0 A41.7,41.7 0 0 1 1673.6,1668.3" fill="none" stroke="#000" stroke-width="1.1" stroke-dasharray="2 3"/>
<path d="M1715.3,1668.3 L1715.3,1710.0" fill="none" stroke="#000" stroke-width="2.6" stroke-dasharray="9 1.5"/>
<rect x="1587.7" y="1692.7" width="30.6" height="89.0" rx="0" fill="none" stroke="#000" stroke-width="1.1"/>
<polyline points="1587.7,1696.7 1614.3,1696.7 1614.3,1777.7 1587.7,1777.7" fill="none" stroke="#000" stroke-width="1.1"/>
<polyline points="1587.7,1723.3 1614.3,1723.3" fill="none" stroke="#000" stroke-width="1.1"/>
<polyline points="1587.7,1751.7 1614.3,1751.7" fill="none" stroke="#000" stroke-width="1.1"/>
<rect x="1632.3" y="1712.3" width="33.4" height="53.7" rx="1" fill="none" stroke="#000" stroke-width="1.1"/>
<rect x="1680.7" y="1717.3" width="33.3" height="28.4" rx="0" fill="none" stroke="#000" stroke-width="2.4"/>
<rect x="1674.3" y="1750.7" width="46.4" height="19.3" rx="0" fill="none" stroke="#000" stroke-width="1.1"/>
<rect x="1587.7" y="1842.7" width="24.0" height="29.0" rx="0" fill="none" stroke="#000" stroke-width="1.1"/>
<rect x="1629.0" y="1857.4" width="18.7" height="18.7" fill="#fff" stroke="#000" stroke-width="1.1"/><rect x="1629.0" y="1920.5" width="18.7" height="18.7" fill="#fff" stroke="#000" stroke-width="1.1"/><path d="M1629.0,1861.2 h18.7 M1629.0,1935.4 h18.7" stroke="#000" stroke-width="1"/><rect x="1659.0" y="1857.4" width="18.7" height="18.7" fill="#fff" stroke="#000" stroke-width="1.1"/><rect x="1659.0" y="1920.5" width="18.7" height="18.7" fill="#fff" stroke="#000" stroke-width="1.1"/><path d="M1659.0,1861.2 h18.7 M1659.0,1935.4 h18.7" stroke="#000" stroke-width="1"/><rect x="1623.3" y="1873.3" width="60.0" height="50.0" fill="#fff" stroke="#000" stroke-width="1.2"/>
<rect x="1608.3" y="1960.7" width="93.4" height="6.6" fill="#fff" stroke="#000" stroke-width="1.1"/><path d="M1611.3,1963.3 h87.4 M1611.3,1965.3 h87.4" stroke="#000" stroke-width="1.0"/>
<circle cx="1654.0" cy="1980.0" r="8.0" fill="none" stroke="#000" stroke-width="1.0"/>
<use href="#bch" transform="translate(1606.7 1995.0) rotate(0) scale(1.1 1.1)"/>
<use href="#bch" transform="translate(1705.7 1995.0) rotate(0) scale(-1.1 1.1)"/>
<polyline points="1587.7,2019.3 1723.3,2019.3" fill="none" stroke="#000" stroke-width="1.1"/>
<polyline points="1587.7,2023.3 1723.3,2023.3" fill="none" stroke="#000" stroke-width="1.1"/>
<polyline points="1623.3,2023.3 1637.3,2041.7 1648.3,2041.7" fill="none" stroke="#000" stroke-width="1.1"/>
<rect x="1758.3" y="1676.7" width="71.7" height="43.3" rx="2" fill="#fff" stroke="#000" stroke-width="1.2"/><g transform="translate(1758.3 1676.7)"><rect x="69.7" y="-2.0" width="6.0" height="47.3" fill="#fff" stroke="#000" stroke-width="1.1"/><path d="M27.2,43.3 L57.4,0 M39.4,43.3 L59.5,0" fill="none" stroke="#000" stroke-width="1.1"/><path d="M53.8,1.7 q5.0,-2.2 11.5,-0.3 l4.3,10.4 q-2.2,2.9 -9.3,2.6 l-8.6,-4.6 q-2.2,-4.3 1.4,-6.6 Z" fill="#fff" stroke="#000" stroke-width="1.5"/><path d="M55.9,4.3 l5.0,1.4 M57.4,7.9 l6.5,-1.4 M62.4,2.9 l4.3,7.2" fill="none" stroke="#000" stroke-width="0.9"/><path d="M53.8,16.2 q5.0,-2.2 11.5,-0.3 l4.3,10.4 q-2.2,2.9 -9.3,2.6 l-8.6,-4.6 q-2.2,-4.3 1.4,-6.6 Z" fill="#fff" stroke="#000" stroke-width="1.5"/><path d="M55.9,18.8 l5.0,1.4 M57.4,22.4 l6.5,-1.4 M62.4,17.3 l4.3,7.2" fill="none" stroke="#000" stroke-width="0.9"/><path d="M53.8,30.6 q5.0,-2.2 11.5,-0.3 l4.3,10.4 q-2.2,2.9 -9.3,2.6 l-8.6,-4.6 q-2.2,-4.3 1.4,-6.6 Z" fill="#fff" stroke="#000" stroke-width="1.5"/><path d="M55.9,33.2 l5.0,1.4 M57.4,36.8 l6.5,-1.4 M62.4,31.8 l4.3,7.2" fill="none" stroke="#000" stroke-width="0.9"/><path d="M67.4,0 V43.3" stroke="#000" stroke-width="0.9"/></g>
<circle cx="1725.7" cy="1746.7" r="6.7" fill="none" stroke="#000" stroke-width="1.0"/>
<path d="M1757.3,1761.7 A33.3,33.3 0 0 0 1724.0,1728.4" fill="none" stroke="#000" stroke-width="1.1"/>
<path d="M1724.0,1761.7 L1757.3,1761.7" fill="none" stroke="#000" stroke-width="2.6" stroke-dasharray="9 1.5"/>
<rect x="1835.0" y="1703.3" width="6.7" height="36.7" fill="#fff" stroke="#000" stroke-width="1.1"/><path d="M1837.7,1706.3 v30.7 M1839.7,1706.3 v30.7" stroke="#000" stroke-width="1.0"/>
<rect x="1743.3" y="1774.0" width="13.4" height="18.7" rx="0" fill="none" stroke="#000" stroke-width="1.1"/>
<use href="#basin" transform="translate(1749.3 1783.3) rotate(0) scale(1.2 1.2)"/>
<use href="#tap" transform="translate(1800.7 1782.7) rotate(0) scale(1.133 1.133)"/>
<use href="#iwc" transform="translate(1846.7 1804.0) rotate(0) scale(1.333 1.333)"/>
<polyline points="1830.7,1773.3 1830.7,1840.0" fill="none" stroke="#000" stroke-width="1.1"/>
<circle cx="1760.7" cy="1818.3" r="6.7" fill="none" stroke="#000" stroke-width="1.0"/>
<path d="M1793.3,1834.0 A33.3,33.3 0 0 0 1760.0,1800.7" fill="none" stroke="#000" stroke-width="1.1"/>
<path d="M1760.0,1834.0 L1793.3,1834.0" fill="none" stroke="#000" stroke-width="2.6" stroke-dasharray="9 1.5"/>
<circle cx="1725.0" cy="1869.0" r="6.7" fill="none" stroke="#000" stroke-width="1.0"/>
<path d="M1761.0,1853.0 A36.0,36.0 0 0 1 1725.0,1889.0" fill="none" stroke="#000" stroke-width="1.1"/>
<path d="M1725.0,1853.0 L1761.0,1853.0" fill="none" stroke="#000" stroke-width="2.6" stroke-dasharray="9 1.5"/>
<rect x="1779.3" y="1882.3" width="86.7" height="67.0" rx="2" fill="#fff" stroke="#000" stroke-width="1.2"/><g transform="translate(1779.3 1882.3)"><rect x="84.7" y="-2.0" width="6.0" height="71.0" fill="#fff" stroke="#000" stroke-width="1.1"/><path d="M32.9,67.0 L69.4,0 M47.7,67.0 L72.0,0" fill="none" stroke="#000" stroke-width="1.1"/><path d="M65.0,2.7 q6.1,-3.3 13.9,-0.4 l5.2,16.1 q-2.6,4.5 -11.3,4.0 l-10.4,-7.1 q-2.6,-6.7 1.7,-10.3 Z" fill="#fff" stroke="#000" stroke-width="1.5"/><path d="M67.6,6.7 l6.1,2.2 M69.4,12.3 l7.8,-2.2 M75.4,4.5 l5.2,11.2" fill="none" stroke="#000" stroke-width="0.9"/><path d="M65.0,25.0 q6.1,-3.3 13.9,-0.4 l5.2,16.1 q-2.6,4.5 -11.3,4.0 l-10.4,-7.1 q-2.6,-6.7 1.7,-10.3 Z" fill="#fff" stroke="#000" stroke-width="1.5"/><path d="M67.6,29.0 l6.1,2.2 M69.4,34.6 l7.8,-2.2 M75.4,26.8 l5.2,11.2" fill="none" stroke="#000" stroke-width="0.9"/><path d="M65.0,47.3 q6.1,-3.3 13.9,-0.4 l5.2,16.1 q-2.6,4.5 -11.3,4.0 l-10.4,-7.1 q-2.6,-6.7 1.7,-10.3 Z" fill="#fff" stroke="#000" stroke-width="1.5"/><path d="M67.6,51.4 l6.1,2.2 M69.4,56.9 l7.8,-2.2 M75.4,49.1 l5.2,11.2" fill="none" stroke="#000" stroke-width="0.9"/><path d="M81.5,0 V67.0" stroke="#000" stroke-width="0.9"/></g>
<rect x="1746.0" y="1987.7" width="60.7" height="7.3" fill="#fff" stroke="#000" stroke-width="1.1"/><path d="M1749.0,1990.6 h54.7 M1749.0,1992.8 h54.7" stroke="#000" stroke-width="1.0"/>
<rect x="1816.0" y="1996.0" width="53.3" height="15.7" fill="none" stroke="#000" stroke-width="1.1"/><path d="M1818.0,2003.8 H1867.3" stroke="#000" stroke-width="1.2"/><path d="M1822.4,1998.8 L1822.4,2008.9" stroke="#000" stroke-width="1.5"/><path d="M1831.5,1998.8 L1826.8,2008.9" stroke="#000" stroke-width="1.5"/><path d="M1833.5,1998.8 L1838.2,2008.9" stroke="#000" stroke-width="1.5"/><path d="M1842.7,1998.8 L1842.7,2008.9" stroke="#000" stroke-width="1.5"/><path d="M1847.1,1998.8 L1851.8,2008.9" stroke="#000" stroke-width="1.5"/><path d="M1858.5,1998.8 L1853.8,2008.9" stroke="#000" stroke-width="1.5"/><path d="M1862.9,1998.8 L1862.9,2008.9" stroke="#000" stroke-width="1.5"/>
<polyline points="1723.3,2023.3 1878.3,2023.3" fill="none" stroke="#000" stroke-width="1.1"/>
<polyline points="1806.7,1996.0 1806.7,2023.3" fill="none" stroke="#000" stroke-width="1.1"/>
<polyline points="1728.3,2013.3 1806.7,2013.3" fill="none" stroke="#000" stroke-width="1.0" stroke-dasharray="7 4"/>
<polyline points="1728.3,2010.7 1816.0,1998.3" fill="none" stroke="#000" stroke-width="1.0" stroke-dasharray="7 4"/>
<polyline points="1843.3,1676.7 1920.0,1715.0" fill="none" stroke="#000" stroke-width="1.0" stroke-dasharray="7 4"/>
<polyline points="1843.3,1763.3 1920.0,1723.3" fill="none" stroke="#000" stroke-width="1.0" stroke-dasharray="7 4"/>
<circle cx="1857.7" cy="1755.7" r="5.0" fill="none" stroke="#000" stroke-width="1.0"/>
<circle cx="1901.0" cy="1755.0" r="5.0" fill="none" stroke="#000" stroke-width="1.0"/>
<rect x="1846.0" y="1765.7" width="22.3" height="6.6" rx="0" fill="none" stroke="#000" stroke-width="1.1"/>
<polyline points="1370.0,1218.3 1573.3,1218.3" fill="none" stroke="#000" stroke-width="1.1"/>
<polyline points="1375.0,1222.7 1573.3,1222.7" fill="none" stroke="#000" stroke-width="1.1"/>
<polyline points="1370.0,1218.3 1370.0,1263.3" fill="none" stroke="#000" stroke-width="1.1"/>
<polyline points="1375.0,1222.7 1375.0,1261.7" fill="none" stroke="#000" stroke-width="1.1"/>
<use href="#wm" transform="translate(1387.7 1243.3) rotate(-90) scale(1.533 1.533)"/>
<path d="M1420.0,1232.6 A30.7,30.7 0 0 1 1450.7,1263.3" fill="none" stroke="#000" stroke-width="1.1" stroke-dasharray="2 3"/>
<use href="#bch" transform="translate(1489.3 1243.3) rotate(0) scale(1.1 1.1)"/>
<rect x="1489.3" y="1263.3" width="92.4" height="6.7" fill="#fff" stroke="#000" stroke-width="1.1"/><path d="M1492.3,1266.0 h86.4 M1492.3,1268.0 h86.4" stroke="#000" stroke-width="1.0"/>
<rect x="1375.0" y="1305.0" width="5.0" height="51.7" fill="#fff" stroke="#000" stroke-width="1.1"/><path d="M1377.0,1308.0 v45.7 M1378.5,1308.0 v45.7" stroke="#000" stroke-width="1.0"/>
<use href="#stove" transform="translate(1394.3 1321.0) rotate(0) scale(1.067 1.067)"/>
<polyline points="1409.3,1271.0 1409.3,1363.3 1466.7,1363.3" fill="none" stroke="#000" stroke-width="1.1"/>
<rect x="1453.3" y="1273.3" width="13.4" height="48.4" rx="0" fill="none" stroke="#000" stroke-width="1.1"/>
<polyline points="1381.7,1370.0 1430.0,1370.0" fill="none" stroke="#000" stroke-width="1.2" stroke-dasharray="1 5"/>
<polyline points="1381.7,1378.3 1430.0,1378.3" fill="none" stroke="#000" stroke-width="1.2" stroke-dasharray="1 5"/>
<use href="#sink" transform="translate(1440.0 1378.3) rotate(0) scale(1.4 1.4)"/>
<polyline points="1466.7,1271.0 1466.7,1366.7" fill="none" stroke="#000" stroke-width="1.0" stroke-dasharray="7 4"/>
<polyline points="1471.7,1271.0 1471.7,1366.7" fill="none" stroke="#000" stroke-width="1.0" stroke-dasharray="7 4"/>
<rect x="1472.7" y="1370.0" width="12.3" height="18.3" rx="0" fill="none" stroke="#000" stroke-width="1.1"/>
<use href="#basin" transform="translate(1478.7 1379.0) rotate(0) scale(1.133 1.133)"/>
<rect x="1473.3" y="1274.0" width="24.0" height="27.7" rx="0" fill="none" stroke="#000" stroke-width="1.1"/>
<rect x="1535.0" y="1434.0" width="34.0" height="28.3" rx="0" fill="none" stroke="#000" stroke-width="2.4"/>
<rect x="1528.3" y="1467.7" width="46.7" height="18.3" rx="0" fill="none" stroke="#000" stroke-width="1.1"/>
<rect x="1513.3" y="1489.3" width="34.4" height="54.0" rx="1" fill="none" stroke="#000" stroke-width="1.1"/>
<rect x="1473.3" y="1479.3" width="28.4" height="77.4" rx="0" fill="none" stroke="#000" stroke-width="1.1"/>
<rect x="1476.7" y="1483.3" width="23.3" height="70.0" rx="0" fill="none" stroke="#000" stroke-width="1.1"/>
<polyline points="1476.7,1506.7 1500.0,1506.7" fill="none" stroke="#000" stroke-width="1.1"/>
<polyline points="1476.7,1530.0 1500.0,1530.0" fill="none" stroke="#000" stroke-width="1.1"/>
<rect x="1503.3" y="1557.7" width="30.0" height="29.0" rx="0" fill="none" stroke="#000" stroke-width="1.1"/>
<rect x="1506.0" y="1561.7" width="24.7" height="25.0" rx="0" fill="none" stroke="#000" stroke-width="1.1"/>
<use href="#tel" transform="translate(1485.0 1572.7) rotate(0) scale(1.133 1.133)"/>
<rect x="1593.3" y="1480.7" width="12.7" height="51.6" rx="0" fill="none" stroke="#000" stroke-width="1.1"/>
<rect x="1597.7" y="1485.7" width="4.3" height="41.6" rx="0" fill="none" stroke="#000" stroke-width="1.1"/>
<circle cx="1578.3" cy="1586.7" r="7.3" fill="none" stroke="#000" stroke-width="1.0"/>
<path d="M1596.7,1554.0 A42.7,42.7 0 0 0 1554.0,1596.7" fill="none" stroke="#000" stroke-width="1.1" stroke-dasharray="2 3"/>
<path d="M1596.7,1596.7 L1596.7,1554.0" fill="none" stroke="#000" stroke-width="2.6" stroke-dasharray="9 1.5"/>
<circle cx="1663.3" cy="1390.7" r="6.7" fill="none" stroke="#000" stroke-width="1.0"/>
<path d="M1696.0,1376.3 A32.7,32.7 0 0 1 1663.3,1409.0" fill="none" stroke="#000" stroke-width="1.1"/>
<path d="M1663.3,1376.3 L1696.0,1376.3" fill="none" stroke="#000" stroke-width="2.6" stroke-dasharray="9 1.5"/>
<use href="#iwc" transform="translate(1741.0 1409.3) rotate(0) scale(1.333 1.333)"/>
<polyline points="1723.3,1371.7 1723.3,1437.3" fill="none" stroke="#000" stroke-width="1.1"/>
<use href="#tap" transform="translate(1693.3 1425.0) rotate(180) scale(1.133 1.133)"/>
<rect x="1761.0" y="1398.3" width="7.3" height="18.4" rx="0" fill="none" stroke="#000" stroke-width="1.1"/>
<circle cx="1778.3" cy="1408.3" r="5.7" fill="none" stroke="#000" stroke-width="1.0"/>
<circle cx="1630.7" cy="1441.0" r="6.7" fill="none" stroke="#000" stroke-width="1.0"/>
<path d="M1618.7,1475.0 A36.7,36.7 0 0 0 1655.4,1438.3" fill="none" stroke="#000" stroke-width="1.1"/>
<path d="M1618.7,1438.3 L1618.7,1475.0" fill="none" stroke="#000" stroke-width="2.6" stroke-dasharray="9 1.5"/>
<rect x="1666.7" y="1442.3" width="51.6" height="12.7" rx="0" fill="none" stroke="#000" stroke-width="1.1"/>
<polyline points="1671.7,1449.0 1713.3,1449.0" fill="none" stroke="#000" stroke-width="2"/>
<rect x="1662.3" y="1497.7" width="67.7" height="86.6" rx="2" fill="#fff" stroke="#000" stroke-width="1.2"/><g transform="translate(1730.0 1497.7) rotate(90)"><rect x="84.6" y="-2.0" width="6.0" height="71.7" fill="#fff" stroke="#000" stroke-width="1.1"/><path d="M32.9,67.7 L69.3,0 M47.6,67.7 L71.9,0" fill="none" stroke="#000" stroke-width="1.1"/><path d="M64.9,2.7 q6.1,-3.4 13.9,-0.5 l5.2,16.2 q-2.6,4.5 -11.3,4.1 l-10.4,-7.2 q-2.6,-6.8 1.7,-10.4 Z" fill="#fff" stroke="#000" stroke-width="1.5"/><path d="M67.5,6.8 l6.1,2.3 M69.3,12.4 l7.8,-2.3 M75.3,4.5 l5.2,11.3" fill="none" stroke="#000" stroke-width="0.9"/><path d="M64.9,25.3 q6.1,-3.4 13.9,-0.5 l5.2,16.2 q-2.6,4.5 -11.3,4.1 l-10.4,-7.2 q-2.6,-6.8 1.7,-10.4 Z" fill="#fff" stroke="#000" stroke-width="1.5"/><path d="M67.5,29.3 l6.1,2.3 M69.3,35.0 l7.8,-2.3 M75.3,27.1 l5.2,11.3" fill="none" stroke="#000" stroke-width="0.9"/><path d="M64.9,47.8 q6.1,-3.4 13.9,-0.5 l5.2,16.2 q-2.6,4.5 -11.3,4.1 l-10.4,-7.2 q-2.6,-6.8 1.7,-10.4 Z" fill="#fff" stroke="#000" stroke-width="1.5"/><path d="M67.5,51.9 l6.1,2.3 M69.3,57.5 l7.8,-2.3 M75.3,49.6 l5.2,11.3" fill="none" stroke="#000" stroke-width="0.9"/><path d="M81.4,0 V67.7" stroke="#000" stroke-width="0.9"/></g>
<rect x="1612.3" y="1530.0" width="22.7" height="56.7" fill="none" stroke="#000" stroke-width="1.1"/><path d="M1623.7,1532.0 V1584.7" stroke="#000" stroke-width="1.2"/><path d="M1616.4,1536.2 L1630.9,1536.2" stroke="#000" stroke-width="1.5"/><path d="M1616.4,1545.9 L1630.9,1539.1" stroke="#000" stroke-width="1.5"/><path d="M1616.4,1545.4 L1630.9,1552.2" stroke="#000" stroke-width="1.5"/><path d="M1616.4,1555.2 L1630.9,1555.2" stroke="#000" stroke-width="1.5"/><path d="M1616.4,1558.1 L1630.9,1564.9" stroke="#000" stroke-width="1.5"/><path d="M1616.4,1571.3 L1630.9,1564.5" stroke="#000" stroke-width="1.5"/><path d="M1616.4,1574.2 L1630.9,1574.2" stroke="#000" stroke-width="1.5"/><path d="M1616.4,1583.9 L1630.9,1577.1" stroke="#000" stroke-width="1.5"/>
<use href="#tel" transform="translate(1745.0 1574.3) rotate(0) scale(1.133 1.133)"/>
<rect x="1761.7" y="1460.0" width="6.0" height="48.3" fill="#fff" stroke="#000" stroke-width="1.1"/><path d="M1764.1,1463.0 v42.3 M1765.9,1463.0 v42.3" stroke="#000" stroke-width="1.0"/>
<rect x="1769.3" y="1447.3" width="27.4" height="64.4" rx="0" fill="none" stroke="#000" stroke-width="1.1" stroke-dasharray="7 4"/>
<polyline points="1875.0,1228.3 1770.0,1511.7" fill="none" stroke="#000" stroke-width="1.1"/>
<polyline points="1796.7,1228.3 1875.0,1511.7" fill="none" stroke="#000" stroke-width="1.0" stroke-dasharray="7 4"/>
<rect x="1769.3" y="1288.3" width="27.4" height="66.7" rx="0" fill="none" stroke="#000" stroke-width="1.1" stroke-dasharray="7 4"/>
<rect x="1847.3" y="1449.3" width="27.7" height="62.4" rx="0" fill="none" stroke="#000" stroke-width="1.1" stroke-dasharray="7 4"/>
<circle cx="1823.3" cy="1503.3" r="5.7" fill="none" stroke="#000" stroke-width="1.0"/>
<rect x="1786.0" y="1512.3" width="20.0" height="7.7" rx="0" fill="none" stroke="#000" stroke-width="1.1"/>
<use href="#basin" transform="translate(1779.3 1531.0) rotate(90) scale(1.2 1.2)"/>
<use href="#tap" transform="translate(1816.7 1528.3) rotate(0) scale(1.133 1.133)"/>
<use href="#wc" transform="translate(1851.7 1538.3) rotate(0) scale(1.2 1.2)"/>
<path d="M1796.6,1581.3 A33.3,33.3 0 0 0 1763.3,1548.0" fill="none" stroke="#000" stroke-width="1.1"/>
<path d="M1763.3,1581.3 L1796.6,1581.3" fill="none" stroke="#000" stroke-width="2.6" stroke-dasharray="9 1.5"/>
<use href="#sink" transform="translate(1960.0 1389.3) rotate(0) scale(1.4 1.4)"/>
<rect x="1978.3" y="1380.0" width="61.7" height="11.7" rx="0" fill="none" stroke="#000" stroke-width="1.1"/>
<use href="#stove" transform="translate(1897.7 1430.0) rotate(0) scale(1.067 1.067)"/>
<polyline points="1911.7,1451.7 1911.7,1405.0 2015.0,1405.0" fill="none" stroke="#000" stroke-width="1.1"/>
<rect x="1876.7" y="1395.0" width="6.0" height="38.3" fill="#fff" stroke="#000" stroke-width="1.1"/><path d="M1879.1,1398.0 v32.3 M1880.9,1398.0 v32.3" stroke="#000" stroke-width="1.0"/>
<rect x="1923.3" y="1457.3" width="51.7" height="12.0" rx="0" fill="none" stroke="#000" stroke-width="1.1"/>
<polyline points="1928.3,1463.3 1970.0,1463.3" fill="none" stroke="#000" stroke-width="2"/>
<rect x="1914.3" y="1501.0" width="67.4" height="85.7" rx="2" fill="#fff" stroke="#000" stroke-width="1.2"/><g transform="translate(1981.7 1501.0) rotate(90)"><rect x="83.7" y="-2.0" width="6.0" height="71.4" fill="#fff" stroke="#000" stroke-width="1.1"/><path d="M32.6,67.4 L68.6,0 M47.1,67.4 L71.1,0" fill="none" stroke="#000" stroke-width="1.1"/><path d="M64.3,2.7 q6.0,-3.4 13.7,-0.4 l5.1,16.2 q-2.6,4.5 -11.1,4.0 l-10.3,-7.2 q-2.6,-6.7 1.7,-10.3 Z" fill="#fff" stroke="#000" stroke-width="1.5"/><path d="M66.8,6.7 l6.0,2.2 M68.6,12.4 l7.7,-2.2 M74.6,4.5 l5.1,11.2" fill="none" stroke="#000" stroke-width="0.9"/><path d="M64.3,25.2 q6.0,-3.4 13.7,-0.4 l5.1,16.2 q-2.6,4.5 -11.1,4.0 l-10.3,-7.2 q-2.6,-6.7 1.7,-10.3 Z" fill="#fff" stroke="#000" stroke-width="1.5"/><path d="M66.8,29.2 l6.0,2.2 M68.6,34.8 l7.7,-2.2 M74.6,27.0 l5.1,11.2" fill="none" stroke="#000" stroke-width="0.9"/><path d="M64.3,47.6 q6.0,-3.4 13.7,-0.4 l5.1,16.2 q-2.6,4.5 -11.1,4.0 l-10.3,-7.2 q-2.6,-6.7 1.7,-10.3 Z" fill="#fff" stroke="#000" stroke-width="1.5"/><path d="M66.8,51.7 l6.0,2.2 M68.6,57.3 l7.7,-2.2 M74.6,49.4 l5.1,11.2" fill="none" stroke="#000" stroke-width="0.9"/><path d="M80.6,0 V67.4" stroke="#000" stroke-width="0.9"/></g>
<use href="#tel" transform="translate(1900.0 1575.0) rotate(0) scale(1.133 1.133)"/>
<rect x="2013.3" y="1530.0" width="23.4" height="56.7" fill="none" stroke="#000" stroke-width="1.1"/><path d="M2025.0,1532.0 V1584.7" stroke="#000" stroke-width="1.2"/><path d="M2017.5,1536.2 L2032.5,1536.2" stroke="#000" stroke-width="1.5"/><path d="M2017.5,1546.0 L2032.5,1539.0" stroke="#000" stroke-width="1.5"/><path d="M2017.5,1545.3 L2032.5,1552.4" stroke="#000" stroke-width="1.5"/><path d="M2017.5,1555.2 L2032.5,1555.2" stroke="#000" stroke-width="1.5"/><path d="M2017.5,1558.0 L2032.5,1565.0" stroke="#000" stroke-width="1.5"/><path d="M2017.5,1571.4 L2032.5,1564.3" stroke="#000" stroke-width="1.5"/><path d="M2017.5,1574.2 L2032.5,1574.2" stroke="#000" stroke-width="1.5"/><path d="M2017.5,1584.0 L2032.5,1577.0" stroke="#000" stroke-width="1.5"/>
<rect x="1273.3" y="1385.0" width="26.7" height="68.3" rx="0" fill="none" stroke="#000" stroke-width="1.1" stroke-dasharray="7 4"/>
<rect x="1301.7" y="1396.7" width="6.0" height="50.0" fill="#fff" stroke="#000" stroke-width="1.1"/><path d="M1304.1,1399.7 v44.0 M1305.9,1399.7 v44.0" stroke="#000" stroke-width="1.0"/>
<rect x="1282.3" y="1462.3" width="26.0" height="52.7" fill="none" stroke="#000" stroke-width="1.1"/><path d="M1295.3,1464.3 V1513.0" stroke="#000" stroke-width="1.2"/><path d="M1287.0,1468.6 L1303.6,1468.6" stroke="#000" stroke-width="1.5"/><path d="M1287.0,1479.2 L1303.6,1471.4" stroke="#000" stroke-width="1.5"/><path d="M1287.0,1478.1 L1303.6,1485.9" stroke="#000" stroke-width="1.5"/><path d="M1287.0,1488.7 L1303.6,1488.7" stroke="#000" stroke-width="1.5"/><path d="M1287.0,1491.4 L1303.6,1499.2" stroke="#000" stroke-width="1.5"/><path d="M1287.0,1505.9 L1303.6,1498.1" stroke="#000" stroke-width="1.5"/><path d="M1287.0,1508.7 L1303.6,1508.7" stroke="#000" stroke-width="1.5"/>
<polyline points="1273.3,1453.3 1308.3,1453.3" fill="none" stroke="#000" stroke-width="1.1"/>
<rect x="1348.3" y="1426.7" width="68.4" height="86.6" rx="2" fill="#fff" stroke="#000" stroke-width="1.2"/><g transform="translate(1416.7 1426.7) rotate(90)"><rect x="84.6" y="-2.0" width="6.0" height="72.4" fill="#fff" stroke="#000" stroke-width="1.1"/><path d="M32.9,68.4 L69.3,0 M47.6,68.4 L71.9,0" fill="none" stroke="#000" stroke-width="1.1"/><path d="M64.9,2.7 q6.1,-3.4 13.9,-0.5 l5.2,16.4 q-2.6,4.6 -11.3,4.1 l-10.4,-7.3 q-2.6,-6.8 1.7,-10.5 Z" fill="#fff" stroke="#000" stroke-width="1.5"/><path d="M67.5,6.8 l6.1,2.3 M69.3,12.5 l7.8,-2.3 M75.3,4.6 l5.2,11.4" fill="none" stroke="#000" stroke-width="0.9"/><path d="M64.9,25.5 q6.1,-3.4 13.9,-0.5 l5.2,16.4 q-2.6,4.6 -11.3,4.1 l-10.4,-7.3 q-2.6,-6.8 1.7,-10.5 Z" fill="#fff" stroke="#000" stroke-width="1.5"/><path d="M67.5,29.6 l6.1,2.3 M69.3,35.3 l7.8,-2.3 M75.3,27.4 l5.2,11.4" fill="none" stroke="#000" stroke-width="0.9"/><path d="M64.9,48.3 q6.1,-3.4 13.9,-0.5 l5.2,16.4 q-2.6,4.6 -11.3,4.1 l-10.4,-7.3 q-2.6,-6.8 1.7,-10.5 Z" fill="#fff" stroke="#000" stroke-width="1.5"/><path d="M67.5,52.4 l6.1,2.3 M69.3,58.1 l7.8,-2.3 M75.3,50.2 l5.2,11.4" fill="none" stroke="#000" stroke-width="0.9"/><path d="M81.4,0 V68.4" stroke="#000" stroke-width="0.9"/></g>
<circle cx="1465.7" cy="1419.3" r="6.7" fill="none" stroke="#000" stroke-width="1.0"/>
<path d="M1433.3,1401.3 A36.0,36.0 0 0 0 1469.3,1437.3" fill="none" stroke="#000" stroke-width="1.1"/>
<path d="M1469.3,1401.3 L1433.3,1401.3" fill="none" stroke="#000" stroke-width="2.6" stroke-dasharray="9 1.5"/>
<rect x="1216.7" y="1522.3" width="27.3" height="61.0" rx="0" fill="none" stroke="#000" stroke-width="1.1" stroke-dasharray="7 4"/>
<rect x="1246.7" y="1530.0" width="6.0" height="51.7" fill="#fff" stroke="#000" stroke-width="1.1"/><path d="M1249.1,1533.0 v45.7 M1250.9,1533.0 v45.7" stroke="#000" stroke-width="1.0"/>
<use href="#tel" transform="translate(1291.7 1533.3) rotate(0) scale(1.133 1.133)"/>
<rect x="1339.3" y="1526.0" width="51.7" height="11.7" rx="0" fill="none" stroke="#000" stroke-width="1.1"/>
<polyline points="1344.3,1532.0 1386.0,1532.0" fill="none" stroke="#000" stroke-width="2"/>
<rect x="1277.7" y="1545.0" width="28.3" height="28.3" rx="0" fill="none" stroke="#000" stroke-width="1.1"/>
<rect x="1281.7" y="1547.7" width="24.3" height="23.0" rx="0" fill="none" stroke="#000" stroke-width="1.1"/>
<rect x="1277.7" y="1577.7" width="28.3" height="28.3" rx="0" fill="none" stroke="#000" stroke-width="1.1"/>
<rect x="1281.7" y="1580.3" width="24.3" height="23.0" rx="0" fill="none" stroke="#000" stroke-width="1.1"/>
<rect x="1338.3" y="1560.0" width="54.4" height="34.0" rx="1" fill="none" stroke="#000" stroke-width="1.1"/>
<rect x="1412.7" y="1540.7" width="34.6" height="28.6" rx="0" fill="none" stroke="#000" stroke-width="2.4"/>
<rect x="1406.7" y="1575.0" width="46.6" height="19.0" rx="0" fill="none" stroke="#000" stroke-width="1.1"/>
<polyline points="1545.0,1597.3 1545.0,1665.0" fill="none" stroke="#000" stroke-width="1.1"/>
<polyline points="1126.0,1585.0 1244.0,1585.0" fill="none" stroke="#000" stroke-width="1.1"/>
<polyline points="1130.0,1589.0 1244.0,1589.0" fill="none" stroke="#000" stroke-width="1.1"/>
<polyline points="1126.0,1585.0 1126.0,1640.0" fill="none" stroke="#000" stroke-width="1.1"/>
<polyline points="1130.0,1589.0 1130.0,1640.0" fill="none" stroke="#000" stroke-width="1.1"/>
<use href="#wm" transform="translate(1142.7 1612.7) rotate(90) scale(1.533 1.533)"/>
<path d="M1222.7,1607.4 A33.3,33.3 0 0 0 1189.4,1640.7" fill="none" stroke="#000" stroke-width="1.1"/>
<path d="M1222.7,1640.7 L1222.7,1607.4" fill="none" stroke="#000" stroke-width="2.6" stroke-dasharray="9 1.5"/>
<polyline points="1071.7,1729.3 1126.0,1729.3" fill="none" stroke="#000" stroke-width="1.1"/>
<polyline points="1071.7,1729.3 1071.7,1841.7" fill="none" stroke="#000" stroke-width="1.1"/>
<polyline points="1075.7,1733.3 1075.7,1838.3" fill="none" stroke="#000" stroke-width="1.1"/>
<polyline points="1071.7,1841.7 1135.0,1841.7" fill="none" stroke="#000" stroke-width="1.1"/>
<polyline points="1075.7,1733.3 1080.0,1733.3" fill="none" stroke="#000" stroke-width="1.1"/>
<polyline points="1075.7,1838.3 1080.0,1838.3" fill="none" stroke="#000" stroke-width="1.1"/>
<polyline points="1025.0,1795.0 1050.0,1786.0 1071.7,1781.7" fill="none" stroke="#000" stroke-width="1.1"/>
<rect x="1021.0" y="1898.3" width="5.0" height="50.0" fill="#fff" stroke="#000" stroke-width="1.1"/><path d="M1023.0,1901.3 v44.0 M1024.5,1901.3 v44.0" stroke="#000" stroke-width="1.0"/>
<rect x="990.7" y="1890.7" width="26.6" height="66.6" rx="0" fill="none" stroke="#000" stroke-width="1.1" stroke-dasharray="7 4"/>
<rect x="1050.7" y="1851.7" width="52.0" height="12.3" rx="0" fill="none" stroke="#000" stroke-width="1.1"/>
<polyline points="1055.7,1858.3 1097.7,1858.3" fill="none" stroke="#000" stroke-width="2"/>
<use href="#tel" transform="translate(1036.7 1874.0) rotate(0) scale(1.133 1.133)"/>
<rect x="1028.3" y="1889.3" width="87.4" height="67.4" rx="2" fill="#fff" stroke="#000" stroke-width="1.2"/><g transform="translate(1115.7 1889.3) scale(-1 1)"><rect x="85.4" y="-2.0" width="6.0" height="71.4" fill="#fff" stroke="#000" stroke-width="1.1"/><path d="M33.2,67.4 L69.9,0 M48.1,67.4 L72.5,0" fill="none" stroke="#000" stroke-width="1.1"/><path d="M65.6,2.7 q6.1,-3.4 14.0,-0.4 l5.2,16.2 q-2.6,4.5 -11.4,4.0 l-10.5,-7.2 q-2.6,-6.7 1.7,-10.3 Z" fill="#fff" stroke="#000" stroke-width="1.5"/><path d="M68.2,6.7 l6.1,2.2 M69.9,12.4 l7.9,-2.2 M76.0,4.5 l5.2,11.2" fill="none" stroke="#000" stroke-width="0.9"/><path d="M65.6,25.2 q6.1,-3.4 14.0,-0.4 l5.2,16.2 q-2.6,4.5 -11.4,4.0 l-10.5,-7.2 q-2.6,-6.7 1.7,-10.3 Z" fill="#fff" stroke="#000" stroke-width="1.5"/><path d="M68.2,29.2 l6.1,2.2 M69.9,34.8 l7.9,-2.2 M76.0,27.0 l5.2,11.2" fill="none" stroke="#000" stroke-width="0.9"/><path d="M65.6,47.6 q6.1,-3.4 14.0,-0.4 l5.2,16.2 q-2.6,4.5 -11.4,4.0 l-10.5,-7.2 q-2.6,-6.7 1.7,-10.3 Z" fill="#fff" stroke="#000" stroke-width="1.5"/><path d="M68.2,51.7 l6.1,2.2 M69.9,57.3 l7.9,-2.2 M76.0,49.4 l5.2,11.2" fill="none" stroke="#000" stroke-width="0.9"/><path d="M82.2,0 V67.4" stroke="#000" stroke-width="0.9"/></g>
<rect x="1027.3" y="1996.0" width="52.7" height="15.7" fill="none" stroke="#000" stroke-width="1.1"/><path d="M1029.3,2003.8 H1078.0" stroke="#000" stroke-width="1.2"/><path d="M1033.6,1998.8 L1033.6,2008.9" stroke="#000" stroke-width="1.5"/><path d="M1042.7,1998.8 L1038.0,2008.9" stroke="#000" stroke-width="1.5"/><path d="M1044.6,1998.8 L1049.3,2008.9" stroke="#000" stroke-width="1.5"/><path d="M1053.7,1998.8 L1053.7,2008.9" stroke="#000" stroke-width="1.5"/><path d="M1058.0,1998.8 L1062.7,2008.9" stroke="#000" stroke-width="1.5"/><path d="M1069.3,1998.8 L1064.6,2008.9" stroke="#000" stroke-width="1.5"/><path d="M1073.7,1998.8 L1073.7,2008.9" stroke="#000" stroke-width="1.5"/>
<polyline points="1017.3,2020.0 1080.0,2020.0" fill="none" stroke="#000" stroke-width="1.1"/>
<polyline points="1080.0,2010.0 1135.0,1996.7" fill="none" stroke="#000" stroke-width="1.0" stroke-dasharray="7 4"/>
<rect x="2040.0" y="1378.3" width="29.3" height="23.4" rx="0" fill="none" stroke="#000" stroke-width="1.1"/>
<rect x="2087.4" y="1412.9" width="18.7" height="18.7" fill="#fff" stroke="#000" stroke-width="1.1"/><rect x="2150.5" y="1412.9" width="18.7" height="18.7" fill="#fff" stroke="#000" stroke-width="1.1"/><path d="M2091.2,1412.9 v18.7 M2165.4,1412.9 v18.7" stroke="#000" stroke-width="1"/><rect x="2087.4" y="1442.1" width="18.7" height="18.7" fill="#fff" stroke="#000" stroke-width="1.1"/><rect x="2150.5" y="1442.1" width="18.7" height="18.7" fill="#fff" stroke="#000" stroke-width="1.1"/><path d="M2091.2,1442.1 v18.7 M2165.4,1442.1 v18.7" stroke="#000" stroke-width="1"/><rect x="2103.3" y="1407.7" width="50.0" height="58.3" fill="#fff" stroke="#000" stroke-width="1.2"/>
<rect x="2071.7" y="1477.3" width="62.6" height="32.0" rx="0" fill="none" stroke="#000" stroke-width="1.1"/>
<polyline points="2075.7,1509.3 2075.7,1481.7 2130.3,1481.7 2130.3,1509.3" fill="none" stroke="#000" stroke-width="1.1"/>
<polyline points="2103.3,1481.7 2103.3,1509.3" fill="none" stroke="#000" stroke-width="1.1"/>
<rect x="2166.7" y="1488.3" width="34.0" height="28.4" rx="0" fill="none" stroke="#000" stroke-width="2.4"/>
<rect x="2160.7" y="1522.7" width="45.3" height="18.3" rx="0" fill="none" stroke="#000" stroke-width="1.1"/>
<rect x="2043.3" y="1523.3" width="29.4" height="30.0" rx="0" fill="none" stroke="#000" stroke-width="1.1"/>
<rect x="2047.3" y="1526.0" width="25.4" height="24.7" rx="0" fill="none" stroke="#000" stroke-width="1.1"/>
<rect x="2078.3" y="1523.3" width="54.4" height="32.7" rx="1" fill="none" stroke="#000" stroke-width="1.1"/>
<use href="#tel" transform="translate(2055.0 1575.0) rotate(0) scale(1.133 1.133)"/>
<rect x="2078.3" y="1575.7" width="51.7" height="12.6" rx="0" fill="none" stroke="#000" stroke-width="1.1"/>
<polyline points="2083.3,1582.3 2125.0,1582.3" fill="none" stroke="#000" stroke-width="2"/>
<circle cx="2185.0" cy="1586.0" r="7.3" fill="none" stroke="#000" stroke-width="1.0"/>
<path d="M2208.0,1553.3 A42.7,42.7 0 0 0 2165.3,1596.0" fill="none" stroke="#000" stroke-width="1.1" stroke-dasharray="2 3"/>
<path d="M2208.0,1596.0 L2208.0,1553.3" fill="none" stroke="#000" stroke-width="2.6" stroke-dasharray="9 1.5"/>
<rect x="2211.7" y="1451.7" width="6.0" height="51.6" fill="#fff" stroke="#000" stroke-width="1.1"/><path d="M2214.1,1454.7 v45.6 M2215.9,1454.7 v45.6" stroke="#000" stroke-width="1.0"/>
<polyline points="2220.0,1468.3 2408.3,1587.3" fill="none" stroke="#000" stroke-width="1.0" stroke-dasharray="7 4"/>
<polyline points="2220.0,1587.3 2408.3,1510.0" fill="none" stroke="#000" stroke-width="1.0" stroke-dasharray="7 4"/>
<rect x="2246.7" y="1589.3" width="135.0" height="7.4" fill="#fff" stroke="#000" stroke-width="1.1"/><path d="M2249.7,1592.3 h129.0 M2249.7,1594.5 h129.0" stroke="#000" stroke-width="1.0"/>
<rect x="2411.0" y="1523.3" width="6.0" height="53.4" fill="#fff" stroke="#000" stroke-width="1.1"/><path d="M2413.4,1526.3 v47.4 M2415.2,1526.3 v47.4" stroke="#000" stroke-width="1.0"/>
<rect x="2336.0" y="1500.7" width="40.0" height="5.0" fill="#fff" stroke="#000" stroke-width="1.1"/><path d="M2339.0,1502.7 h34.0 M2339.0,1504.2 h34.0" stroke="#000" stroke-width="1.0"/>
<circle cx="2791.7" cy="1582.7" r="7.3" fill="none" stroke="#000" stroke-width="1.0"/>
<path d="M2810.3,1554.0 A42.7,42.7 0 0 0 2767.6,1596.7" fill="none" stroke="#000" stroke-width="1.1" stroke-dasharray="2 3"/>
<path d="M2810.3,1596.7 L2810.3,1554.0" fill="none" stroke="#000" stroke-width="2.6" stroke-dasharray="9 1.5"/>
<polyline points="2883.3,1456.0 3000.0,1588.3" fill="none" stroke="#000" stroke-width="1.0" stroke-dasharray="7 4"/>
<polyline points="3000.0,1456.0 2883.3,1588.3" fill="none" stroke="#000" stroke-width="1.0" stroke-dasharray="7 4"/>
<rect x="2875.0" y="1513.3" width="6.7" height="40.0" fill="#fff" stroke="#000" stroke-width="1.1"/><path d="M2877.7,1516.3 v34.0 M2879.7,1516.3 v34.0" stroke="#000" stroke-width="1.0"/>
<rect x="2883.3" y="1589.3" width="101.7" height="7.4" fill="#fff" stroke="#000" stroke-width="1.1"/><path d="M2886.3,1592.3 h95.7 M2886.3,1594.5 h95.7" stroke="#000" stroke-width="1.0"/>
<circle cx="3048.3" cy="1585.0" r="6.7" fill="none" stroke="#000" stroke-width="1.0"/>
<path d="M3032.0,1554.0 A42.7,42.7 0 0 1 3074.7,1596.7" fill="none" stroke="#000" stroke-width="1.1" stroke-dasharray="2 3"/>
<path d="M3032.0,1596.7 L3032.0,1554.0" fill="none" stroke="#000" stroke-width="2.6" stroke-dasharray="9 1.5"/>
<polyline points="3349.3,1551.0 3365.0,1588.3" fill="none" stroke="#000" stroke-width="1.0" stroke-dasharray="7 4"/>
<polyline points="3291.0,1551.0 3279.3,1588.3" fill="none" stroke="#000" stroke-width="1.0" stroke-dasharray="7 4"/>
<circle cx="3674.0" cy="1556.7" r="5.0" fill="none" stroke="#000" stroke-width="1.0"/>
<polyline points="3663.3,1531.7 3700.0,1573.3" fill="none" stroke="#000" stroke-width="1.0" stroke-dasharray="7 4"/>
<polyline points="3663.3,1663.3 3700.0,1603.3" fill="none" stroke="#000" stroke-width="1.0" stroke-dasharray="7 4"/></g>
<g id="cols" fill="#000">
<rect x="2021.7" y="780.7" width="10.0" height="21.0"/>
<rect x="2020.0" y="1003.3" width="21.7" height="9.0"/>
<rect x="1768.3" y="815.0" width="5.0" height="18.3"/>
<rect x="2177.3" y="603.3" width="10.0" height="21.7"/>
<rect x="2321.7" y="603.3" width="10.0" height="21.7"/>
<rect x="2177.3" y="756.7" width="10.0" height="21.6"/>
<rect x="2321.7" y="756.7" width="10.0" height="21.6"/>
<rect x="2330.0" y="845.7" width="20.7" height="9.3"/>
<rect x="2200.0" y="845.0" width="9.3" height="21.0"/>
<rect x="2200.0" y="1003.3" width="20.0" height="9.0"/>
<rect x="2341.7" y="991.7" width="9.0" height="20.6"/>
<rect x="2521.7" y="1003.3" width="18.3" height="9.0"/>
<rect x="2415.0" y="647.3" width="9.0" height="21.0"/>
<rect x="2415.0" y="806.7" width="9.0" height="19.3"/>
<rect x="1733.3" y="934.0" width="20.0" height="9.3"/>
<rect x="1781.7" y="625.7" width="9.0" height="21.6"/>
<rect x="1781.7" y="769.3" width="9.0" height="20.7"/>
<rect x="2021.7" y="625.7" width="10.0" height="18.3"/>
<rect x="1764.0" y="857.7" width="21.0" height="9.0"/>
<rect x="1876.7" y="857.7" width="10.0" height="20.6"/>
<rect x="2535.7" y="647.3" width="9.3" height="21.0"/>
<rect x="2707.3" y="649.3" width="9.4" height="20.0"/>
<rect x="2707.3" y="786.7" width="9.4" height="20.6"/>
<rect x="2930.7" y="649.3" width="18.6" height="21.7"/>
<rect x="2930.0" y="826.7" width="19.3" height="20.6"/>
<rect x="2875.0" y="829.3" width="7.7" height="18.0"/>
<rect x="2875.0" y="858.3" width="7.7" height="22.4"/>
<rect x="2813.3" y="1003.3" width="20.0" height="9.0"/>
<rect x="2930.7" y="991.7" width="18.6" height="20.6"/>
<rect x="2523.3" y="1003.3" width="21.7" height="9.0"/>
<rect x="2996.7" y="991.7" width="10.0" height="20.6"/>
<rect x="3081.7" y="991.7" width="10.0" height="20.6"/>
<rect x="2535.7" y="845.0" width="9.3" height="21.0"/>
<rect x="3082.7" y="671.7" width="9.0" height="20.6"/>
<rect x="3071.7" y="838.3" width="20.0" height="9.0"/>
<rect x="3082.7" y="925.0" width="9.0" height="13.3"/>
<rect x="2996.7" y="925.0" width="10.0" height="21.7"/>
<rect x="3311.7" y="677.3" width="9.0" height="21.0"/>
<rect x="3311.7" y="825.0" width="9.0" height="22.3"/>
<rect x="3311.7" y="826.0" width="9.0" height="20.7"/>
<rect x="3455.0" y="730.7" width="9.0" height="21.0"/>
<rect x="3615.0" y="730.7" width="9.0" height="21.0"/>
<rect x="3615.0" y="868.3" width="9.0" height="20.0"/>
<rect x="3455.0" y="936.0" width="9.0" height="20.7"/>
<rect x="3550.0" y="946.7" width="20.7" height="10.0"/>
<rect x="3443.3" y="1085.0" width="20.7" height="9.0"/>
<rect x="3602.7" y="1085.0" width="21.3" height="9.0"/>
<rect x="3311.7" y="1073.3" width="9.0" height="20.7"/>
<rect x="3794.0" y="748.3" width="9.3" height="20.0"/>
<rect x="3971.7" y="775.0" width="9.0" height="20.0"/>
<rect x="3794.0" y="941.7" width="9.3" height="20.0"/>
<rect x="3615.0" y="903.3" width="9.0" height="18.4"/>
<rect x="4050.0" y="775.0" width="8.3" height="20.0"/>
<rect x="3971.7" y="944.0" width="15.0" height="20.0"/>
<rect x="3853.3" y="1085.0" width="23.4" height="9.0"/>
<rect x="3971.7" y="1085.0" width="21.6" height="9.0"/>
<rect x="4179.3" y="793.3" width="20.0" height="9.0"/>
<rect x="4132.7" y="944.3" width="20.6" height="9.0"/>
<rect x="4132.7" y="1084.3" width="20.6" height="9.0"/>
<rect x="3971.0" y="1084.3" width="21.7" height="9.0"/>
<rect x="3856.0" y="1161.7" width="10.0" height="20.0"/>
<rect x="3999.3" y="1218.3" width="21.7" height="9.0"/>
<rect x="4116.0" y="1218.3" width="20.7" height="9.0"/>
<rect x="3676.0" y="1161.7" width="21.7" height="9.0"/>
<rect x="1582.7" y="934.0" width="20.6" height="9.3"/>
<rect x="1572.7" y="1073.3" width="20.6" height="9.4"/>
<rect x="1733.3" y="934.0" width="20.0" height="9.3"/>
<rect x="1733.3" y="1062.3" width="10.0" height="20.4"/>
<rect x="1877.3" y="1062.3" width="9.4" height="20.4"/>
<rect x="2032.7" y="1080.0" width="19.0" height="10.0"/>
<rect x="1572.7" y="1218.3" width="20.6" height="9.0"/>
<rect x="1749.3" y="1218.3" width="20.0" height="9.0"/>
<rect x="2032.7" y="1143.3" width="7.3" height="20.0"/>
<rect x="2020.0" y="1218.3" width="21.7" height="9.0"/>
<rect x="1875.0" y="1368.3" width="8.3" height="22.7"/>
<rect x="2020.0" y="1368.3" width="21.7" height="9.0"/>
<rect x="2170.0" y="1080.0" width="20.0" height="10.0"/>
<rect x="2293.3" y="1080.0" width="20.0" height="10.0"/>
<rect x="2181.7" y="1113.3" width="7.6" height="16.7"/>
<rect x="2141.7" y="1180.0" width="7.6" height="16.7"/>
<rect x="2140.0" y="1216.7" width="10.0" height="20.0"/>
<rect x="2293.3" y="1228.3" width="10.0" height="20.0"/>
<rect x="2198.3" y="1368.3" width="20.0" height="9.0"/>
<rect x="2300.0" y="1080.0" width="15.0" height="9.3"/>
<rect x="2446.0" y="1080.0" width="20.0" height="9.3"/>
<rect x="2635.0" y="1080.0" width="20.0" height="9.3"/>
<rect x="2813.3" y="1080.0" width="9.4" height="20.0"/>
<rect x="2635.0" y="1224.0" width="20.0" height="9.3"/>
<rect x="2813.3" y="1258.3" width="9.4" height="21.0"/>
<rect x="2702.7" y="1270.0" width="20.0" height="9.3"/>
<rect x="2410.0" y="1349.3" width="20.7" height="9.0"/>
<rect x="2930.0" y="1080.0" width="20.0" height="20.0"/>
<rect x="2930.0" y="1258.3" width="20.0" height="21.0"/>
<rect x="2873.3" y="1398.3" width="9.4" height="20.0"/>
<rect x="2939.3" y="1448.3" width="20.7" height="9.0"/>
<rect x="2300.0" y="1458.3" width="15.0" height="8.4"/>
<rect x="3182.7" y="1080.0" width="20.6" height="9.3"/>
<rect x="3268.3" y="1161.7" width="22.4" height="8.3"/>
<rect x="3405.0" y="1161.7" width="21.0" height="8.3"/>
<rect x="3676.7" y="1161.7" width="20.6" height="8.3"/>
<rect x="3242.7" y="1309.3" width="9.0" height="20.7"/>
<rect x="3365.0" y="1376.0" width="9.0" height="20.7"/>
<rect x="3258.3" y="1447.3" width="21.0" height="9.4"/>
<rect x="3689.3" y="1308.3" width="7.4" height="20.0"/>
<rect x="3688.3" y="1341.7" width="9.0" height="21.6"/>
<rect x="3852.7" y="1354.0" width="20.6" height="9.3"/>
<rect x="3653.3" y="1520.0" width="9.4" height="21.7"/>
<rect x="3840.7" y="1520.0" width="21.0" height="9.0"/>
<rect x="4085.3" y="1353.3" width="20.7" height="9.4"/>
<rect x="3841.0" y="1520.0" width="21.0" height="9.3"/>
<rect x="4044.3" y="1520.0" width="20.7" height="9.3"/>
<rect x="3656.0" y="1520.0" width="6.7" height="21.7"/>
<rect x="3656.0" y="1652.7" width="6.7" height="20.6"/>
<rect x="3763.3" y="1561.7" width="7.7" height="19.0"/>
<rect x="3819.3" y="1665.0" width="21.0" height="9.0"/>
<rect x="4021.7" y="1665.0" width="21.0" height="9.0"/>
<rect x="3520.0" y="1665.0" width="25.0" height="9.0"/>
<rect x="3653.3" y="1653.3" width="9.4" height="20.7"/>
<rect x="3649.3" y="1803.3" width="9.0" height="19.4"/>
<rect x="3538.3" y="1768.3" width="6.7" height="18.4"/>
<rect x="3820.0" y="1974.3" width="9.3" height="20.7"/>
<rect x="3636.7" y="1986.0" width="20.6" height="9.0"/>
<rect x="4021.7" y="1665.0" width="21.0" height="9.0"/>
<rect x="3820.0" y="1846.0" width="20.7" height="9.0"/>
<rect x="3981.7" y="1846.0" width="20.0" height="9.0"/>
<rect x="3923.3" y="1986.0" width="20.7" height="9.0"/>
<rect x="2811.7" y="1665.0" width="21.6" height="9.0"/>
<rect x="2996.7" y="1665.0" width="9.3" height="21.7"/>
<rect x="2996.7" y="1784.3" width="9.3" height="20.7"/>
<rect x="2811.7" y="1796.7" width="21.6" height="11.6"/>
<rect x="2933.3" y="1947.7" width="9.4" height="20.6"/>
<rect x="2801.7" y="1959.3" width="21.0" height="9.0"/>
<rect x="3006.7" y="1665.0" width="9.3" height="21.7"/>
<rect x="3006.7" y="1784.3" width="9.3" height="20.7"/>
<rect x="3006.7" y="1983.3" width="9.3" height="20.0"/>
<rect x="3076.0" y="1725.0" width="6.7" height="19.0"/>
<rect x="3075.0" y="1665.0" width="20.0" height="9.0"/>
<rect x="3135.0" y="1796.0" width="21.0" height="9.0"/>
<rect x="3146.7" y="1983.3" width="9.3" height="20.0"/>
<rect x="3283.3" y="1665.0" width="19.4" height="9.0"/>
<rect x="3291.7" y="1796.7" width="20.0" height="11.6"/>
<rect x="3291.7" y="1947.7" width="9.0" height="20.6"/>
<rect x="3409.3" y="1947.7" width="9.7" height="20.6"/>
<rect x="3523.3" y="1665.0" width="21.7" height="9.0"/>
<rect x="3474.0" y="1813.3" width="9.3" height="20.0"/>
<rect x="3474.0" y="1986.0" width="9.3" height="20.0"/>
<rect x="2026.0" y="1665.0" width="20.7" height="9.0"/>
<rect x="2026.0" y="1763.3" width="20.7" height="10.0"/>
<rect x="2209.3" y="1665.0" width="20.7" height="9.0"/>
<rect x="2361.7" y="1665.0" width="10.0" height="21.7"/>
<rect x="2446.7" y="1665.0" width="10.0" height="21.7"/>
<rect x="2037.3" y="1974.0" width="9.4" height="21.0"/>
<rect x="2361.7" y="1732.7" width="10.0" height="20.6"/>
<rect x="2361.7" y="1861.7" width="10.0" height="21.0"/>
<rect x="2181.7" y="1872.7" width="21.0" height="10.0"/>
<rect x="2321.7" y="1953.3" width="9.0" height="20.7"/>
<rect x="2181.7" y="1953.3" width="10.0" height="20.7"/>
<rect x="2446.7" y="1732.7" width="10.0" height="20.6"/>
<rect x="2446.7" y="1843.3" width="10.0" height="21.7"/>
<rect x="2565.0" y="1665.0" width="9.0" height="21.7"/>
<rect x="2565.0" y="1843.3" width="9.0" height="21.7"/>
<rect x="2641.7" y="1742.7" width="9.0" height="20.6"/>
<rect x="2446.7" y="1988.3" width="9.3" height="20.0"/>
<rect x="2630.0" y="1999.3" width="20.7" height="10.0"/>
<rect x="1125.0" y="1639.3" width="21.7" height="9.0"/>
<rect x="1244.3" y="1639.3" width="20.7" height="9.0"/>
<rect x="1255.0" y="1713.3" width="10.0" height="20.0"/>
<rect x="1135.0" y="1841.7" width="10.0" height="23.3"/>
<rect x="1135.0" y="1975.0" width="10.0" height="21.0"/>
<rect x="1277.3" y="1986.7" width="21.0" height="9.3"/>
<rect x="1288.3" y="1821.7" width="9.0" height="21.0"/>
<rect x="1410.0" y="1665.0" width="20.0" height="9.0"/>
<rect x="1410.0" y="1765.0" width="9.0" height="20.0"/>
<rect x="1410.0" y="1841.7" width="9.0" height="20.0"/>
<rect x="1410.0" y="1975.0" width="9.0" height="21.0"/>
<rect x="1578.3" y="1838.3" width="9.4" height="21.7"/>
<rect x="1578.3" y="1974.0" width="9.4" height="22.0"/>
<rect x="1721.7" y="1665.0" width="21.6" height="9.0"/>
<rect x="1833.3" y="1665.0" width="20.0" height="9.0"/>
<rect x="1721.7" y="1765.0" width="21.6" height="8.3"/>
<rect x="1868.3" y="1765.0" width="10.0" height="20.0"/>
<rect x="1868.3" y="1841.7" width="10.0" height="20.0"/>
<rect x="1868.3" y="1974.0" width="10.0" height="22.0"/>
<rect x="1721.7" y="1986.7" width="21.6" height="9.3"/>
<rect x="1370.0" y="1261.7" width="20.0" height="9.3"/>
<rect x="1461.7" y="1261.7" width="20.0" height="9.3"/>
<rect x="1300.0" y="1385.0" width="20.7" height="9.3"/>
<rect x="1450.7" y="1385.0" width="21.0" height="9.3"/>
<rect x="1461.7" y="1577.3" width="10.0" height="20.0"/>
<rect x="1760.0" y="1437.3" width="9.3" height="19.4"/>
<rect x="1606.0" y="1437.3" width="10.0" height="20.0"/>
<rect x="1606.0" y="1588.3" width="20.7" height="9.0"/>
<rect x="1748.3" y="1588.3" width="21.0" height="9.0"/>
<rect x="1874.0" y="1588.3" width="21.0" height="9.0"/>
<rect x="2030.0" y="1588.3" width="20.0" height="9.0"/>
<rect x="1874.0" y="1368.3" width="9.3" height="20.0"/>
<rect x="1244.0" y="1516.0" width="21.0" height="9.0"/>
<rect x="1017.3" y="1841.7" width="9.4" height="21.0"/>
<rect x="1017.3" y="1974.3" width="9.4" height="20.7"/>
<rect x="1135.0" y="1974.3" width="10.0" height="20.7"/>
<rect x="2210.0" y="1587.3" width="20.7" height="9.4"/>
<rect x="2409.3" y="1588.3" width="20.0" height="9.0"/>
<rect x="2544.0" y="1588.3" width="22.0" height="9.0"/>
<rect x="2812.7" y="1588.3" width="20.6" height="9.0"/>
<rect x="2985.0" y="1588.3" width="21.0" height="9.0"/>
<rect x="3006.7" y="1588.3" width="20.6" height="9.0"/>
<rect x="3269.3" y="1588.3" width="21.4" height="9.0"/>
<rect x="3524.0" y="1588.3" width="21.0" height="9.0"/>
</g>
<g id="raw"></g>
<g id="txt"><text x="1870.0" y="782.9" font-size="10.4" text-anchor="middle" class="i" letter-spacing="0.45">Shelf</text>
<text x="1805.0" y="715.3" font-size="13.1" text-anchor="middle" transform="rotate(-90 1805.0 710.7)">Service</text>
<text x="1820.7" y="714.3" font-size="10.4" text-anchor="middle" class="i" letter-spacing="0.45" transform="rotate(-90 1820.7 710.7)">11'2&quot;x3'5&quot;</text>
<text x="1877.7" y="700.4" font-size="15.3" text-anchor="middle">Kitchen</text>
<text x="1877.7" y="716.8" font-size="12.8" text-anchor="middle">8'0&quot;x11'2&quot;</text>
<text x="1982.7" y="688.7" font-size="15.3" text-anchor="middle">C-Toilet</text>
<text x="1982.7" y="700.9" font-size="12.0" text-anchor="middle">5'0&quot;x7'3&quot;</text>
<text x="1772.7" y="708.8" font-size="10.9" text-anchor="middle" transform="rotate(-90 1772.7 705.0)">KW</text>
<text x="1988.3" y="620.3" font-size="8.3" text-anchor="middle" textLength="4.6" lengthAdjust="spacingAndGlyphs">V</text>
<text x="2080.7" y="607.5" font-size="10.1" text-anchor="middle" class="bi">1m height Railing</text>
<text x="1971.7" y="728.5" font-size="9.7" text-anchor="middle" textLength="8.4" lengthAdjust="spacingAndGlyphs">D2</text>
<text x="2101.7" y="657.7" font-size="15.3" text-anchor="middle">Balcony</text>
<text x="2101.7" y="673.5" font-size="12.8" text-anchor="middle">10'10&quot;x5'0&quot;</text>
<text x="2103.3" y="720.2" font-size="11.6" text-anchor="middle" textLength="10.0" lengthAdjust="spacingAndGlyphs">FW</text>
<text x="2045.3" y="807.6" font-size="6.5" text-anchor="middle" transform="rotate(-90 2045.3 805.3)">Fridge</text>
<text x="1996.7" y="794.2" font-size="9.7" text-anchor="middle" textLength="8.4" lengthAdjust="spacingAndGlyphs">D1</text>
<text x="2114.3" y="836.1" font-size="15.3" text-anchor="middle">Living / Dining</text>
<text x="2114.3" y="850.5" font-size="12.8" text-anchor="middle">12'6&quot;x 22'3&quot;</text>
<text x="2159.3" y="886.2" font-size="26.2" text-anchor="middle">1</text>
<text x="2160.0" y="911.7" font-size="14.4" text-anchor="middle" class="i" letter-spacing="0.45">3B+2T</text>
<text x="2158.3" y="959.3" font-size="18.9" text-anchor="middle">1358 sqft.</text>
<text x="2010.0" y="1001.8" font-size="8.8" text-anchor="middle" class="i" letter-spacing="0.45">D.B</text>
<text x="2132.7" y="1001.8" font-size="8.8" text-anchor="middle" class="i" letter-spacing="0.45">D.B</text>
<text x="2173.3" y="1003.8" font-size="10.6" text-anchor="middle" textLength="9.1" lengthAdjust="spacingAndGlyphs">MD</text>
<text x="1952.7" y="833.1" font-size="15.3" text-anchor="middle">M.Bed Room</text>
<text x="1952.7" y="849.5" font-size="12.8" text-anchor="middle">10'4.5&quot;x15'9&quot;</text>
<text x="1816.0" y="804.1" font-size="14.5" text-anchor="middle">M-Toilet</text>
<text x="1816.0" y="815.9" font-size="10.4" text-anchor="middle" class="i" letter-spacing="0.45">7'8&quot;x5'0&quot;</text>
<text x="1874.3" y="817.5" font-size="9.7" text-anchor="middle" textLength="8.4" lengthAdjust="spacingAndGlyphs">D2</text>
<text x="1755.7" y="828.0" font-size="8.3" text-anchor="middle" textLength="4.6" lengthAdjust="spacingAndGlyphs">V</text>
<text x="1865.0" y="911.6" font-size="12.4" text-anchor="middle">W1</text>
<text x="1816.0" y="931.6" font-size="12.4" text-anchor="middle">W1</text>
<text x="2254.0" y="602.0" font-size="12.4" text-anchor="middle">W1</text>
<text x="2258.3" y="727.1" font-size="15.3" text-anchor="middle">Bed Room- 2</text>
<text x="2258.3" y="741.2" font-size="12.8" text-anchor="middle">10'0&quot;x11'6&quot;</text>
<text x="2207.3" y="772.5" font-size="9.7" text-anchor="middle" textLength="8.4" lengthAdjust="spacingAndGlyphs">D1</text>
<text x="2297.7" y="842.6" font-size="12.4" text-anchor="middle">W1</text>
<text x="2389.0" y="842.6" font-size="12.4" text-anchor="middle">W1</text>
<text x="2231.7" y="855.8" font-size="9.7" text-anchor="middle" textLength="8.4" lengthAdjust="spacingAndGlyphs">D1</text>
<text x="2288.3" y="889.7" font-size="15.3" text-anchor="middle">Bed Room-3</text>
<text x="2288.3" y="902.2" font-size="11.2" text-anchor="middle" class="i" letter-spacing="0.45">10'1.5&quot;x11'0&quot;</text>
<text x="2488.3" y="622.7" font-size="15.3" text-anchor="middle">Service</text>
<text x="2488.3" y="635.6" font-size="11.2" text-anchor="middle" class="i" letter-spacing="0.45">8'3&quot;x3'7.5&quot;</text>
<text x="2497.3" y="723.1" font-size="15.3" text-anchor="middle">Kitchen</text>
<text x="2497.3" y="735.6" font-size="11.2" text-anchor="middle" class="i" letter-spacing="0.45">8'3&quot;x8'11&quot;</text>
<text x="2401.7" y="713.8" font-size="10.9" text-anchor="middle" textLength="20.0" lengthAdjust="spacingAndGlyphs">KW1</text>
<text x="2450.0" y="774.9" font-size="12.0" text-anchor="middle" class="i" letter-spacing="0.45">shelf</text>
<text x="2520.7" y="767.0" font-size="6.5" text-anchor="middle" transform="rotate(180 2520.7 764.7)">Fridge</text>
<text x="2473.3" y="814.4" font-size="15.3" text-anchor="middle">M-Toilet</text>
<text x="2473.3" y="825.6" font-size="11.2" text-anchor="middle" class="i" letter-spacing="0.45">8'3&quot;x4'4&quot;</text>
<text x="2406.7" y="820.7" font-size="8.3" text-anchor="middle" textLength="4.6" lengthAdjust="spacingAndGlyphs">V</text>
<text x="2481.7" y="844.2" font-size="9.7" text-anchor="middle" textLength="8.4" lengthAdjust="spacingAndGlyphs">D2</text>
<text x="2412.7" y="886.1" font-size="15.3" text-anchor="middle">M.Bed Room</text>
<text x="2412.7" y="898.2" font-size="11.2" text-anchor="middle" class="i" letter-spacing="0.45">14'0&quot;x11'0&quot;</text>
<text x="2465.0" y="1049.1" font-size="14.5" text-anchor="middle" textLength="43.3" lengthAdjust="spacingAndGlyphs">Block-1</text>
<text x="1758.3" y="995.1" font-size="14.5" text-anchor="middle" transform="rotate(-90 1758.3 990.0)">Bed Room</text>
<text x="1774.0" y="993.6" font-size="10.4" text-anchor="middle" class="i" letter-spacing="0.45" transform="rotate(-90 1774.0 990.0)">10'-3.5&quot;x10'-0&quot;</text>
<text x="2625.0" y="611.2" font-size="10.1" text-anchor="middle" class="bi">1m height Railing</text>
<text x="2631.7" y="651.1" font-size="15.3" text-anchor="middle">Balcony</text>
<text x="2631.7" y="663.6" font-size="11.2" text-anchor="middle" class="i" letter-spacing="0.45">12'0&quot;x5'0&quot;</text>
<text x="2623.3" y="691.5" font-size="11.6" text-anchor="middle" textLength="10.0" lengthAdjust="spacingAndGlyphs">FW</text>
<text x="2824.0" y="647.6" font-size="12.4" text-anchor="middle">W1</text>
<text x="2758.3" y="705.4" font-size="15.3" text-anchor="middle">Toilet-1</text>
<text x="2758.3" y="717.9" font-size="11.2" text-anchor="middle" class="i" letter-spacing="0.45">5'0&quot;x6'8&quot;</text>
<text x="2750.0" y="644.7" font-size="8.3" text-anchor="middle" textLength="4.6" lengthAdjust="spacingAndGlyphs">V</text>
<text x="2780.0" y="735.8" font-size="9.7" text-anchor="middle" textLength="8.4" lengthAdjust="spacingAndGlyphs">D2</text>
<text x="2791.7" y="774.7" font-size="15.3" text-anchor="middle">Bed Room-2</text>
<text x="2791.7" y="788.9" font-size="11.2" text-anchor="middle" class="i" letter-spacing="0.45">10'6&quot;x10'3&quot;</text>
<text x="2737.7" y="801.8" font-size="9.7" text-anchor="middle" textLength="8.4" lengthAdjust="spacingAndGlyphs">D1</text>
<text x="2803.3" y="838.7" font-size="15.3" text-anchor="middle">C-Toilet</text>
<text x="2803.3" y="847.2" font-size="11.2" text-anchor="middle" class="i" letter-spacing="0.45">7'8&quot;x4'8&quot;</text>
<text x="2770.0" y="850.2" font-size="9.7" text-anchor="middle" textLength="8.4" lengthAdjust="spacingAndGlyphs">D2</text>
<text x="2891.0" y="839.7" font-size="8.3" text-anchor="middle" textLength="4.6" lengthAdjust="spacingAndGlyphs">V</text>
<text x="2732.7" y="876.8" font-size="9.7" text-anchor="middle" textLength="8.4" lengthAdjust="spacingAndGlyphs">D1</text>
<text x="2794.3" y="984.4" font-size="15.3" text-anchor="middle">Bed Room-3</text>
<text x="2794.3" y="996.6" font-size="11.2" text-anchor="middle" class="i" letter-spacing="0.45">12'0&quot;x9'6&quot;</text>
<text x="2895.0" y="914.3" font-size="12.4" text-anchor="middle">W1</text>
<text x="2633.3" y="837.1" font-size="15.3" text-anchor="middle">Living /Dining</text>
<text x="2633.3" y="850.6" font-size="11.2" text-anchor="middle" class="i" letter-spacing="0.45">12'0&quot;x22'0&quot;</text>
<text x="2579.3" y="893.5" font-size="26.2" text-anchor="middle">2</text>
<text x="2578.7" y="919.0" font-size="14.4" text-anchor="middle" class="i" letter-spacing="0.45">3B+3T</text>
<text x="2589.3" y="948.3" font-size="18.9" text-anchor="middle">1364 sqft.</text>
<text x="2614.0" y="1002.4" font-size="8.8" text-anchor="middle" class="i" letter-spacing="0.45">D.B</text>
<text x="2571.0" y="1005.5" font-size="10.6" text-anchor="middle" textLength="9.1" lengthAdjust="spacingAndGlyphs">MD</text>
<text x="2542.3" y="889.5" font-size="9.7" text-anchor="middle" textLength="8.4" lengthAdjust="spacingAndGlyphs">D1</text>
<text x="2987.3" y="670.3" font-size="12.4" text-anchor="middle">W1</text>
<text x="3021.7" y="809.7" font-size="15.3" text-anchor="middle">Bed Room-2</text>
<text x="3021.7" y="822.9" font-size="11.2" text-anchor="middle" class="i" letter-spacing="0.45">10'-2&quot;x11'-7&quot;</text>
<text x="3082.7" y="817.5" font-size="9.7" text-anchor="middle" textLength="8.4" lengthAdjust="spacingAndGlyphs">D1</text>
<text x="2974.3" y="912.4" font-size="14.5" text-anchor="middle">Ots</text>
<text x="2910.0" y="818.9" font-size="11.2" text-anchor="middle" class="i" letter-spacing="0.45">3'6&quot;</text>
<text x="3011.7" y="858.9" font-size="11.2" text-anchor="middle" class="i" letter-spacing="0.45">11'3&quot;</text>
<text x="3075.0" y="870.6" font-size="11.2" text-anchor="middle" class="i" letter-spacing="0.45" transform="rotate(-90 3075.0 866.7)">5'9.5&quot;</text>
<text x="2890.7" y="960.6" font-size="11.2" text-anchor="middle" class="i" letter-spacing="0.45" transform="rotate(-90 2890.7 956.7)">14'6&quot;</text>
<text x="2945.7" y="987.2" font-size="11.2" text-anchor="middle" class="i" letter-spacing="0.45">8'5.5&quot;</text>
<text x="3070.7" y="897.0" font-size="12.4" text-anchor="middle">W1</text>
<text x="3041.7" y="965.4" font-size="15.3" text-anchor="middle">Lift</text>
<text x="3041.7" y="978.9" font-size="11.2" text-anchor="middle" class="i" letter-spacing="0.45">5'7.5&quot;x5'1.5&quot;</text>
<text x="3124.3" y="670.7" font-size="8.3" text-anchor="middle" textLength="4.6" lengthAdjust="spacingAndGlyphs">V</text>
<text x="3237.3" y="676.0" font-size="12.4" text-anchor="middle">W1</text>
<text x="3128.3" y="741.4" font-size="15.3" text-anchor="middle">C-Toilet</text>
<text x="3128.3" y="753.2" font-size="11.2" text-anchor="middle" class="i" letter-spacing="0.45">5'-0&quot;x7'-2&quot;</text>
<text x="3142.7" y="781.8" font-size="9.7" text-anchor="middle" textLength="8.4" lengthAdjust="spacingAndGlyphs">D2</text>
<text x="3226.7" y="813.1" font-size="15.3" text-anchor="middle">Bed Room-3</text>
<text x="3226.7" y="827.2" font-size="11.2" text-anchor="middle" class="i" letter-spacing="0.45">10'-11&quot;x11'-6&quot;</text>
<text x="3315.7" y="811.8" font-size="9.7" text-anchor="middle" textLength="8.4" lengthAdjust="spacingAndGlyphs">D1</text>
<text x="3206.7" y="890.4" font-size="15.3" text-anchor="middle">Living</text>
<text x="3206.7" y="903.9" font-size="11.2" text-anchor="middle" class="i" letter-spacing="0.45">16'-3&quot;x11'-6.5&quot;</text>
<text x="3279.0" y="884.5" font-size="26.2" text-anchor="middle">3</text>
<text x="3278.3" y="909.0" font-size="14.4" text-anchor="middle" class="i" letter-spacing="0.45">3B+2T</text>
<text x="3260.0" y="949.9" font-size="18.9" text-anchor="middle">1333 sqft.</text>
<text x="3288.3" y="1005.5" font-size="10.6" text-anchor="middle" textLength="9.1" lengthAdjust="spacingAndGlyphs">MD</text>
<text x="3373.3" y="686.2" font-size="10.1" text-anchor="middle" class="bi">1m height Railing</text>
<text x="3386.0" y="719.4" font-size="15.3" text-anchor="middle">Balcony</text>
<text x="3386.0" y="731.6" font-size="11.2" text-anchor="middle" class="i" letter-spacing="0.45">9'-11&quot;x4'-0&quot;</text>
<text x="3386.0" y="753.5" font-size="11.6" text-anchor="middle" textLength="10.0" lengthAdjust="spacingAndGlyphs">FW</text>
<text x="3388.3" y="780.4" font-size="15.3" text-anchor="middle">Dining</text>
<text x="3388.3" y="793.2" font-size="11.2" text-anchor="middle" class="i" letter-spacing="0.45">9'-11&quot;x10'-9&quot;</text>
<text x="3316.0" y="811.2" font-size="9.7" text-anchor="middle" textLength="8.4" lengthAdjust="spacingAndGlyphs">D1</text>
<text x="3508.3" y="727.6" font-size="12.4" text-anchor="middle">W1</text>
<text x="3544.3" y="842.1" font-size="15.3" text-anchor="middle">M.Bed Room</text>
<text x="3544.3" y="853.9" font-size="11.2" text-anchor="middle" class="i" letter-spacing="0.45">11'-6&quot;x9'-10&quot;</text>
<text x="3457.3" y="851.8" font-size="9.7" text-anchor="middle" textLength="8.4" lengthAdjust="spacingAndGlyphs">D1</text>
<text x="3496.7" y="899.4" font-size="15.3" text-anchor="middle">M-Toilet</text>
<text x="3496.7" y="912.2" font-size="11.2" text-anchor="middle" class="i" letter-spacing="0.45">7'-2.5&quot;x4'-9.5&quot;</text>
<text x="3541.7" y="876.8" font-size="9.7" text-anchor="middle" textLength="8.4" lengthAdjust="spacingAndGlyphs">D2</text>
<text x="3603.3" y="991.0" font-size="12.4" text-anchor="middle">W1</text>
<text x="3526.7" y="1012.4" font-size="14.5" text-anchor="middle">Ots</text>
<text x="3475.0" y="1000.5" font-size="10.9" text-anchor="middle">KW</text>
<text x="3593.3" y="892.2" font-size="11.2" text-anchor="middle" class="i" letter-spacing="0.45">3'4&quot;</text>
<text x="3484.3" y="967.9" font-size="11.2" text-anchor="middle" class="i" letter-spacing="0.45">7'10.5&quot;</text>
<text x="3608.3" y="957.2" font-size="11.2" text-anchor="middle" class="i" letter-spacing="0.45" transform="rotate(-90 3608.3 953.3)">10'3&quot;</text>
<text x="3602.7" y="1019.9" font-size="11.2" text-anchor="middle" class="i" letter-spacing="0.45">2'1&quot;</text>
<text x="3472.7" y="1027.2" font-size="11.2" text-anchor="middle" class="i" letter-spacing="0.45" transform="rotate(-90 3472.7 1023.3)">9'5.5&quot;</text>
<text x="3581.0" y="1058.2" font-size="11.2" text-anchor="middle" class="i" letter-spacing="0.45" transform="rotate(-90 3581.0 1054.3)">4'0&quot;</text>
<text x="3526.7" y="1080.6" font-size="11.2" text-anchor="middle" class="i" letter-spacing="0.45">9'1&quot;</text>
<text x="3605.0" y="913.7" font-size="8.3" text-anchor="middle" textLength="4.6" lengthAdjust="spacingAndGlyphs">V</text>
<text x="3539.3" y="968.0" font-size="8.3" text-anchor="middle" textLength="4.6" lengthAdjust="spacingAndGlyphs">V</text>
<text x="3563.3" y="1114.2" font-size="12.0" text-anchor="middle" class="i" letter-spacing="0.45">Hand Rail upto 1m ht.</text>
<text x="3369.0" y="1130.1" font-size="14.5" text-anchor="middle" textLength="43.3" lengthAdjust="spacingAndGlyphs">Block-1</text>
<text x="3378.7" y="931.6" font-size="6.5" text-anchor="middle">Fridge</text>
<text x="3425.0" y="928.5" font-size="12.0" text-anchor="middle" class="i" letter-spacing="0.45">shelf</text>
<text x="3380.0" y="970.4" font-size="15.3" text-anchor="middle">Kitchen</text>
<text x="3380.0" y="983.9" font-size="11.2" text-anchor="middle" class="i" letter-spacing="0.45">9'-11&quot;x8'-0&quot;</text>
<text x="3387.3" y="1054.7" font-size="15.3" text-anchor="middle">Service</text>
<text x="3387.3" y="1066.6" font-size="11.2" text-anchor="middle" class="i" letter-spacing="0.45">9'-11&quot;x4'-0&quot;</text>
<text x="3732.7" y="746.0" font-size="12.4" text-anchor="middle">KW1</text>
<text x="3652.7" y="827.1" font-size="15.3" text-anchor="middle">Service</text>
<text x="3652.7" y="838.9" font-size="11.2" text-anchor="middle" class="i" letter-spacing="0.45">4'0&quot;x8'7&quot;</text>
<text x="3741.7" y="807.1" font-size="15.3" text-anchor="middle">Kitchen</text>
<text x="3741.7" y="819.6" font-size="11.2" text-anchor="middle" class="i" letter-spacing="0.45">8'3&quot;x8'7&quot;</text>
<text x="3711.7" y="870.9" font-size="12.0" text-anchor="middle" class="i" letter-spacing="0.45" transform="rotate(180 3711.7 866.7)">shelf</text>
<text x="3876.7" y="730.8" font-size="10.1" text-anchor="middle" class="bi">1m height Railing</text>
<text x="3892.7" y="764.7" font-size="15.3" text-anchor="middle">Balcony</text>
<text x="3892.7" y="777.9" font-size="11.2" text-anchor="middle" class="i" letter-spacing="0.45">12'6&quot;x3'11&quot;</text>
<text x="3822.7" y="826.3" font-size="6.5" text-anchor="middle">Fridge</text>
<text x="3889.3" y="825.9" font-size="11.6" text-anchor="middle" textLength="10.0" lengthAdjust="spacingAndGlyphs">FW</text>
<text x="3891.0" y="941.1" font-size="15.3" text-anchor="middle">Living/Dining</text>
<text x="3891.0" y="956.2" font-size="11.2" text-anchor="middle" class="i" letter-spacing="0.45">12'6&quot;x20'3&quot;</text>
<text x="3848.3" y="993.2" font-size="26.2" text-anchor="middle">4</text>
<text x="3847.7" y="1017.7" font-size="14.4" text-anchor="middle" class="i" letter-spacing="0.45">3B+2T</text>
<text x="3868.3" y="1049.9" font-size="18.9" text-anchor="middle">1295 sqft.</text>
<text x="3827.3" y="1082.1" font-size="10.6" text-anchor="middle" textLength="9.1" lengthAdjust="spacingAndGlyphs">MD</text>
<text x="3887.3" y="1088.1" font-size="8.8" text-anchor="middle" class="i" letter-spacing="0.45">D.B</text>
<text x="3691.7" y="928.1" font-size="15.3" text-anchor="middle">M-Toilet</text>
<text x="3691.7" y="938.9" font-size="11.2" text-anchor="middle" class="i" letter-spacing="0.45">8'0&quot;x4'4&quot;</text>
<text x="3642.7" y="945.8" font-size="9.7" text-anchor="middle" textLength="8.4" lengthAdjust="spacingAndGlyphs">D2</text>
<text x="3642.7" y="1027.1" font-size="15.3" text-anchor="middle" transform="rotate(-90 3642.7 1021.7)">M.Bed Room</text>
<text x="3657.7" y="1025.6" font-size="11.2" text-anchor="middle" class="i" letter-spacing="0.45" transform="rotate(-90 3657.7 1021.7)">12'11&quot;x10'3&quot;</text>
<text x="3770.0" y="948.5" font-size="9.7" text-anchor="middle" textLength="8.4" lengthAdjust="spacingAndGlyphs">D1</text>
<text x="4015.7" y="769.7" font-size="8.3" text-anchor="middle" textLength="4.6" lengthAdjust="spacingAndGlyphs">V</text>
<text x="4022.3" y="838.7" font-size="15.3" text-anchor="middle">C-Toilet</text>
<text x="4022.3" y="849.6" font-size="11.2" text-anchor="middle" class="i" letter-spacing="0.45">5'0&quot;x8'0&quot;</text>
<text x="4026.7" y="894.2" font-size="9.7" text-anchor="middle" textLength="8.4" lengthAdjust="spacingAndGlyphs">D2</text>
<text x="4053.3" y="925.2" font-size="9.7" text-anchor="middle" textLength="8.4" lengthAdjust="spacingAndGlyphs">D1</text>
<text x="4002.7" y="953.5" font-size="9.7" text-anchor="middle" textLength="8.4" lengthAdjust="spacingAndGlyphs">D1</text>
<text x="4075.7" y="975.4" font-size="15.3" text-anchor="middle">Bed Room-2</text>
<text x="4075.7" y="989.9" font-size="11.2" text-anchor="middle" class="i" letter-spacing="0.45">12'4.5&quot;x10'0&quot;</text>
<text x="4120.3" y="791.0" font-size="12.4" text-anchor="middle">W1</text>
<text x="4139.3" y="911.4" font-size="15.3" text-anchor="middle">Bed Room-3</text>
<text x="4139.3" y="924.6" font-size="11.2" text-anchor="middle" class="i" letter-spacing="0.45">10'1.5&quot;x10'6&quot;</text>
<text x="4166.0" y="1051.6" font-size="12.4" text-anchor="middle">W1</text>
<text x="3866.7" y="1134.5" font-size="10.6" text-anchor="middle" textLength="9.1" lengthAdjust="spacingAndGlyphs">MD</text>
<text x="3927.7" y="1118.1" font-size="15.3" text-anchor="middle">Living</text>
<text x="3927.7" y="1132.2" font-size="11.2" text-anchor="middle" class="i" letter-spacing="0.45">10'0&quot;x19'3&quot;</text>
<text x="3929.3" y="1176.6" font-size="18.9" text-anchor="middle">1155 sqft.</text>
<text x="4148.7" y="1155.0" font-size="12.4" text-anchor="middle">W1</text>
<text x="4088.7" y="1207.1" font-size="15.3" text-anchor="middle">Bed Room-3</text>
<text x="4088.7" y="1217.6" font-size="11.2" text-anchor="middle" class="i" letter-spacing="0.45">9'0&quot;x9'3&quot;</text>
<text x="4040.3" y="1226.2" font-size="9.7" text-anchor="middle" textLength="8.4" lengthAdjust="spacingAndGlyphs">D1</text>
<text x="3721.7" y="1224.7" font-size="15.3" text-anchor="middle">Service</text>
<text x="3721.7" y="1235.9" font-size="11.2" text-anchor="middle" class="i" letter-spacing="0.45">3'6&quot;x8'3&quot;</text>
<text x="3794.3" y="1223.7" font-size="15.3" text-anchor="middle">Kitchen</text>
<text x="3794.3" y="1236.2" font-size="11.2" text-anchor="middle" class="i" letter-spacing="0.45">8'4&quot;x8'3&quot;</text>
<text x="3674.3" y="1235.0" font-size="12.4" text-anchor="middle">KW</text>
<text x="1549.0" y="1008.7" font-size="15.3" text-anchor="middle" transform="rotate(-90 1549.0 1003.3)">Service</text>
<text x="1563.3" y="1007.2" font-size="11.2" text-anchor="middle" class="i" letter-spacing="0.45" transform="rotate(-90 1563.3 1003.3)">4'0&quot;x11'0&quot;</text>
<text x="1610.0" y="1010.4" font-size="15.3" text-anchor="middle" transform="rotate(-90 1610.0 1005.0)">Kitchen</text>
<text x="1624.0" y="1008.9" font-size="11.2" text-anchor="middle" class="i" letter-spacing="0.45" transform="rotate(-90 1624.0 1005.0)">6'-0&quot;x10'-0&quot;</text>
<text x="1620.7" y="1076.5" font-size="12.0" text-anchor="middle" class="i" letter-spacing="0.45">shelf</text>
<text x="1707.3" y="927.3" font-size="8.3" text-anchor="middle" textLength="4.6" lengthAdjust="spacingAndGlyphs">V</text>
<text x="1707.3" y="1016.4" font-size="15.3" text-anchor="middle">C.Toilet</text>
<text x="1707.3" y="1027.9" font-size="11.2" text-anchor="middle" class="i" letter-spacing="0.45">4'0&quot;x8'1&quot;</text>
<text x="1694.3" y="1041.2" font-size="9.7" text-anchor="middle" textLength="8.4" lengthAdjust="spacingAndGlyphs">D2</text>
<text x="1816.0" y="931.6" font-size="12.4" text-anchor="middle">W1</text>
<text x="1765.7" y="1083.5" font-size="9.7" text-anchor="middle" textLength="8.4" lengthAdjust="spacingAndGlyphs">D1</text>
<text x="1998.3" y="1067.1" font-size="15.3" text-anchor="middle">Foyer</text>
<text x="1998.3" y="1082.2" font-size="11.2" text-anchor="middle" class="i" letter-spacing="0.45">6'-2&quot;x7'-3&quot;</text>
<text x="2031.0" y="1049.5" font-size="10.6" text-anchor="middle" textLength="9.1" lengthAdjust="spacingAndGlyphs">MD</text>
<text x="1926.7" y="1088.2" font-size="26.2" text-anchor="middle">7</text>
<text x="1926.0" y="1112.7" font-size="14.4" text-anchor="middle" class="i" letter-spacing="0.45">2B+2T</text>
<text x="1771.7" y="1123.1" font-size="15.3" text-anchor="middle">Living/dining</text>
<text x="1771.7" y="1136.2" font-size="11.2" text-anchor="middle" class="i" letter-spacing="0.45">23'-9.5&quot;x10'-0&quot;</text>
<text x="1862.7" y="1159.3" font-size="18.9" text-anchor="middle">1043 sqft.</text>
<text x="1657.7" y="1097.0" font-size="6.5" text-anchor="middle">Fridge</text>
<text x="1646.0" y="1149.2" font-size="11.6" text-anchor="middle" textLength="10.0" lengthAdjust="spacingAndGlyphs">FW</text>
<text x="1590.0" y="1154.7" font-size="15.3" text-anchor="middle" transform="rotate(-90 1590.0 1149.3)">Balcony</text>
<text x="1604.3" y="1153.2" font-size="11.2" text-anchor="middle" class="i" letter-spacing="0.45" transform="rotate(-90 1604.3 1149.3)">10'-0&quot;x4'-0&quot;</text>
<text x="1515.7" y="1115.2" font-size="10.1" text-anchor="middle" class="bi">1m height Railing</text>
<text x="1491.7" y="1200.2" font-size="10.1" text-anchor="middle" class="bi">1m height Railing</text>
<text x="1993.3" y="1160.4" font-size="15.3" text-anchor="middle">Toilet</text>
<text x="1993.3" y="1170.6" font-size="11.2" text-anchor="middle" class="i" letter-spacing="0.45">5'1.5&quot;x7'7&quot;</text>
<text x="1980.7" y="1214.2" font-size="9.7" text-anchor="middle" textLength="8.4" lengthAdjust="spacingAndGlyphs">D2</text>
<text x="2050.0" y="1158.0" font-size="8.3" text-anchor="middle" textLength="4.6" lengthAdjust="spacingAndGlyphs">V</text>
<text x="1980.7" y="1248.1" font-size="15.3" text-anchor="middle">M.Bed Room</text>
<text x="1980.7" y="1262.2" font-size="11.2" text-anchor="middle" class="i" letter-spacing="0.45">11'-0&quot;x10'-5.5&quot;</text>
<text x="1907.3" y="1227.5" font-size="9.7" text-anchor="middle" textLength="8.4" lengthAdjust="spacingAndGlyphs">D1</text>
<text x="1867.3" y="1277.6" font-size="12.4" text-anchor="middle" transform="rotate(-90 1867.3 1273.3)">W1</text>
<text x="1834.3" y="1238.2" font-size="11.2" text-anchor="middle" class="i" letter-spacing="0.45">5'9&quot;</text>
<text x="1691.7" y="1254.7" font-size="15.3" text-anchor="middle">Bed Room -2</text>
<text x="1691.7" y="1267.2" font-size="11.2" text-anchor="middle" class="i" letter-spacing="0.45">11'-0&quot;x10'-2.5&quot;</text>
<text x="1780.7" y="1329.3" font-size="12.4" text-anchor="middle">W1</text>
<text x="1632.3" y="1369.2" font-size="9.7" text-anchor="middle" textLength="8.4" lengthAdjust="spacingAndGlyphs">D1</text>
<text x="1536.0" y="1235.4" font-size="15.3" text-anchor="middle">Balcony</text>
<text x="1536.0" y="1245.6" font-size="11.2" text-anchor="middle" class="i" letter-spacing="0.45">10'-0&quot;x3'-6&quot;</text>
<text x="1535.0" y="1286.5" font-size="11.6" text-anchor="middle" textLength="10.0" lengthAdjust="spacingAndGlyphs">FW</text>
<text x="2104.0" y="1098.9" font-size="11.2" text-anchor="middle" class="i" letter-spacing="0.45">10'4&quot;</text>
<text x="2050.0" y="1208.9" font-size="11.2" text-anchor="middle" class="i" letter-spacing="0.45" transform="rotate(-90 2050.0 1205.0)">15'4.5&quot;</text>
<text x="2131.7" y="1218.9" font-size="11.2" text-anchor="middle" class="i" letter-spacing="0.45" transform="rotate(-90 2131.7 1215.0)">10'8&quot;</text>
<text x="2096.7" y="1292.2" font-size="11.2" text-anchor="middle" class="i" letter-spacing="0.45">7'4&quot;</text>
<text x="2171.7" y="1124.0" font-size="8.3" text-anchor="middle" textLength="4.6" lengthAdjust="spacingAndGlyphs">V</text>
<text x="2131.0" y="1191.3" font-size="8.3" text-anchor="middle" textLength="4.6" lengthAdjust="spacingAndGlyphs">V</text>
<text x="2063.3" y="1291.3" font-size="8.3" text-anchor="middle" textLength="4.6" lengthAdjust="spacingAndGlyphs">V</text>
<text x="2134.3" y="1269.3" font-size="12.4" text-anchor="middle" transform="rotate(-90 2134.3 1265.0)">W1</text>
<text x="2263.3" y="1121.4" font-size="15.3" text-anchor="middle">Toilet</text>
<text x="2263.3" y="1133.2" font-size="11.2" text-anchor="middle" class="i" letter-spacing="0.45">8'0&quot;x4'8&quot;</text>
<text x="2281.0" y="1166.8" font-size="9.7" text-anchor="middle" textLength="8.4" lengthAdjust="spacingAndGlyphs">D2</text>
<text x="2180.0" y="1210.4" font-size="15.3" text-anchor="middle">Toilet</text>
<text x="2180.0" y="1222.2" font-size="11.2" text-anchor="middle" class="i" letter-spacing="0.45">6'6&quot;x5'0&quot;</text>
<text x="2220.0" y="1225.2" font-size="9.7" text-anchor="middle" textLength="8.4" lengthAdjust="spacingAndGlyphs">D2</text>
<text x="2256.0" y="1350.4" font-size="15.3" text-anchor="middle">M.Bed Room</text>
<text x="2256.0" y="1362.2" font-size="11.2" text-anchor="middle" class="i" letter-spacing="0.45">11'-0&quot;x10'-0&quot;</text>
<text x="2269.0" y="1238.5" font-size="9.7" text-anchor="middle" textLength="8.4" lengthAdjust="spacingAndGlyphs">D1</text>
<text x="2315.7" y="1337.3" font-size="6.5" text-anchor="middle" transform="rotate(-90 2315.7 1335.0)">Fridge</text>
<text x="2075.0" y="1354.4" font-size="15.3" text-anchor="middle">C-Toilet</text>
<text x="2075.0" y="1365.6" font-size="11.2" text-anchor="middle" class="i" letter-spacing="0.45">7'4&quot;x4'8&quot;</text>
<text x="2120.0" y="1385.8" font-size="9.7" text-anchor="middle" textLength="8.4" lengthAdjust="spacingAndGlyphs">D2</text>
<text x="2006.7" y="1389.2" font-size="12.0" text-anchor="middle" class="i" letter-spacing="0.45">shelf</text>
<text x="2250.0" y="1388.9" font-size="11.2" text-anchor="middle" class="i" letter-spacing="0.45">5'8.5&quot;</text>
<text x="2310.0" y="1382.5" font-size="12.0" text-anchor="middle" class="i" letter-spacing="0.45" transform="rotate(-90 2310.0 1378.3)">shelf</text>
<text x="2336.7" y="1094.5" font-size="10.6" text-anchor="middle" textLength="9.1" lengthAdjust="spacingAndGlyphs">MD</text>
<text x="2433.3" y="1084.8" font-size="8.8" text-anchor="middle" class="i" letter-spacing="0.45">D.B</text>
<text x="2329.3" y="1158.2" font-size="26.2" text-anchor="middle">6</text>
<text x="2329.3" y="1183.7" font-size="14.4" text-anchor="middle" class="i" letter-spacing="0.45">2B+2T</text>
<text x="2372.7" y="1226.1" font-size="15.3" text-anchor="middle">Living / dining</text>
<text x="2372.7" y="1241.2" font-size="11.2" text-anchor="middle" class="i" letter-spacing="0.45">10'-7'x19'-3&quot;</text>
<text x="2372.3" y="1260.6" font-size="18.9" text-anchor="middle">913 sqft.</text>
<text x="2315.0" y="1337.3" font-size="6.5" text-anchor="middle" transform="rotate(-90 2315.0 1335.0)">Fridge</text>
<text x="2449.3" y="1205.8" font-size="9.7" text-anchor="middle" textLength="8.4" lengthAdjust="spacingAndGlyphs">D1</text>
<text x="2560.0" y="1116.4" font-size="15.3" text-anchor="middle">Bed Room</text>
<text x="2560.0" y="1129.9" font-size="11.2" text-anchor="middle" class="i" letter-spacing="0.45">13'-7.5&quot;x10'-0'</text>
<text x="2656.0" y="1139.3" font-size="12.4" text-anchor="middle">W1</text>
<text x="2732.3" y="1181.8" font-size="14.5" text-anchor="middle">Ots</text>
<text x="2736.7" y="1101.2" font-size="11.2" text-anchor="middle" class="i" letter-spacing="0.45">12'6&quot;</text>
<text x="2805.7" y="1172.2" font-size="11.2" text-anchor="middle" class="i" letter-spacing="0.45" transform="rotate(-90 2805.7 1168.3)">13'4.5&quot;</text>
<text x="2519.0" y="1300.1" font-size="14.5" text-anchor="middle">Ots</text>
<text x="2539.3" y="1244.6" font-size="11.2" text-anchor="middle" class="i" letter-spacing="0.45">16'0.5&quot;</text>
<text x="2487.3" y="1347.2" font-size="11.2" text-anchor="middle" class="i" letter-spacing="0.45">7'6&quot;</text>
<text x="2465.7" y="1328.9" font-size="11.2" text-anchor="middle" class="i" letter-spacing="0.45" transform="rotate(-90 2465.7 1325.0)">8'0.5&quot;</text>
<text x="2469.0" y="1297.0" font-size="12.4" text-anchor="middle" transform="rotate(90 2469.0 1292.7)">W1</text>
<text x="2611.0" y="1287.5" font-size="10.1" text-anchor="middle" class="bi">1m height Railing</text>
<text x="2871.0" y="1238.1" font-size="15.3" text-anchor="middle">Stairs</text>
<text x="2871.0" y="1251.6" font-size="11.2" text-anchor="middle" class="i" letter-spacing="0.45">8'0&quot;x14'0&quot;</text>
<text x="3078.3" y="1129.4" font-size="14.5" text-anchor="middle">Ots</text>
<text x="3072.3" y="1100.6" font-size="11.2" text-anchor="middle" class="i" letter-spacing="0.45">18'1&quot;</text>
<text x="3093.3" y="1379.4" font-size="14.5" text-anchor="middle">Open Terrace</text>
<text x="2911.7" y="1291.2" font-size="11.2" text-anchor="middle" class="i" letter-spacing="0.45">4'3&quot;</text>
<text x="2901.7" y="1372.8" font-size="14.5" text-anchor="middle">Ots</text>
<text x="2933.3" y="1373.9" font-size="11.2" text-anchor="middle" class="i" letter-spacing="0.45" transform="rotate(-90 2933.3 1370.0)">13'1.5&quot;</text>
<text x="2893.3" y="1415.6" font-size="11.2" text-anchor="middle" class="i" letter-spacing="0.45" transform="rotate(-90 2893.3 1411.7)">22'10.5&quot;</text>
<text x="2976.7" y="1468.9" font-size="11.2" text-anchor="middle" class="i" letter-spacing="0.45">4'11&quot;</text>
<text x="2633.3" y="1477.4" font-size="14.5" text-anchor="middle">Conference Hall/Amphi theatre</text>
<text x="2310.0" y="1382.5" font-size="12.0" text-anchor="middle" class="i" letter-spacing="0.45" transform="rotate(-90 2310.0 1378.3)">shelf</text>
<text x="2347.3" y="1408.7" font-size="15.3" text-anchor="middle" transform="rotate(-90 2347.3 1403.3)">Kitchen</text>
<text x="2363.3" y="1407.2" font-size="11.2" text-anchor="middle" class="i" letter-spacing="0.45" transform="rotate(-90 2363.3 1403.3)">7'-10.5&quot;x7'-8.5&quot;</text>
<text x="2340.7" y="1483.7" font-size="15.3" text-anchor="middle">Service</text>
<text x="2340.7" y="1494.2" font-size="11.2" text-anchor="middle" class="i" letter-spacing="0.45">7'-10.5&quot;x3'-8&quot;</text>
<text x="3187.3" y="1130.6" font-size="11.2" text-anchor="middle" class="i" letter-spacing="0.45" transform="rotate(-90 3187.3 1126.7)">5'4&quot;</text>
<text x="3241.7" y="1179.2" font-size="9.7" text-anchor="middle" textLength="8.4" lengthAdjust="spacingAndGlyphs">D3</text>
<text x="3567.7" y="1176.2" font-size="9.7" text-anchor="middle" textLength="8.4" lengthAdjust="spacingAndGlyphs">D3</text>
<text x="3482.3" y="1400.8" font-size="14.5" text-anchor="middle">Open Terrace</text>
<text x="3309.0" y="1330.6" font-size="11.2" text-anchor="middle" class="i" letter-spacing="0.45">8'4&quot;</text>
<text x="3260.0" y="1387.2" font-size="11.2" text-anchor="middle" class="i" letter-spacing="0.45" transform="rotate(-90 3260.0 1383.3)">9'6&quot;</text>
<text x="3267.3" y="1444.9" font-size="11.2" text-anchor="middle" class="i" letter-spacing="0.45">2'0&quot;</text>
<text x="3315.0" y="1457.8" font-size="14.5" text-anchor="middle">Ots</text>
<text x="3356.7" y="1457.2" font-size="11.2" text-anchor="middle" class="i" letter-spacing="0.45" transform="rotate(-90 3356.7 1453.3)">19'10&quot;</text>
<text x="3285.7" y="1495.6" font-size="11.2" text-anchor="middle" class="i" letter-spacing="0.45" transform="rotate(-90 3285.7 1491.7)">10'5&quot;</text>
<text x="3644.0" y="1267.4" font-size="14.5" text-anchor="middle">Ots</text>
<text x="3644.0" y="1278.9" font-size="11.2" text-anchor="middle" class="i" letter-spacing="0.45">6'6&quot;x13'7&quot;</text>
<text x="3674.0" y="1235.0" font-size="12.4" text-anchor="middle">KW</text>
<text x="3680.7" y="1321.3" font-size="8.3" text-anchor="middle" textLength="4.6" lengthAdjust="spacingAndGlyphs">V</text>
<text x="3774.0" y="1278.2" font-size="12.0" text-anchor="middle" class="i" letter-spacing="0.45">shelf</text>
<text x="3764.3" y="1318.1" font-size="15.3" text-anchor="middle">C-Toilet</text>
<text x="3764.3" y="1330.6" font-size="11.2" text-anchor="middle" class="i" letter-spacing="0.45">7'8&quot;x5'0&quot;</text>
<text x="3792.7" y="1339.5" font-size="9.7" text-anchor="middle" textLength="8.4" lengthAdjust="spacingAndGlyphs">D2</text>
<text x="3851.7" y="1300.6" font-size="6.5" text-anchor="middle">Fridge</text>
<text x="3791.7" y="1398.7" font-size="15.3" text-anchor="middle">M.Bed Room</text>
<text x="3791.7" y="1412.2" font-size="11.2" text-anchor="middle" class="i" letter-spacing="0.45">11'6&quot;x12'0&quot;</text>
<text x="3830.0" y="1361.8" font-size="9.7" text-anchor="middle" textLength="8.4" lengthAdjust="spacingAndGlyphs">D1</text>
<text x="3729.3" y="1543.3" font-size="12.4" text-anchor="middle">W1</text>
<text x="3890.7" y="1390.4" font-size="15.3" text-anchor="middle">M-Toilet</text>
<text x="3893.3" y="1423.9" font-size="11.2" text-anchor="middle" class="i" letter-spacing="0.45">4'8&quot;x7'0&quot;</text>
<text x="3861.7" y="1415.2" font-size="9.7" text-anchor="middle" textLength="8.4" lengthAdjust="spacingAndGlyphs">D2</text>
<text x="3892.7" y="1491.8" font-size="14.5" text-anchor="middle">Duct</text>
<text x="3892.7" y="1502.2" font-size="11.2" text-anchor="middle" class="i" letter-spacing="0.45">4'8&quot;x4'0&quot;</text>
<text x="3892.7" y="1476.9" font-size="7.2" text-anchor="middle" textLength="4.0" lengthAdjust="spacingAndGlyphs">V</text>
<text x="3924.3" y="1289.2" font-size="26.2" text-anchor="middle">5</text>
<text x="3925.0" y="1313.3" font-size="14.4" text-anchor="middle" class="i" letter-spacing="0.45">3B+2T</text>
<text x="4037.0" y="1332.1" font-size="15.3" text-anchor="middle">Dining</text>
<text x="4037.0" y="1345.6" font-size="11.2" text-anchor="middle" class="i" letter-spacing="0.45">7'0.5&quot;x9'4&quot;</text>
<text x="4133.3" y="1297.1" font-size="15.3" text-anchor="middle" transform="rotate(-90 4133.3 1291.7)">Balcony</text>
<text x="4149.3" y="1295.6" font-size="11.2" text-anchor="middle" class="i" letter-spacing="0.45" transform="rotate(-90 4149.3 1291.7)">9'8&quot;x4'0&quot;</text>
<text x="4117.0" y="1295.9" font-size="11.6" text-anchor="middle" textLength="10.0" lengthAdjust="spacingAndGlyphs">FW</text>
<text x="4190.3" y="1264.5" font-size="10.1" text-anchor="middle" class="bi" transform="rotate(-90 4190.3 1261.0)">1m height Railing</text>
<text x="3956.0" y="1361.8" font-size="9.7" text-anchor="middle" textLength="8.4" lengthAdjust="spacingAndGlyphs">D1</text>
<text x="3998.7" y="1405.4" font-size="15.3" text-anchor="middle">Bed Room-2</text>
<text x="3998.7" y="1418.2" font-size="11.2" text-anchor="middle" class="i" letter-spacing="0.45">9'0&quot;x12'0&quot;</text>
<text x="4077.0" y="1446.0" font-size="12.4" text-anchor="middle">W1</text>
<text x="3711.0" y="1586.8" font-size="14.5" text-anchor="middle">Ots</text>
<text x="3711.0" y="1601.6" font-size="11.2" text-anchor="middle" class="i" letter-spacing="0.45">7'5&quot;x10'0&quot;</text>
<text x="3674.3" y="1559.0" font-size="8.3" text-anchor="middle" textLength="4.6" lengthAdjust="spacingAndGlyphs">V</text>
<text x="3752.7" y="1576.3" font-size="8.3" text-anchor="middle" textLength="4.6" lengthAdjust="spacingAndGlyphs">V</text>
<text x="3729.3" y="1543.3" font-size="12.4" text-anchor="middle">W1</text>
<text x="3808.7" y="1578.7" font-size="15.3" text-anchor="middle">Toilet</text>
<text x="3808.7" y="1591.6" font-size="11.2" text-anchor="middle" class="i" letter-spacing="0.45">5'2&quot;x7'2&quot;</text>
<text x="3841.7" y="1593.5" font-size="9.7" text-anchor="middle" textLength="8.4" lengthAdjust="spacingAndGlyphs">D2</text>
<text x="3952.0" y="1598.1" font-size="15.3" text-anchor="middle">Bed Room -2</text>
<text x="3952.0" y="1609.9" font-size="11.2" text-anchor="middle" class="i" letter-spacing="0.45">13'10&quot;x11'0&quot;</text>
<text x="3789.3" y="1671.2" font-size="9.7" text-anchor="middle" textLength="8.4" lengthAdjust="spacingAndGlyphs">D1</text>
<text x="4051.0" y="1579.3" font-size="12.4" text-anchor="middle">W1</text>
<text x="3746.0" y="1722.6" font-size="18.9" text-anchor="middle">1449 sqft.</text>
<text x="3572.7" y="1682.1" font-size="10.6" text-anchor="middle" textLength="9.1" lengthAdjust="spacingAndGlyphs">MD</text>
<text x="3573.3" y="1726.1" font-size="15.3" text-anchor="middle">Foyer</text>
<text x="3573.3" y="1738.2" font-size="11.2" text-anchor="middle" class="i" letter-spacing="0.45">8'-4&quot;x5'-0&quot;</text>
<text x="3636.7" y="1704.9" font-size="26.2" text-anchor="middle">10</text>
<text x="3636.3" y="1729.7" font-size="14.4" text-anchor="middle" class="i" letter-spacing="0.45">3B+3T</text>
<text x="3610.0" y="1783.7" font-size="15.3" text-anchor="middle">M-Toilet</text>
<text x="3610.0" y="1796.2" font-size="11.2" text-anchor="middle" class="i" letter-spacing="0.45">7'-8&quot;x4'-8&quot;</text>
<text x="3597.3" y="1823.5" font-size="9.7" text-anchor="middle" textLength="8.4" lengthAdjust="spacingAndGlyphs">D2</text>
<text x="3528.3" y="1776.3" font-size="8.3" text-anchor="middle" textLength="4.6" lengthAdjust="spacingAndGlyphs">V</text>
<text x="3548.3" y="1851.1" font-size="15.3" text-anchor="middle">M.Bed Room</text>
<text x="3548.3" y="1864.9" font-size="11.2" text-anchor="middle" class="i" letter-spacing="0.45">12'-7&quot;x12'-0&quot;</text>
<text x="3654.3" y="1851.2" font-size="9.7" text-anchor="middle" textLength="8.4" lengthAdjust="spacingAndGlyphs">D1</text>
<text x="3670.3" y="1947.6" font-size="6.5" text-anchor="middle" transform="rotate(-90 3670.3 1945.3)">Fridge</text>
<text x="3746.0" y="1835.4" font-size="15.3" text-anchor="middle">Living/Dining</text>
<text x="3746.0" y="1847.9" font-size="11.2" text-anchor="middle" class="i" letter-spacing="0.45">12'-0&quot;x21'-1&quot;</text>
<text x="3739.0" y="1994.7" font-size="15.3" text-anchor="middle">Balcony</text>
<text x="3739.0" y="2010.6" font-size="11.2" text-anchor="middle" class="i" letter-spacing="0.45">12'-0&quot;x4'-0&quot;</text>
<text x="3739.0" y="1981.5" font-size="11.6" text-anchor="middle" textLength="10.0" lengthAdjust="spacingAndGlyphs">FW</text>
<text x="3764.3" y="2041.8" font-size="10.1" text-anchor="middle" class="bi">1m height Railing</text>
<text x="3868.3" y="1721.4" font-size="15.3" text-anchor="middle" transform="rotate(-90 3868.3 1716.0)">Bed Room-3</text>
<text x="3882.7" y="1719.9" font-size="11.2" text-anchor="middle" class="i" letter-spacing="0.45" transform="rotate(-90 3882.7 1716.0)">12'-5&quot;x9'-0&quot;</text>
<text x="4013.3" y="1734.3" font-size="12.4" text-anchor="middle">W1</text>
<text x="3847.7" y="1796.2" font-size="9.7" text-anchor="middle" textLength="8.4" lengthAdjust="spacingAndGlyphs">D1</text>
<text x="3884.3" y="1820.2" font-size="9.7" text-anchor="middle" textLength="8.4" lengthAdjust="spacingAndGlyphs">D2</text>
<text x="3922.3" y="1829.7" font-size="15.3" text-anchor="middle">C-Toilet</text>
<text x="3922.3" y="1842.2" font-size="11.2" text-anchor="middle" class="i" letter-spacing="0.45">8'-0&quot;x4'-0&quot;</text>
<text x="4012.7" y="1827.3" font-size="8.3" text-anchor="middle" textLength="4.6" lengthAdjust="spacingAndGlyphs">V</text>
<text x="3848.3" y="1873.0" font-size="6.5" text-anchor="middle">Fridge</text>
<text x="3906.7" y="1865.9" font-size="12.0" text-anchor="middle" class="i" letter-spacing="0.45">Shelf</text>
<text x="3874.3" y="1926.1" font-size="15.3" text-anchor="middle">Kitchen</text>
<text x="3874.3" y="1937.2" font-size="11.2" text-anchor="middle" class="i" letter-spacing="0.45">8'-2&quot;x9'-8.5&quot;</text>
<text x="3888.3" y="2012.0" font-size="12.4" text-anchor="middle">KW</text>
<text x="3965.0" y="1926.4" font-size="15.3" text-anchor="middle" transform="rotate(-90 3965.0 1921.0)">Service</text>
<text x="3978.3" y="1924.9" font-size="11.2" text-anchor="middle" class="i" letter-spacing="0.45" transform="rotate(-90 3978.3 1921.0)">10'-0.5&quot;x4'-3&quot;</text>
<text x="4033.3" y="1881.8" font-size="10.1" text-anchor="middle" class="bi" transform="rotate(-90 4033.3 1878.3)">1m height Railing</text>
<text x="2789.3" y="1682.1" font-size="10.6" text-anchor="middle" textLength="9.1" lengthAdjust="spacingAndGlyphs">MD</text>
<text x="2776.7" y="1742.5" font-size="26.2" text-anchor="middle">12</text>
<text x="2776.0" y="1767.3" font-size="14.4" text-anchor="middle" class="i" letter-spacing="0.45">2B+2T</text>
<text x="2816.7" y="1775.2" font-size="9.7" text-anchor="middle" textLength="8.4" lengthAdjust="spacingAndGlyphs">D1</text>
<text x="2912.3" y="1777.7" font-size="15.3" text-anchor="middle">Bed Room-2</text>
<text x="2912.3" y="1789.9" font-size="11.2" text-anchor="middle" class="i" letter-spacing="0.45">13'-3&quot;x9'-0&quot;</text>
<text x="2810.7" y="1827.5" font-size="9.7" text-anchor="middle" textLength="8.4" lengthAdjust="spacingAndGlyphs">D2</text>
<text x="2861.0" y="1836.1" font-size="15.3" text-anchor="middle">C-Toilet</text>
<text x="2861.0" y="1849.6" font-size="11.2" text-anchor="middle" class="i" letter-spacing="0.45">8'-3&quot;x4'-8&quot;</text>
<text x="2950.0" y="1839.0" font-size="8.3" text-anchor="middle" textLength="4.6" lengthAdjust="spacingAndGlyphs">V</text>
<text x="2968.3" y="1823.3" font-size="12.4" text-anchor="middle">W1</text>
<text x="2873.3" y="1884.2" font-size="12.0" text-anchor="middle" class="i" letter-spacing="0.45">Shelf</text>
<text x="2866.7" y="1908.1" font-size="15.3" text-anchor="middle">Kitchen</text>
<text x="2866.7" y="1920.6" font-size="11.2" text-anchor="middle" class="i" letter-spacing="0.45">8'-7&quot;x6'-5&quot;</text>
<text x="2956.0" y="1918.3" font-size="12.4" text-anchor="middle">KW</text>
<text x="2800.7" y="1948.0" font-size="6.5" text-anchor="middle" transform="rotate(90 2800.7 1945.7)">Fridge</text>
<text x="2877.3" y="1998.1" font-size="15.3" text-anchor="middle">Service</text>
<text x="2877.3" y="2009.9" font-size="11.2" text-anchor="middle" class="i" letter-spacing="0.45">8'-11&quot;x4'-0&quot;</text>
<text x="2731.0" y="1983.2" font-size="11.6" text-anchor="middle" textLength="10.0" lengthAdjust="spacingAndGlyphs">FW</text>
<text x="2771.7" y="2042.8" font-size="10.1" text-anchor="middle" class="bi">1m height Railing</text>
<text x="3046.0" y="1732.4" font-size="14.5" text-anchor="middle">OTS</text>
<text x="3046.0" y="1743.2" font-size="11.2" text-anchor="middle" class="i" letter-spacing="0.45">4'-4&quot;x9'-0&quot;</text>
<text x="3067.7" y="1732.3" font-size="8.3" text-anchor="middle" textLength="4.6" lengthAdjust="spacingAndGlyphs">V</text>
<text x="3112.3" y="1749.7" font-size="15.3" text-anchor="middle">M-Toilet</text>
<text x="3112.3" y="1762.2" font-size="11.2" text-anchor="middle" class="i" letter-spacing="0.45">4'-8&quot;x9'-0&quot;</text>
<text x="3106.7" y="1804.2" font-size="9.7" text-anchor="middle" textLength="8.4" lengthAdjust="spacingAndGlyphs">D2</text>
<text x="3087.7" y="1844.7" font-size="15.3" text-anchor="middle">M.Bed Room</text>
<text x="3087.7" y="1858.9" font-size="11.2" text-anchor="middle" class="i" letter-spacing="0.45">10'-0&quot;x14'-0&quot;</text>
<text x="3152.3" y="1832.5" font-size="9.7" text-anchor="middle" textLength="8.4" lengthAdjust="spacingAndGlyphs">D1</text>
<text x="3166.7" y="1671.4" font-size="8.8" text-anchor="middle" class="i" letter-spacing="0.45">D.B</text>
<text x="3261.0" y="1679.8" font-size="10.6" text-anchor="middle" textLength="9.1" lengthAdjust="spacingAndGlyphs">MD</text>
<text x="3260.0" y="1741.9" font-size="26.2" text-anchor="middle">11</text>
<text x="3259.3" y="1766.3" font-size="14.4" text-anchor="middle" class="i" letter-spacing="0.45">2B+2T</text>
<text x="3234.0" y="1799.3" font-size="18.9" text-anchor="middle">991 sqft.</text>
<text x="3217.3" y="1824.4" font-size="15.3" text-anchor="middle">Living/Dining</text>
<text x="3217.3" y="1837.9" font-size="11.2" text-anchor="middle" class="i" letter-spacing="0.45">10'-0&quot;x21'-1&quot;</text>
<text x="3280.0" y="1948.0" font-size="6.5" text-anchor="middle" transform="rotate(90 3280.0 1945.7)">Fridge</text>
<text x="3225.7" y="1999.4" font-size="15.3" text-anchor="middle">Balcony</text>
<text x="3225.7" y="2012.2" font-size="11.2" text-anchor="middle" class="i" letter-spacing="0.45">10'-0&quot;x4'-0&quot;</text>
<text x="3222.7" y="1983.2" font-size="11.6" text-anchor="middle" textLength="10.0" lengthAdjust="spacingAndGlyphs">FW</text>
<text x="3250.7" y="2042.8" font-size="10.1" text-anchor="middle" class="bi">1m height Railing</text>
<text x="3364.3" y="1694.7" font-size="15.3" text-anchor="middle">Bed Room-2</text>
<text x="3364.3" y="1708.2" font-size="11.2" text-anchor="middle" class="i" letter-spacing="0.45">13'-2&quot;x9'-0&quot;</text>
<text x="3297.7" y="1775.2" font-size="9.7" text-anchor="middle" textLength="8.4" lengthAdjust="spacingAndGlyphs">D1</text>
<text x="3300.0" y="1827.5" font-size="9.7" text-anchor="middle" textLength="8.4" lengthAdjust="spacingAndGlyphs">D2</text>
<text x="3341.0" y="1838.1" font-size="15.3" text-anchor="middle">C-Toilet</text>
<text x="3341.0" y="1851.2" font-size="11.2" text-anchor="middle" class="i" letter-spacing="0.45">8'-1&quot;x4'-8&quot;</text>
<text x="3429.3" y="1838.0" font-size="8.3" text-anchor="middle" textLength="4.6" lengthAdjust="spacingAndGlyphs">V</text>
<text x="3448.3" y="1817.6" font-size="12.4" text-anchor="middle">W1</text>
<text x="3350.0" y="1884.2" font-size="12.0" text-anchor="middle" class="i" letter-spacing="0.45">Shelf</text>
<text x="3349.0" y="1907.1" font-size="15.3" text-anchor="middle">Kitchen</text>
<text x="3349.0" y="1919.9" font-size="11.2" text-anchor="middle" class="i" letter-spacing="0.45">8'-5&quot;x6'-5&quot;</text>
<text x="3431.7" y="1918.3" font-size="12.4" text-anchor="middle">KW</text>
<text x="3355.7" y="1996.4" font-size="15.3" text-anchor="middle">Service</text>
<text x="3355.7" y="2008.9" font-size="11.2" text-anchor="middle" class="i" letter-spacing="0.45">8'-4&quot;x4'-0&quot;</text>
<text x="3513.3" y="1741.8" font-size="14.5" text-anchor="middle">OTS</text>
<text x="3513.3" y="1756.6" font-size="11.2" text-anchor="middle" class="i" letter-spacing="0.45">4'0&quot;x10'5&quot;</text>
<text x="3528.3" y="1775.3" font-size="8.3" text-anchor="middle" textLength="4.6" lengthAdjust="spacingAndGlyphs">V</text>
<text x="2515.0" y="1637.1" font-size="13.8" text-anchor="middle" textLength="51.7" lengthAdjust="spacingAndGlyphs">BLOCK-2</text>
<text x="1942.7" y="1687.2" font-size="11.2" text-anchor="middle" class="i" letter-spacing="0.45">14'-5.5&quot;</text>
<text x="1935.7" y="1725.1" font-size="14.5" text-anchor="middle">OTS</text>
<text x="2041.0" y="1691.4" font-size="8.8" text-anchor="middle" class="i" letter-spacing="0.45" transform="rotate(-90 2041.0 1688.3)">D.B</text>
<text x="2071.7" y="1682.8" font-size="10.6" text-anchor="middle" textLength="9.1" lengthAdjust="spacingAndGlyphs">MD</text>
<text x="2079.7" y="1745.2" font-size="26.2" text-anchor="middle">13</text>
<text x="2079.3" y="1769.7" font-size="14.4" text-anchor="middle" class="i" letter-spacing="0.45">2B+2T</text>
<text x="2130.0" y="1794.4" font-size="15.3" text-anchor="middle">Living</text>
<text x="2130.0" y="1812.2" font-size="11.2" text-anchor="middle" class="i" letter-spacing="0.45">12'-0&quot;x12'-4&quot;</text>
<text x="2134.0" y="1838.3" font-size="18.9" text-anchor="middle">1037 sqft.</text>
<text x="2121.0" y="1890.4" font-size="15.3" text-anchor="middle">Dining</text>
<text x="2121.0" y="1906.6" font-size="11.2" text-anchor="middle" class="i" letter-spacing="0.45">10'-0&quot;x8'-9&quot;</text>
<text x="1920.7" y="1823.7" font-size="15.3" text-anchor="middle">M-Toilet</text>
<text x="1920.7" y="1835.6" font-size="11.2" text-anchor="middle" class="i" letter-spacing="0.45">8'-0&quot;x5'-0&quot;</text>
<text x="1963.3" y="1844.5" font-size="9.7" text-anchor="middle" textLength="8.4" lengthAdjust="spacingAndGlyphs">D2</text>
<text x="2015.0" y="1849.5" font-size="9.7" text-anchor="middle" textLength="8.4" lengthAdjust="spacingAndGlyphs">D1</text>
<text x="1951.7" y="1966.4" font-size="15.3" text-anchor="middle">M.Bed Room</text>
<text x="1951.7" y="1979.6" font-size="11.2" text-anchor="middle" class="i" letter-spacing="0.45">12'-1.5&quot;x10'-4.5&quot;</text>
<text x="2119.3" y="1997.1" font-size="15.3" text-anchor="middle">Balcony</text>
<text x="2119.3" y="2009.9" font-size="11.2" text-anchor="middle" class="i" letter-spacing="0.45">10'-0&quot;x4'-0&quot;</text>
<text x="2114.3" y="1982.5" font-size="11.6" text-anchor="middle" textLength="10.0" lengthAdjust="spacingAndGlyphs">FW</text>
<text x="2142.3" y="2041.8" font-size="10.1" text-anchor="middle" class="bi">1m height Railing</text>
<text x="2303.3" y="1775.4" font-size="15.3" text-anchor="middle">Bed Room-2</text>
<text x="2303.3" y="1788.2" font-size="11.2" text-anchor="middle" class="i" letter-spacing="0.45">11'-0&quot;x9'-10&quot;</text>
<text x="2237.3" y="1814.2" font-size="9.7" text-anchor="middle" textLength="8.4" lengthAdjust="spacingAndGlyphs">D1</text>
<text x="2383.3" y="1784.3" font-size="12.4" text-anchor="middle">W1</text>
<text x="2308.3" y="1845.4" font-size="15.3" text-anchor="middle">C-Toilet</text>
<text x="2308.3" y="1857.9" font-size="11.2" text-anchor="middle" class="i" letter-spacing="0.45">7'-0&quot;x4'-6&quot;</text>
<text x="2267.3" y="1852.5" font-size="9.7" text-anchor="middle" textLength="8.4" lengthAdjust="spacingAndGlyphs">D2</text>
<text x="2347.7" y="1895.7" font-size="8.3" text-anchor="middle" textLength="4.6" lengthAdjust="spacingAndGlyphs">V</text>
<text x="2217.3" y="1892.3" font-size="6.5" text-anchor="middle">Fridge</text>
<text x="2262.3" y="1888.5" font-size="12.0" text-anchor="middle" class="i" letter-spacing="0.45">Shelf</text>
<text x="2252.3" y="1918.7" font-size="15.3" text-anchor="middle">Kitchen</text>
<text x="2252.3" y="1931.2" font-size="11.2" text-anchor="middle" class="i" letter-spacing="0.45">10'-0&quot;x6'-6&quot;</text>
<text x="2344.3" y="1923.3" font-size="12.4" text-anchor="middle">KW</text>
<text x="2264.3" y="1995.4" font-size="15.3" text-anchor="middle">Service</text>
<text x="2264.3" y="2008.2" font-size="11.2" text-anchor="middle" class="i" letter-spacing="0.45">10'-4&quot;x3'-6&quot;</text>
<text x="2404.3" y="1702.7" font-size="15.3" text-anchor="middle">Lift</text>
<text x="2404.3" y="1715.6" font-size="11.2" text-anchor="middle" class="i" letter-spacing="0.45">5'7.5&quot;x5'1.5&quot;</text>
<text x="2510.0" y="1818.7" font-size="15.3" text-anchor="middle">Stairs</text>
<text x="2510.0" y="1832.2" font-size="11.2" text-anchor="middle" class="i" letter-spacing="0.45">8'0&quot;x14'0&quot;</text>
<text x="2607.3" y="1709.4" font-size="14.5" text-anchor="middle">OTS</text>
<text x="2607.3" y="1720.6" font-size="11.2" text-anchor="middle" class="i" letter-spacing="0.45">5'-0&quot;x5'-0.5&quot;</text>
<text x="2606.0" y="1736.9" font-size="7.2" text-anchor="middle" textLength="4.0" lengthAdjust="spacingAndGlyphs">V</text>
<text x="2604.3" y="1812.1" font-size="15.3" text-anchor="middle">M-Toilet</text>
<text x="2604.3" y="1823.9" font-size="11.2" text-anchor="middle" class="i" letter-spacing="0.45">5'-0&quot;x7'-8&quot;</text>
<text x="2593.3" y="1851.2" font-size="9.7" text-anchor="middle" textLength="8.4" lengthAdjust="spacingAndGlyphs">D2</text>
<text x="2553.3" y="1882.7" font-size="15.3" text-anchor="middle">M.Bed Room</text>
<text x="2553.3" y="1896.2" font-size="11.2" text-anchor="middle" class="i" letter-spacing="0.45">14'-0&quot;x10'-0&quot;</text>
<text x="2642.7" y="1890.8" font-size="9.7" text-anchor="middle" textLength="8.4" lengthAdjust="spacingAndGlyphs">D1</text>
<text x="2665.0" y="1671.4" font-size="8.8" text-anchor="middle" class="i" letter-spacing="0.45">D.B</text>
<text x="2725.0" y="1708.3" font-size="18.9" text-anchor="middle">1065 sqft.</text>
<text x="2733.3" y="1833.7" font-size="15.3" text-anchor="middle">Living/Dining</text>
<text x="2733.3" y="1849.6" font-size="11.2" text-anchor="middle" class="i" letter-spacing="0.45">12'-0&quot;x21'-1&quot;</text>
<text x="2737.7" y="1998.1" font-size="15.3" text-anchor="middle">Balcony</text>
<text x="2737.7" y="2010.6" font-size="11.2" text-anchor="middle" class="i" letter-spacing="0.45">12'-0&quot;x4'-0&quot;</text>
<text x="1111.7" y="1692.0" font-size="12.4" text-anchor="middle">KW</text>
<text x="1199.3" y="1674.7" font-size="15.3" text-anchor="middle">Kitchen</text>
<text x="1199.3" y="1687.2" font-size="11.2" text-anchor="middle" class="i" letter-spacing="0.45">9'-3&quot;x6'-0&quot;</text>
<text x="1253.3" y="1683.2" font-size="12.0" text-anchor="middle" class="i" letter-spacing="0.45" transform="rotate(-90 1253.3 1679.0)">shelf</text>
<text x="1087.3" y="1792.1" font-size="15.3" text-anchor="middle" transform="rotate(-90 1087.3 1786.7)">Balcony</text>
<text x="1100.7" y="1790.6" font-size="11.2" text-anchor="middle" class="i" letter-spacing="0.45" transform="rotate(-90 1100.7 1786.7)">8'0&quot;x4'0&quot;</text>
<text x="1116.7" y="1793.5" font-size="11.6" text-anchor="middle" textLength="10.0" lengthAdjust="spacingAndGlyphs">FW</text>
<text x="1161.3" y="1747.6" font-size="6.5" text-anchor="middle">Fridge</text>
<text x="1209.3" y="1874.7" font-size="15.3" text-anchor="middle">Dining</text>
<text x="1209.3" y="1889.6" font-size="11.2" text-anchor="middle" class="i" letter-spacing="0.45">11'5&quot;x12'6&quot;</text>
<text x="1140.7" y="1887.8" font-size="9.7" text-anchor="middle" textLength="8.4" lengthAdjust="spacingAndGlyphs">D1</text>
<text x="1140.7" y="1930.8" font-size="9.7" text-anchor="middle" textLength="8.4" lengthAdjust="spacingAndGlyphs">D2</text>
<text x="1178.3" y="1937.7" font-size="15.3" text-anchor="middle">M-Toilet</text>
<text x="1178.3" y="1955.6" font-size="11.2" text-anchor="middle" class="i" letter-spacing="0.45">5'-4.5&quot;x5'-10&quot;</text>
<text x="1251.7" y="1918.7" font-size="15.3" text-anchor="middle">C-Toilet</text>
<text x="1251.7" y="1926.6" font-size="11.2" text-anchor="middle" class="i" letter-spacing="0.45">5'-0&quot;x5'-10&quot;</text>
<text x="1265.7" y="1901.2" font-size="9.7" text-anchor="middle" textLength="8.4" lengthAdjust="spacingAndGlyphs">D2</text>
<text x="1193.3" y="2007.3" font-size="8.3" text-anchor="middle" textLength="4.6" lengthAdjust="spacingAndGlyphs">V</text>
<text x="1249.3" y="2007.3" font-size="8.3" text-anchor="middle" textLength="4.6" lengthAdjust="spacingAndGlyphs">V</text>
<text x="1291.7" y="1871.8" font-size="9.7" text-anchor="middle" textLength="8.4" lengthAdjust="spacingAndGlyphs">D1</text>
<text x="1361.7" y="1910.4" font-size="15.3" text-anchor="middle">Bed Room-2</text>
<text x="1361.7" y="1922.9" font-size="11.2" text-anchor="middle" class="i" letter-spacing="0.45">8'-7&quot;x11'-6&quot;</text>
<text x="1340.0" y="2013.6" font-size="12.4" text-anchor="middle">W1</text>
<text x="1351.7" y="1646.4" font-size="15.3" text-anchor="middle">Living</text>
<text x="1351.7" y="1660.6" font-size="11.2" text-anchor="middle" class="i" letter-spacing="0.45">15'6&quot;x10'4&quot;</text>
<text x="1498.3" y="1621.1" font-size="15.3" text-anchor="middle">Foyer</text>
<text x="1498.3" y="1634.6" font-size="11.2" text-anchor="middle" class="i" letter-spacing="0.45">5'-8&quot;x5'-0&quot;</text>
<text x="1530.0" y="1644.5" font-size="10.6" text-anchor="middle" textLength="9.1" lengthAdjust="spacingAndGlyphs">MD</text>
<text x="1365.7" y="1685.0" font-size="12.4" text-anchor="middle">W1</text>
<text x="1374.3" y="1750.1" font-size="14.5" text-anchor="middle">OTS</text>
<text x="1336.0" y="1754.6" font-size="11.2" text-anchor="middle" class="i" letter-spacing="0.45" transform="rotate(-90 1336.0 1750.7)">10'10.5&quot;</text>
<text x="1367.3" y="1818.2" font-size="11.2" text-anchor="middle" class="i" letter-spacing="0.45">5'-0&quot;</text>
<text x="1400.7" y="1809.9" font-size="7.2" text-anchor="middle" textLength="4.0" lengthAdjust="spacingAndGlyphs">V</text>
<text x="1395.0" y="1729.3" font-size="12.4" text-anchor="middle">KW</text>
<text x="1434.3" y="1733.7" font-size="15.3" text-anchor="middle" transform="rotate(-90 1434.3 1728.3)">Service</text>
<text x="1448.3" y="1732.2" font-size="11.2" text-anchor="middle" class="i" letter-spacing="0.45" transform="rotate(-90 1448.3 1728.3)">6'-11&quot;x3'-3&quot;</text>
<text x="1518.3" y="1729.4" font-size="15.3" text-anchor="middle">Kitchen</text>
<text x="1518.3" y="1741.6" font-size="11.2" text-anchor="middle" class="i" letter-spacing="0.45">8'-10.5&quot;x7'-0&quot;</text>
<text x="1478.3" y="1766.5" font-size="12.0" text-anchor="middle" class="i" letter-spacing="0.45">shelf</text>
<text x="1454.3" y="1822.7" font-size="15.3" text-anchor="middle">M-Toilet</text>
<text x="1454.3" y="1834.6" font-size="11.2" text-anchor="middle" class="i" letter-spacing="0.45">8'-0&quot;x5'-0&quot;</text>
<text x="1503.3" y="1844.2" font-size="9.7" text-anchor="middle" textLength="8.4" lengthAdjust="spacingAndGlyphs">D2</text>
<text x="1553.3" y="1852.8" font-size="9.7" text-anchor="middle" textLength="8.4" lengthAdjust="spacingAndGlyphs">D1</text>
<text x="1504.0" y="1964.4" font-size="15.3" text-anchor="middle">M.Bed Room</text>
<text x="1504.0" y="1977.2" font-size="11.2" text-anchor="middle" class="i" letter-spacing="0.45">12'-1.5&quot;x10'-4.5&quot;</text>
<text x="1598.3" y="1671.4" font-size="8.8" text-anchor="middle" class="i" letter-spacing="0.45">D.B</text>
<text x="1697.3" y="1681.1" font-size="10.6" text-anchor="middle" textLength="9.1" lengthAdjust="spacingAndGlyphs">MD</text>
<text x="1697.3" y="1741.2" font-size="26.2" text-anchor="middle">14</text>
<text x="1697.3" y="1765.7" font-size="14.4" text-anchor="middle" class="i" letter-spacing="0.45">2B+2T</text>
<text x="1661.7" y="1807.6" font-size="18.9" text-anchor="middle">1066 sqft.</text>
<text x="1655.7" y="1837.1" font-size="15.3" text-anchor="middle">Living/Dining</text>
<text x="1655.7" y="1852.9" font-size="11.2" text-anchor="middle" class="i" letter-spacing="0.45">10'-0&quot;x21'-1&quot;</text>
<text x="1599.7" y="1859.3" font-size="6.5" text-anchor="middle" transform="rotate(-90 1599.7 1857.0)">Fridge</text>
<text x="1654.0" y="1998.1" font-size="15.3" text-anchor="middle">Balcony</text>
<text x="1654.0" y="2011.2" font-size="11.2" text-anchor="middle" class="i" letter-spacing="0.45">10'-0&quot;x4'-0&quot;</text>
<text x="1654.0" y="1984.2" font-size="11.6" text-anchor="middle" textLength="10.0" lengthAdjust="spacingAndGlyphs">FW</text>
<text x="1686.7" y="2042.8" font-size="10.1" text-anchor="middle" class="bi">1m height Railing</text>
<text x="1793.3" y="1746.4" font-size="15.3" text-anchor="middle">Study</text>
<text x="1793.3" y="1759.9" font-size="11.2" text-anchor="middle" class="i" letter-spacing="0.45">7'-10&quot;x7'-0&quot;</text>
<text x="1725.7" y="1750.2" font-size="9.7" text-anchor="middle" textLength="8.4" lengthAdjust="spacingAndGlyphs">D1</text>
<text x="1850.7" y="1727.2" font-size="11.2" text-anchor="middle" class="i" letter-spacing="0.45" transform="rotate(-90 1850.7 1723.3)">6'-8&quot;</text>
<text x="1800.0" y="1806.4" font-size="15.3" text-anchor="middle">C-Toilet</text>
<text x="1800.0" y="1818.2" font-size="11.2" text-anchor="middle" class="i" letter-spacing="0.45">8'-0&quot;x5'-0&quot;</text>
<text x="1760.7" y="1821.8" font-size="9.7" text-anchor="middle" textLength="8.4" lengthAdjust="spacingAndGlyphs">D2</text>
<text x="1725.0" y="1872.5" font-size="9.7" text-anchor="middle" textLength="8.4" lengthAdjust="spacingAndGlyphs">D1</text>
<text x="1809.0" y="1964.4" font-size="15.3" text-anchor="middle">Bed Room-2</text>
<text x="1809.0" y="1977.9" font-size="11.2" text-anchor="middle" class="i" letter-spacing="0.45">10'-6&quot;x10'-4.5&quot;</text>
<text x="1857.7" y="1758.3" font-size="7.2" text-anchor="middle" textLength="4.0" lengthAdjust="spacingAndGlyphs">V</text>
<text x="1901.0" y="1757.6" font-size="7.2" text-anchor="middle" textLength="4.0" lengthAdjust="spacingAndGlyphs">V</text>
<text x="1428.3" y="1237.1" font-size="15.3" text-anchor="middle">Service</text>
<text x="1428.3" y="1248.9" font-size="11.2" text-anchor="middle" class="i" letter-spacing="0.45">6'-10&quot;x3'-6&quot;</text>
<text x="1356.0" y="1335.3" font-size="12.4" text-anchor="middle">KW</text>
<text x="1438.3" y="1341.4" font-size="15.3" text-anchor="middle">Kitchen</text>
<text x="1438.3" y="1353.9" font-size="11.2" text-anchor="middle" class="i" letter-spacing="0.45">6'6&quot;x8'9&quot;</text>
<text x="1460.7" y="1300.9" font-size="12.0" text-anchor="middle" class="i" letter-spacing="0.45" transform="rotate(-90 1460.7 1296.7)">shelf</text>
<text x="1485.3" y="1290.0" font-size="6.5" text-anchor="middle" transform="rotate(-90 1485.3 1287.7)">Fridge</text>
<text x="1552.7" y="1404.4" font-size="15.3" text-anchor="middle">Living/Dining</text>
<text x="1552.7" y="1417.9" font-size="11.2" text-anchor="middle" class="i" letter-spacing="0.45">10'-0&quot;x23'-5&quot;</text>
<text x="1551.0" y="1457.9" font-size="26.2" text-anchor="middle">8</text>
<text x="1551.0" y="1482.0" font-size="14.4" text-anchor="middle" class="i" letter-spacing="0.45">3B+2T</text>
<text x="1553.3" y="1513.3" font-size="18.9" text-anchor="middle">1109 sqft.</text>
<text x="1519.0" y="1592.1" font-size="8.8" text-anchor="middle" class="i" letter-spacing="0.45">D.B</text>
<text x="1542.3" y="1587.4" font-size="8.8" text-anchor="middle" class="i" letter-spacing="0.45">D.B</text>
<text x="1578.3" y="1590.5" font-size="10.6" text-anchor="middle" textLength="9.1" lengthAdjust="spacingAndGlyphs">MD</text>
<text x="1663.3" y="1394.2" font-size="9.7" text-anchor="middle" textLength="8.4" lengthAdjust="spacingAndGlyphs">D2</text>
<text x="1697.7" y="1401.4" font-size="15.3" text-anchor="middle">C-Toilet</text>
<text x="1697.7" y="1415.6" font-size="11.2" text-anchor="middle" class="i" letter-spacing="0.45">7'-1&quot;x5'-0&quot;</text>
<text x="1778.3" y="1411.3" font-size="8.3" text-anchor="middle" textLength="4.6" lengthAdjust="spacingAndGlyphs">V</text>
<text x="1630.7" y="1444.5" font-size="9.7" text-anchor="middle" textLength="8.4" lengthAdjust="spacingAndGlyphs">D1</text>
<text x="1695.0" y="1477.7" font-size="15.3" text-anchor="middle">M.Bed Room</text>
<text x="1695.0" y="1489.9" font-size="11.2" text-anchor="middle" class="i" letter-spacing="0.45">11'-0&quot;x10'-10&quot;</text>
<text x="1781.7" y="1487.0" font-size="12.4" text-anchor="middle">W1</text>
<text x="1781.7" y="1329.3" font-size="12.4" text-anchor="middle">W1</text>
<text x="1861.0" y="1490.3" font-size="12.4" text-anchor="middle">W1</text>
<text x="1826.0" y="1421.8" font-size="14.5" text-anchor="middle">Ots</text>
<text x="1859.3" y="1419.3" font-size="12.4" text-anchor="middle">KW</text>
<text x="1779.0" y="1393.9" font-size="11.2" text-anchor="middle" class="i" letter-spacing="0.45" transform="rotate(-90 1779.0 1390.0)">21'0&quot;</text>
<text x="1806.7" y="1508.9" font-size="11.2" text-anchor="middle" class="i" letter-spacing="0.45">7'9&quot;</text>
<text x="1823.3" y="1506.3" font-size="8.3" text-anchor="middle" textLength="4.6" lengthAdjust="spacingAndGlyphs">V</text>
<text x="1827.7" y="1563.7" font-size="15.3" text-anchor="middle">M-Toilet</text>
<text x="1827.7" y="1575.6" font-size="11.2" text-anchor="middle" class="i" letter-spacing="0.45">8'-1&quot;x5'-0&quot;</text>
<text x="1961.0" y="1424.4" font-size="15.3" text-anchor="middle">Kitchen</text>
<text x="1961.0" y="1438.9" font-size="11.2" text-anchor="middle" class="i" letter-spacing="0.45">11'-4&quot;x5'-5&quot;</text>
<text x="1951.7" y="1484.4" font-size="15.3" text-anchor="middle">Bed Room</text>
<text x="1951.7" y="1497.2" font-size="11.2" text-anchor="middle" class="i" letter-spacing="0.45">11'-4&quot;x9'-9&quot;</text>
<text x="1290.0" y="1432.0" font-size="12.4" text-anchor="middle">W1</text>
<text x="1382.7" y="1408.7" font-size="15.3" text-anchor="middle">Bed Room-3</text>
<text x="1382.7" y="1422.2" font-size="11.2" text-anchor="middle" class="i" letter-spacing="0.45">11'-8&quot;x9'-0&quot;</text>
<text x="1465.7" y="1422.8" font-size="9.7" text-anchor="middle" textLength="8.4" lengthAdjust="spacingAndGlyphs">D1</text>
<text x="1231.7" y="1564.3" font-size="12.4" text-anchor="middle">W1</text>
<text x="1430.0" y="1564.5" font-size="26.2" text-anchor="middle">15</text>
<text x="1429.7" y="1589.3" font-size="14.4" text-anchor="middle" class="i" letter-spacing="0.45">2B+2T</text>
<text x="1357.7" y="1583.3" font-size="18.9" text-anchor="middle">1046 sqft.</text>
<text x="1185.0" y="1603.1" font-size="15.3" text-anchor="middle">Service</text>
<text x="1185.0" y="1613.6" font-size="11.2" text-anchor="middle" class="i" letter-spacing="0.45">8'-5&quot;x4'-0&quot;</text>
<text x="1016.0" y="1807.5" font-size="10.1" text-anchor="middle" class="bi">1m height Railing</text>
<text x="1010.0" y="1929.3" font-size="12.4" text-anchor="middle" transform="rotate(-90 1010.0 1925.0)">W1</text>
<text x="1093.3" y="1969.7" font-size="15.3" text-anchor="middle">M.Bed Room</text>
<text x="1093.3" y="1983.2" font-size="11.2" text-anchor="middle" class="i" letter-spacing="0.45">8'-4&quot;x10'-0&quot;</text>
<text x="2055.0" y="1392.3" font-size="6.5" text-anchor="middle">Fridge</text>
<text x="2119.3" y="1492.8" font-size="14.5" text-anchor="middle">Living / dining</text>
<text x="2119.3" y="1503.9" font-size="11.2" text-anchor="middle" class="i" letter-spacing="0.45">12'-6&quot;x15'-7&quot;</text>
<text x="2183.3" y="1511.9" font-size="26.2" text-anchor="middle">9</text>
<text x="2183.3" y="1536.7" font-size="14.4" text-anchor="middle" class="i" letter-spacing="0.45">1B+1T</text>
<text x="2116.0" y="1543.9" font-size="18.9" text-anchor="middle">573 sqft.</text>
<text x="2185.0" y="1589.8" font-size="10.6" text-anchor="middle" textLength="9.1" lengthAdjust="spacingAndGlyphs">MD</text>
<text x="2285.0" y="1445.6" font-size="11.2" text-anchor="middle" class="i" letter-spacing="0.45" transform="rotate(-90 2285.0 1441.7)">9'7.5&quot;</text>
<text x="2231.7" y="1485.0" font-size="12.4" text-anchor="middle">W1</text>
<text x="2227.7" y="1507.2" font-size="11.2" text-anchor="middle" class="i" letter-spacing="0.45" transform="rotate(-90 2227.7 1503.3)">15'7&quot;</text>
<text x="2333.3" y="1544.4" font-size="14.5" text-anchor="middle">Ots</text>
<text x="2404.0" y="1538.2" font-size="11.2" text-anchor="middle" class="i" letter-spacing="0.45" transform="rotate(-90 2404.0 1534.3)">5'11&quot;</text>
<text x="2399.3" y="1561.6" font-size="12.4" text-anchor="middle">W1</text>
<text x="2299.3" y="1584.6" font-size="11.2" text-anchor="middle" class="i" letter-spacing="0.45">14'-1&quot;</text>
<text x="2216.7" y="1574.1" font-size="8.8" text-anchor="middle" class="i" letter-spacing="0.45" transform="rotate(-90 2216.7 1571.0)">D.B</text>
<text x="2791.7" y="1586.5" font-size="10.6" text-anchor="middle" textLength="9.1" lengthAdjust="spacingAndGlyphs">MD</text>
<text x="2642.3" y="1569.3" font-size="18.9" text-anchor="middle">923 sqft.</text>
<text x="2944.3" y="1525.1" font-size="14.5" text-anchor="middle">Ots</text>
<text x="2990.0" y="1532.2" font-size="11.2" text-anchor="middle" class="i" letter-spacing="0.45" transform="rotate(-90 2990.0 1528.3)">9'-9&quot;</text>
<text x="2937.3" y="1583.9" font-size="11.2" text-anchor="middle" class="i" letter-spacing="0.45">9'2&quot;</text>
<text x="3048.3" y="1588.5" font-size="9.7" text-anchor="middle" textLength="8.4" lengthAdjust="spacingAndGlyphs">D3</text>
<text x="3320.0" y="1586.2" font-size="11.2" text-anchor="middle" class="i" letter-spacing="0.45">6'4&quot;</text>
<text x="3674.0" y="1559.3" font-size="7.2" text-anchor="middle" textLength="4.0" lengthAdjust="spacingAndGlyphs">V</text></g>
</svg></body></html>
